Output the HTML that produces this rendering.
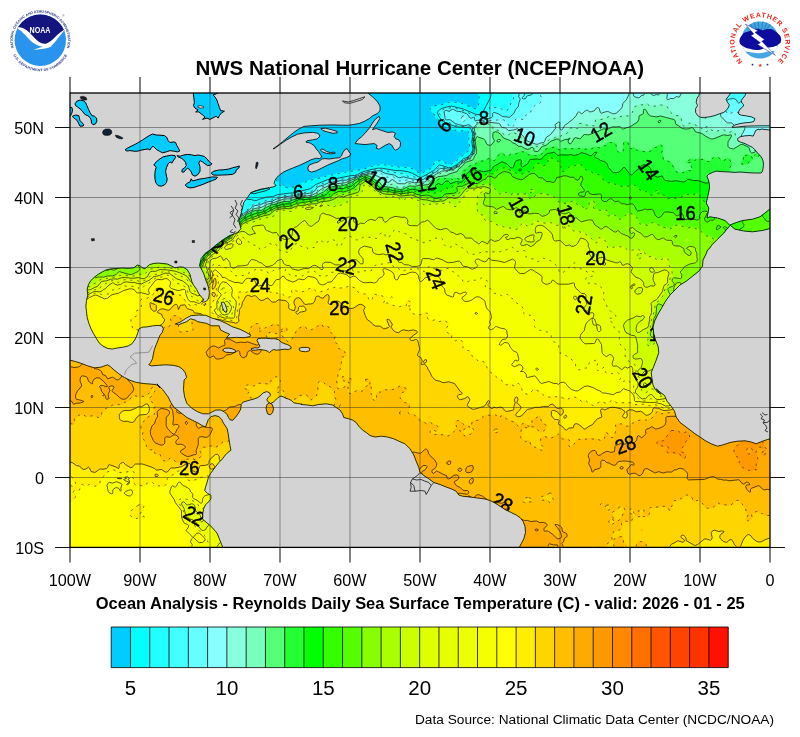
<!DOCTYPE html>
<html lang="en"><head><meta charset="utf-8"><title>NWS National Hurricane Center - Reynolds SST Analysis</title>
<style>html,body{margin:0;padding:0;background:#fff}body{width:800px;height:737px;overflow:hidden}svg{display:block}text{font-family:"Liberation Sans",sans-serif}</style>
</head><body>
<svg width="800" height="737" viewBox="0 0 800 737">
<rect width="800" height="737" fill="#fff"/>
<defs><clipPath id="mapclip"><rect x="70" y="93" width="700" height="454"/></clipPath></defs>
<g clip-path="url(#mapclip)">
<rect x="70" y="93" width="700" height="454" fill="#d3d3d3"/>
<defs><clipPath id="ocean"><path d="M743.8 231L752.5 231.8L762.5 230.5L770 228.5L775 229.2L775 206.8L771.2 208L765 213L760 216.8L752.5 219.2L742.5 220.5L735 223L730 225L735 229.2ZM377.2 101.4L380 106.1L380 110.8L377.2 113.6L372.5 115.9L369.7 118.3L365 121.1L359.4 123.4L353.8 124.5L348.1 125.2L342.5 125.2L331.2 124.9L320 125.2L310.6 125.8L304.1 126.4L299.4 128.6L293.8 132.4L288.1 137.1L282.5 141.8L277.8 145.5L273.1 148.9L275.4 147.8L280.6 144L286.2 140.2L291.9 136.9L297.5 134.2L305 132.8L312.5 132.4L318.1 133.3L320 136.1L317.2 138.9L312.5 139.9L306.9 140.8L305.9 142.1L310.6 143.2L314.4 145.9L316.2 148.9L318.5 151.5L320.4 154.5L321.9 156.8L319.6 158.6L316.2 158.2L310.6 159.9L305 162.8L299.4 165.4L293.8 167.6L288.1 169.9L283.4 172.1L279.7 174.8L276.9 177.4L275 180.4L274.1 183.4L276.1 185.6L273.5 186.8L269.4 187.7L264.1 188.6L260 189.4L260 189.5L251 192.5L247.5 197.5L243.8 202.5L241 213.8L238.8 221L241 228.8L237.5 232.5L228.8 236L222.5 240L216 245L210 250L205 253.5L201.2 258.5L199.5 265.5L201.9 270L203.8 273.8L205 277.5L206.2 281.2L207.8 285L208.8 288.8L209.4 292.5L209 296.2L208.1 299.4L206.2 301.2L203.8 302.2L201.9 301.5L204.1 299.7L201.2 296.9L198.4 293.1L196.6 289.4L193.8 285.6L191.9 281.9L190.9 278.1L190 274.4L187.2 269.7L183.4 267.2L179.7 266.9L175 267.8L171.2 265.9L167.5 264.1L162.8 263.5L158.1 263.1L153.4 263.5L149.7 264.6L146.9 266.9L145 268.8L142.2 267.8L140.3 265.9L137.5 265L133.8 267.8L128.1 268.4L122.5 268L116.9 268.4L111.2 268.8L106.6 269.7L102.8 271.6L98.1 274.4L94.4 277.2L90.6 280.9L88.4 284.7L87.2 289.4L87.8 295L86.5 300.6L85.9 306.2L86.5 311.9L87.2 317.5L88.8 323.1L91 328.8L93.4 333.4L96.2 338.1L99.1 342.8L102.8 346L107.5 348.4L112.2 349L117.8 347.9L123.4 347.1L128.1 346L131.9 343.8L134.7 340L136.6 336.2L137.9 332.5L139 328.8L142.2 327.2L146.9 326.9L152.5 325.9L158.1 325.4L161.9 325.9L163.4 328.8L162.2 332.5L160 335.3L158.1 340L156.2 344.7L154.4 349.4L153.4 354.1L152.5 358.8L150.6 362.5L148.8 364.8L151.6 365.9L158.1 365.3L165.6 364.8L173.1 365.3L178.8 366.6L182.5 369.1L185.3 372.8L186.6 377.5L184.1 380L183.5 389.4L184.6 396.9L186.9 403.4L191.6 408.1L197.2 411.5L202.8 413.8L208.4 413.8L212.2 411.9L215.9 410L220.6 410L224.4 411.9L227.2 414.7L228.5 417.5L230 419.8L232.8 420.3L235.6 417.1L238.4 413.4L240.7 409.1L241.2 404.4L243.1 402.1L249.5 400.2L254 399L257.8 397.5L260 396L263 393L266.8 391.5L269.8 393L270.5 395.2L268.2 397.5L266.8 399.8L268.2 402L270.5 403.5L273.5 402L275.8 399.8L278 397.5L281 396L283.2 396.8L285.5 398.2L288.5 399L291.5 400.5L293.8 402.8L297.5 403.5L302 404.2L301.2 404.5L307.5 405L312.5 405.8L318.8 404.5L326.2 403.8L332.5 405L336.2 407.5L340 410L342.5 413.8L343.8 417.5L348.8 418.8L352.5 420L356.2 422.5L358.8 426.2L362.5 430L366.2 432.5L370 435.5L375 437L381.2 436.2L387.5 437L393.8 438.8L398.8 441.2L405 443.8L410 448.8L413.8 455L416.2 461.2L418.8 467.5L420 472.5L423.8 475.5L428.8 478.8L433.8 482.5L440 484.5L446.2 487L451.2 488.8L456.2 491.2L458.8 495L462.5 496.2L470 497L477.5 498L485 499L490 500.5L495 503L500 506.2L505 509.5L511.2 512.5L516.2 515L520 517.5L523 521.2L525 526.2L525.5 532.5L523.8 538.8L521.2 543.8L519.5 547L519 550L519 567L790 567L775 437.5L767.5 439.5L762.5 441.2L756.2 443.8L751.2 442L745 440.8L737.5 441.2L730 442.5L722.5 445L717.5 446.2L711.2 443.8L705 440.5L700 437L695 433.8L690 430L685 426.2L680 422.5L676.2 417L674.5 411.2L671.2 406.2L667 401.2L664.5 395.5L661.2 393L656.2 388.8L660.8 394.3L660 393.8L655.5 390L653 385L652 378.8L651.2 372.5L653.8 366.2L656.2 360L658.8 352.5L658 346.2L655.5 340L653.8 333.8L653 327.5L654.5 321.2L657.5 315L661.2 308.8L665.5 301.2L670 295L675 290L680 285L686.2 281.2L692.5 276.2L698.8 271.2L702.5 266.2L703 260L706.2 253.8L707.5 250L708.8 249.2L712.5 244.2L717.5 239.2L723.8 233L726.2 230L730 225.5L728.8 224.2L725 220.5L717.5 218L710 216.8L707 218L708 213L708.8 208L706.2 203L708 195.5L709.5 188L709.4 185L709 182.4L708.1 179.2L706.9 176.1L708.8 174.2L712.5 172.4L716.2 171.1L720 171.5L725 171.8L730 172L735 172.4L740 172L745 172.4L750 172.8L755 173L761.2 173L762.5 171.1L763.1 168L763.5 164.2L763.1 161.1L761.9 158L760 155.5L757.5 153L755 149.9L752.5 147.4L748.8 145.5L745 143.6L741.2 142.4L738.1 141.1L737.5 138.6L740 136.8L745 135.8L750 135.5L753.1 136.1L754.4 133.6L755.6 130.5L758.1 129.2L760 129.9L761.2 129L765 129.5L770 130L792.5 130L792.3 125.8L770 125.8L755 125.9L745 126.2L738.8 126.9L732.5 127.5L731.9 127L735 124.9L740 123.6L745 122.8L750 122.4L753.8 121.5L755 118.6L751.2 116.8L746.2 115.9L741.2 115.2L738.8 114.2L738.5 111.8L740 109.2L742.5 107L743.8 104.9L741.9 103L741.2 100.5L743.1 98L745 95.5L746.9 90.5L790.8 90.5L790 73L367.8 73L367.8 92.1L367.8 93L372.5 96.8ZM326.6 153.4L322.8 152.1L320.4 150.2L321.5 148.9L323.8 149.6L326.6 151.5L330.3 152.6L334.1 152.1L335.4 153L331.2 153.9ZM224 311.2L222.5 307.5L221.2 302.5L223.8 302L225.5 305L227 309.5L226.2 312.5ZM182 323.4L178.5 324.8L175.3 323.9L179.9 322.3L186.2 318.1L191.1 315.6L198.8 315L205.8 315.3L212.1 318.1L219.1 320.2L226.8 323.7L231.7 326.5L240.1 329.3L245.7 332.1L250.9 335.2L249.9 336.6L244.3 337.7L236.6 337.4L226.1 338L229.6 334.2L224.7 332.1L220.5 330L219.1 325.8L211.4 325.8L206.5 323.4L197.4 321.6L195.3 320.2L190.4 318.8L186.9 321.6ZM260 349.5L255.5 350.2L251.8 350.2L251 348.8L254.8 347.7L257.8 348L260 346.5L258.5 343.5L257 340.5L257.8 338.7L261.5 338.2L266 338.2L270.5 338.7L275 338.7L278.8 339.8L281 342L284 343.5L287.8 344.7L290.8 346.5L291.2 348.3L288.5 349.5L284 349.2L280.2 349.8L276.5 350.2L273.5 349.5L271.2 351L269.3 352.8L267.5 351L264.5 350.2ZM305.8 351.8L301.2 351.3L299.3 350.2L299.3 348.3L302 347.4L307.2 347.4L309.8 348.3L309.5 350.7ZM229.2 352.5L225.5 352.2L222.5 350.2L224.8 348.3L228.5 348L232.2 348.8L235.2 350.2L235.7 351.8L233 352.8ZM696.2 102.4L696.9 98.6L698.8 95.5L700.6 90.5L730.6 90.5L730 94.2L728.1 96.8L726.2 99.2L727.5 102.4L729.4 104.9L728.1 108L726.2 110.5L723.8 112.4L720 113.6L715 115.5L710 116.8L705 117.4L700.6 117.4L697.5 115.5L695.6 112.4L695.6 108.6L697.5 105.5ZM327.5 132L322.8 130.5L320.9 128.6L325.6 128.2L331.2 129.6L336.9 131.4L337.2 132.9L333.1 133.3ZM369.7 144L365 144.6L359.4 144L355.2 143.6L357.5 139.9L361.2 137.1L365 133.3L369.7 127.7L372.5 123L375.3 119.2L379.1 116.4L380 118.3L377.2 123L374.4 126.8L372.5 129.6L376.2 128.6L381.9 130.5L387.5 132.4L393.1 132L395.4 133.3L394.1 136.5L395.9 138.9L398.8 139.9L400.6 142.7L400.2 146.4L397.8 149.2L395.4 150.2L393.5 148.3L392.2 145.5L389.4 143.6L385.6 145.1L381.9 147.4L379.1 149.2L376.2 148.3L377.2 145.5L374.4 143.6ZM316.2 170.8L311.6 172.1L308.4 170.8L307.8 168L309.1 165.2L313.4 163.3L318.1 162L321.9 159L324.7 158.6L329.4 159L335 158.1L339.7 157.7L341.6 155.8L342.5 153L345.3 149.2L347.2 148.7L349.1 152.1L350.9 153.9L350 155.8L346.2 157.7L342.5 158.6L338.8 160.5L333.1 162.8L327.5 165.2L321.9 168ZM224 551.2L222.6 547L219.8 540L217 533L210.7 526L202.3 519L202.8 518L202.8 513.1L203.8 508.4L205.6 504.7L208.4 501.9L210.9 499.1L210.9 495.3L207.5 493.4L204.7 490.6L205.6 486.9L207.1 482.2L208.4 477.5L210.3 473.8L213.1 470L215.9 466.2L218.8 462.5L222.5 458.8L225.3 455L228.1 452.2L230.9 450.3L230 445.6L229.1 440L228.1 433.4L227.2 428.8L225.3 425.9L223.4 423.1L221.6 419.4L218.8 416.6L215 415.6L211.2 416.6L208.4 419.4L206.6 424.1L205.6 426.9L202.8 425.9L198.1 423.1L192.5 420.3L186.9 417.5L182.2 413.8L177.5 410L173.8 407.2L170.9 402.5L168.1 396.9L162.5 389.4L156.9 383.8L160 388L158.1 385.9L156.2 384.6L150.6 384.1L143.1 383.5L135.6 382.2L130 380.3L124.4 377.5L118.8 373.8L114.1 370L110.3 366.6L107.5 364.8L100.9 367.2L94.4 367.8L87.8 365.9L81.2 363.4L75.6 361.6L70 360.2L69.1 360.1L50 360.1L50 567L224 567Z" clip-rule="evenodd"/></clipPath></defs>
<g clip-path="url(#ocean)">
<rect x="68" y="91" width="704" height="458" fill="#00CCFF"/>
<path d="M69.9 546.5L70.5 547.1L223.7 547.1L217.8 532.4L211.3 525.2L203.6 518.7L203.8 513.2L204.7 508.8L206.4 505.3L211.9 499.2L211.7 494.8L208.1 492.6L205.8 490.3L209.4 477.9L211.2 474.3L219.5 463.2L223.2 459.5L226.1 455.7L231.9 450.5L228.1 428.5L224.3 422.6L222.3 418.7L219 415.6L215 414.6L210.9 415.6L207.6 418.8L205 425.6L203.2 425L198.6 422.2L187.4 416.7L174.5 406.5L168.9 396.3L163.3 388.8L157.3 382.9L156.5 382.8L155.9 383.6L143.2 382.5L135.9 381.2L130.4 379.4L124.9 376.6L119.3 372.9L111 365.9L107.8 363.8L100.7 366.2L94.5 366.7L88.1 364.9L75.9 360.6L69.9 359.2ZM769.5 547.1L770.1 546.5L770.1 437.8L762.2 440.3L756.2 442.7L751.4 441L744.9 439.8L737.3 440.3L729.8 441.5L717.6 445.2L711.7 442.8L705.5 439.6L695.6 432.9L680.7 421.8L677.2 416.6L675.4 410.8L672 405.6L667.9 400.7L665.3 394.9L656.8 387.9L655.6 388L654 384.7L652.3 372.6L657.2 360.4L659.7 352.6L659 346L656.4 339.7L654.7 333.6L654 327.6L655.4 321.6L658.4 315.5L666.3 301.8L670.8 295.6L680.6 285.8L686.9 282L699.5 271.9L703.4 266.6L704 260.3L707.2 254.1L708.3 250.7L709.5 249.9L713.3 244.9L724.5 233.7L730.4 226.6L734.7 230.2L743.6 232L752.4 232.7L762.6 231.5L770.1 229.5L770.1 207.6L759.5 215.9L752.3 218.3L742.3 219.5L729.9 224L725.3 219.6L717.7 217L710.1 215.8L708.3 216.4L709.7 207.9L707.3 202.9L710.5 188.1L710 182.2L708 176.4L709.3 175.1L712.9 173.3L716.4 172.1L734.9 173.4L740 173L755 174L761.2 174L762 173.6L763.5 171.4L764.5 164.3L764.1 161L762.8 157.5L760.8 154.9L753 146.5L745.4 142.7L739 140.4L738.6 139L740.4 137.7L745.1 136.7L749.9 136.5L753.5 137L756.4 131.2L758.2 130.3L760.1 130.9L761.5 130L770.1 131L770.1 124.8L745 125.3L734.7 126.3L740.2 124.6L750.2 123.4L754.1 122.4L754.6 122L756 118.9L755.6 117.8L751.6 115.8L741.5 114.3L739.7 113.5L739.5 112L740.8 109.9L743.2 107.7L744.7 105.2L744.6 104.3L742.8 102.5L742.3 100.7L745.9 96L747 92.9L729.2 92.9L729.1 93.8L725.3 99L726.6 102.8L728.2 105L727.2 107.5L725.5 109.8L723.3 111.5L714.7 114.5L709.8 115.8L704.9 116.4L700.9 116.4L698.2 114.8L696.6 112.1L696.6 108.9L698.5 105.6L697.3 102.3L697.8 99L699.7 95.9L700.8 92.9L478.6 92.9L478 93.5L478.6 97.6L478.2 103.4L477 107.6L476.4 108.1L474.2 107.9L463.6 103.2L452.5 101.4L449.4 101.6L440.4 104.4L433.3 105.4L430.5 107.1L429.7 108.4L430 109.7L432 112.2L435.4 117.9L442.1 124.7L447.3 127.7L456.3 131.4L458.5 131.7L465.5 131.1L467.9 132.1L468.6 135.5L468.1 138.5L468.1 142.5L468.9 146L469 148.5L468 150.5L466.6 152L462.1 155.2L454 162L450.7 163.9L448.4 163.9L441.6 160.1L438.5 160L436.3 160.6L434.2 162.2L433.5 163.3L432.7 166.1L431.9 167L421.4 173L420 172.9L412.8 168.3L409.7 167.1L396.6 166.3L381.4 163.7L370.3 166.3L362 168.9L342.4 172.1L326.3 175.5L307.3 180.6L292.3 186.9L290.4 187.3L286.7 186.9L279.8 184.6L279.1 184.1L277.5 180.2L275.4 177.8L274.1 180L273.1 183.3L274.4 185.3L269.2 186.7L259.7 188.4L250.5 191.6L242.8 202.3L240 213.5L237.8 220.9L239.9 228.5L236.9 231.7L228.3 235.1L221.9 239.2L209.4 249.2L204.3 252.7L200.3 258.2L198.5 265.8L202.8 274.1L206.8 285.3L208.4 292.5L208 296.1L207.2 298.9L205.7 300.4L203.9 301.1L204.9 300.2L204.9 299.2L202 296.2L199.3 292.6L197.4 288.8L194.6 285.1L192.8 281.5L190.9 273.9L187.9 269L183.6 266.3L179.6 265.9L175.1 266.8L167.6 263.1L158.1 262.1L153.3 262.5L149.1 263.8L144.7 267.6L142.7 266.9L140.7 265L137.4 264L133.4 266.8L128.1 267.4L122.4 267L111.2 267.8L106.3 268.7L97.6 273.5L93.8 276.4L89.8 280.3L87.4 284.4L86.3 289.3L86.8 294.9L85.5 300.5L84.9 306.2L86.3 317.8L87.8 323.5L90.1 329.1L92.6 333.9L98.3 343.4L102.4 346.9L107.2 349.4L112.2 350L123.7 348.1L128.5 346.9L132.5 344.5L135.5 340.5L137.5 336.6L139.8 329.5L142.4 328.2L152.6 326.9L158.1 326.4L161.2 326.9L162.3 328.9L161.3 332L159.1 334.9L153.4 349.1L151.5 358.4L149.8 361.9L147.9 364.3L147.8 365.1L148.3 365.6L151.6 366.9L165.6 365.8L173 366.3L178.4 367.6L181.8 369.8L184.4 373.3L185.5 377.2L183.1 379.9L182.5 389.4L183.7 397.1L186 403.9L191 409L196.7 412.4L202.7 414.7L208.6 414.7L216.2 411L220.4 411L223.8 412.7L226.4 415.3L229.4 420.5L233 421.3L236.4 417.8L239.3 413.9L241.6 409.4L242.2 404.8L243.7 403L254.3 400L258.1 398.4L260.6 396.8L263.6 393.9L266.7 392.6L268.9 393.7L269.4 395L267.4 396.9L265.9 399.3L265.8 400L267.5 402.7L270.3 404.5L274 402.8L278.6 398.3L281.1 397.1L282.8 397.7L285.1 399.2L288.2 399.9L290.9 401.3L293.4 403.7L300.4 405L301.1 405.5L312.5 406.7L318.9 405.5L326.2 404.8L332.1 405.9L339.3 410.7L341.6 414.2L343.1 418.3L352.1 420.9L355.5 423.2L358 426.9L361.8 430.7L369.5 436.4L374.9 438L381.2 437.3L387.3 438L393.4 439.7L404.4 444.6L409.2 449.4L412.9 455.4L417.8 467.8L419.2 473.1L423.1 476.3L433.2 483.4L450.9 489.7L455.6 492L458.2 495.8L462.2 497.2L484.8 500L489.6 501.4L494.5 503.9L504.5 510.3L515.7 515.9L519.3 518.2L522.1 521.8L524 526.5L524.5 532.4L522.8 538.4L518.5 547.1ZM301.5 350.3L300.3 349.7L300.3 349L302.2 348.4L307.1 348.4L308.7 349L308.6 349.9L305.7 350.7ZM254.8 348.7L257.2 349L252.9 349.2ZM260.6 347.3L261 346.2L258.1 340.5L258.4 339.6L266 339.2L274.9 339.7L278.2 340.6L280.5 342.8L283.6 344.4L287.3 345.6L289.9 347.1L290 347.7L288.3 348.5L284 348.2L276.6 349.2L273.3 348.5L269.3 351.4L267.9 350.1L264.7 349.3L260.1 348.5L258.4 348.7ZM186.7 319L191.4 316.6L198.8 316L205.6 316.3L211.8 319.1L218.7 321.1L226.3 324.6L231.3 327.4L239.7 330.2L249.5 335.5L244.2 336.7L236.5 336.4L228.5 336.9L230.5 334.7L230.4 333.6L221.3 329.3L220 325.4L219.5 324.9L211.6 324.8L206.8 322.4L197.8 320.7L195.7 319.3L190.5 317.8L186.4 320.7L181.4 322.5ZM224.2 350.1L225.2 349.3L228.4 349L231.9 349.7L234.5 351.2L232.9 351.8L225.8 351.2ZM223.5 307.2L222.5 303.3L223.2 303.1L224.6 305.4L226 309.5L225.6 311L224.8 310.5Z" fill="#00FFFF" fill-rule="evenodd"/>
<path d="M69.9 546.6L70.5 547.1L223.7 547.1L217.8 532.4L211.3 525.2L203.6 518.7L203.8 513.2L204.7 508.8L206.4 505.3L211.9 499.2L211.7 494.8L208.1 492.6L205.8 490.3L209.4 477.9L211.2 474.3L219.5 463.2L223.2 459.5L226.1 455.7L231.9 450.5L228.1 428.5L224.3 422.6L222.3 418.7L219 415.6L215 414.6L210.9 415.6L207.6 418.8L205 425.6L203.2 425L198.6 422.2L187.4 416.7L174.5 406.5L168.9 396.3L163.3 388.8L157.3 382.9L156.5 382.8L155.9 383.6L143.2 382.5L135.9 381.2L130.4 379.4L124.9 376.6L119.3 372.9L111 365.9L107.8 363.8L100.7 366.2L94.5 366.7L88.1 364.9L75.9 360.6L69.9 359.2ZM769.5 547.1L770.1 546.5L770.1 437.8L762.2 440.3L756.2 442.7L751.4 441L744.9 439.8L737.3 440.3L729.8 441.5L717.6 445.2L711.7 442.8L705.5 439.6L695.6 432.9L680.7 421.8L677.2 416.6L675.4 410.8L672 405.6L667.9 400.7L665.3 394.9L656.8 387.9L655.6 388L654 384.7L652.3 372.6L657.2 360.4L659.7 352.6L659 346L656.4 339.7L654.7 333.6L654 327.6L655.4 321.6L658.4 315.5L666.3 301.8L670.8 295.6L680.6 285.8L686.9 282L699.5 271.9L703.4 266.6L704 260.3L707.2 254.1L708.3 250.7L709.5 249.9L713.3 244.9L724.5 233.7L730.4 226.6L734.7 230.2L743.6 232L752.4 232.7L762.6 231.5L770.1 229.5L770.1 207.6L759.5 215.9L752.3 218.3L742.3 219.5L729.9 224L725.3 219.6L717.7 217L710.1 215.8L708.3 216.4L709.7 207.9L707.3 202.9L710.5 188.1L710 182.2L708 176.4L709.3 175.1L712.9 173.3L716.4 172.1L734.9 173.4L740 173L755 174L761.2 174L762 173.6L763.5 171.4L764.5 164.3L764.1 161L762.8 157.5L760.8 154.9L753 146.5L745.4 142.7L739 140.4L738.6 139L740.4 137.7L745.1 136.7L749.9 136.5L753.5 137L756.4 131.2L758.2 130.3L760.1 130.9L761.5 130L770.1 131L770.1 124.8L745 125.3L734.7 126.3L740.2 124.6L750.2 123.4L754.1 122.4L754.6 122L756 118.9L755.6 117.8L751.6 115.8L741.5 114.3L739.7 113.5L739.5 112L740.8 109.9L743.2 107.7L744.7 105.2L744.6 104.3L742.8 102.5L742.3 100.7L745.9 96L747 92.9L729.2 92.9L729.1 93.8L725.3 99L726.6 102.8L728.2 105L727.2 107.5L725.5 109.8L723.3 111.5L714.7 114.5L709.8 115.8L704.9 116.4L700.9 116.4L698.2 114.8L696.6 112.1L696.6 108.9L698.5 105.6L697.3 102.3L697.8 99L699.7 95.9L700.8 92.9L491 92.9L490.6 93.4L490 97.2L482.7 111.2L481.1 113L479.3 114L477.6 114L474.7 113.3L463.7 108.5L451.6 105.6L447.4 106.2L442.3 107.7L439.2 109.2L437.4 111.2L437.1 113.6L439 117.8L441.1 120.1L445.2 123.3L456.4 127.4L460.5 127.9L467.4 128L469.3 128.5L470.7 129.8L471.9 133.6L472 136.5L471.2 141.5L472.3 149.4L471 152.5L469.1 155L466.3 157L463.2 158.3L456.5 164L451.8 166.9L448.6 167.2L441.7 164.8L439.3 164.6L437.1 165.9L435.1 168.7L433.5 170L422.2 176.3L420.5 176.8L412.7 172.8L407.6 171L401.5 170.1L395.6 169.9L382.6 167.7L378.4 167.5L367.3 169.8L360.3 172.1L357.3 174L354.4 174.9L350.4 175.1L337.4 177.7L327.3 179.1L315.2 184.1L310.3 188.2L297.4 191.3L294.4 192.3L290.4 192.4L277.4 194.1L272.4 196L266.3 196.4L262.3 197.9L259.3 198.5L256.4 200L254.6 200L251.6 199L247.7 198.7L246.9 198.3L246.9 196.7L242.8 202.2L240 213.5L237.8 220.8L239.9 228.5L236.9 231.7L228.3 235.1L221.9 239.2L209.4 249.2L204.3 252.7L200.3 258.2L198.5 265.8L202.8 274.1L206.8 285.3L208.4 292.5L208 296.1L207.2 298.9L205.7 300.4L203.9 301.1L204.9 300.2L204.9 299.2L202 296.2L199.3 292.6L197.4 288.8L194.6 285.1L192.8 281.5L190.9 273.9L187.9 269L183.6 266.3L179.6 265.9L175.1 266.8L167.6 263.1L158.1 262.1L153.3 262.5L149.1 263.8L144.7 267.6L142.7 266.9L140.7 265L137.4 264L133.4 266.8L128.1 267.4L122.4 267L111.2 267.8L106.3 268.7L97.6 273.5L93.8 276.4L89.8 280.3L87.4 284.4L86.3 289.3L86.8 294.9L85.5 300.5L84.9 306.2L86.3 317.8L87.8 323.5L90.1 329.1L92.6 333.9L98.3 343.4L102.4 346.9L107.2 349.4L112.2 350L123.7 348.1L128.5 346.9L132.5 344.5L135.5 340.5L137.5 336.6L139.8 329.5L142.4 328.2L152.6 326.9L158.1 326.4L161.2 326.9L162.3 328.9L161.3 332L159.1 334.9L153.4 349.1L151.5 358.4L149.8 361.9L147.9 364.3L147.8 365.1L148.3 365.6L151.6 366.9L165.6 365.8L173 366.3L178.4 367.6L181.8 369.8L184.4 373.3L185.5 377.2L183.1 379.9L182.5 389.4L183.7 397.1L186 403.9L191 409L196.7 412.4L202.7 414.7L208.6 414.7L216.2 411L220.4 411L223.8 412.7L226.4 415.3L229.4 420.5L233 421.3L236.4 417.8L239.3 413.9L241.6 409.4L242.2 404.8L243.7 403L254.3 400L258.1 398.4L260.6 396.8L263.6 393.9L266.7 392.6L268.9 393.7L269.4 395L267.4 396.9L265.9 399.3L265.8 400L267.5 402.7L270.3 404.5L274 402.8L278.6 398.3L281.1 397.1L282.8 397.7L285.1 399.2L288.2 399.9L290.9 401.3L293.4 403.7L300.4 405L301.1 405.5L312.5 406.7L318.9 405.5L326.2 404.8L332.1 405.9L339.3 410.7L341.6 414.2L343.1 418.3L352.1 420.9L355.5 423.2L358 426.9L361.8 430.7L369.5 436.4L374.9 438L381.2 437.3L387.3 438L393.4 439.7L404.4 444.6L409.2 449.4L412.9 455.4L417.8 467.8L419.2 473.1L423.1 476.3L433.2 483.4L450.9 489.7L455.6 492L458.2 495.8L462.2 497.2L484.8 500L489.6 501.4L494.5 503.9L504.5 510.3L515.7 515.9L519.3 518.2L522.1 521.8L524 526.5L524.5 532.4L522.8 538.4L518.5 547.1ZM301.5 350.3L300.3 349.7L300.3 349L302.2 348.4L307.1 348.4L308.7 349L308.6 349.9L305.7 350.7ZM254.8 348.7L257.2 349L252.9 349.2ZM260.6 347.3L261 346.2L258.1 340.5L258.4 339.6L266 339.2L274.9 339.7L278.2 340.6L280.5 342.8L283.6 344.4L287.3 345.6L289.9 347.1L290 347.7L288.3 348.5L284 348.2L276.6 349.2L273.3 348.5L269.3 351.4L267.9 350.1L264.7 349.3L260.1 348.5L258.4 348.7ZM186.7 319L191.4 316.6L198.8 316L205.6 316.3L211.8 319.1L218.7 321.1L226.3 324.6L231.3 327.4L239.7 330.2L249.5 335.5L244.2 336.7L236.5 336.4L228.5 336.9L230.5 334.7L230.4 333.6L221.3 329.3L220 325.4L219.5 324.9L211.6 324.8L206.8 322.4L197.8 320.7L195.7 319.3L190.5 317.8L186.4 320.7L181.4 322.5ZM224.2 350.1L225.2 349.3L228.4 349L231.9 349.7L234.5 351.2L232.9 351.8L225.8 351.2ZM223.5 307.2L222.5 303.3L223.2 303.1L224.6 305.4L226 309.5L225.6 311L224.8 310.5Z" fill="#22FFFF" fill-rule="evenodd"/>
<path d="M69.9 546.5L70.5 547.1L223.7 547.1L217.8 532.4L211.3 525.2L203.6 518.7L203.8 513.2L204.7 508.8L206.4 505.3L211.9 499.2L211.7 494.8L208.1 492.6L205.8 490.3L209.4 477.9L211.2 474.3L219.5 463.2L223.2 459.5L226.1 455.7L231.9 450.5L228.1 428.5L224.3 422.6L222.3 418.7L219 415.6L215 414.6L210.9 415.6L207.6 418.8L205 425.6L203.2 425L198.6 422.2L187.4 416.7L174.5 406.5L168.9 396.3L163.3 388.8L157.3 382.9L156.5 382.8L155.9 383.6L143.2 382.5L135.9 381.2L130.4 379.4L124.9 376.6L119.3 372.9L111 365.9L107.8 363.8L100.7 366.2L94.5 366.7L88.1 364.9L75.9 360.6L69.9 359.2ZM769.5 547.1L770.1 546.5L770.1 437.8L762.2 440.3L756.2 442.7L751.4 441L744.9 439.8L737.3 440.3L729.8 441.5L717.6 445.2L711.7 442.8L705.5 439.6L695.6 432.9L680.7 421.8L677.2 416.6L675.4 410.8L672 405.6L667.9 400.7L665.3 394.9L656.8 387.9L655.6 388L654 384.7L652.3 372.6L657.2 360.4L659.7 352.6L659 346L656.4 339.7L654.7 333.6L654 327.6L655.4 321.6L658.4 315.5L666.3 301.8L670.8 295.6L680.6 285.8L686.9 282L699.5 271.9L703.4 266.6L704 260.3L707.2 254.1L708.3 250.7L709.5 249.9L713.3 244.9L724.5 233.7L730.4 226.6L734.7 230.2L743.6 232L752.4 232.7L762.6 231.5L770.1 229.5L770.1 207.6L759.5 215.9L752.3 218.3L742.3 219.5L729.9 224L725.3 219.6L717.7 217L710.1 215.8L708.3 216.4L709.7 207.9L707.3 202.9L710.5 188.1L710 182.2L708 176.4L709.3 175.1L712.9 173.3L716.4 172.1L734.9 173.4L740 173L755 174L761.2 174L762 173.6L763.5 171.4L764.5 164.3L764.1 161L762.8 157.5L760.8 154.9L753 146.5L745.4 142.7L739 140.4L738.6 139L740.4 137.7L745.1 136.7L749.9 136.5L753.5 137L756.4 131.2L758.2 130.3L760.1 130.9L761.5 130L770.1 131L770.1 124.8L745 125.3L734.7 126.3L740.2 124.6L750.2 123.4L754.1 122.4L754.6 122L756 118.9L755.6 117.8L751.6 115.8L741.5 114.3L739.7 113.5L739.5 112L740.8 109.9L743.2 107.7L744.7 105.2L744.6 104.3L742.8 102.5L742.3 100.7L745.9 96L747 92.9L729.2 92.9L729.1 93.8L725.3 99L726.6 102.8L728.2 105L727.2 107.5L725.5 109.8L723.3 111.5L714.7 114.5L709.8 115.8L704.9 116.4L700.9 116.4L698.2 114.8L696.6 112.1L696.6 108.9L698.5 105.6L697.3 102.3L697.8 99L699.7 95.9L700.8 92.9L511.9 92.9L511.3 93.6L513 97.7L513.1 99.3L510.6 102.2L509 107.3L508.1 108.8L506.3 110L504.5 110.2L502.9 109.5L500.9 107.4L499.7 106.8L497.5 106.6L493.5 107.1L490.3 106.2L488.9 107.3L489.5 110.4L487.2 114.1L484.3 115.6L480.4 116.9L478.7 116.7L475.7 114.8L470.8 113.5L466.1 110.9L453.7 107.1L451.4 106.9L444.4 108.2L442.4 109L440.1 111.1L439.2 112.2L438.9 113.5L441.2 117.8L444.1 121.2L446.3 122.5L456.1 126.1L463.4 127.2L468.4 127.2L470.2 127.8L471.1 128.8L472.2 131.7L472.7 134.5L471.9 141.5L473 149.4L472 152.1L469.1 155.9L463.1 159.3L457.1 164.4L452.3 167.4L449.5 168.2L441.6 166.4L439.3 166.6L438.1 167.3L435.7 170.1L434.4 171L421.4 178.2L419.7 178.1L413.6 176.1L410.5 176.3L408.7 176L402.6 172.9L396.6 172.4L389.6 170.7L385.6 170.6L380.8 168.9L378.4 168.7L367.3 170.8L361.3 172.8L354.3 176L346.4 178.1L341.4 178.3L338.4 179.2L328.3 180.4L317.2 185.2L314.9 187.1L312.5 190L311.3 190.7L298.4 192.8L293.4 194.1L290.4 194.2L283.4 195.1L275.3 197.3L271.4 199.2L266.4 199.8L258.3 202.9L253.2 204.1L251.1 205.4L248.1 208.4L243.1 212.3L241.5 213L240.2 212.7L237.8 221L239.9 228.5L236.9 231.7L228.3 235.1L221.9 239.2L209.4 249.2L204.3 252.7L200.3 258.1L198.5 265.8L202.8 274.1L206.8 285.3L208.4 292.5L208 296.1L207.2 298.9L205.7 300.4L203.9 301.1L204.9 300.2L204.9 299.2L202 296.2L199.3 292.6L197.4 288.8L194.6 285.1L192.8 281.5L190.9 273.9L187.9 269L183.6 266.3L179.6 265.9L175.1 266.8L167.6 263.1L158.1 262.1L153.3 262.5L149.1 263.8L144.7 267.6L142.7 266.9L140.7 265L137.4 264L133.4 266.8L128.1 267.4L122.4 267L111.2 267.8L106.3 268.7L97.6 273.5L93.8 276.4L89.8 280.3L87.4 284.4L86.3 289.3L86.8 294.9L85.5 300.5L84.9 306.2L86.3 317.8L87.8 323.5L90.1 329.1L92.6 333.9L98.3 343.4L102.4 346.9L107.2 349.4L112.2 350L123.7 348.1L128.5 346.9L132.5 344.5L135.5 340.5L137.5 336.6L139.8 329.5L142.4 328.2L152.6 326.9L158.1 326.4L161.2 326.9L162.3 328.9L161.3 332L159.1 334.9L153.4 349.1L151.5 358.4L149.8 361.9L147.9 364.3L147.8 365.1L148.3 365.6L151.6 366.9L165.6 365.8L173 366.3L178.4 367.6L181.8 369.8L184.4 373.3L185.5 377.2L183.1 379.9L182.5 389.4L183.7 397.1L186 403.9L191 409L196.7 412.4L202.7 414.7L208.6 414.7L216.2 411L220.4 411L223.8 412.7L226.4 415.3L229.4 420.5L233 421.3L236.4 417.8L239.3 413.9L241.6 409.4L242.2 404.8L243.7 403L254.3 400L258.1 398.4L260.6 396.8L263.6 393.9L266.7 392.6L268.9 393.7L269.4 395L267.4 396.9L265.9 399.3L265.8 400L267.5 402.7L270.3 404.5L274 402.8L278.6 398.3L281.1 397.1L282.8 397.7L285.1 399.2L288.2 399.9L290.9 401.3L293.4 403.7L300.4 405L301.1 405.5L312.5 406.7L318.9 405.5L326.2 404.8L332.1 405.9L339.3 410.7L341.6 414.2L343.1 418.3L352.1 420.9L355.5 423.2L358 426.9L361.8 430.7L369.5 436.4L374.9 438L381.2 437.3L387.3 438L393.4 439.7L404.4 444.6L409.2 449.4L412.9 455.4L417.8 467.8L419.2 473.1L423.1 476.3L433.2 483.4L450.9 489.7L455.6 492L458.2 495.8L462.2 497.2L484.8 500L489.6 501.4L494.5 503.9L504.5 510.3L515.7 515.9L519.3 518.2L522.1 521.8L524 526.5L524.5 532.4L522.8 538.4L518.5 547.1ZM301.5 350.3L300.3 349.7L300.3 349L302.2 348.4L307.1 348.4L308.7 349L308.6 349.9L305.7 350.7ZM254.8 348.7L257.2 349L252.9 349.2ZM260.6 347.3L261 346.2L258.1 340.5L258.4 339.6L266 339.2L274.9 339.7L278.2 340.6L280.5 342.8L283.6 344.4L287.3 345.6L289.9 347.1L290 347.7L288.3 348.5L284 348.2L276.6 349.2L273.3 348.5L269.3 351.4L267.9 350.1L264.7 349.3L260.1 348.5L258.4 348.7ZM186.7 319L191.4 316.6L198.8 316L205.6 316.3L211.8 319.1L218.7 321.1L226.3 324.6L231.3 327.4L239.7 330.2L249.5 335.5L244.2 336.7L236.5 336.4L228.5 336.9L230.5 334.7L230.4 333.6L221.3 329.3L220 325.4L219.5 324.9L211.6 324.8L206.8 322.4L197.8 320.7L195.7 319.3L190.5 317.8L186.4 320.7L181.4 322.5ZM224.2 350.1L225.2 349.3L228.4 349L231.9 349.7L234.5 351.2L232.9 351.8L225.8 351.2ZM223.5 307.2L222.5 303.3L223.2 303.1L224.6 305.4L226 309.5L225.6 311L224.8 310.5Z" fill="#44FFFF" fill-rule="evenodd"/>
<path d="M69.9 546.5L70.5 547.1L223.7 547.1L217.8 532.4L211.3 525.2L203.6 518.7L203.8 513.2L204.7 508.8L206.4 505.3L211.9 499.2L211.7 494.8L208.1 492.6L205.8 490.3L209.4 477.9L211.2 474.3L219.5 463.2L223.2 459.5L226.1 455.7L231.9 450.5L228.1 428.5L224.3 422.6L222.3 418.7L219 415.6L215 414.6L210.9 415.6L207.6 418.8L205 425.6L203.2 425L198.6 422.2L187.4 416.7L174.5 406.5L168.9 396.3L163.3 388.8L157.3 382.9L156.5 382.8L155.9 383.6L143.2 382.5L135.9 381.2L130.4 379.4L124.9 376.6L119.3 372.9L111 365.9L107.8 363.8L100.7 366.2L94.5 366.7L88.1 364.9L75.9 360.6L69.9 359.2ZM769.5 547.1L770.1 546.5L770.1 437.8L762.2 440.3L756.2 442.7L751.4 441L744.9 439.8L737.3 440.3L729.8 441.5L717.6 445.2L711.7 442.8L705.5 439.6L695.6 432.9L680.7 421.8L677.2 416.6L675.4 410.8L672 405.6L667.9 400.7L665.3 394.9L656.8 387.9L655.6 388L654 384.7L652.3 372.6L657.2 360.4L659.7 352.6L659 346L656.4 339.7L654.7 333.6L654 327.6L655.4 321.6L658.4 315.5L666.3 301.8L670.8 295.6L680.6 285.8L686.9 282L699.5 271.9L703.4 266.6L704 260.3L707.2 254.1L708.3 250.7L709.5 249.9L713.3 244.9L724.5 233.7L730.4 226.6L734.7 230.2L743.6 232L752.4 232.7L762.6 231.5L770.1 229.5L770.1 207.6L759.5 215.9L752.3 218.3L742.3 219.5L729.9 224L725.3 219.6L717.7 217L710.1 215.8L708.3 216.4L709.7 207.9L707.3 202.9L710.5 188.1L710 182.2L708 176.4L709.3 175.1L712.9 173.3L716.4 172.1L734.9 173.4L740 173L755 174L761.2 174L762 173.6L763.5 171.4L764.5 164.3L764.1 161L762.8 157.5L760.8 154.9L753 146.5L745.4 142.7L739 140.4L738.6 139L740.4 137.7L745.1 136.7L749.9 136.5L753.5 137L756.4 131.2L758.2 130.3L760.1 130.9L761.5 130L770.1 131L770.1 124.8L745 125.3L734.7 126.3L740.2 124.6L750.2 123.4L754.1 122.4L754.6 122L756 118.9L755.6 117.8L751.6 115.8L741.5 114.3L739.7 113.5L739.5 112L740.8 109.9L743.3 107.6L744.7 105.1L744.5 104.2L742.8 102.5L742.3 100.7L743.3 99.4L741.2 100.3L739.5 102.1L738.7 102.5L736.9 99.4L733.6 97.8L729.3 98.4L726.5 99.8L725.3 99.1L726.6 102.8L728.2 105L727.2 107.5L725.5 109.8L723.3 111.5L714.7 114.5L709.8 115.8L704.9 116.4L700.9 116.4L698.2 114.8L696.6 112.1L696.6 108.9L698.5 105.6L697.3 102.3L697.8 99L699.7 95.9L700.8 92.9L532.5 92.9L531.2 94.3L527.2 95.3L526.1 96.2L525.2 98L523.6 98.4L523 98.1L523 97.7L524.8 95.8L525.2 94.5L525 93.1L519.2 92.9L518.7 93.3L518 96.5L519.5 99.5L518.1 103.4L517.8 106.3L515.1 109.2L513.3 113.1L509.3 116.7L502.7 115.9L498.7 113.3L494.4 111.9L493.2 112.1L492.2 113.2L491.9 114.5L492.1 116.2L491.3 117L483.4 119.6L477.5 119.7L475.6 120.2L475.2 119.5L475.2 117.4L474.8 116.9L473.4 116.7L471.5 117.6L470.7 117.4L469.9 117L468.1 114.1L466.8 113.2L461.7 111.3L456.7 110.5L453.5 108.9L451.4 109L449.6 110L449.2 110.8L447.6 109.9L445.3 109.8L444.1 110.5L443.5 111.5L444.5 118.6L445.2 120L446.5 120.5L449.4 120.3L450.2 120.6L455.1 124L458.4 125.1L463.5 126.2L465.6 126.1L467.6 125.5L469.3 125.6L470.2 126.1L471.5 127.8L473.2 133.6L473.2 136.4L472.4 141.5L473.4 149.4L472 153.1L469.1 156.6L463.3 160L457.3 165L452.3 168L449.5 168.7L442.6 167.8L440.3 168L439.1 168.5L435.2 171.7L427.3 176L422.3 179.3L420.6 179.4L414.6 178.7L408.6 177.7L403.6 176.2L399.5 177.2L394.7 174.5L385.6 172.9L379.6 170.1L368.4 171.4L361.3 173.5L356.2 175.9L346.4 179.5L341.5 179.7L337.4 180.8L329.3 181.7L324.3 184.1L318.2 186.1L316.8 187.1L314.1 190.8L311.4 192.2L306.4 193.1L299.4 193.6L293.4 195.2L283.4 196.3L276.3 198.5L272.3 200.4L266.3 201.4L260.3 204L255.4 204.8L253.2 205.6L249.4 209L246.1 211L243.2 213.4L241.4 214.1L239.9 214L237.8 221L239.9 228.5L236.9 231.7L228.3 235.1L221.9 239.2L209.4 249.2L204.3 252.7L200.3 258.1L198.5 265.8L202.8 274.1L206.8 285.3L208.4 292.5L208 296.1L207.2 298.9L205.7 300.4L203.9 301.1L204.9 300.2L204.9 299.2L202 296.2L199.3 292.6L197.4 288.8L194.6 285.1L192.8 281.5L190.9 273.9L187.9 269L183.6 266.3L179.6 265.9L175.1 266.8L167.6 263.1L158.1 262.1L153.3 262.5L149.1 263.8L144.7 267.6L142.7 266.9L140.7 265L137.4 264L133.4 266.8L128.1 267.4L122.4 267L111.2 267.8L106.3 268.7L97.6 273.5L93.8 276.4L89.8 280.3L87.4 284.4L86.3 289.3L86.8 294.9L85.5 300.5L84.9 306.2L86.3 317.8L87.8 323.5L90.1 329.1L92.6 333.9L98.3 343.4L102.4 346.9L107.2 349.4L112.2 350L123.7 348.1L128.5 346.9L132.5 344.5L135.5 340.5L137.5 336.6L139.8 329.5L142.4 328.2L152.6 326.9L158.1 326.4L161.2 326.9L162.3 328.9L161.3 332L159.1 334.9L153.4 349.1L151.5 358.4L149.8 361.9L147.9 364.3L147.8 365.1L148.3 365.6L151.6 366.9L165.6 365.8L173 366.3L178.4 367.6L181.8 369.8L184.4 373.3L185.5 377.2L183.1 379.9L182.5 389.4L183.7 397.1L186 403.9L191 409L196.7 412.4L202.7 414.7L208.6 414.7L216.2 411L220.4 411L223.8 412.7L226.4 415.3L229.4 420.5L233 421.3L236.4 417.8L239.3 413.9L241.6 409.4L242.2 404.8L243.7 403L254.3 400L258.1 398.4L260.6 396.8L263.6 393.9L266.7 392.6L268.9 393.7L269.4 395L267.4 396.9L265.9 399.3L265.8 400L267.5 402.7L270.3 404.5L274 402.8L278.6 398.3L281.1 397.1L282.8 397.7L285.1 399.2L288.2 399.9L290.9 401.3L293.4 403.7L300.4 405L301.1 405.5L312.5 406.7L318.9 405.5L326.2 404.8L332.1 405.9L339.3 410.7L341.6 414.2L343.1 418.3L352.1 420.9L355.5 423.2L358 426.9L361.8 430.7L369.5 436.4L374.9 438L381.2 437.3L387.3 438L393.4 439.7L404.4 444.6L409.2 449.4L412.9 455.4L417.8 467.8L419.2 473.1L423.1 476.3L433.2 483.4L450.9 489.7L455.6 492L458.2 495.8L462.2 497.2L484.8 500L489.6 501.4L494.5 503.9L504.5 510.3L515.7 515.9L519.3 518.2L522.1 521.8L524 526.5L524.5 532.4L522.8 538.4L518.5 547.1ZM301.5 350.3L300.3 349.7L300.3 349L302.2 348.4L307.1 348.4L308.7 349L308.6 349.9L305.7 350.7ZM254.8 348.7L257.2 349L252.9 349.2ZM260.6 347.3L261 346.2L258.1 340.5L258.4 339.6L266 339.2L274.9 339.7L278.2 340.6L280.5 342.8L283.6 344.4L287.3 345.6L289.9 347.1L290 347.7L288.3 348.5L284 348.2L276.6 349.2L273.3 348.5L269.3 351.4L267.9 350.1L264.7 349.3L260.1 348.5L258.4 348.7ZM186.7 319L191.4 316.6L198.8 316L205.6 316.3L211.8 319.1L218.7 321.1L226.3 324.6L231.3 327.4L239.7 330.2L249.5 335.5L244.2 336.7L236.5 336.4L228.5 336.9L230.5 334.7L230.4 333.6L221.3 329.3L220 325.4L219.5 324.9L211.6 324.8L206.8 322.4L197.8 320.7L195.7 319.3L190.5 317.8L186.4 320.7L181.4 322.5ZM224.2 350.1L225.2 349.3L228.4 349L231.9 349.7L234.5 351.2L232.9 351.8L225.8 351.2ZM223.5 307.2L222.5 303.3L223.2 303.1L224.6 305.4L226 309.5L225.6 311L224.8 310.5Z" fill="#66FFFF" fill-rule="evenodd"/>
<path d="M69.9 546.6L70.5 547.1L223.7 547.1L217.8 532.4L211.3 525.2L203.6 518.7L203.8 513.2L204.7 508.8L206.4 505.3L211.9 499.2L211.7 494.8L208.1 492.6L205.8 490.3L209.4 477.9L211.2 474.3L219.5 463.2L223.2 459.5L226.1 455.7L231.9 450.5L228.1 428.5L224.3 422.6L222.3 418.7L219 415.6L215 414.6L210.9 415.6L207.6 418.8L205 425.6L203.2 425L198.6 422.2L187.4 416.7L174.5 406.5L168.9 396.3L163.3 388.8L157.3 382.9L156.5 382.8L155.9 383.6L143.2 382.5L135.9 381.2L130.4 379.4L124.9 376.6L119.3 372.9L111 365.9L107.8 363.8L100.7 366.2L94.5 366.7L88.1 364.9L75.9 360.6L69.9 359.2ZM769.5 547.1L770.1 546.5L770.1 437.8L762.2 440.3L756.2 442.7L751.4 441L744.9 439.8L737.3 440.3L729.8 441.5L717.6 445.2L711.7 442.8L705.5 439.6L695.6 432.9L680.7 421.8L677.2 416.6L675.4 410.8L672 405.6L667.9 400.7L665.3 394.9L656.8 387.9L655.6 388L654 384.7L652.3 372.6L657.2 360.4L659.7 352.6L659 346L656.4 339.7L654.7 333.6L654 327.6L655.4 321.6L658.4 315.5L666.3 301.8L670.8 295.6L680.6 285.8L686.9 282L699.5 271.9L703.4 266.6L704 260.3L707.2 254.1L708.3 250.7L709.5 249.9L713.3 244.9L724.5 233.7L730.4 226.6L734.7 230.2L743.6 232L752.4 232.7L762.6 231.5L770.1 229.5L770.1 207.6L759.5 215.9L752.3 218.3L742.3 219.5L729.9 224L725.3 219.6L717.7 217L710.1 215.8L708.3 216.4L709.7 207.9L707.3 202.9L710.5 188.1L710 182.2L708 176.4L709.3 175.1L712.9 173.3L716.4 172.1L734.9 173.4L740 173L755 174L761.2 174L762 173.6L763.5 171.4L764.5 164.3L764.1 161L762.8 157.5L760.8 154.9L753 146.5L745.4 142.7L739 140.4L738.6 139L740.4 137.7L745.1 136.7L749.9 136.5L753.5 137L756.4 131.2L758.2 130.3L760.1 130.9L761.5 130L770.1 131L770.1 124.8L745 125.3L734.7 126.3L740.2 124.6L750.2 123.4L754.1 122.4L754.6 122L755.9 119L755.6 117.8L751.6 115.8L741.5 114.3L739.7 113.5L739.5 112L740.8 109.9L742.1 108.7L738.4 112L735.5 111.6L732.4 111.9L728.5 113.7L727.9 113.5L727.1 112.2L726 109.2L723.3 111.5L714.7 114.5L709.8 115.8L704.9 116.4L700.9 116.4L698.2 114.8L696.6 112.1L696.6 108.9L698.5 105.6L697.3 102.3L697.8 99L699.7 95.9L700.8 92.9L539.3 92.9L538.9 93.4L539.2 94.7L540.9 97.6L540.7 100.4L540 102.2L539.1 103L535.1 104.6L532.1 107.4L530.8 109.3L530 112.6L529.4 113.1L527.3 113.4L526 114.1L525.2 115.3L524.6 118.2L524.2 118.6L516.5 118.2L515.1 118.7L514.5 122.3L512.2 126.2L511.4 126.6L509.8 126.2L506.9 121.4L505.4 120L503.5 119.4L498.4 119.2L494.4 119.9L488.4 120.1L484.4 120.9L479.4 121L477.3 121.6L476.1 122.4L473.2 125.1L472.5 126.5L473.8 134.5L472.9 141.5L473.9 149.5L473 152.2L471 155.5L469.6 157L464.2 160L458.2 165.1L452.3 168.5L449.5 169.2L442.4 169.1L440.3 169.5L436.2 172.3L428.2 176.7L424.2 179.9L421.5 180.6L414.6 180.5L408.5 179.3L406.4 179.4L403.4 180.4L399.6 180.3L397.8 179.6L394.9 177L393.7 176.4L391.5 176.1L386.7 176.6L381.8 173.2L379.7 172.1L368.4 172.3L362.3 173.8L345.3 180.9L330.3 183.1L320.5 187L315.1 191.6L312.3 193.2L306.5 194.6L299.4 194.5L289.4 197L283.4 197.4L273.3 201.2L266.3 202.8L260.3 205.6L254.3 206.6L249.6 210L246.1 211.8L243.2 214.2L241.4 215L239.5 215.1L237.8 221L239.9 228.5L236.9 231.7L228.3 235.1L221.9 239.2L209.4 249.2L204.3 252.7L200.3 258.2L198.5 265.8L202.8 274.1L206.8 285.3L208.4 292.5L208 296.1L207.2 298.9L205.7 300.4L203.9 301.1L204.9 300.2L204.9 299.2L202 296.2L199.3 292.6L197.4 288.8L194.6 285.1L192.8 281.5L190.9 273.9L187.9 269L183.6 266.3L179.6 265.9L175.1 266.8L167.6 263.1L158.1 262.1L153.3 262.5L149.1 263.8L144.7 267.6L142.7 266.9L140.7 265L137.4 264L133.4 266.8L128.1 267.4L122.4 267L111.2 267.8L106.3 268.7L97.6 273.5L93.8 276.4L89.8 280.3L87.4 284.4L86.3 289.3L86.8 294.9L85.5 300.5L84.9 306.2L86.3 317.8L87.8 323.5L90.1 329.1L92.6 333.9L98.3 343.4L102.4 346.9L107.2 349.4L112.2 350L123.7 348.1L128.5 346.9L132.5 344.5L135.5 340.5L137.5 336.6L139.8 329.5L142.4 328.2L152.6 326.9L158.1 326.4L161.2 326.9L162.3 328.9L161.3 332L159.1 334.9L153.4 349.1L151.5 358.4L149.8 361.9L147.9 364.3L147.8 365.1L148.3 365.6L151.6 366.9L165.6 365.8L173 366.3L178.4 367.6L181.8 369.8L184.4 373.3L185.5 377.2L183.1 379.9L182.5 389.4L183.7 397.1L186 403.9L191 409L196.7 412.4L202.7 414.7L208.6 414.7L216.2 411L220.4 411L223.8 412.7L226.4 415.3L229.4 420.5L233 421.3L236.4 417.8L239.3 413.9L241.6 409.4L242.2 404.8L243.7 403L254.3 400L258.1 398.4L260.6 396.8L263.6 393.9L266.7 392.6L268.9 393.7L269.4 395L267.4 396.9L265.9 399.3L265.8 400L267.5 402.7L270.3 404.5L274 402.8L278.6 398.3L281.1 397.1L282.8 397.7L285.1 399.2L288.2 399.9L290.9 401.3L293.4 403.7L300.4 405L301.1 405.5L312.5 406.7L318.9 405.5L326.2 404.8L332.1 405.9L339.3 410.7L341.6 414.2L343.1 418.3L352.1 420.9L355.5 423.2L358 426.9L361.8 430.7L369.5 436.4L374.9 438L381.2 437.3L387.3 438L393.4 439.7L404.4 444.6L409.2 449.4L412.9 455.4L417.8 467.8L419.2 473.1L423.1 476.3L433.2 483.4L450.9 489.7L455.6 492L458.2 495.8L462.2 497.2L484.8 500L489.6 501.4L494.5 503.9L504.5 510.3L515.7 515.9L519.3 518.2L522.1 521.8L524 526.5L524.5 532.4L522.8 538.4L518.5 547.1ZM301.5 350.3L300.3 349.7L300.3 349L302.2 348.4L307.1 348.4L308.7 349L308.6 349.9L305.7 350.7ZM254.8 348.7L257.2 349L252.9 349.2ZM260.6 347.3L261 346.2L258.1 340.5L258.4 339.6L266 339.2L274.9 339.7L278.2 340.6L280.5 342.8L283.6 344.4L287.3 345.6L289.9 347.1L290 347.7L288.3 348.5L284 348.2L276.6 349.2L273.3 348.5L269.3 351.4L267.9 350.1L264.7 349.3L260.1 348.5L258.4 348.7ZM186.7 319L191.4 316.6L198.8 316L205.6 316.3L211.8 319.1L218.7 321.1L226.3 324.6L231.3 327.4L239.7 330.2L249.5 335.5L244.2 336.7L236.5 336.4L228.5 336.9L230.5 334.7L230.4 333.6L221.3 329.3L220 325.4L219.5 324.9L211.6 324.8L206.8 322.4L197.8 320.7L195.7 319.3L190.5 317.8L186.4 320.7L181.4 322.5ZM224.2 350.1L225.2 349.3L228.4 349L231.9 349.7L234.5 351.2L232.9 351.8L225.8 351.2ZM223.5 307.2L222.5 303.3L223.2 303.1L224.6 305.4L226 309.5L225.6 311L224.8 310.5ZM461 117.1L460.6 118.5L461 120.8L462.2 122.2L463.8 122.4L465.4 120.7L466 118.6L465.9 117.2L464.9 115.8L463.5 115.3L462.2 115.6Z" fill="#88FFFF" fill-rule="evenodd"/>
<path d="M69.9 546.6L70.5 547.1L223.7 547.1L217.8 532.4L211.3 525.2L203.6 518.7L203.8 513.2L204.7 508.8L206.4 505.3L211.9 499.2L211.7 494.8L208.1 492.6L205.8 490.3L209.4 477.9L211.2 474.3L219.5 463.2L223.2 459.5L226.1 455.7L231.9 450.5L228.1 428.5L224.3 422.6L222.3 418.7L219 415.6L215 414.6L210.9 415.6L207.6 418.8L205 425.6L203.2 425L198.6 422.2L187.4 416.7L174.5 406.5L168.9 396.3L163.3 388.8L157.3 382.9L156.5 382.8L155.9 383.6L143.2 382.5L135.9 381.2L130.4 379.4L124.9 376.6L119.3 372.9L111 365.9L107.8 363.8L100.7 366.2L94.5 366.7L88.1 364.9L75.9 360.6L69.9 359.2ZM769.5 547.1L770.1 546.5L770.1 437.8L762.2 440.3L756.2 442.7L751.4 441L745 439.8L737.4 440.3L729.8 441.5L717.6 445.2L711.7 442.8L705.5 439.6L695.6 432.9L680.7 421.8L677.2 416.6L675.4 410.8L672 405.6L667.9 400.7L665.3 394.9L656.8 387.9L655.6 388L654 384.7L653 378.6L652.3 372.6L657.2 360.4L659.7 352.5L659 346L656.4 339.7L654.7 333.6L654 327.6L655.4 321.6L658.4 315.5L666.3 301.8L670.8 295.6L680.6 285.8L686.9 282L699.5 271.9L703.4 266.6L704 260.3L707.2 254.1L708.3 250.7L709.5 249.9L713.3 244.9L724.5 233.7L730.4 226.6L734.7 230.2L743.6 232L752.4 232.7L762.6 231.5L770.1 229.5L770.1 207.6L759.5 215.9L752.3 218.3L742.3 219.5L729.9 224L725.3 219.6L717.7 217L710.1 215.8L708.3 216.4L709.7 207.9L707.3 202.9L710.5 188.1L710 182.2L708 176.4L709.3 175.1L712.9 173.3L716.4 172.1L734.9 173.4L740 173L755 174L761.4 174L763.5 171.4L764.5 164.2L764.1 160.8L762.7 157.5L760.7 154.8L753.2 146.7L745.4 142.7L739 140.4L738.6 139L740.4 137.7L742.8 137.2L742.1 136.3L742.1 134.9L744.1 132.1L745.5 128.7L745.6 127.3L744.3 125.3L734.7 126.3L735.4 125.8L742.8 124.1L740.4 123.5L734.7 125L731.7 122.4L727.7 122.3L725 120.1L721.5 116.2L721.4 112.1L714.7 114.5L709.8 115.8L704.9 116.4L700.9 116.4L698.2 114.8L696.6 112.1L696.6 108.9L698.5 105.5L697.3 102.3L697.8 99L699.7 95.9L700.8 92.9L681.1 92.9L679.1 96.3L676.4 95.9L673.3 98.1L670.4 97.9L667.8 99L667.4 97.6L668 93.5L667.5 92.9L659 92.9L658.5 93.3L658.3 94.4L656.4 93.9L653.5 94.9L652 94.1L651.1 92.9L644.5 92.9L643.2 94.8L641.2 94.9L638.4 97.3L634.8 96.3L634.1 95.3L633.5 92.9L629.1 92.9L625.9 99.2L622.3 103.2L621.8 106.3L621 108L616.2 112.5L614.4 113.1L612.6 113.1L608.7 111.1L607.5 110.9L605.3 111.2L601.6 112.6L600.9 112.1L599.6 108.1L598.8 107.3L597.5 106.9L596.1 107.5L594.1 110.1L591.3 111.2L589.7 111.3L587.8 109.8L586.4 109.8L584.1 110.9L581.5 113.1L579.8 111.7L578.3 111.4L577 112.5L575.8 115.1L572.1 119.2L569.1 121.1L567.1 123.2L565.1 124.1L564 125.3L562 129L560.8 129.2L560.5 128.3L560.2 126.5L560.5 123.4L559.8 121.7L558.2 121.6L554.8 124L554.5 125.5L555.1 127.5L554.9 128.3L550.2 134.1L546 136.9L544.9 138.7L544.2 141.2L543.2 141.9L540.3 142.4L537.4 143.7L535.7 143.5L526.9 140.2L524.7 137.1L521.8 134.2L519.3 129.1L517.7 128.1L516.3 128.2L513.3 129.5L508.6 129.9L505.8 127.5L501.8 126.4L500.7 124.1L498.6 122.7L489.5 121.7L479.3 122.2L477.3 123L476.1 123.9L474.1 126.2L473.6 127.4L474.4 134.5L473.3 141.5L474.4 149.5L473.6 152.3L470.6 157.1L464.2 160.8L458.2 165.8L453.2 168.7L450.4 169.6L441.3 170.6L429.2 177.5L426.1 180.3L424.3 181.4L418.5 181.6L414.5 182.2L409.5 181.1L407.2 181.6L404.3 183.2L398.6 183.1L396.9 182.4L394.9 180.3L392.5 179L391.2 179.2L389.2 181.4L387.6 181.7L385.9 180.9L381.8 177.5L374.7 174.2L371.6 173.4L368.4 173.3L361.3 174.8L345.3 182L335.4 183.2L330.3 184.3L321.9 188L315.2 192.9L312.3 194.3L306.5 195.5L299.4 195.2L289.4 198.2L283.3 198.5L273.3 202.1L267.3 203.6L261.3 206.7L254.3 208L246.2 212.6L243.2 215L239.2 216.2L237.8 221.1L239.9 228.5L236.9 231.7L228.3 235.1L221.9 239.2L209.4 249.2L204.3 252.7L200.4 258L198.5 265.8L202.8 274.1L206.8 285.3L208.4 292.5L208 296.1L207.2 298.9L205.7 300.4L203.9 301.1L204.9 300.2L204.9 299.2L202 296.2L199.3 292.6L197.4 288.8L194.6 285.1L192.8 281.5L190.9 273.9L187.9 269L183.7 266.3L179.6 265.9L175.1 266.8L167.6 263.1L158.1 262.1L153.3 262.5L149.1 263.8L144.7 267.6L142.7 266.9L140.7 265L137.4 264L133.4 266.8L128.1 267.4L122.4 267L111.2 267.8L106.3 268.7L97.6 273.5L93.8 276.4L89.8 280.3L87.4 284.4L86.3 289.3L86.8 294.9L85.5 300.5L84.9 306.2L86.3 317.8L87.8 323.5L90.1 329.1L92.6 333.9L98.3 343.4L102.4 346.9L107.2 349.4L112.2 350L123.7 348.1L128.5 346.9L132.5 344.5L135.5 340.5L137.5 336.6L139.8 329.5L142.4 328.2L152.6 326.9L158.1 326.4L161.2 326.9L162.3 328.9L161.3 332L159.1 334.9L153.4 349.1L151.5 358.4L149.8 361.9L147.9 364.3L147.8 365.1L148.3 365.6L151.6 366.9L165.6 365.8L173 366.3L178.4 367.6L181.8 369.8L184.4 373.3L185.5 377.2L183.1 379.9L182.5 389.4L183.7 397.1L186 403.9L191 409L196.7 412.4L202.7 414.7L208.6 414.7L216.2 411L220.4 411L223.8 412.7L226.4 415.3L229.4 420.5L233 421.3L236.4 417.8L239.3 413.9L241.6 409.4L242.2 404.8L243.7 403L254.3 400L258.1 398.4L260.6 396.8L263.6 393.9L266.7 392.6L268.9 393.7L269.4 395L267.4 396.9L265.9 399.3L265.8 400L267.5 402.7L270.3 404.5L274 402.8L278.6 398.3L281.1 397.1L282.8 397.7L285.1 399.2L288.2 399.9L290.9 401.3L293.4 403.7L300.4 405L301.1 405.5L312.5 406.7L318.9 405.5L326.2 404.8L332.1 405.9L339.3 410.7L341.6 414.2L343.1 418.3L352.1 420.9L355.5 423.2L358 426.9L361.8 430.7L369.5 436.4L374.9 438L381.2 437.3L387.3 438L393.4 439.7L404.4 444.6L409.2 449.4L412.9 455.4L417.8 467.8L419.2 473.1L423.1 476.3L433.2 483.4L450.9 489.7L455.6 492L458.2 495.8L462.2 497.2L484.8 500L489.6 501.4L494.5 503.9L504.5 510.3L515.7 515.9L519.3 518.2L522.1 521.8L524 526.5L524.5 532.4L522.8 538.4L518.5 547.1ZM644.9 98L644.5 98.1L644.3 98.1L644.5 97.9ZM301.5 350.3L300.3 349.7L300.3 349L302.2 348.4L307.1 348.4L308.7 349L308.6 349.9L305.7 350.7ZM254.8 348.7L257.2 349L252.9 349.2ZM260.6 347.3L261 346.2L258.1 340.5L258.4 339.6L266 339.2L274.9 339.7L278.2 340.6L280.5 342.8L283.6 344.4L287.3 345.6L289.9 347.1L290 347.7L288.3 348.5L284 348.2L276.6 349.2L273.3 348.5L269.3 351.4L267.9 350.1L264.7 349.3L260.1 348.5L258.4 348.7ZM186.7 319L191.4 316.6L198.8 316L205.6 316.3L211.8 319.1L218.7 321.1L226.3 324.6L231.3 327.4L239.7 330.2L249.5 335.5L244.2 336.7L236.5 336.4L228.5 336.9L230.5 334.7L230.4 333.6L221.3 329.3L220 325.4L219.5 324.9L211.6 324.8L206.8 322.4L197.8 320.7L195.7 319.3L190.5 317.8L186.4 320.7L181.4 322.5ZM224.2 350.1L225.2 349.3L228.4 349L231.9 349.7L234.5 351.2L232.9 351.8L225.8 351.2ZM223.5 307.2L222.5 303.3L223.2 303.1L224.6 305.4L226 309.5L225.6 311L224.8 310.5Z" fill="#88FFDD" fill-rule="evenodd"/>
<path d="M69.9 546.6L70.5 547.1L223.7 547.1L217.8 532.4L211.3 525.2L203.6 518.7L203.8 513.2L204.7 508.8L206.4 505.3L211.9 499.2L211.7 494.8L208.1 492.6L205.8 490.3L209.4 477.9L211.2 474.3L219.5 463.2L223.2 459.5L226.1 455.7L231.9 450.5L228.1 428.5L224.3 422.6L222.3 418.7L219 415.6L215 414.6L210.9 415.6L207.6 418.8L205 425.6L203.2 425L198.6 422.2L187.4 416.7L174.5 406.5L168.9 396.3L163.3 388.8L157.3 382.9L156.5 382.8L155.9 383.6L143.2 382.5L135.9 381.2L130.4 379.4L124.9 376.6L119.3 372.9L111 365.9L107.8 363.8L100.7 366.2L94.5 366.7L88.1 364.9L75.9 360.6L69.9 359.2ZM769.5 547.1L770.1 546.5L770.1 437.8L762.2 440.3L756.2 442.7L751.4 441L744.9 439.8L737.3 440.3L729.8 441.5L717.6 445.2L711.7 442.8L705.5 439.6L695.6 432.9L680.7 421.8L677.2 416.6L675.4 410.8L672 405.6L667.9 400.7L665.3 394.9L656.8 387.9L655.6 388L654 384.7L652.3 372.6L657.2 360.4L659.7 352.6L659 346L656.4 339.7L654.7 333.6L654 327.6L655.4 321.6L658.4 315.5L666.3 301.8L670.8 295.6L680.6 285.8L686.9 282L699.5 271.9L703.4 266.6L704 260.3L707.2 254.1L708.3 250.7L709.5 249.9L713.3 244.9L724.5 233.7L730.4 226.6L734.7 230.2L743.6 232L752.4 232.7L762.6 231.5L770.1 229.5L770.1 207.6L759.5 215.9L752.3 218.3L742.3 219.5L729.9 224L725.3 219.6L717.7 217L710.1 215.8L708.3 216.4L709.7 207.9L707.3 202.9L710.5 188.1L710 182.2L708 176.4L709.3 175.1L712.9 173.3L716.4 172.1L734.9 173.4L740 173L755 174L761.2 174L762 173.6L763.5 171.4L764.5 164.2L764.1 160.8L762.7 157.4L760.7 154.8L753 146.5L745.4 142.7L739 140.4L738.7 139.4L737.3 138.1L736.1 136.3L735.6 132.2L733.7 131L731.4 131L728.5 132.1L724.8 129.5L721.5 128.9L715.5 131.2L708.9 128.2L707.9 126.6L706.5 125.9L705.2 127.1L705.1 127.7L706.2 129.4L707.8 129.4L707.5 130.1L706.4 131L704.7 131L701.8 127.7L694.7 124L689.6 122.4L688.1 123L686.2 125L684.5 125.4L683.7 125.2L682.1 123.3L681.8 118.4L680.7 116.1L678.6 115L675.6 115L673.2 114L669.3 110.1L668.4 107.2L666.8 106L663.6 104.7L661.5 104.4L659.3 104.5L656.4 105.5L650.6 105.6L649.8 105.4L647.8 103.6L646.5 103.3L643.4 104.1L638.4 104.6L634.8 106L633.4 107.1L632.8 108.3L632 112L628.3 115.5L623.4 115.1L614.4 118.1L612.8 117.8L609.7 116.3L608.4 116.2L603.4 118.5L599.5 119.1L596.3 118.9L594.8 120.3L594.9 124.7L594.4 125.3L586.7 124.5L582.6 122.8L579.4 122.9L577.8 124.3L577.9 127.2L577.3 128L574.5 126.9L570.3 127.5L568.1 129.1L567 132.2L566.2 133L563.2 133.5L560.3 135.6L556.3 135.8L553.1 137.9L548.9 138.9L548.1 139.4L545 143L537.4 145.7L531.6 144.3L527.6 144.4L525.8 143.6L524.5 142.2L522.9 138.2L519.9 136.1L518.1 134.1L516.7 133.1L513.6 132.3L511.4 132.2L509.7 133L507.8 135L506.6 135.2L504.4 134L499.7 130.1L497.6 129.5L493.7 129.3L493.3 126.2L492.5 125.1L490.7 123.8L487.5 123.1L479.3 123.5L477.1 124.5L474.7 127.4L474.6 129.5L475.2 134.5L473.8 141.5L474.8 150.4L473.8 153.3L471.1 158L465 161L459.1 166.1L453.3 169.7L442.7 171.9L438 174L430.2 178.6L427.1 181.6L425.3 182.7L423.5 182.9L419.4 182.7L414.5 183.8L409.4 183L407.2 183.9L402.7 187L399.6 187.2L396.8 186.3L393.7 183.8L392.4 183.6L388.5 184.6L385.8 184L382.8 180.9L378.1 179L373.8 175.8L371.7 174.7L368.5 174.2L363.4 174.7L360.2 175.9L345.3 183.1L341.4 184L335.4 184.2L330.3 185.4L326.9 187L313.3 195L307.4 196.3L299.4 196L289.4 199.4L283.4 199.7L277.3 201.8L269.3 204L261.3 208.2L254.3 209.1L247.2 212.8L243.2 215.8L238.7 217.8L237.8 221.1L239.9 228.5L236.9 231.7L228.3 235.1L221.9 239.2L209.4 249.2L204.3 252.7L200.3 258.2L198.5 265.8L202.8 274.1L206.8 285.3L208.4 292.5L208 296.1L207.2 298.9L205.7 300.4L203.9 301.1L204.9 300.2L204.9 299.2L202 296.2L199.3 292.6L197.4 288.8L194.6 285.1L192.8 281.5L190.9 273.9L187.9 269L183.6 266.3L179.6 265.9L175.1 266.8L167.6 263.1L158.1 262.1L153.3 262.5L149.1 263.8L144.7 267.6L142.7 266.9L140.7 265L137.4 264L133.4 266.8L128.1 267.4L122.4 267L111.2 267.8L106.3 268.7L97.6 273.5L93.8 276.4L89.8 280.3L87.4 284.4L86.3 289.3L86.8 294.9L85.5 300.5L84.9 306.2L86.3 317.8L87.8 323.5L90.1 329.1L92.6 333.9L98.3 343.4L102.4 346.9L107.2 349.4L112.2 350L123.7 348.1L128.5 346.9L132.5 344.5L135.5 340.5L137.5 336.6L139.8 329.5L142.4 328.2L152.6 326.9L158.1 326.4L161.2 326.9L162.3 328.9L161.3 332L159.1 334.9L153.4 349.1L151.5 358.4L149.8 361.9L147.9 364.3L147.8 365.1L148.3 365.6L151.6 366.9L165.6 365.8L173 366.3L178.4 367.6L181.8 369.8L184.4 373.3L185.5 377.2L183.1 379.9L182.5 389.4L183.7 397.1L186 403.9L191 409L196.7 412.4L202.7 414.7L208.6 414.7L216.2 411L220.4 411L223.8 412.7L226.4 415.3L229.4 420.5L233 421.3L236.4 417.8L239.3 413.9L241.6 409.4L242.2 404.8L243.7 403L254.3 400L258.1 398.4L260.6 396.8L263.6 393.9L266.7 392.6L268.9 393.7L269.4 395L267.4 396.9L265.9 399.3L265.8 400L267.5 402.7L270.3 404.5L274 402.8L278.6 398.3L281.1 397.1L282.8 397.7L285.1 399.2L288.2 399.9L290.9 401.3L293.4 403.7L300.4 405L301.1 405.5L312.5 406.7L318.9 405.5L326.2 404.8L332.1 405.9L339.3 410.7L341.6 414.2L343.1 418.3L352.1 420.9L355.5 423.2L358 426.9L361.8 430.7L369.5 436.4L374.9 438L381.2 437.3L387.3 438L393.4 439.7L404.4 444.6L409.2 449.4L412.9 455.4L417.8 467.8L419.2 473.1L423.1 476.3L433.2 483.4L450.9 489.7L455.6 492L458.2 495.8L462.2 497.2L484.8 500L489.6 501.4L494.5 503.9L504.5 510.3L515.7 515.9L519.3 518.2L522.1 521.8L524 526.5L524.5 532.4L522.8 538.4L518.5 547.1ZM489.7 131.4L489.7 131.4L489.7 131.4ZM301.5 350.3L300.3 349.7L300.3 349L302.2 348.4L307.1 348.4L308.7 349L308.6 349.9L305.7 350.7ZM254.8 348.7L257.2 349L252.9 349.2ZM260.6 347.3L261 346.2L258.1 340.5L258.4 339.6L266 339.2L274.9 339.7L278.2 340.6L280.5 342.8L283.6 344.4L287.3 345.6L289.9 347.1L290 347.7L288.3 348.5L284 348.2L276.6 349.2L273.3 348.5L269.3 351.4L267.9 350.1L264.7 349.3L260.1 348.5L258.4 348.7ZM186.7 319L191.4 316.6L198.8 316L205.6 316.3L211.8 319.1L218.7 321.1L226.3 324.6L231.3 327.4L239.7 330.2L249.5 335.5L244.2 336.7L236.5 336.4L228.5 336.9L230.5 334.7L230.4 333.6L221.3 329.3L220 325.4L219.5 324.9L211.6 324.8L206.8 322.4L197.8 320.7L195.7 319.3L190.5 317.8L186.4 320.7L181.4 322.5ZM224.2 350.1L225.2 349.3L228.4 349L231.9 349.7L234.5 351.2L232.9 351.8L225.8 351.2ZM223.5 307.2L222.5 303.3L223.2 303.1L224.6 305.4L226 309.5L225.6 311L224.8 310.5ZM700.3 116L701.2 118.3L702.7 119.1L704.5 119.4L705.9 118.8L708 116L704.9 116.4L700.9 116.4Z" fill="#77FFBB" fill-rule="evenodd"/>
<path d="M69.9 546.6L70.5 547.1L223.7 547.1L217.8 532.4L211.3 525.2L203.6 518.7L203.8 513.2L204.7 508.8L206.4 505.3L211.9 499.2L211.7 494.8L208.1 492.6L205.8 490.3L209.4 477.9L211.2 474.3L219.5 463.2L223.2 459.5L226.1 455.7L231.9 450.5L228.1 428.5L224.3 422.6L222.3 418.7L219 415.6L215 414.6L210.9 415.6L207.6 418.8L205 425.6L203.2 425L198.6 422.2L187.4 416.7L174.5 406.5L168.9 396.3L163.3 388.8L157.3 382.9L156.5 382.8L155.9 383.6L143.2 382.5L135.9 381.2L130.4 379.4L124.9 376.6L119.3 372.9L111 365.9L107.8 363.8L100.7 366.2L94.5 366.7L88.1 364.9L75.9 360.6L69.9 359.2ZM769.5 547.1L770.1 546.5L770.1 437.8L762.2 440.3L756.2 442.7L751.4 441L744.9 439.8L737.3 440.3L729.8 441.5L717.6 445.2L711.7 442.8L705.5 439.6L695.6 432.9L680.7 421.8L677.2 416.6L675.4 410.8L672 405.6L667.9 400.7L665.3 394.9L656.8 387.9L655.6 388L654 384.7L652.3 372.6L657.2 360.4L659.7 352.6L659 346L656.4 339.7L654.7 333.6L654 327.6L655.4 321.6L658.4 315.5L666.3 301.8L670.8 295.6L680.6 285.8L686.9 282L699.5 271.9L703.4 266.6L704 260.3L707.2 254.1L708.3 250.7L709.5 249.9L713.3 244.9L724.5 233.7L730.4 226.6L734.7 230.2L743.6 232L752.4 232.7L762.6 231.5L770.1 229.5L770.1 207.6L759.5 215.9L752.3 218.3L742.3 219.5L729.9 224L725.3 219.6L717.7 217L710.1 215.8L708.3 216.4L709.7 207.9L707.3 202.9L710.5 188.1L710 182.2L708 176.4L709.3 175.1L712.9 173.3L716.4 172.1L734.9 173.4L740 173L755 174L761.2 174L762 173.6L763.5 171.4L764.5 164.3L764.2 161.8L763.6 161.4L764 160.7L762.7 157.4L754.4 147.9L754.5 151.3L754 152L752.5 152.4L751.3 152L750.6 151.2L749.9 148.3L748.9 146.7L742.6 143.7L740.2 144.2L733.4 148.4L731 147.9L729.1 147L728.4 145.4L728.8 141.7L731.8 136.8L732.2 135.6L731.9 134.9L730.7 134.4L727.5 134.9L724.6 134.1L723.4 134.2L713.3 138.3L710.7 138.3L705.8 135.7L702.1 133L695.8 131.4L694 128.2L692.7 127.2L691.4 127L688.3 128.2L686.5 128.4L683.7 128.2L681.8 127.5L678.8 125.1L676.6 124.1L676.1 123.3L675.7 120.2L674 119L660.6 115.4L656.5 116.3L650.7 115.5L648.8 114.1L646 109.3L644.5 108.7L643.5 109L642.9 109.9L642.8 113.2L639 115.3L638.5 116.4L638.3 119.4L637 121.7L629.3 126.6L626.3 127.2L623.4 128.4L622.2 128L620.8 126.6L618.5 126L616.4 126.4L612.3 126.3L607.4 128.6L604.5 128L603.3 128.2L598.3 130.6L588.3 134.3L584.2 134L582.6 135.1L580.3 138L575.6 137L574.3 137.4L573.4 138.2L571.3 142.2L570.3 143.3L569.4 143.1L568.7 141.5L569 140L570.8 138.7L570.6 138.1L569.7 137.7L568.5 138L568.1 138.6L564.3 139.1L561.4 140.5L560.8 140.5L558.7 138.6L556.3 138.4L550.1 141L548.5 142.1L546.2 144.6L542.1 146L540.6 147.1L538.6 150.1L537.4 151L534.9 150.8L534.3 148.2L532.7 146.9L531.2 146.9L529.2 148.4L527.6 148.8L524.9 148L521.7 145.8L518.7 145.7L515.8 143.5L512.8 142.2L510.4 140L503.9 137.7L502.2 135.1L498.8 132.1L496.6 131.3L494.4 131.4L492.9 132.1L492.3 133.5L492.2 137.6L493.7 140.6L493.6 141.2L491.1 144.3L490.4 144.7L487.6 144L485.8 140.2L483.8 138.2L478.8 136.7L477.6 135.8L476 136.5L474.9 139.3L474.6 141.5L475.7 148.5L475.8 153.4L474 155.9L473.1 158.3L472.1 159.7L467.7 160.9L465.3 162L461.1 166.4L457.8 169.1L457 171L449.3 173.2L446.4 175.1L437.3 176.3L431.1 180.3L428.2 183.9L423.4 184.6L419.4 184.6L415.4 185.7L409.4 185.4L402.4 188.7L396.6 188.4L392.6 187.1L383.7 185.9L382.3 185.1L381 183.1L379.8 182L374.6 179L371.1 176L367.6 175.2L364.4 175.3L360.2 176.7L355.2 179.6L346.3 183.9L341.4 185.3L336.5 185.2L329.3 186.9L327.2 188L323.2 191.4L313.7 195.9L307.5 197L299.4 196.8L289.3 200.7L282.4 201.1L278.3 202.6L269.9 204.9L261.4 209.7L256.5 209.7L254.3 210.2L247.2 213.7L240.8 218L237.8 220.7L239.9 228.5L236.9 231.7L228.3 235.1L221.9 239.2L218.9 241.5L214.5 246L211.7 247.3L204.3 252.7L200.3 258.1L198.5 265.8L202.8 274.1L206.8 285.3L208.4 292.5L208 296.1L207.2 298.9L205.7 300.4L203.9 301.1L204.9 300.2L204.9 299.2L202 296.2L199.3 292.6L197.4 288.8L194.6 285.1L192.8 281.5L190.9 273.9L187.9 269L183.7 266.3L179.6 265.9L175.1 266.8L167.6 263.1L158.1 262.1L153.3 262.5L149.1 263.8L144.7 267.6L142.7 266.9L140.7 265L137.4 264L133.4 266.8L128.1 267.4L122.4 267L111.2 267.8L106.3 268.7L97.6 273.5L93.8 276.4L89.8 280.3L87.4 284.4L86.3 289.3L86.8 294.9L85.5 300.5L84.9 306.2L86.3 317.8L87.8 323.5L90.1 329.1L92.6 333.9L98.3 343.4L102.4 346.9L107.2 349.4L112.2 350L123.7 348.1L128.5 346.9L132.5 344.5L135.5 340.5L137.5 336.6L139.8 329.5L142.4 328.2L152.6 326.9L158.1 326.4L161.2 326.9L162.3 328.9L161.3 332L159.1 334.9L153.4 349.1L151.5 358.4L149.8 361.9L147.9 364.3L147.8 365.1L148.3 365.6L151.6 366.9L165.6 365.8L173 366.3L178.4 367.6L181.8 369.8L184.4 373.3L185.5 377.2L183.1 379.9L182.5 389.4L183.7 397.1L186 403.9L191 409L196.7 412.4L202.7 414.7L208.6 414.7L216.2 411L220.4 411L223.8 412.7L226.4 415.3L229.4 420.5L233 421.3L236.4 417.8L239.3 413.9L241.6 409.4L242.2 404.8L243.7 403L254.3 400L258.1 398.4L260.6 396.8L263.6 393.9L266.7 392.6L268.9 393.7L269.4 395L267.4 396.9L265.9 399.3L265.8 400L267.5 402.7L270.3 404.5L274 402.8L278.6 398.3L281.1 397.1L282.8 397.7L285.1 399.2L288.2 399.9L290.9 401.3L293.4 403.7L300.4 405L301.1 405.5L312.5 406.7L318.9 405.5L326.2 404.8L332.1 405.9L339.3 410.7L341.6 414.2L343.1 418.3L352.1 420.9L355.5 423.2L358 426.9L361.8 430.7L369.5 436.4L374.9 438L381.2 437.3L387.3 438L393.4 439.7L404.4 444.6L409.2 449.4L412.9 455.4L417.8 467.8L419.2 473.1L423.1 476.3L433.2 483.4L450.9 489.7L455.6 492L458.2 495.8L462.2 497.2L484.8 500L489.6 501.4L494.5 503.9L504.5 510.3L515.7 515.9L519.3 518.2L522.1 521.8L524 526.5L524.5 532.4L522.8 538.4L518.5 547.1ZM658.7 121.6L659.3 121L660 121L660 121.6L659.3 122.2L658.7 122.2ZM499.9 140.3L498.4 141.4L497.6 141.2L497.5 140.8L498.6 140L499.5 139.9ZM301.5 350.3L300.3 349.7L300.3 349L302.2 348.4L307.1 348.4L308.7 349L308.6 349.9L305.7 350.7ZM254.8 348.7L257.2 349L252.9 349.2ZM260.6 347.3L261 346.2L258.1 340.5L258.4 339.6L266 339.2L274.9 339.7L278.2 340.6L280.5 342.8L283.6 344.4L287.3 345.6L289.9 347.1L290 347.7L288.3 348.5L284 348.2L276.6 349.2L273.3 348.5L269.3 351.4L267.9 350.1L264.7 349.3L260.1 348.5L258.4 348.7ZM186.7 319L191.4 316.6L198.8 316L205.6 316.3L211.8 319.1L218.7 321.1L226.3 324.6L231.3 327.4L239.7 330.2L249.5 335.5L244.2 336.7L236.5 336.4L228.5 336.9L230.5 334.7L230.4 333.6L221.3 329.3L220 325.4L219.5 324.9L211.6 324.8L206.8 322.4L197.8 320.7L195.7 319.3L190.5 317.8L186.4 320.7L181.4 322.5ZM224.2 350.1L225.2 349.3L228.4 349L231.9 349.7L234.5 351.2L232.9 351.8L225.8 351.2ZM223.5 307.2L222.5 303.3L223.2 303.1L224.6 305.4L226 309.5L225.6 311L224.8 310.5ZM477 130.2L477.9 130.2L478.7 128.6L477.6 127L477 127.2L476.4 128.4Z" fill="#55FF77" fill-rule="evenodd"/>
<path d="M69.9 546.6L70.5 547.1L223.7 547.1L217.8 532.4L211.3 525.2L203.6 518.7L203.8 513.2L204.7 508.8L206.4 505.3L211.9 499.2L211.7 494.8L208.1 492.6L205.8 490.3L209.4 477.9L211.2 474.3L219.5 463.2L223.2 459.5L226.1 455.7L231.9 450.5L228.1 428.5L224.3 422.6L222.3 418.7L219 415.6L215 414.6L210.9 415.6L207.6 418.8L205 425.6L203.2 425L198.6 422.2L187.4 416.7L174.5 406.5L168.9 396.3L163.3 388.8L157.3 382.9L156.5 382.8L155.9 383.6L143.2 382.5L135.9 381.2L130.4 379.4L124.9 376.6L119.3 372.9L111 365.9L107.8 363.8L100.7 366.2L94.5 366.7L88.1 364.9L75.9 360.6L69.9 359.2ZM769.5 547.1L770.1 546.5L770.1 437.8L762.2 440.3L756.2 442.7L751.4 441L744.9 439.8L737.3 440.3L729.8 441.5L717.6 445.2L711.7 442.8L705.5 439.6L695.6 432.9L680.7 421.8L677.2 416.6L675.4 410.8L672 405.6L667.9 400.7L665.3 394.9L656.8 387.9L655.6 388L654 384.7L652.3 372.6L657.2 360.4L659.7 352.6L659 346L656.4 339.7L654.7 333.6L654 327.6L655.4 321.6L658.4 315.5L666.3 301.8L670.8 295.6L680.6 285.8L686.9 282L699.5 271.9L703.4 266.6L704 260.3L707.2 254.1L708.3 250.7L709.5 249.9L713.3 244.9L724.5 233.7L730.4 226.6L734.7 230.2L743.6 232L752.4 232.7L762.6 231.5L770.1 229.5L770.1 207.6L759.5 215.9L752.3 218.3L742.3 219.5L729.9 224L725.3 219.6L717.7 217L710.1 215.8L708.3 216.4L709.7 207.9L707.3 202.9L710.5 188L710 182.1L708 176.4L709.3 175.1L712.9 173.3L716.4 172.1L730.1 173L730.1 168.6L731.9 164.7L732 163.5L730.2 159.2L728.7 157.8L727.3 157.7L724.2 159.7L722.6 160L718.7 157.2L714.4 157L711.8 158L711 160.9L709.5 161.1L706.7 160.6L703.6 158.9L698.4 158.6L694.5 159.8L693.8 159.6L692.7 158.6L691.3 158.3L686.8 161L685.9 162.5L686.2 163.2L687.5 163.4L691.2 162.8L690.7 166.6L691.9 170L687.4 170.2L682.4 172.1L678.6 172L676.8 171.4L675.4 170.2L673.8 166.2L671 162L669.2 160.9L665 159.9L663.9 159.2L663.5 156.3L662.2 152.5L663.7 148.4L663 146.4L661.7 145L660.6 144.5L659.3 144.6L656.2 146.6L653.2 147.6L651.2 150L648.3 151.3L646.6 151.4L637.7 149.9L634.6 147.3L633.4 147.3L631.4 148.1L629.9 148L629.2 144.3L628.4 142.2L626.7 141L625.5 141L623.3 142.3L622.9 143.5L623.2 146.4L622.4 151.2L620.4 152.1L618.9 151.7L617.1 149.3L616.8 145.4L615.8 143L614.6 142.3L609.5 141.9L608.1 142.4L606.2 144.6L603.3 145.6L601.2 146.9L599.5 147.2L595.4 146.6L591.3 148.3L589.5 148.6L583.5 148.6L579.5 147.8L576.5 148.4L573.5 148L568.5 148.3L563.5 148.1L559.5 149.2L557.9 148.5L555.8 146.6L554.4 146.4L546.2 148.2L544.9 149.1L542.1 152.9L539.2 154.6L537.4 155.1L534.6 155.1L528.7 154.2L525.8 151.9L523.5 151.2L520.3 151.2L515.4 153.4L510.4 153.7L507.3 155.8L505.8 155.5L503.2 153L501.4 152.6L500.2 153.1L497.1 155.6L495.5 159.2L494.4 160L492.8 159.9L490.7 158.5L488.4 158.1L486.4 159L485.3 160.3L481.4 160.3L479.3 160.7L477.2 161.7L474.2 164L470.3 164.9L469.2 165.5L466.1 168.9L465.3 169.5L463.2 169.8L462 170.7L461.3 177.4L460.3 178.7L455.5 177.4L454.3 177.6L452.4 178.8L448.5 177.8L439.4 178.3L437.8 179L433.3 182.1L430.9 186L429.5 186.3L425.4 186.2L421.4 187.6L410.4 187.3L403.3 189.6L400.5 190L395.6 189.4L386.6 187.5L382.7 187.2L379.9 185.7L377.1 182.1L370.8 177.5L367.7 176.2L364.4 176.1L360.2 177.7L351.2 183.5L343.3 186.4L341.5 186.7L337.4 186.5L329.3 188.2L327.9 189.1L324.2 193.1L315.3 196.5L307.5 197.8L299.4 197.8L296.3 198.8L289.3 201.9L283.4 202.3L273.3 204.9L266.2 208.1L262.3 210.6L256.4 211.1L253.3 212L248.2 214.3L242.4 218L238.1 222.4L239.9 228.5L236.9 231.7L229 234.8L222.1 239.6L214.2 247L210.2 249L204.4 253L202.6 255.2L200 261.8L199.3 262.1L198.5 265.8L202.8 274.1L206.8 285.3L208.4 292.5L208 296.1L207.2 298.9L205.7 300.4L203.9 301.1L204.9 300.2L204.9 299.2L202 296.2L199.3 292.6L197.4 288.8L194.6 285.1L192.8 281.5L190.9 273.9L187.9 269L183.7 266.3L179.6 265.9L175.1 266.8L167.6 263.1L158.1 262.1L153.3 262.5L149.1 263.8L144.7 267.6L142.7 266.9L140.7 265L137.4 264L133.4 266.8L128.1 267.4L122.4 267L111.2 267.8L106.3 268.7L97.6 273.5L93.8 276.4L89.8 280.3L87.4 284.4L86.3 289.3L86.8 294.9L85.5 300.5L84.9 306.2L86.3 317.8L87.8 323.5L90.1 329.1L92.6 333.9L98.3 343.4L102.4 346.9L107.2 349.4L112.2 350L123.7 348.1L128.5 346.9L132.5 344.5L135.5 340.5L137.5 336.6L139.8 329.5L142.4 328.2L152.6 326.9L158.1 326.4L161.2 326.9L162.3 328.9L161.3 332L159.1 334.9L153.4 349.1L151.5 358.4L149.8 361.9L147.9 364.3L147.8 365.1L148.3 365.6L151.6 366.9L165.6 365.8L173 366.3L178.4 367.6L181.8 369.8L184.4 373.3L185.5 377.2L183.1 379.9L182.5 389.4L183.7 397.1L186 403.9L191 409L196.7 412.4L202.7 414.7L208.6 414.7L216.2 411L220.4 411L223.8 412.7L226.4 415.3L229.4 420.5L233 421.3L236.4 417.8L239.3 413.9L241.6 409.4L242.2 404.8L243.7 403L254.3 400L258.1 398.4L260.6 396.8L263.6 393.9L266.7 392.6L268.9 393.7L269.4 395L267.4 396.9L265.9 399.3L265.8 400L267.5 402.7L270.3 404.5L274 402.8L278.6 398.3L281.1 397.1L282.8 397.7L285.1 399.2L288.2 399.9L290.9 401.3L293.4 403.7L300.4 405L301.1 405.5L312.5 406.7L318.9 405.5L326.2 404.8L332.1 405.9L339.3 410.7L341.6 414.2L343.1 418.3L352.1 420.9L355.5 423.2L358 426.9L361.8 430.7L369.5 436.4L374.9 438L381.2 437.3L387.3 438L393.4 439.7L404.4 444.6L409.2 449.4L412.9 455.4L417.8 467.8L419.2 473.1L423.1 476.3L433.2 483.4L450.9 489.7L455.6 492L458.2 495.8L462.2 497.2L484.8 500L489.6 501.4L494.5 503.9L504.5 510.3L515.7 515.9L519.3 518.2L522.1 521.8L524 526.5L524.5 532.4L522.8 538.4L518.5 547.1ZM301.5 350.3L300.3 349.7L300.3 349L302.2 348.4L307.1 348.4L308.7 349L308.6 349.9L305.7 350.7ZM254.8 348.7L257.2 349L252.9 349.2ZM260.6 347.3L261 346.2L258.1 340.5L258.4 339.6L266 339.2L274.9 339.7L278.2 340.6L280.5 342.8L283.6 344.4L287.3 345.6L289.9 347.1L290 347.7L288.3 348.5L284 348.2L276.6 349.2L273.3 348.5L269.3 351.4L267.9 350.1L264.7 349.3L260.1 348.5L258.4 348.7ZM186.7 319L191.4 316.6L198.8 316L205.6 316.3L211.8 319.1L218.7 321.1L226.3 324.6L231.3 327.4L239.7 330.2L249.5 335.5L244.2 336.7L236.5 336.4L228.5 336.9L230.5 334.7L230.4 333.6L221.3 329.3L220 325.4L219.5 324.9L211.6 324.8L206.8 322.4L197.8 320.7L195.7 319.3L190.5 317.8L186.4 320.7L181.4 322.5ZM224.2 350.1L225.2 349.3L228.4 349L231.9 349.7L234.5 351.2L232.9 351.8L225.8 351.2ZM223.5 307.2L222.5 303.3L223.2 303.1L224.6 305.4L226 309.5L225.6 311L224.8 310.5ZM753.7 155L753.4 155.7L754.2 156.5L757.5 156.9L759.9 155.9L760.1 154.4L758.8 153.3L757.5 153.3L755.1 154ZM743.4 156.1L742.5 160.2L740.7 162.4L741 164.3L742.3 164.9L747.8 164L751.4 160.9L752.9 158.7L752.2 156.1L748.7 154.5L744.9 154.9Z" fill="#22FF33" fill-rule="evenodd"/>
<path d="M69.9 546.6L70.5 547.1L223.7 547.1L217.8 532.4L211.3 525.2L203.6 518.7L203.8 513.2L204.7 508.8L206.4 505.3L211.9 499.2L211.7 494.8L208.1 492.6L205.8 490.3L209.4 477.9L211.2 474.3L219.5 463.2L223.2 459.5L226.1 455.7L231.9 450.5L228.1 428.5L224.3 422.6L222.3 418.7L219 415.6L215 414.6L210.9 415.6L207.6 418.8L205 425.6L203.2 425L198.6 422.2L187.4 416.7L174.5 406.5L168.9 396.3L163.3 388.8L157.3 382.9L156.5 382.8L155.9 383.6L143.2 382.5L135.9 381.2L130.4 379.4L124.9 376.6L119.3 372.9L111 365.9L107.8 363.8L100.7 366.2L94.5 366.7L88.1 364.9L75.9 360.6L69.9 359.2ZM769.5 547.1L770.1 546.5L770.1 437.8L762.2 440.3L756.2 442.7L751.4 441L745 439.8L737.4 440.3L729.8 441.5L717.6 445.2L711.7 442.8L705.5 439.6L695.6 432.9L680.7 421.8L677.2 416.6L675.4 410.8L672 405.6L667.9 400.7L665.3 394.9L656.8 387.9L655.6 388L654 384.7L652.3 372.6L657.2 360.4L659.7 352.5L659 346L656.4 339.7L654.7 333.6L654 327.6L655.4 321.6L658.4 315.5L666.3 301.8L670.8 295.6L680.6 285.8L686.9 282L699.5 271.9L703.4 266.6L704 260.3L707.2 254.1L708.3 250.7L709.5 249.9L713.3 244.9L724.5 233.7L730.4 226.6L734.7 230.2L743.6 232L752.4 232.7L762.6 231.5L770.1 229.5L770.1 207.6L759.5 215.9L752.3 218.3L742.3 219.5L729.9 224L725.3 219.6L717.7 217L710.1 215.8L708.3 216.4L709.7 207.9L707.3 202.9L710.5 188.1L710.4 184.9L709.5 180.5L708.1 181.7L706.4 182.6L704.7 182.3L697.6 179.9L693.6 179.9L688.5 178.7L687.2 178.9L684.9 181L683.4 181.5L676.6 180.3L671.5 180.7L665.6 180L664.4 179.2L663.8 177.3L662.7 175.7L661.4 175.5L657.6 176.6L654.6 175.2L651.9 175L651.6 174.4L651.7 170.4L651 168.1L648.8 165.8L644.5 164.2L643.3 164.2L641.4 165L638.1 168.6L634.1 171.6L631.4 174.5L629.8 173.1L624.6 166.9L623 167L620.6 170.1L618.2 171.6L616.4 172.1L613.7 172.1L612.4 171.1L609 167.3L607.4 163.2L606.4 162L604.7 161L600.8 160L598.8 158.4L595.7 157.1L595.2 156.3L595.3 155.7L597.6 152.6L597.4 152L596.5 151.7L594.3 152L591.2 154.9L590.5 155.1L586.7 153.4L581.5 152.1L578.3 153.9L574.5 154.9L570.5 154L567.5 154.4L561.5 154.2L558.5 154.7L557.7 154.5L554.8 152L553.6 151.7L550.4 152.5L548.4 152.5L547.2 152.9L544.1 155.2L541.2 158.6L539.5 158.8L536.5 158.4L530 159L528.7 160.2L528 162.3L527.1 163.5L522.5 166.4L522 166.2L521.6 164.4L522.1 161.5L521.8 160.1L520.8 159.3L519.5 159.1L516.6 159.9L514.8 161.2L512.9 166.9L512.3 167.5L510.8 167.2L508.9 164.6L504.8 162.1L502.6 161.4L501.4 161.6L493.1 166L491.2 169.2L490.3 169.9L483.5 171L480.6 170.4L477.6 170.4L474.5 169.2L469.2 170.7L468.1 171.6L466 174.2L464.1 179.1L461.3 181.4L456.4 181L450.6 183.1L448.8 180.8L446.5 180.3L444.8 181L442.2 184L441.5 184.2L438.7 182.9L437.3 183.2L436 184.1L435.2 185.2L434.6 188.3L434.1 189.1L432.5 189.9L428.5 188.9L419.5 189.9L412.5 188.5L402.4 190.9L400.5 191L393.6 190.1L386.6 188.5L382.6 188.4L378.9 186.3L376.5 183.1L370.8 178.7L367.6 177.2L364.4 177.1L360.2 178.8L352.2 185L350.3 185.8L346.3 186.7L343.3 188L338.4 187.9L335.3 188.9L330.3 189.6L329 190.4L327.1 193.1L324.3 194.8L313.4 198L308.4 198.7L298.4 199.2L289.3 203.3L284.4 203.5L275.3 205.4L270.2 207.5L263.3 211.2L253.3 213.6L248.2 215.6L243.1 218.6L238.5 223.6L239.9 228.5L236.9 231.7L230.3 234.3L228.1 236.5L222.1 240.4L215.1 247L210.2 249.7L205.8 253L203.3 256.2L200.9 262.2L200.1 263.2L198.9 263.6L198.5 265.8L202.8 274.1L206.8 285.3L208.4 292.5L208 296.1L207.2 298.9L205.7 300.4L203.9 301.1L204.9 300.2L204.9 299.2L202 296.2L199.3 292.6L197.4 288.8L194.6 285.1L192.8 281.5L190.9 273.9L187.9 269L183.7 266.3L179.6 265.9L175.1 266.8L167.6 263.1L158.1 262.1L153.3 262.5L149.1 263.8L144.7 267.6L142.7 266.9L140.7 265L137.4 264L133.4 266.8L128.1 267.4L122.4 267L111.2 267.8L106.3 268.7L97.6 273.5L93.8 276.4L89.8 280.3L87.4 284.4L86.3 289.3L86.8 294.9L85.5 300.5L84.9 306.2L86.3 317.8L87.8 323.5L90.1 329.1L92.6 333.9L98.3 343.4L102.4 346.9L107.2 349.4L112.2 350L123.7 348.1L128.5 346.9L132.5 344.5L135.5 340.5L137.5 336.6L139.8 329.5L142.4 328.2L152.6 326.9L158.1 326.4L161.2 326.9L162.3 328.9L161.3 332L159.1 334.9L153.4 349.1L151.5 358.4L149.8 361.9L147.9 364.3L147.8 365.1L148.3 365.6L151.6 366.9L165.6 365.8L173 366.3L178.4 367.6L181.8 369.8L184.4 373.3L185.5 377.2L183.1 379.9L182.5 389.4L183.7 397.1L186 403.9L191 409L196.7 412.4L202.7 414.7L208.6 414.7L216.2 411L220.4 411L223.8 412.7L226.4 415.3L229.4 420.5L233 421.3L236.4 417.8L239.3 413.9L241.6 409.4L242.2 404.8L243.7 403L254.3 400L258.1 398.4L260.6 396.8L263.6 393.9L266.7 392.6L268.9 393.7L269.4 395L267.4 396.9L265.9 399.3L265.8 400L267.5 402.7L270.3 404.5L274 402.8L278.6 398.3L281.1 397.1L282.8 397.7L285.1 399.2L288.2 399.9L290.9 401.3L293.4 403.7L300.4 405L301.1 405.5L312.5 406.7L318.9 405.5L326.2 404.8L332.1 405.9L339.3 410.7L341.6 414.2L343.1 418.3L352.1 420.9L355.5 423.2L358 426.9L361.8 430.7L369.5 436.4L374.9 438L381.2 437.3L387.3 438L393.4 439.7L404.4 444.6L409.2 449.4L412.9 455.4L417.8 467.8L419.2 473.1L423.1 476.3L433.2 483.4L450.9 489.7L455.6 492L458.2 495.8L462.2 497.2L484.8 500L489.6 501.4L494.5 503.9L504.5 510.3L515.7 515.9L519.3 518.2L522.1 521.8L524 526.5L524.5 532.4L522.8 538.4L518.5 547.1ZM520.7 169.7L520.3 170.2L519.4 170.2L520.4 169.5ZM301.5 350.3L300.3 349.7L300.3 349L302.2 348.4L307.1 348.4L308.7 349L308.6 349.9L305.7 350.7ZM254.8 348.7L257.2 349L252.9 349.2ZM260.6 347.3L261 346.2L258.1 340.5L258.4 339.6L266 339.2L274.9 339.7L278.2 340.6L280.5 342.8L283.6 344.4L287.3 345.6L289.9 347.1L290 347.7L288.3 348.5L284 348.2L276.6 349.2L273.3 348.5L269.3 351.4L267.9 350.1L264.7 349.3L260.1 348.5L258.4 348.7ZM186.7 319L191.4 316.6L198.8 316L205.6 316.3L211.8 319.1L218.7 321.1L226.3 324.6L231.3 327.4L239.7 330.2L249.5 335.5L244.2 336.7L236.5 336.4L228.5 336.9L230.5 334.7L230.4 333.6L221.3 329.3L220 325.4L219.5 324.9L211.6 324.8L206.8 322.4L197.8 320.7L195.7 319.3L190.5 317.8L186.4 320.7L181.4 322.5ZM224.2 350.1L225.2 349.3L228.4 349L231.9 349.7L234.5 351.2L232.9 351.8L225.8 351.2ZM223.5 307.2L222.5 303.3L223.2 303.1L224.6 305.4L226 309.5L225.6 311L224.8 310.5Z" fill="#00FF00" fill-rule="evenodd"/>
<path d="M69.9 546.5L70.5 547.1L223.7 547.1L217.8 532.4L211.3 525.2L203.6 518.7L203.8 513.2L204.7 508.8L206.4 505.3L211.9 499.2L211.7 494.8L208.1 492.6L205.8 490.3L209.4 477.9L211.2 474.3L219.5 463.2L223.2 459.5L226.1 455.7L231.9 450.5L228.1 428.5L224.3 422.6L222.3 418.7L219 415.6L215 414.6L210.9 415.6L207.6 418.8L205 425.6L203.2 425L198.6 422.2L187.4 416.7L174.5 406.5L168.9 396.3L163.3 388.8L157.3 382.9L156.5 382.8L155.9 383.6L143.2 382.5L135.9 381.2L130.4 379.4L124.9 376.6L119.3 372.9L111 365.9L107.8 363.8L100.7 366.2L94.5 366.7L88.1 364.9L75.9 360.6L69.9 359.2ZM769.5 547.1L770.1 546.5L770.1 437.8L762.2 440.3L756.2 442.7L751.4 441L744.9 439.8L737.3 440.3L729.8 441.5L717.6 445.2L711.7 442.8L705.5 439.6L695.6 432.9L680.7 421.8L677.2 416.6L675.4 410.8L672 405.6L667.9 400.7L665.3 394.9L656.8 387.9L655.6 388L654 384.7L652.3 372.6L657.2 360.4L659.7 352.5L659 346L656.4 339.7L654.7 333.6L654 327.6L655.4 321.6L658.4 315.5L666.3 301.8L670.8 295.6L680.6 285.8L686.9 282L699.5 271.9L703.4 266.6L704 260.3L707.2 254.1L708.3 250.7L709.5 249.9L713.3 244.9L724.5 233.7L730.4 226.6L734.7 230.2L743.6 232L752.4 232.7L762.6 231.5L770.1 229.5L770.1 207.6L759.5 215.9L752.3 218.3L742.3 219.5L729.9 224L725.3 219.6L717.7 217L710.1 215.8L708.3 216.4L709.7 207.6L707.4 202.5L702.1 199.1L700.9 197.2L700 194.8L698.7 193.5L696.6 193L695.4 193.2L690.6 194.7L687.7 193.6L686.4 193.5L684.2 194.2L681.9 196L678.3 197.5L676.5 197.8L672.5 197.2L667.7 198.4L664.8 194.6L663.5 194.3L660.5 194.6L658.9 194.1L658.7 193.6L660.2 191.7L660.2 190.4L659.8 189.9L658.5 189.5L656.2 190L654.7 191.1L652.2 194.1L650.7 194.4L649.9 194L647.8 191.2L646.5 190.8L644.5 191.4L643.7 191.3L639.8 189L636.9 185.9L634.7 184.5L632.4 184.5L628.4 185.6L620.6 185.7L615.7 184.1L611.6 182.2L607.7 181.9L603.3 179.1L601.6 176.1L599.9 174.4L598.6 173.9L594.7 173.4L591.7 171.3L587.8 170.2L583.2 167.1L582.5 165.2L581 163.9L578.4 163.8L574.4 165.2L570.3 165.6L568.1 167L565.2 170L563.4 170.9L562.5 170.9L561.2 170.2L561.7 166.4L561.2 164.3L559.9 161.9L553.8 157.7L549.5 157.1L548.2 157.4L547.2 158.3L547 159.6L547.7 162.4L546.6 164L543.5 165.2L539.7 163L537.3 162.9L535.2 164L534.2 165.1L532.1 169.2L531.1 170.5L529.4 171.1L526.3 171.3L522.4 173.4L516.7 172.9L513.8 170.9L509.8 169.4L506.7 167.4L500.3 167.2L498.1 168.2L493.3 173.2L488.4 173.4L486 173.9L480.2 176.7L476.3 179.1L474.5 179L471.8 175.8L470.6 175.4L469.3 175.5L468 176.6L466 180.5L462.3 183.2L460.5 183.5L457.5 183.2L455.3 183.6L452.8 185.1L450.2 188.4L449.5 188.6L446.7 187.3L445.4 187.3L443.2 189.2L439.2 191.3L433.4 192.8L427.5 191.6L423.5 192.2L418.6 192.2L416.8 191.7L414.7 190.4L412.6 189.9L401.5 192.1L392.6 190.9L386.6 189.6L382.6 189.6L378.9 187.7L375.1 183.1L370.8 179.8L367.6 178.1L364.4 178L359.1 180.7L353.2 186L351.3 187.1L343.4 189.5L339.4 189.2L332.1 190.9L330.5 192.1L329.1 194.5L325.3 196L314.4 199L298.3 200.8L289.4 204.6L284.4 204.7L275.3 206.4L263.9 211.9L254.3 214.6L249.3 216.5L244.2 218.9L239.7 223.1L238.7 224.4L239.9 228.5L236.9 231.7L231.2 233.9L229.1 236.4L222.1 241.1L215.1 247.6L210.2 250.4L205.7 254.1L203.6 257.2L201 263.2L200.1 264.2L198.6 264.8L198.6 265.9L202.8 274.1L206.8 285.3L208.4 292.5L208 296.1L207.2 298.9L205.7 300.4L203.9 301.1L204.9 300.2L204.9 299.2L202 296.2L199.3 292.6L197.4 288.8L194.6 285.1L192.8 281.5L190.9 273.9L187.9 269L183.7 266.3L179.6 265.9L175.1 266.8L167.6 263.1L158.1 262.1L153.3 262.5L149.1 263.8L144.7 267.6L142.7 266.9L140.7 265L137.4 264L133.4 266.8L128.1 267.4L122.4 267L111.2 267.8L106.3 268.7L97.6 273.5L93.8 276.4L89.8 280.3L87.4 284.4L86.3 289.3L86.8 294.9L85.5 300.5L84.9 306.2L86.3 317.8L87.8 323.5L90.1 329.1L92.6 333.9L98.3 343.4L102.4 346.9L107.2 349.4L112.2 350L123.7 348.1L128.5 346.9L132.5 344.5L135.5 340.5L137.5 336.6L139.8 329.5L142.4 328.2L152.6 326.9L158.1 326.4L161.2 326.9L162.3 328.9L161.3 332L159.1 334.9L153.4 349.1L151.5 358.4L149.8 361.9L147.9 364.3L147.8 365.1L148.3 365.6L151.6 366.9L165.6 365.8L173 366.3L178.4 367.6L181.8 369.8L184.4 373.3L185.5 377.2L183.1 379.9L182.5 389.4L183.7 397.1L186 403.9L191 409L196.7 412.4L202.7 414.7L208.6 414.7L216.2 411L220.4 411L223.8 412.7L226.4 415.3L229.4 420.5L233 421.3L236.4 417.8L239.3 413.9L241.6 409.4L242.2 404.8L243.7 403L254.3 400L258.1 398.4L260.6 396.8L263.6 393.9L266.7 392.6L268.9 393.7L269.4 395L267.4 396.9L265.9 399.3L265.8 400L267.5 402.7L270.3 404.5L274 402.8L278.6 398.3L281.1 397.1L282.8 397.7L285.1 399.2L288.2 399.9L290.9 401.3L293.4 403.7L300.4 405L301.1 405.5L312.5 406.7L318.9 405.5L326.2 404.8L332.1 405.9L339.3 410.7L341.6 414.2L343.1 418.3L352.1 420.9L355.5 423.2L358 426.9L361.8 430.7L369.5 436.4L374.9 438L381.2 437.3L387.3 438L393.4 439.7L404.4 444.6L409.2 449.4L412.9 455.4L417.8 467.8L419.2 473.1L423.1 476.3L433.2 483.4L450.9 489.7L455.6 492L458.2 495.8L462.2 497.2L484.8 500L489.6 501.4L494.5 503.9L504.5 510.3L515.7 515.9L519.3 518.2L522.1 521.8L524 526.5L524.5 532.4L522.8 538.4L518.5 547.1ZM301.5 350.3L300.3 349.7L300.3 349L302.2 348.4L307.1 348.4L308.7 349L308.6 349.9L305.7 350.7ZM254.8 348.7L257.2 349L252.9 349.2ZM260.6 347.3L261 346.2L258.1 340.5L258.4 339.6L266 339.2L274.9 339.7L278.2 340.6L280.5 342.8L283.6 344.4L287.3 345.6L289.9 347.1L290 347.7L288.3 348.5L284 348.2L276.6 349.2L273.3 348.5L269.3 351.4L267.9 350.1L264.7 349.3L260.1 348.5L258.4 348.7ZM186.7 319L191.4 316.6L198.8 316L205.6 316.3L211.8 319.1L218.7 321.1L226.3 324.6L231.3 327.4L239.7 330.2L249.5 335.5L244.2 336.7L236.5 336.4L228.5 336.9L230.5 334.7L230.4 333.6L221.3 329.3L220 325.4L219.5 324.9L211.6 324.8L206.8 322.4L197.8 320.7L195.7 319.3L190.5 317.8L186.4 320.7L181.4 322.5ZM224.2 350.1L225.2 349.3L228.4 349L231.9 349.7L234.5 351.2L232.9 351.8L225.8 351.2ZM223.5 307.2L222.5 303.3L223.2 303.1L224.6 305.4L226 309.5L225.6 311L224.8 310.5Z" fill="#33FF00" fill-rule="evenodd"/>
<path d="M69.9 546.6L70.5 547.1L223.7 547.1L217.8 532.4L211.3 525.2L203.6 518.7L203.8 513.2L204.7 508.8L206.4 505.3L211.9 499.2L211.7 494.8L208.1 492.6L205.8 490.3L209.4 477.9L211.2 474.3L219.5 463.2L223.2 459.5L226.1 455.7L231.9 450.5L228.1 428.5L224.3 422.6L222.3 418.7L219 415.6L215 414.6L210.9 415.6L207.6 418.8L205 425.6L203.2 425L198.6 422.2L187.4 416.7L174.5 406.5L168.9 396.3L163.3 388.8L157.3 382.9L156.5 382.8L155.9 383.6L143.2 382.5L135.9 381.2L130.4 379.4L124.9 376.6L119.3 372.9L111 365.9L107.8 363.8L100.7 366.2L94.5 366.7L88.1 364.9L75.9 360.6L69.9 359.2ZM769.5 547.1L770.1 546.5L770.1 437.8L762.2 440.3L756.2 442.7L751.4 441L745 439.8L737.4 440.3L729.8 441.5L717.6 445.2L711.7 442.8L705.5 439.6L695.6 432.9L680.7 421.8L677.2 416.6L675.4 410.8L672 405.6L667.9 400.7L665.3 394.9L656.8 387.9L655.6 388L654 384.7L652.3 372.6L657.2 360.4L659.7 352.5L659 346L656.4 339.7L654.7 333.6L654 327.6L655.4 321.6L658.4 315.5L666.3 301.8L670.8 295.6L680.6 285.8L686.9 282L699.4 272L703.3 266.9L704 260.3L707.2 254.1L708.3 250.7L709.5 249.9L713.3 244.9L726.3 231.5L725.6 229.2L724.2 227.5L724.6 227.2L725.2 227.4L726.2 228.5L727.5 228.9L729.1 227.7L729.2 226.4L728.5 224.4L728.7 222.8L725.7 219.8L717.7 217L715 216.6L713.2 219.6L710.3 219.6L707.4 221.5L706.1 221L705.5 220.2L705.2 218.6L708.2 212.5L707.5 211.1L706.7 210.7L703.4 210.4L701.1 211.9L699.2 214.3L698.8 218.3L698.2 219L697.4 219.3L690.5 218.3L685.6 219L684.5 218.2L683 213.6L682 212.9L681.2 212.9L678.2 214.9L676.7 215.1L673.8 212.5L672.7 211.9L666.5 211.3L664.1 211.7L663 212.6L661.1 215.6L658.4 216.9L656.9 216.3L655.9 215.2L654 210.3L652.8 209.2L651.7 208.8L647.6 209L645.4 208.4L644.3 208.5L642.4 209.6L637.7 210.4L637 209.8L634.9 205.1L633.9 204L632.7 203.5L630.4 203.2L627.5 204.1L624.6 203.3L621.7 203.1L618.7 200.6L614.7 200.9L611.5 198.2L610.4 198.1L608.5 199L606.4 201L604.1 200.9L602.6 200.1L602.1 199.3L601.9 195.3L601.6 194.1L600.7 193.5L598.5 193.4L594.5 194L591.6 193.7L589.9 193L588.9 191L587.4 190.8L586.2 191.2L585.1 192.2L584.1 195.8L579.7 195.2L578.8 194.4L578.9 193.7L579.9 193.1L584.3 192L584.9 190.5L584.5 189.2L581.5 185.3L581.5 183.7L583.2 180.7L583.5 178.5L583 176.8L581.6 175.5L580.1 175.9L579 178.4L578.2 179.3L577.5 179.5L576.2 179L573.6 176.6L570.5 176.8L566.6 175.3L563.4 175.2L560.4 176.3L556.3 177L555.5 178.3L555.1 180.3L554.6 181.1L553.4 181.8L552.6 181.8L550.6 181.1L546.7 181L542.8 177.5L541.6 177L538.7 176.9L535.9 173.8L534.6 172.9L532.4 172.8L529.2 173.7L523.1 178.4L522.3 178.9L520.5 179.1L516.7 177.9L512.8 176.1L512.1 175.2L511.5 173.2L510.7 172.7L505.6 171.1L503.4 171.3L501.2 172.1L498.2 173.9L495.2 177.4L494.6 177.5L491.7 175.9L488.3 175.6L487.1 176.1L485.2 178.7L482.2 179.7L477.5 182.9L475.6 182.9L470.4 181.2L462.3 185.5L457.3 185.9L456.2 187.4L456.7 190.4L456.4 191.2L455.2 192.2L453.4 192.7L445.3 193.4L443.9 194.1L442.4 196.1L441.2 196.9L437.7 197.9L435.5 198.1L434.4 198L431.8 195.8L428.7 194.8L426.5 194.5L421.6 195L416.7 193.6L412.6 191.5L401.5 193.1L386.6 190.7L382.6 190.6L377.9 188.2L374.7 184.1L370.8 180.8L367.8 179L365.4 178.6L363.2 179.4L360.2 181.2L354.3 187L350.2 189.3L343.4 191.4L340.6 190.8L338.3 190.9L333.6 193L330.7 196L329.3 196.7L322.3 198.1L315.4 200.1L297.4 202.6L289.4 205.8L284.4 205.9L275.4 207.4L265.3 212.4L250.3 217.3L244.1 220.1L241.1 222.6L238.9 225.1L239.9 228.5L236.9 231.7L231.9 233.6L229.1 237.1L222.1 241.7L215.1 248.3L211.2 250.5L207.8 253.1L204.9 256.2L201 264.3L198.7 266.1L202.8 274.1L206.8 285.3L208.4 292.5L208 296.1L207.2 298.9L205.7 300.4L203.9 301.1L204.9 300.2L204.9 299.2L202 296.2L199.3 292.6L197.4 288.8L194.6 285.1L192.8 281.5L190.9 273.9L187.9 269L183.7 266.3L179.6 265.9L175.1 266.8L167.6 263.1L158.1 262.1L153.3 262.5L149.1 263.8L144.7 267.6L142.7 266.9L140.7 265L137.4 264L133.4 266.8L128.1 267.4L122.4 267L111.2 267.8L106.3 268.7L97.6 273.5L93.8 276.4L89.8 280.3L87.4 284.4L86.3 289.3L86.8 294.9L85.5 300.5L84.9 306.2L86.3 317.8L87.8 323.5L90.1 329.1L92.6 333.9L98.3 343.4L102.4 346.9L107.2 349.4L112.2 350L123.7 348.1L128.5 346.9L132.5 344.5L135.5 340.5L137.5 336.6L139.8 329.5L142.4 328.2L152.6 326.9L158.1 326.4L161.2 326.9L162.3 328.9L161.3 332L159.1 334.9L153.4 349.1L151.5 358.4L149.8 361.9L147.9 364.3L147.8 365.1L148.3 365.6L151.6 366.9L165.6 365.8L173 366.3L178.4 367.6L181.8 369.8L184.4 373.3L185.5 377.2L183.1 379.9L182.5 389.4L183.7 397.1L186 403.9L191 409L196.7 412.4L202.7 414.7L208.6 414.7L216.2 411L220.4 411L223.8 412.7L226.4 415.3L229.4 420.5L233 421.3L236.4 417.8L239.3 413.9L241.6 409.4L242.2 404.8L243.7 403L254.3 400L258.1 398.4L260.6 396.8L263.6 393.9L266.7 392.6L268.9 393.7L269.4 395L267.4 396.9L265.9 399.3L265.8 400L267.5 402.7L270.3 404.5L274 402.8L278.6 398.3L281.1 397.1L282.8 397.7L285.1 399.2L288.2 399.9L290.9 401.3L293.4 403.7L300.4 405L301.1 405.5L312.5 406.7L318.9 405.5L326.2 404.8L332.1 405.9L339.3 410.7L341.6 414.2L343.1 418.3L352.1 420.9L355.5 423.2L358 426.9L361.8 430.7L369.5 436.4L374.9 438L381.2 437.3L387.3 438L393.4 439.7L404.4 444.6L409.2 449.4L412.9 455.4L417.8 467.8L419.2 473.1L423.1 476.3L433.2 483.4L450.9 489.7L455.6 492L458.2 495.8L462.2 497.2L484.8 500L489.6 501.4L494.5 503.9L504.5 510.3L515.7 515.9L519.3 518.2L522.1 521.8L524 526.5L524.5 532.4L522.8 538.4L518.5 547.1ZM716.9 229.1L717.9 226.1L719.9 226.8L719.9 227.2L717.3 229.1ZM301.5 350.3L300.3 349.7L300.3 349L302.2 348.4L307.1 348.4L308.7 349L308.6 349.9L305.7 350.7ZM254.8 348.7L257.2 349L252.9 349.2ZM260.6 347.3L261 346.2L258.1 340.5L258.4 339.6L266 339.2L274.9 339.7L278.2 340.6L280.5 342.8L283.6 344.4L287.3 345.6L289.9 347.1L290 347.7L288.3 348.5L284 348.2L276.6 349.2L273.3 348.5L269.3 351.4L267.9 350.1L264.7 349.3L260.1 348.5L258.4 348.7ZM186.7 319L191.4 316.6L198.8 316L205.6 316.3L211.8 319.1L218.7 321.1L226.3 324.6L231.3 327.4L239.7 330.2L249.5 335.5L244.2 336.7L236.5 336.4L228.5 336.9L230.5 334.7L230.4 333.6L221.3 329.3L220 325.4L219.5 324.9L211.6 324.8L206.8 322.4L197.8 320.7L195.7 319.3L190.5 317.8L186.4 320.7L181.4 322.5ZM224.2 350.1L225.2 349.3L228.4 349L231.9 349.7L234.5 351.2L232.9 351.8L225.8 351.2ZM223.5 307.2L222.5 303.3L223.2 303.1L224.6 305.4L226 309.5L225.6 311L224.8 310.5ZM770.1 221.4L769.6 220.8L766.8 220.6L763.1 215.5L763.9 213.9L764.9 213L766.7 212L770 211.2L770.1 207.6L759.5 215.9L752.3 218.3L743.3 219.4L742.1 221.2L741.8 222.4L743.2 224.7L743 226.3L742.1 227.4L740.1 228L739.5 229.7L740.3 231L743.2 231L744.4 232.1L752.5 232.7L762.6 231.5L770.1 229.5ZM628.8 198.6L629.2 199.2L630.7 199.7L631.8 198.8L632.1 197.2L630.8 196.1L630.2 196.1L629 196.8Z" fill="#55FF00" fill-rule="evenodd"/>
<path d="M69.9 546.6L70.5 547.1L223.7 547.1L217.8 532.4L211.3 525.2L203.6 518.7L203.8 513.2L204.7 508.8L206.4 505.3L211.9 499.2L211.7 494.8L208.1 492.6L205.8 490.3L209.4 477.9L211.2 474.3L219.5 463.2L223.2 459.5L226.1 455.7L231.9 450.5L228.1 428.5L224.3 422.6L222.3 418.7L219 415.6L215 414.6L210.9 415.6L207.6 418.8L205 425.6L203.2 425L198.6 422.2L187.4 416.7L174.5 406.5L168.9 396.3L163.3 388.8L157.3 382.9L156.5 382.8L155.9 383.6L143.2 382.5L135.9 381.2L130.4 379.4L124.9 376.6L119.3 372.9L111 365.9L107.8 363.8L100.7 366.2L94.5 366.7L88.1 364.9L75.9 360.6L69.9 359.2ZM769.5 547.1L770.1 546.5L770.1 437.8L762.2 440.3L756.2 442.7L751.4 441L745 439.8L737.4 440.3L729.8 441.5L717.6 445.2L711.7 442.8L705.5 439.6L695.6 432.9L680.7 421.8L677.2 416.6L675.4 410.8L672 405.6L667.9 400.7L665.3 394.9L656.8 387.9L655.6 388L654 384.7L652.3 372.6L657.2 360.4L659.7 352.5L659 346L656.4 339.7L654.7 333.6L654 327.6L655.4 321.6L658.4 315.5L666.3 301.8L670.8 295.6L680.6 285.8L686.9 282L699.5 271.9L703.4 266.6L704 260.3L707.2 254.1L708.3 250.7L709.5 249.9L712.3 246.1L711.5 246L711.3 245.7L712.3 245.4L712.5 245.9L718.1 240L717.7 239.1L716.7 238.3L713.6 238.4L710.7 236.4L706.8 235.3L699.8 229.6L693.7 226.8L691.5 226.6L688.5 227.2L684.7 226.9L682.8 226.2L679.7 224.2L678.5 224L672.2 225.9L670.8 228.1L669.6 228.5L666.6 227.1L662.5 226.9L659.8 224.6L655.8 223.6L653.6 222.1L652.4 222L651.3 222.4L648.3 224.8L647.5 224.9L643.6 223.5L640.7 223.6L639 221.6L637.2 217.1L633.4 214L631.6 213.2L628.4 213.1L626.3 213.7L622.1 217.9L620.4 218.6L618.7 218.6L618 218.1L616.9 215.9L615.8 214.8L614.7 214.4L612.4 214.2L608.5 215.3L608 215.1L607.9 211.4L607.2 210L605.5 209.5L600.6 209.8L595.7 208.9L594.5 208.1L594.1 207.4L594.3 206.8L595.8 204.7L595.8 203.4L594.9 202L592.7 200.4L591.4 200.3L590.3 200.7L589.1 201.8L588.5 203.5L588.9 206.3L584.6 209.6L584.7 208.4L584.1 207.1L582.4 205.9L577.8 204.3L574.7 200.7L572.4 200.6L568.3 202L562.6 203.2L558.6 201L555.3 197L543.6 192.4L536.2 194.3L534.9 195.1L533.1 197.4L531.4 198.3L529.8 197.8L529 197.1L527.3 194.1L525.6 193.5L520.4 193L516.6 193.9L513.5 192.6L510.3 194.4L509.7 194.3L506.8 192.1L505.5 191.7L504.3 191.8L501.3 193.2L499.7 193.3L498 191.8L494.9 187.8L490.9 184.3L489.6 183.6L483.4 183.8L477.4 185.6L468.5 185.4L466.3 185.9L460.6 189L459 192.4L456.3 194.6L448.4 195.6L446.2 196.3L443.3 198.5L434.5 199.8L426.7 197.3L421.7 196.7L411.6 193L401.5 194.1L395.6 192.9L382.6 191.7L377.3 189L373.4 184.1L369.8 181.1L367.7 179.9L365.5 179.5L364 180L359.4 183.1L356.1 188.5L355.4 189L353.2 189.8L350.3 191.6L347.3 192.3L344.3 193.8L342.6 194L339.7 193L338.4 193.1L336.4 194L330.3 198.1L325.4 199.2L321.4 199.6L316.3 201.6L309.4 202.1L303.4 203.5L298.4 203.8L295.3 204.6L290.4 206.7L284.5 206.9L275.4 208.3L273.2 209.2L268.3 212.4L249.1 218.9L245.2 220.6L242.2 222.7L239.1 225.7L239.9 228.5L236.9 231.7L232.7 233.3L231 236L229.1 237.8L222.4 242L216.1 248.3L210.2 251.9L206.7 255.1L205 257.5L201.3 265.2L199.3 267.3L202.8 274.1L206.8 285.3L208.4 292.5L208 296.1L207.2 298.9L205.7 300.4L203.9 301.1L204.9 300.2L204.9 299.2L202 296.2L199.3 292.6L197.4 288.8L194.6 285.1L192.8 281.5L190.9 273.9L187.9 269L183.7 266.3L179.6 265.9L175.1 266.8L167.6 263.1L158.1 262.1L153.3 262.5L149.1 263.8L144.7 267.6L142.7 266.9L140.7 265L137.4 264L133.4 266.8L128.1 267.4L122.4 267L111.2 267.8L106.3 268.7L97.6 273.5L93.8 276.4L89.8 280.3L87.4 284.4L86.3 289.3L86.8 294.9L85.5 300.5L84.9 306.2L86.3 317.8L87.8 323.5L90.1 329.1L92.6 333.9L98.3 343.4L102.4 346.9L107.2 349.4L112.2 350L123.7 348.1L128.5 346.9L132.5 344.5L135.5 340.5L137.5 336.6L139.8 329.5L142.4 328.2L152.6 326.9L158.1 326.4L161.2 326.9L162.3 328.9L161.3 332L159.1 334.9L153.4 349.1L151.5 358.4L149.8 361.9L147.9 364.3L147.8 365.1L148.3 365.6L151.6 366.9L165.6 365.8L173 366.3L178.4 367.6L181.8 369.8L184.4 373.3L185.5 377.2L183.1 379.9L182.5 389.4L183.7 397.1L186 403.9L191 409L196.7 412.4L202.7 414.7L208.6 414.7L216.2 411L220.4 411L223.8 412.7L226.4 415.3L229.4 420.5L233 421.3L236.4 417.8L239.3 413.9L241.6 409.4L242.2 404.8L243.7 403L254.3 400L258.1 398.4L260.6 396.8L263.6 393.9L266.7 392.6L268.9 393.7L269.4 395L267.4 396.9L265.9 399.3L265.8 400L267.5 402.7L270.3 404.5L274 402.8L278.6 398.3L281.1 397.1L282.8 397.7L285.1 399.2L288.2 399.9L290.9 401.3L293.4 403.7L300.4 405L301.1 405.5L312.5 406.7L318.9 405.5L326.2 404.8L332.1 405.9L339.3 410.7L341.6 414.2L343.1 418.3L352.1 420.9L355.5 423.2L358 426.9L361.8 430.7L369.5 436.4L374.9 438L381.2 437.3L387.3 438L393.4 439.7L404.4 444.6L409.2 449.4L412.9 455.4L417.8 467.8L419.2 473.1L423.1 476.3L433.2 483.4L450.9 489.7L455.6 492L458.2 495.8L462.2 497.2L484.8 500L489.6 501.4L494.5 503.9L504.5 510.3L515.7 515.9L519.3 518.2L522.1 521.8L524 526.5L524.5 532.4L522.8 538.4L518.5 547.1ZM301.5 350.3L300.3 349.7L300.3 349L302.2 348.4L307.1 348.4L308.7 349L308.6 349.9L305.7 350.7ZM254.8 348.7L257.2 349L252.9 349.2ZM260.6 347.3L261 346.2L258.1 340.5L258.4 339.6L266 339.2L274.9 339.7L278.2 340.6L280.5 342.8L283.6 344.4L287.3 345.6L289.9 347.1L290 347.7L288.3 348.5L284 348.2L276.6 349.2L273.3 348.5L269.3 351.4L267.9 350.1L264.7 349.3L260.1 348.5L258.4 348.7ZM186.7 319L191.4 316.6L198.8 316L205.6 316.3L211.8 319.1L218.7 321.1L226.3 324.6L231.3 327.4L239.7 330.2L249.5 335.5L244.2 336.7L236.5 336.4L228.5 336.9L230.5 334.7L230.4 333.6L221.3 329.3L220 325.4L219.5 324.9L211.6 324.8L206.8 322.4L197.8 320.7L195.7 319.3L190.5 317.8L186.4 320.7L181.4 322.5ZM224.2 350.1L225.2 349.3L228.4 349L231.9 349.7L234.5 351.2L232.9 351.8L225.8 351.2ZM223.5 307.2L222.5 303.3L223.2 303.1L224.6 305.4L226 309.5L225.6 311L224.8 310.5ZM529.3 190.2L529.2 191.7L530.3 193L532.7 192.8L534.4 191.6L534.4 190.2L532.6 189L530.3 188.9Z" fill="#88FF00" fill-rule="evenodd"/>
<path d="M69.9 546.5L70.5 547.1L223.7 547.1L217.8 532.4L211.3 525.2L203.6 518.7L203.8 513.2L204.7 508.8L206.4 505.3L211.9 499.2L211.7 494.8L208.1 492.6L205.8 490.3L209.4 477.9L211.2 474.3L219.5 463.2L223.2 459.5L226.1 455.7L231.9 450.5L228.1 428.5L224.3 422.6L222.3 418.7L219 415.6L215 414.6L210.9 415.6L207.6 418.8L205 425.6L203.2 425L198.6 422.2L187.4 416.7L174.5 406.5L168.9 396.3L163.3 388.8L157.3 382.9L156.5 382.8L155.9 383.6L143.2 382.5L135.9 381.2L130.4 379.4L124.9 376.6L119.3 372.9L111 365.9L107.8 363.8L100.7 366.2L94.5 366.7L88.1 364.9L75.9 360.6L69.9 359.2ZM769.5 547.1L770.1 546.5L770.1 437.8L762.2 440.3L756.2 442.7L751.4 441L745 439.8L737.4 440.3L729.8 441.5L717.6 445.2L711.7 442.8L705.5 439.6L695.6 432.9L680.7 421.8L677.2 416.6L675.4 410.8L672 405.6L667.9 400.7L665.3 394.9L656.8 387.9L655.6 388L654 384.7L652.3 372.6L657.2 360.4L659.7 352.5L659 346L655.6 336.8L654.5 337.1L652.7 336.7L651 335.4L650.9 334.5L651.2 332.7L652.9 328.6L654.6 318.6L656.6 314.6L656.7 310.6L657.5 305.7L657.9 304.9L659.3 304.6L663.6 306.7L666.3 301.8L671.1 295.3L669.1 291.3L668.6 289.5L668.7 288.8L669.5 288L672.5 287.1L673.7 286.3L673 290.5L673.8 292.6L680.6 285.8L682.2 284.9L680.9 282.3L679.5 281.9L676.2 282.5L675.4 283.2L675 284.4L674.5 285.1L674.7 283.4L673 281.4L672.7 280.4L673 279.3L674.5 278.4L680.5 279.2L681.8 278.5L682.4 275.4L681.1 271.8L683.2 269.9L684.9 267L690.7 264.3L695.7 263.4L697.3 261.8L698 259.5L697.4 256.5L697.6 253.4L696.1 250.4L696 248.3L694.7 246.6L690.5 245.8L688.3 246.2L686.8 247.1L686 248.3L686.1 248.8L689.4 251L690.6 252.6L690.1 254.5L688.7 254.7L686.9 253.7L684.8 251.2L684.1 248L679.7 245.5L675.6 245.3L673.9 244.7L673 243.4L672.8 241.3L671.7 239.8L666.7 239.6L663.5 237.6L662.4 237.6L659.4 238.8L657.6 238.9L655.9 237.8L654 234.9L652.6 233.9L651.3 233.9L647.3 236.1L644.7 236.3L641.7 233L635.8 229.8L633.9 227.6L632.5 226.9L629.5 228L629 229.4L629.6 232.6L630.1 233.5L631.5 234.2L633.5 233.4L634 233.7L633.7 235.3L632.5 237.1L631.4 237.7L630.7 237.5L627.8 235.4L621.7 233L618.7 230.3L617.3 230.3L614.7 231.4L609.9 228.3L608.7 227L606.7 226.1L604.3 226.3L602.2 228.1L600.7 228.4L594.9 224.1L593.4 220.2L592.7 219.6L591.5 219.2L588.4 219.3L581.6 221.2L576.7 217.5L575.4 217.3L573.5 218.1L572.9 218L571.8 214.2L569.7 212.1L568.4 211.9L565.4 213.2L563.6 213.1L561.7 212.6L557.8 209.8L555.6 208.9L550.2 209.4L549.1 210.2L548.8 212.2L548.3 213.1L545.2 215L542.5 215.7L541.8 215.5L539.9 213.6L538.6 213L534.5 212.6L530.5 213.3L528.7 213.1L525.9 210.8L524.6 210.3L523.2 210.5L520.5 212.3L520.1 212L519 208.6L517.8 207.5L516.6 207.2L515.3 207.4L512.3 209.2L508.6 209L506.8 208.5L504.8 206.5L503.4 205.9L501.3 206.5L496.5 208.8L494.8 207L493.7 206.4L485.7 205.3L484.1 203.4L484.1 202.5L485.8 197.6L484.8 194.5L485 193.8L486.4 193.5L488.5 194.2L489.8 193.7L491.1 190.6L491.1 189.3L490.3 188L485.6 186.3L481.4 186.2L475.4 187.6L467.4 187.6L464.7 189.1L461.7 193.1L459 196.1L457.3 197.3L454.6 197.9L452.6 197.1L448.4 197.3L446.8 198L443.4 200.4L440.4 200.4L434.5 201.3L426.6 199.3L421.7 199L418.5 196.9L411.6 194.3L400.6 195.5L395.6 193.9L387.6 193.8L382.6 192.8L376.8 190.1L370.6 183L367.6 181L365.4 180.6L360.1 184.1L359.2 186.4L358.8 190.3L357.3 192L347.3 194.7L343.5 196.4L339.6 195.4L338.3 195.5L334.2 198.2L330.3 199.9L326.4 200.7L321.4 200.9L316.3 203.2L309.4 203.4L303.4 205L298.4 205.1L295.3 205.9L291.3 207.7L289.4 208.1L284.5 207.9L276.3 209.1L273.9 210L269.5 214L263.3 215.3L248.3 220.5L242.1 223.7L239.3 226.4L239.9 228.5L236.9 231.7L233.5 233L232 235.8L230.1 237.9L227.2 240L223.1 242L216.1 249.2L209.9 253L206.7 256.1L205 259L200.4 269.3L202.8 274.1L206.8 285.3L208.4 292.5L208 296.1L207.2 298.9L205.7 300.4L203.9 301.1L204.9 300.2L204.9 299.2L202 296.2L199.3 292.6L197.4 288.8L194.6 285.1L192.8 281.5L190.9 273.9L187.9 269L183.7 266.3L179.6 265.9L175.1 266.8L167.6 263.1L158.1 262.1L153.3 262.5L149.1 263.8L144.7 267.6L142.7 266.9L140.7 265L137.2 264L137.6 265.7L139.3 268.6L139.2 269.1L137.6 271L131.4 273.9L128.6 273.8L122.2 271.9L120.7 271.1L119.4 271L118.1 271.3L115.9 274L113.4 275.1L111.4 275.5L107.4 275.4L103.5 276.5L98.5 276.4L95.1 277L94.5 275.9L96.9 275L97.5 273.6L93.7 276.5L89.9 280.2L87.4 284.4L86.3 289.3L86.8 294.9L85.5 300.5L84.9 306.2L86.3 317.8L87.8 323.5L90.1 329.1L92.6 333.9L98.3 343.4L102.4 346.9L107.2 349.4L112.2 350L123.7 348.1L128.5 346.9L132.5 344.5L135.5 340.5L137.5 336.6L139.8 329.5L142.4 328.2L152.6 326.9L158.1 326.4L161.2 326.9L162.3 328.9L161.3 332L159.1 334.9L153.4 349.1L151.5 358.4L149.8 361.9L147.9 364.3L147.8 365.1L148.3 365.6L151.6 366.9L165.6 365.8L173 366.3L178.4 367.6L181.8 369.8L184.4 373.3L185.5 377.2L183.1 379.9L182.5 389.4L183.7 397.1L186 403.9L191 409L196.7 412.4L202.7 414.7L208.6 414.7L216.2 411L220.4 411L223.8 412.7L226.4 415.3L229.4 420.5L233 421.3L236.4 417.8L239.3 413.9L241.6 409.4L242.2 404.8L243.7 403L254.3 400L258.1 398.4L260.6 396.8L263.6 393.9L266.7 392.6L268.9 393.7L269.4 395L267.4 396.9L265.9 399.3L265.8 400L267.5 402.7L270.3 404.5L274 402.8L278.6 398.3L281.1 397.1L282.8 397.7L285.1 399.2L288.2 399.9L290.9 401.3L293.4 403.7L300.4 405L301.1 405.5L312.5 406.7L318.9 405.5L326.2 404.8L332.1 405.9L339.3 410.7L341.6 414.2L343.1 418.3L352.1 420.9L355.5 423.2L358 426.9L361.8 430.7L369.5 436.4L374.9 438L381.2 437.3L387.3 438L393.4 439.7L404.4 444.6L409.2 449.4L412.9 455.4L417.8 467.8L419.2 473.1L423.1 476.3L433.2 483.4L450.9 489.7L455.6 492L458.2 495.8L462.2 497.2L484.8 500L489.6 501.4L494.5 503.9L504.5 510.3L515.7 515.9L519.3 518.2L522.1 521.8L524 526.5L524.5 532.4L522.8 538.4L518.5 547.1ZM494.8 212.5L495.4 211.9L496.1 212.3L496.5 213L494.9 213.1ZM301.5 350.3L300.3 349.7L300.3 349L302.2 348.4L307.1 348.4L308.7 349L308.6 349.9L305.7 350.7ZM254.8 348.7L257.2 349L252.9 349.2ZM260.6 347.3L261 346.2L258.1 340.5L258.4 339.6L266 339.2L274.9 339.7L278.2 340.6L280.5 342.8L283.6 344.4L287.3 345.6L289.9 347.1L290 347.7L288.3 348.5L284 348.2L276.6 349.2L273.3 348.5L269.3 351.4L267.9 350.1L264.7 349.3L260.1 348.5L258.4 348.7ZM186.7 319L191.4 316.6L198.8 316L205.6 316.3L211.8 319.1L218.7 321.1L226.3 324.6L231.3 327.4L239.7 330.2L249.5 335.5L244.2 336.7L236.5 336.4L228.5 336.9L230.5 334.7L230.4 333.6L221.3 329.3L220 325.4L219.5 324.9L211.6 324.8L206.8 322.4L197.8 320.7L195.7 319.3L190.5 317.8L186.4 320.7L181.4 322.5ZM224.2 350.1L225.2 349.3L228.4 349L231.9 349.7L234.5 351.2L232.9 351.8L225.8 351.2ZM223.5 307.2L222.5 303.3L223.2 303.1L224.6 305.4L226 309.5L225.6 311L224.8 310.5ZM104.8 269.7L106.4 271.1L107.7 271.1L110.5 269.8L113.4 270.8L114.6 270.7L118.5 269L119.4 267.2L111.1 267.8L106.3 268.7ZM695 275.5L692.4 275.1L690.4 276.1L689.8 277.4L690.2 279.4ZM688.6 239.5L687.7 238.6L686.1 239L685.7 240.5L686 241.4L687.8 241.5ZM676.7 237.4L677.6 236.5L677.3 235.2L676.7 234.8L674.7 234.9L673.5 236.3L674.3 237.7ZM628.7 229L629.1 228.5L628.8 228L627.1 226.9L625.9 227.2L626.2 229.1L627.5 229.4Z" fill="#AAFF00" fill-rule="evenodd"/>
<path d="M143.5 274L140.4 273.7L132.4 275.7L124.6 274.8L120.4 274.8L116.4 276.2L101.3 278.6L99.2 279.6L96.2 282.2L91.6 284L89.9 286L88.7 286L87.3 284.9L86.3 289.4L86.8 294.9L85.5 300.5L84.9 306.2L86.3 317.6L87.8 323.5L90.1 329.1L92.6 333.9L98.3 343.5L102.3 346.8L107 349.3L112.2 350L128.4 347L132.5 344.6L135.5 340.5L137.5 336.7L139.8 329.5L142.4 328.2L152.6 326.9L158.1 326.4L161.2 326.9L162.3 328.9L161.3 332L159.1 334.9L153.4 349.1L151.5 358.4L149.8 361.9L147.9 364.3L147.8 365.1L148.3 365.6L151.6 366.9L165.6 365.8L173 366.3L178.4 367.6L181.8 369.8L184.4 373.3L185.5 377.2L183.1 379.8L182.5 389.4L183.7 397.1L185.9 403.8L190.9 408.9L196.8 412.4L202.6 414.7L208.5 414.7L216.2 411L220.4 411L223.8 412.7L226.4 415.3L229.4 420.5L233.1 421.3L236.4 417.8L239.3 413.9L241.6 409.4L242.2 404.8L243.7 403L254.3 400L258.1 398.4L260.6 396.8L263.6 393.9L266.7 392.6L268.9 393.7L269.4 395L267.4 396.9L265.9 399.3L265.8 400L267.5 402.7L270.3 404.5L274 402.8L278.6 398.3L281.1 397.1L282.8 397.7L285.1 399.2L288.2 399.9L290.9 401.3L293.4 403.7L300.4 405L301.1 405.5L312.5 406.7L318.9 405.5L326.2 404.8L332.1 405.9L339.3 410.7L341.6 414.2L343.1 418.3L352.1 420.9L355.5 423.2L358 426.9L361.8 430.7L369.5 436.4L374.9 438L381.2 437.3L387.3 438L393.4 439.7L404.4 444.6L409.2 449.4L412.9 455.4L417.8 467.8L419.2 473.1L423.1 476.3L433.2 483.4L450.9 489.7L455.6 492L458.2 495.8L462.2 497.2L484.8 500L489.6 501.4L494.5 503.9L504.5 510.3L515.7 515.9L519.3 518.2L522.1 521.8L524 526.5L524.5 532.4L522.8 538.4L518.5 547.1L769.5 547.1L770.1 546.7L770.1 437.8L762.2 440.3L756.2 442.7L751.4 441L745 439.8L737.4 440.3L729.8 441.5L717.6 445.2L711.7 442.8L705.5 439.6L695.6 432.9L680.7 421.8L677.2 416.6L675.4 410.8L672 405.6L667.9 400.7L665.3 394.9L656.8 387.9L655.6 388L654 384.7L652.3 372.6L657.2 360.4L659.7 352.4L659 346L657.2 341.6L654.2 342.8L651.3 345.3L648.8 345.3L647.5 344.2L647.3 342.7L648.6 339.5L648 334.6L648.5 331.7L650.9 327.7L652.1 319.6L653.8 314.7L655.3 308.6L655.8 303.8L656.8 302.7L660 300.9L663 296.8L664.6 292.7L665.9 287.8L669.4 285L670.3 283.7L670.6 278.7L672.8 274.7L672.8 272.4L672.1 269.6L669.9 265.3L669.1 260L667.7 258.2L665.6 257.7L663.4 257.7L662.2 258.1L660.2 259.6L659.4 259.9L657.7 259.5L655.9 258.4L653.8 256.4L652.8 255.9L647.8 256.3L646 253.3L644.9 252.2L641.8 250.8L638.6 248.8L635.4 249.4L632.4 249.4L629.5 250.2L627.9 249.5L624.8 246.8L622.5 246.2L615.4 246.2L608.7 247.6L608 247.2L607.6 244.3L606 240.9L604.9 239.5L602.8 238.2L599.6 237.1L598.4 237.2L597.2 237.7L596.2 239.4L596.3 242.3L595.7 242.2L590.9 237.1L585.8 233.6L578.7 230.8L573.8 230.4L572 228.9L569.9 225.9L566.6 224.3L565.3 224.2L563.9 225.3L564.5 229.5L563.2 226.2L560.7 224.4L555.7 224.6L552.8 222.6L551.6 222.2L549.4 222.2L546.5 222.9L540.7 221.6L537.6 220.5L536.4 220.5L534.2 221.3L533 222.1L531.1 224.9L529.4 225.7L526.8 225.1L524.7 222.8L522.3 222.8L521 223.5L518.1 227.9L516.4 228.8L509.6 227.3L505.1 226.9L502.6 225.8L499.7 225.4L494.8 223L491.7 220.8L489.5 220.8L485.9 220L485.3 219.3L485.6 217.4L484.9 215.6L483.7 214.6L480.7 214.1L479.5 213.1L478.3 211.3L477.1 206.5L478.8 199.6L478 195.7L478.5 195L481.9 192.7L483.6 190.8L484 189.2L481.9 187.9L480 187.9L475.4 189.2L468.4 189.9L467.2 190.3L465.5 192.2L464.4 195.2L458 203L456.7 205.1L455.7 206L454.6 206L450.4 202L448.6 201.4L447.4 201.3L443.4 202.9L438.5 202.8L436.4 203.5L432.5 203.8L427.5 203.6L424.5 204.3L422.9 203.5L418.8 199.9L413.7 198.7L410.6 197.2L405.6 197.9L403.3 199.5L402.5 199.6L400.8 199.2L396.8 196.1L395.6 195.7L388.5 196.8L386.6 196.7L381.8 194.6L376.8 191.8L374.6 190.1L372.9 188L370.9 186.9L368.5 184L366.5 183.5L362 185.7L361.7 186.5L361.6 191.2L359.2 194.3L357.4 194.9L353.4 195.1L350.9 196L349.6 197.2L347.9 201.1L344.2 202.5L340.3 204.8L338.8 204.9L336.4 204.3L334.2 206L332.5 206.5L326.9 204.2L325.5 202.9L322.5 202.1L320.3 202.7L316.4 204.8L309.5 204.7L302.4 206.8L299.5 206.7L296.3 207.2L294.1 208L291.2 210.8L288.7 210.7L286.7 209.8L284.5 209.6L277.4 210.5L275.9 211.1L274.4 215.1L273.3 215.6L270.3 216.6L266.4 217.1L260.3 218.7L253.3 221.3L248.3 222L242.1 224.8L239.6 227.4L239.9 228.5L236.9 231.7L234.8 232.5L231.1 238.2L228.2 240.4L222.8 243.1L219.7 246.1L217.1 249.5L210.2 254L207 257.1L205.7 259.2L203.9 263.3L203.3 266.5L204 269L205.9 272L207.2 277.3L206.3 277.9L204.2 278.1L206.8 285.3L208.4 292.5L208 296.1L207.2 298.9L205.7 300.4L203.9 301.1L204.9 300.2L204.9 299.2L202 296.2L199.3 292.6L197.4 288.8L194.6 285.1L192.5 280.4L191.5 279.2L188.9 274L187.7 272.8L183.7 271.9L181.7 271L180.2 270L179.4 269L177.7 268.2L175.5 267.6L170.5 267.8L165.5 267.4L162.6 266.3L160.4 266.2L157.4 266.9L154.4 268.3L152.4 268.2L150.2 268.6L147.7 270L145.1 273.3ZM638.8 254.6L641.1 254.3L641.7 255.6L641.4 257.1L639.4 258.2L637.9 258L637.4 257.3L637.5 255.8ZM301.5 350.3L300.3 349.7L300.3 349L302.2 348.4L307.1 348.4L308.7 349L308.6 349.9L305.7 350.7ZM254.8 348.7L257.2 349L252.9 349.2ZM260.6 347.3L261 346.2L258.1 340.5L258.4 339.6L266 339.2L274.9 339.7L278.2 340.6L280.5 342.8L283.6 344.4L287.3 345.6L289.9 347.1L290 347.7L288.3 348.5L284 348.2L276.6 349.2L273.3 348.5L269.3 351.4L267.9 350.1L264.7 349.3L260.1 348.5L258.4 348.7ZM186.7 319L191.4 316.6L198.8 316L205.6 316.3L211.8 319.1L218.7 321.1L226.3 324.6L231.3 327.4L239.7 330.2L249.5 335.5L244.2 336.7L236.5 336.4L228.5 336.9L230.5 334.7L230.4 333.6L221.3 329.3L220 325.4L219.5 324.9L211.6 324.8L206.8 322.4L197.8 320.7L195.7 319.3L190.5 317.8L186.4 320.7L181.4 322.5ZM224.2 350.1L225.2 349.3L228.4 349L231.9 349.7L234.5 351.2L232.9 351.8L225.8 351.2ZM223.5 307.2L222.5 303.3L223.2 303.1L224.6 305.4L226 309.5L225.6 311L224.8 310.5ZM69.9 546.5L70.5 547.1L223.7 547.1L217.8 532.4L211.3 525.2L203.6 518.7L203.8 513.2L204.7 508.8L206.4 505.3L211.9 499.2L211.7 494.8L208.1 492.6L205.8 490.3L209.4 477.9L211.2 474.3L219.5 463.2L223.2 459.5L226.1 455.7L231.9 450.5L228.1 428.5L224.3 422.6L222.3 418.7L219 415.6L215 414.6L210.9 415.6L207.6 418.8L205 425.6L203.2 425L198.6 422.2L187.4 416.7L174.5 406.5L168.9 396.3L163.3 388.8L157.3 382.9L156.5 382.8L155.9 383.6L143.2 382.5L135.9 381.2L130.4 379.4L124.9 376.6L119.3 372.9L111 365.9L107.8 363.8L100.7 366.2L94.5 366.7L88.1 364.9L75.9 360.6L69.9 359.2Z" fill="#CCFF00" fill-rule="evenodd"/>
<path d="M69.9 546.5L70.5 547.1L223.7 547.1L217.8 532.4L211.3 525.2L203.6 518.7L203.8 513.2L204.7 508.8L206.4 505.3L211.9 499.2L211.7 494.8L208.1 492.6L205.8 490.3L209.4 477.9L211.2 474.3L219.5 463.2L223.2 459.5L226.1 455.7L231.9 450.5L228.1 428.5L224.3 422.6L222.3 418.7L219 415.6L215 414.6L210.9 415.6L207.6 418.8L205 425.6L203.2 425L198.6 422.2L187.4 416.7L174.5 406.5L168.9 396.3L163.3 388.8L157.3 382.9L156.5 382.8L155.9 383.6L143.2 382.5L135.9 381.2L130.4 379.4L124.9 376.6L119.3 372.9L111 365.9L107.8 363.8L100.7 366.2L94.5 366.7L88.1 364.9L75.9 360.6L69.9 359.2ZM769.5 547.1L770.1 546.5L770.1 437.8L762.2 440.3L756.2 442.7L751.4 441L744.9 439.8L737.3 440.3L729.8 441.5L717.6 445.2L711.7 442.8L705.5 439.6L695.6 432.9L680.7 421.8L677.2 416.6L675.4 410.8L672 405.6L667.9 400.7L665.3 394.9L663.6 393.5L662.6 393.7L661.9 393.3L661.8 392.1L656.8 387.9L655.6 388L654 384.7L652.3 372.6L653.6 369.2L652.6 368.8L651.4 369L648.4 370.5L645.3 370.3L644.1 370.9L641.5 374L639.8 374L638.9 373.2L638.4 371.5L638.7 370.7L641.6 367.8L642.7 364.6L643.1 361.5L642.4 359.2L640.9 357.9L639.4 357.8L635.5 358.5L634.1 358L633.6 357.3L633.9 355.8L634.6 354.9L636.8 354L638.5 352.6L638 349.5L638.3 345.4L636.7 338.3L636 336.5L634.8 335.1L631.7 334.7L626.8 332.6L625.7 331.2L624 326.4L624.2 324.7L625 323.2L627.8 320.7L633.8 318.3L636.6 316.6L640.5 317.4L642.6 316.1L643.7 316.8L643.4 318.2L642.2 319.4L638.2 322.1L636.6 324.2L635.4 328.5L636 331.7L637.3 332.9L638.5 333.2L639.7 332.8L643.8 330L648.2 327.9L649.2 325.6L650.3 316.7L651.1 315.8L652.1 312.6L652.2 306.5L651.6 303.7L653.1 301.9L656.8 300.2L658.1 298.9L663 291.5L664.5 285.8L667.3 284L668 283L668.3 277.6L669.5 274.6L669.4 272.2L667.8 270.4L664.5 269.2L657.2 272.1L654.2 272.5L653 274.4L652.4 278.5L652.7 280.7L654.6 284.5L654.4 285.2L653.5 285.5L650.4 285.2L647.4 286.6L645.7 286.5L644.9 286.1L644.4 285.3L644.2 282.4L643.4 281.1L639.8 278L635.8 276.6L632 272.2L631.9 270.8L633 268.6L632.8 267.3L631.2 265.1L628.8 263.3L626.4 263.2L622.8 264.6L620.7 261.3L619.3 261.2L617.4 262.3L615.7 262.1L606.8 259.3L603.8 257.2L602.6 256.8L599.3 257.2L597.6 258L595.9 260L593.8 260L592.8 259.2L590.1 253.9L590.4 249.4L588.9 246.4L588.9 243.4L588.4 242.2L586.9 239.9L583.7 238.1L581.6 237.6L580.1 237.8L577 243.2L574.3 245.3L571.7 245.7L569.5 244.3L568.3 244.4L567.3 245.1L565.8 245L560.8 240.2L559.5 239.9L556.5 240.5L554.6 240.1L553.6 238.3L552.8 234.3L551.5 232.1L543.8 225.5L541.6 224.8L539.5 224.7L537.3 225.1L535.8 226.1L534.8 228.3L534.6 230.5L534.8 232.6L535.3 233.4L536.5 233.7L539.6 232.9L541.2 233L541.5 234.4L540.2 238.3L539.1 239.8L536.1 241.2L534 244.1L531.3 245.7L530.6 245.9L527.8 244.2L526.6 244L523.3 244.9L521.8 244.8L521.3 244.3L521.3 243.7L522.6 240.7L522.7 239.3L521.6 238L519.6 237.1L516.4 236.9L514.4 238.1L510.4 237.8L508.2 239L507.3 239L506.2 237.7L507.9 236.9L509.1 235.4L507.9 234L506.6 233.8L505 233.9L503.1 235L500.1 238.7L498.3 239.9L494.6 240.8L491.7 239.3L490.4 239.2L488.8 240.1L487.4 243.1L483.7 241.2L481.5 240.9L480.1 241.9L479.2 243.1L478.6 243.2L477.3 242L474.9 240.7L473 238.3L471.7 237.4L470.5 237.2L465.8 237.5L464.5 235.1L461.7 233.2L460.4 233L456.6 234L453.7 232.2L450.8 231.4L448.4 229L446.6 227.9L444.4 228.1L440.5 229.2L436.8 228.1L434.9 226.7L428.9 220.2L427.6 219.6L424.3 221L421.2 221.6L417.3 225.1L411.5 225.1L410 224.9L408.5 224.1L408.2 223.4L408.4 220.5L408 219.2L406.9 217.7L404.7 216.6L401.5 216.7L397.6 216L394.3 215.9L389.2 218.1L386.5 221L385.5 221.4L384.7 221.2L384 220.6L383.6 218.3L382.9 217L379.5 216.6L378 217L375.3 219.7L374.5 219.8L371.7 218.8L370.3 218.8L367.2 220.1L364.2 222.8L360.4 222.5L358.3 223.9L357.6 224L354.3 221.2L353.8 218.2L352.9 217.1L351.7 216.6L348.4 216.5L346.5 216.9L342.7 220L337.9 222.6L338 221.8L339.9 220.8L340.4 219.7L339.8 218L338.6 217.6L336.6 217.8L329.7 214.5L326.6 213.9L323.6 212.6L322.4 212.6L321.1 213.3L320 214.7L318.8 219.3L317.9 221.1L314.1 223.4L312.2 225.4L311.4 225.7L309.8 225.3L308.4 224.1L306.4 221.1L304.4 219.9L303.2 220.2L302.1 221L296.1 226.2L294.1 227L293 228.2L291.9 230.9L291 236.2L289.3 238L287.4 239L284.7 238.9L279.8 236.2L278.8 235.2L278 233.2L276.7 231.9L272.6 232.3L266.8 229.8L266 229.2L265 226L263.8 224.9L262.6 224.4L255.4 225.2L252.2 226.1L251.5 227.4L251.9 229.6L253 231.5L254.5 233L249.6 234.3L244.8 231.2L242.5 230.8L239.3 231.5L237.1 232.5L235 234.7L232.1 239.1L228.2 241.6L224.3 243L223.1 243.8L220 247.1L218.1 250.1L210.1 255.7L207.6 258.1L206.3 260.2L204.9 264.4L205 265.5L207.3 271.7L208.5 277.4L207.6 279L204.8 280.1L206.8 285.3L208.4 292.5L208 296.1L207.2 298.9L205.7 300.4L203.9 301.1L204.9 300.2L204.9 299.1L202 296.2L199.3 292.6L197.4 288.8L193.9 283.8L191 281L187.9 276.4L185.8 274.9L177.7 271.3L167.5 269.3L160.4 269L158.3 269.5L155.4 270.8L150.8 270.9L149.2 272.1L147.1 276.1L145.2 277.6L143.4 278.1L138.5 277L132.5 277.7L127.5 277L122.5 277L117.5 278.6L112.4 278.4L109.5 278.9L106.4 280.2L102.4 280.5L101.2 280.9L100.1 282L97.1 286L94.3 286.9L90.3 289.1L88.5 289.3L86.3 288.9L86.8 294.9L85.5 300.5L84.9 306.2L86.3 317.6L87.8 323.5L90.1 329.1L92.6 333.9L98.3 343.4L102.3 346.8L107 349.3L112.3 350L123.7 348.1L128.5 346.9L132.5 344.5L135.5 340.5L137.5 336.6L139.8 329.5L142.4 328.2L152.6 326.9L158.1 326.4L161.2 326.9L162.3 328.9L161.3 332L159.1 334.9L153.4 349.1L151.5 358.4L149.8 361.9L147.9 364.3L147.8 365.1L148.3 365.6L151.6 366.9L165.6 365.8L173 366.3L178.4 367.6L181.8 369.8L184.4 373.3L185.5 377.2L183.1 379.8L182.5 389.4L183.7 397.1L185.9 403.8L190.9 408.9L196.7 412.4L202.6 414.7L208.5 414.7L216.2 411L220.4 411L223.8 412.7L226.4 415.3L229.4 420.5L233.1 421.3L236.4 417.8L239.3 413.9L241.6 409.4L242.2 404.8L243.7 403L254.3 400L258.1 398.4L260.6 396.8L263.6 393.9L266.7 392.6L268.9 393.7L269.4 395L267.4 396.9L265.9 399.3L265.8 400L267.5 402.7L270.3 404.5L274 402.8L278.6 398.3L281.1 397.1L282.8 397.7L285.1 399.2L288.2 399.9L290.9 401.3L293.4 403.7L300.4 405L301.1 405.5L312.5 406.7L318.9 405.5L326.2 404.8L332.1 405.9L339.3 410.7L341.6 414.2L343.1 418.3L352.1 420.9L355.5 423.2L358 426.9L361.8 430.7L369.5 436.4L374.9 438L381.2 437.3L387.3 438L393.4 439.7L404.4 444.6L409.2 449.4L412.9 455.4L417.8 467.8L419.2 473.1L423.1 476.3L433.2 483.4L450.9 489.7L455.6 492L458.2 495.8L462.2 497.2L484.8 500L489.6 501.4L494.5 503.9L504.5 510.3L515.7 515.9L519.3 518.2L522.1 521.8L524 526.5L524.5 532.4L522.8 538.4L518.5 547.1ZM643.9 384.5L644.6 383.6L645.3 383.7L646.7 384.9L646.9 386.1L645.6 386.8L644.9 386.5ZM641.3 288.3L642 288.8L642.1 289.5L641 292.2L640.2 293L637.6 293.6L636.3 293.1L635.4 291.4L635.4 290.7L635.9 290.2L638.7 288.3ZM631.5 286.4L631.6 287.5L631.6 288.1L630.9 287.4L631 286.8ZM632.9 285.1L633.7 284.6L634.3 284.6ZM629.6 309L629.6 309.3L629.6 309.3ZM604.4 264.6L603.8 264.3L603.7 263.7L604.5 263.3L605.1 263.6L605.1 264.3ZM301.5 350.3L300.3 349.7L300.3 349L302.2 348.4L307.1 348.4L308.7 349L308.6 349.9L305.7 350.7ZM254.8 348.7L257.2 349L252.9 349.2ZM260.6 347.3L261 346.2L258.1 340.5L258.4 339.6L266 339.2L274.9 339.7L278.2 340.6L280.5 342.8L283.6 344.4L287.3 345.6L289.9 347.1L290 347.7L288.3 348.5L284 348.2L276.6 349.2L273.3 348.5L269.3 351.4L267.9 350.1L264.7 349.3L260.1 348.5L258.4 348.7ZM186.7 319L191.4 316.6L198.8 316L205.6 316.3L211.8 319.1L218.7 321.1L226.3 324.6L231.3 327.4L239.7 330.2L249.5 335.5L244.2 336.7L236.5 336.4L228.5 336.9L230.5 334.7L230.4 333.6L221.3 329.3L220 325.4L219.5 324.9L211.6 324.8L206.8 322.4L197.8 320.7L195.7 319.3L190.5 317.8L186.4 320.7L181.4 322.5ZM224.2 350.1L225.2 349.3L228.4 349L231.9 349.7L234.5 351.2L232.9 351.8L225.8 351.2ZM223.5 307.2L222.5 303.3L223.2 303.1L224.6 305.4L226 309.5L225.6 311L224.8 310.5ZM648.9 269.8L650 272.1L651.3 272.8L653.7 272.8L654.7 271.7L654.4 269.2L652.7 267.3L651.4 267.1L650.2 267.5L649.3 268.2ZM531.3 234.5L525.2 237L524.4 238.3L524.4 239.7L525.3 241L527.3 242.1L530.4 242.7L532.6 242.5L534.4 241.9L534.8 240.5L534.2 238.5L534.7 235.5L533.9 234.3ZM320.4 207.3L322.9 206L323 205L321.5 204.4L320 205L319.2 206.6ZM305 208L304.8 208.8L306.2 209.9L308.5 210.1L312.5 209L314 207.5L313.5 206.9L309.5 206.4L307 206.9Z" fill="#DDFF00" fill-rule="evenodd"/>
<path d="M198.8 291.7L196.7 291.3L192.9 289.4L192.2 288.3L190.9 284.2L186.8 278.5L182.7 276.2L171.5 271.9L167.4 270.9L165.4 270.8L162.3 271.4L156.4 273.7L152.3 273.9L151.1 274.5L147.2 278.4L141.4 280.9L139.6 280.9L135.6 279.5L131.5 279.7L127.5 278.9L122.4 279.5L118.4 281.8L116.8 281.4L113.6 280L111.4 280.1L107.2 282.4L102.2 284.4L101 285.4L99.5 288.2L98.3 288.9L94.3 289.2L88.3 292.2L86.5 292.4L86.8 294.9L85.5 300.5L84.9 306.2L86.3 317.8L87.8 323.5L90.1 329.2L98.2 343.3L102.3 346.8L107.4 349.4L112.3 350L123.7 348.1L128.5 346.9L132.4 344.6L135.5 340.5L137.5 336.7L139.8 329.5L142.4 328.2L158.1 326.4L161.2 326.9L162.3 328.9L161.3 332L159.1 334.9L153.4 349.1L151.5 358.4L149.8 361.9L147.9 364.3L147.8 365.1L148.3 365.6L151.6 366.9L165.6 365.8L173 366.3L178.4 367.6L181.8 369.8L184.4 373.3L185.5 377.2L183.1 379.8L182.5 389.4L183.7 397.1L186 403.8L191 409L196.7 412.4L202.4 414.7L208.6 414.7L216.2 411L220.4 411L223.8 412.7L226.4 415.3L229.4 420.5L233.2 421.2L239.3 413.9L241.6 409.4L242.2 404.8L243.7 403L254.3 400L258.1 398.4L260.6 396.8L263.6 393.9L266.7 392.6L268.9 393.7L269.4 395L267.4 396.9L265.9 399.3L265.8 400L267.5 402.7L270.3 404.5L274 402.8L278.6 398.3L281.1 397.1L282.8 397.7L285.1 399.2L288.2 399.9L290.9 401.3L293.4 403.7L300.4 405L301.1 405.5L312.5 406.7L318.9 405.5L326.2 404.8L332.1 405.9L339.3 410.7L341.6 414.2L343.1 418.3L352.1 420.9L355.5 423.2L358 426.9L361.8 430.7L369.5 436.4L374.9 438L381.2 437.3L387.3 438L393.4 439.7L404.4 444.6L409.2 449.4L412.9 455.4L417.8 467.8L419.2 473.1L423.1 476.3L433.2 483.4L450.9 489.7L455.6 492L458.2 495.8L462.2 497.2L484.8 500L489.6 501.4L494.5 503.9L504.5 510.3L515.7 515.9L519.3 518.2L522.1 521.8L524 526.5L524.5 532.4L522.8 538.4L518.5 547.1L769.5 547.1L770.1 546.7L770.1 437.8L762.2 440.3L756.2 442.7L751.4 441L744.9 439.8L737.3 440.3L729.8 441.5L717.6 445.2L711.7 442.8L705.5 439.6L695.6 432.9L680.7 421.8L677.2 416.6L675.4 410.8L672 405.6L667.9 400.7L665.5 395.4L663.5 395.8L659.7 395.5L658.7 394.3L657.6 391.1L655.8 389.6L652.6 388.3L651.3 388.3L650.2 388.8L645.3 392.3L643.7 392.1L641.9 389.4L640.6 378.3L637.3 374.2L636.4 372.4L636.8 367.5L636.4 366.2L634.9 364L628 360L626.4 358.2L625.2 353.5L626.2 350.6L626 349.3L622.2 346.1L619.8 342.3L619.6 340.6L620.6 335.5L619.6 331.3L618.6 330L615.8 328.5L614.8 327.3L614.9 324.4L614.5 323.1L611.1 321.1L609.4 319.3L609.6 318.7L612.5 319.1L614.7 318.6L615.8 317.9L616.4 316.4L616.2 315.3L614.9 313.3L611.3 311.1L607.7 307.2L606.5 302.3L604.3 299.2L603.7 297.4L604.4 292.5L604 289.1L602.9 287.8L597.8 283.8L591.6 282.5L587.7 282.6L586.3 281.3L586.6 278.7L587.7 277.1L591.6 277.2L594.2 275.9L595.1 273.4L594.9 272.2L593.7 271.1L592.5 270.8L587.7 271.5L582.7 268.8L580.6 268.1L576.6 268.9L575.2 268L572.9 265.4L571.4 265.3L566.8 268L563.1 271.9L561.5 272.7L559.7 271.2L558.5 267.3L556.8 265.1L553.9 262.2L550.8 260.3L544.7 257.8L543.5 257.7L540.4 259L537.8 260.9L535.7 258.9L528.6 257.5L526.9 256.9L525.8 255.3L525.7 251.4L524.8 250.1L523.4 249.8L516.6 251L514.9 250.1L514 247.9L512.6 246.7L511.3 246.9L505.3 249.6L499.4 251.3L496.5 250.7L492.5 251.4L483.5 251.1L481.3 251.6L476.4 253.7L470.7 253.5L468.9 252.7L463.9 248L462.7 247.3L459.8 246.5L456.9 244L455.7 243.5L454.4 243.5L453.4 244L451.6 246L450.3 246.5L448.5 246.7L446.8 246.4L444.5 244.2L443 239L441.9 237.7L440.7 237.3L437.5 237.2L434.3 237.7L430.3 240.2L427.4 240.4L425.2 241.8L423.6 242L409.8 236.6L406.8 233.7L402.7 231.9L399.8 231.5L397.9 229.3L396.5 228.7L395.2 229L392.5 231.1L390.1 235.2L386.4 237L385.9 236.9L385.7 236.4L385.5 233.2L384.8 232.4L383.5 232.2L381.4 232.4L379.9 233L377.5 237.1L376.3 237.9L370.6 236.7L363.5 236.5L359.3 238.9L356.6 239.3L350.7 236L346.3 236L345.2 236.5L344 237.7L341 244.6L340.1 245.7L339.4 245.9L337.4 245.2L337.9 242.4L336.9 241L332.7 238.8L331.6 238.7L325.4 242.8L323.9 242.4L322.7 241L320.5 239.9L318.5 239.5L317.3 239.9L316.4 241.3L315.8 244.3L314.9 246.1L314.2 246.8L311.3 247.4L309.3 248.3L308.6 248.4L305.7 246.3L301.7 245.9L300.9 245.4L299.1 243L297.4 242.6L294.1 244L293.1 246.2L290.1 249.1L289.1 251.5L288.4 251.9L279.8 249.4L278 246.1L276 243.4L274.6 242.4L271.5 243.5L269.5 242.9L268.3 243.3L263.8 248L262.3 248.7L260.7 248.8L259.8 248.2L258.9 246.2L257.8 245.2L253.7 244.4L250.8 243.2L247 239L240.8 235.5L237.5 234.9L235.9 236.1L233.1 240.5L224.1 244.5L221.6 247.2L219.1 251.6L211.1 256.5L209.1 258.3L207.8 260.2L207.3 262.5L207.4 267.6L208.5 271.6L209.3 277.5L209 279.2L208.2 280.1L205.3 281.6L206.8 285.3L208.4 292.5L208 296.1L207.2 298.9L205.7 300.4L203.9 301.1L204.9 300.2L204.9 299.2L202 296.2ZM223 310.4L224 308.4L222.5 303.3L223.2 303.1L224.6 305.4L225.9 309.3L226.7 306.8L228.1 307.1L228.4 308.5L228.1 309.5L226.4 310.1L226.3 311.3L225.4 311.9L224.6 311.9L223.3 311.1ZM301.5 350.3L300.3 349.7L300.3 349L302.2 348.4L307.1 348.4L308.7 349L308.6 349.9L305.7 350.7ZM254.8 348.7L257.2 349L252.9 349.2ZM260.6 347.3L261 346.2L258.1 340.5L258.4 339.6L266 339.2L274.9 339.7L278.2 340.6L280.5 342.8L283.6 344.4L287.3 345.6L289.9 347.1L290 347.7L288.3 348.5L284 348.2L276.6 349.2L273.3 348.5L269.3 351.4L267.9 350.1L264.7 349.3L260.1 348.5L258.4 348.7ZM186.7 319L191.4 316.6L198.8 316L205.6 316.3L211.8 319.1L218.7 321.1L226.3 324.6L231.3 327.4L239.7 330.2L249.5 335.5L244.2 336.7L236.5 336.4L228.5 336.9L230.5 334.7L230.4 333.6L221.3 329.3L220 325.4L219.5 324.9L211.6 324.8L206.8 322.4L197.8 320.7L195.7 319.3L190.5 317.8L186.4 320.7L181.4 322.5ZM224.2 350.1L225.2 349.3L228.4 349L231.9 349.7L234.5 351.2L232.9 351.8L225.8 351.2ZM69.9 546.5L70.5 547.1L223.7 547.1L217.8 532.4L211.3 525.2L203.6 518.7L203.8 513.2L204.7 508.8L206.4 505.3L211.9 499.2L211.7 494.8L208.1 492.6L205.8 490.3L209.4 477.9L211.2 474.3L219.5 463.2L223.2 459.5L226.1 455.7L231.9 450.5L228.1 428.5L224.3 422.6L222.3 418.7L219 415.6L215 414.6L210.9 415.6L207.6 418.8L205 425.6L203.2 425L198.6 422.2L187.4 416.7L174.5 406.5L168.9 396.3L163.3 388.8L157.3 382.9L156.5 382.8L155.9 383.6L143.2 382.5L135.9 381.2L130.4 379.4L124.9 376.6L119.3 372.9L111 365.9L107.8 363.8L100.7 366.2L94.5 366.7L88.1 364.9L75.9 360.6L69.9 359.2ZM665.5 280.7L664.6 279.1L664.1 279.3L663.4 280.4L664.4 281.9L664.9 281.8ZM573.1 264.7L574.4 265.4L575.7 265.1L576.3 263.3L574.3 262.2L573 263.3Z" fill="#E5FF00" fill-rule="evenodd"/>
<path d="M116.7 284.3L113.7 282.5L112.6 282.3L111.2 282.7L107.9 285.1L106.1 287.4L103.2 289L100.8 291L99.5 291.2L94.3 291L92.2 291.7L88.3 294.1L86.8 294.4L85.5 300.5L84.9 306.2L86.3 317.8L87.8 323.5L90.1 329.2L98.2 343.3L102.3 346.8L107.4 349.4L112.3 350L128.4 347L132.5 344.5L135.5 340.5L137.5 336.6L139.8 329.5L142.4 328.2L152.6 326.9L158.1 326.4L161.2 326.9L162.3 328.9L161.3 332L159.1 334.9L153.4 349.1L151.5 358.4L149.8 361.9L147.9 364.3L147.8 365.1L148.3 365.6L151.6 366.9L165.6 365.8L173 366.3L178.4 367.6L181.8 369.8L184.4 373.3L185.5 377.2L183.1 379.9L182.5 389.4L183.7 397.1L186 403.9L191 409L196.7 412.4L202.7 414.7L208.6 414.7L216.2 411L220.4 411L223.8 412.7L226.4 415.3L229.4 420.5L233 421.3L236.4 417.8L239.3 413.9L241.6 409.4L242.2 404.8L243.7 403L254.3 400L258.1 398.4L260.6 396.8L263.6 393.9L266.7 392.6L268.9 393.7L269.4 395L267.4 396.9L265.9 399.3L265.8 400L267.5 402.7L270.3 404.5L274 402.8L278.6 398.3L281.1 397.1L282.8 397.7L285.1 399.2L288.2 399.9L290.9 401.3L293.4 403.7L300.4 405L301.1 405.5L312.5 406.7L318.9 405.5L326.2 404.8L332.1 405.9L339.3 410.7L341.6 414.2L343.1 418.3L352.1 420.9L355.5 423.2L358 426.9L361.8 430.7L369.5 436.4L374.9 438L381.2 437.3L387.3 438L393.4 439.7L404.4 444.6L409.2 449.4L412.9 455.4L417.8 467.8L419.2 473.1L423.1 476.3L433.2 483.4L450.9 489.7L455.6 492L458.2 495.8L462.2 497.2L484.8 500L489.6 501.4L494.5 503.9L504.5 510.3L515.7 515.9L519.3 518.2L522.1 521.8L524 526.5L524.5 532.4L522.8 538.4L518.5 547.1L769.5 547.1L770.1 546.7L770.1 437.8L762.2 440.3L756.2 442.7L751.4 441L744.9 439.8L737.3 440.3L729.8 441.5L717.6 445.2L711.7 442.8L705.5 439.6L695.6 432.9L680.7 421.8L677.2 416.6L675.3 410.7L672 405.6L667.9 400.7L666.4 397.5L659.4 399L657.4 398.9L655.7 398.1L652.8 394.8L651.7 394.1L650.5 393.9L648.3 395L645.3 398L642.6 398.3L640.8 397.5L636.1 392.2L636 390.7L637.4 388.8L638.4 386.6L638.7 383.4L638 381.6L636.3 379.3L635.5 376.2L633.5 373.3L633.3 368.4L632.9 367.2L632 366.1L630.3 365.9L627.5 367.4L625.6 366.5L624.3 366.6L623.1 368.1L621.6 368.8L618.8 366.5L616.7 365.5L613.6 365.6L612.9 365.2L612.9 362.7L614.1 359.9L614.2 358.6L613.5 356.2L611.8 354.6L609.5 353.9L608.2 354.5L606.5 356L602.9 353.2L602.1 344.3L599 339.1L597.8 338.4L596 338.9L594.2 342.8L586.5 343.3L584.8 342.9L583.9 342.3L581.5 339.2L580.7 337.4L581 335.7L582 333.8L584.8 330.7L586.6 323.8L587.9 322.2L591.7 318.9L591.6 320.6L592.7 324.7L594.3 325.7L595.9 325.7L596.4 329.6L597.1 331.1L598.5 332.1L599.7 332.1L600.9 331.2L601.5 329.6L601.3 327.4L601 326.1L599.9 324.6L596.9 324L595 318.6L593.5 317.6L594.1 316.9L594.5 314.6L593.9 312.8L592.6 312.1L590.6 312.2L587.7 310.5L584.4 310.2L584.2 309.5L584.7 307.8L587.3 304.6L586.4 298.5L586.5 295.3L586 294.1L584.8 293.1L581.6 292.8L580.9 292.4L579 290.1L576.5 288.1L575.1 285.7L575 283.2L573.7 282.2L568.4 283.6L560.6 283.7L557.7 283.1L556 282L553.8 279.9L552.5 279.7L551.5 280.1L550.2 282.6L547.4 283.6L545.7 283.6L543 282L542.6 281.3L542.4 280.5L542.8 277.4L542.5 276.2L541.7 275.1L532.8 269.3L530.3 269L524.4 272.8L520.6 273L518.9 272.2L515.2 267.4L516.1 262.6L515.9 261.2L514.9 259.7L512.6 258.5L504.4 261.9L498.6 260.4L491.7 259.7L489.6 257.6L488.1 257.9L486.2 260.7L484.5 261.2L478.7 258.5L476.4 258.6L475 259.8L474.5 261.6L475 263.2L477 265.6L475.2 267.5L472.5 268.6L467.7 266.3L463.8 265.7L463 265.1L460.9 261.7L459.8 260.7L458.6 260.4L453.4 261.7L448.5 262.1L446.8 261.7L442.7 259.2L437.6 257.6L435.3 257.7L433.4 259.2L429.6 258.1L423.4 257.9L422.1 258.3L421.5 259.2L420.6 263.3L419.7 265L417.4 265.7L412.6 266L408.6 264.3L404.7 264.1L401.7 261.8L399.6 261.9L399 261.5L397 257.3L392.7 254.5L388.5 253.8L385.6 254.3L383.5 253.3L377.6 254L374.8 253L373.6 252.1L373 248.3L371.9 247.1L365.5 245.5L363.3 245.8L359.5 248L358.6 249.2L358.2 250.4L358.1 252.6L358.8 254.8L362.5 258.7L362.6 262.4L362.3 263.2L360.7 263.2L356.8 259.4L354.5 258.9L351.2 259.1L345.2 263.1L341.4 264.7L338.5 264.2L335.6 264.3L330.6 261.7L324.4 261.7L323 262.6L321.9 264.3L321.7 265.5L322.6 268.5L322.3 269L320.9 268.7L318.9 266.6L316.8 265.4L314.5 264.7L312.2 265.3L308.4 268.1L304.4 267.9L298.4 269.8L294 268.9L292.1 268.1L291.1 266.1L289.8 265.2L286.7 264.7L284 263.1L283 259.9L281.5 258.7L280.3 258.8L277.2 260.1L274.1 263.5L271.9 265L267.5 266.1L265.8 265.8L261.8 262.5L259.7 261.8L256.6 260L253.6 259.1L251.4 259.1L249.9 260.1L247.2 264.5L241.4 265.3L237.4 265.4L235 267L233.5 267.6L230.9 266.2L230.5 262.2L226.9 257.7L225.3 258L223.7 259.7L221.7 256.1L220.6 255.4L219.3 255.7L216.3 257.5L212.3 258.2L210.9 259L209.8 260.3L209.4 262.4L209.1 268.5L210.1 276.5L209.9 279.3L209.1 281L205.8 282.9L207.8 289L208.4 292.5L208 296.1L207.2 298.9L205.7 300.4L203.9 301.1L204.9 300.2L204.9 299.2L200.7 294.5L197.7 295.2L191 292L190.2 290.3L189.3 286.2L188.7 285.1L186.9 283.4L182.8 280.3L177.8 278.7L171.4 274L167.6 272.6L164.4 272.7L159.3 274.9L153.3 276.3L149.2 279.5L141.4 283.3L137.7 282.9L134.6 281.8L130.6 281.9L127.5 281.1L123.3 281.8L119.4 284.4ZM575.2 298.9L574.1 297.7L574.6 296.8L575.7 297L576.4 297.7L576.1 298.5ZM221.8 304.9L222.7 304.2L222.5 303.3L223.2 303.1L223.6 303.7L225.8 302.1L226.5 301.9L228.1 302.7L230 305.1L230.8 306.7L230.8 308.4L229.2 312.2L228.2 313.4L224.5 314.4L222.8 313.8L221.2 312.1L220.6 311.3L220.4 309.5L220.7 306.7ZM301.5 350.3L300.3 349.7L300.3 349L302.2 348.4L307.1 348.4L308.7 349L308.6 349.9L305.7 350.7ZM254.8 348.7L257.2 349L252.9 349.2ZM260.6 347.3L261 346.2L258.1 340.5L258.4 339.6L266 339.2L274.9 339.7L278.2 340.6L280.5 342.8L283.6 344.4L287.3 345.6L289.9 347.1L290 347.7L288.3 348.5L284 348.2L276.6 349.2L273.3 348.5L269.3 351.4L267.9 350.1L264.7 349.3L260.1 348.5L258.4 348.7ZM186.7 319L191.4 316.6L198.8 316L205.6 316.3L211.8 319.1L218.7 321.1L226.3 324.6L231.3 327.4L239.7 330.2L249.5 335.5L244.2 336.7L236.5 336.4L228.5 336.9L230.5 334.7L230.4 333.6L221.3 329.3L220 325.4L219.5 324.9L211.6 324.8L206.8 322.4L197.8 320.7L195.7 319.3L190.5 317.8L186.4 320.7L181.4 322.5ZM224.2 350.1L225.2 349.3L228.4 349L231.9 349.7L234.5 351.2L232.9 351.8L225.8 351.2ZM69.9 546.5L70.5 547.1L217 547.1L219.9 543.5L221.5 542.7L221.9 542.8L221.8 543.3L220.4 545.3L220.1 546.8L220.6 547.1L223.7 547.1L217.9 532.5L211.4 525.3L209.4 523.6L207 525.8L205.1 529.2L203.4 529.9L201.9 529.6L199.2 526.1L197.4 523.2L195.4 521L192.8 519.2L189.8 518.3L187 516.1L186.1 514.3L184.6 508.3L182.6 505.2L182.2 503.6L182.8 502.6L183.4 502.4L186.1 505L187.4 505.5L188.7 505.5L191.6 504.4L193.2 504.7L194 505.7L195.1 510.8L195.9 511.9L199 514.6L199.7 515.8L200.1 517.5L199.9 520.6L200.6 521.9L201.5 522.5L202.7 522.1L204.8 519.8L203.6 518.7L203.8 513.2L204.7 508.8L206.4 505.3L211.9 499.2L211.7 494.8L208.1 492.6L205.8 490.3L209.4 477.9L211.2 474.3L219.5 463.2L223.2 459.5L226.1 455.7L231.9 450.5L228.1 428.5L224.3 422.6L222.3 418.7L219 415.6L215 414.6L210.9 415.6L207.6 418.8L205 425.6L203.2 425L198.6 422.2L187.4 416.7L174.5 406.5L168.9 396.3L163.3 388.8L157.3 382.9L156.5 382.8L155.9 383.6L143.2 382.5L135.9 381.2L130.4 379.4L124.9 376.6L119.3 372.9L111 365.9L107.8 363.8L100.7 366.2L94.5 366.7L88.1 364.9L75.9 360.6L69.9 359.2ZM237.1 238.2L235.6 241.6L235.9 242.8L237.1 244L239.5 245.1L240.7 244.9L242 243.9L242.4 242.5L242.1 241.2L239.4 238L238.3 237.6ZM225.9 245L224.6 246.2L224 247.6L224.3 248.8L225.1 249.6L226.5 250L231.9 248.6L233.3 246.7L233.6 244.5L232.8 243.4L231.5 243.1Z" fill="#EEFF00" fill-rule="evenodd"/>
<path d="M109.1 292.9L107.4 293.5L101.5 293.8L96.6 292.6L94.3 292.7L86.4 296.5L85.5 300.4L84.9 306.3L86.3 317.6L87.8 323.4L90.1 329.1L92.6 333.9L98.3 343.4L102.3 346.8L107 349.3L112.1 350L123.6 348.1L128.4 347L132.5 344.5L135.5 340.5L137.5 336.6L139.8 329.5L142.4 328.2L152.6 326.9L158.1 326.4L161.2 326.9L162.3 328.9L161.3 332L159.1 334.9L153.4 349.1L151.5 358.4L149.8 361.9L147.9 364.3L147.8 365.1L148.3 365.6L151.6 366.9L165.6 365.8L173 366.3L178.4 367.6L181.8 369.8L184.4 373.3L185.5 377.2L183.1 379.9L182.5 389.4L183.7 397.1L186 403.9L191 409L196.7 412.4L202.7 414.7L208.6 414.7L216.2 411L220.4 411L223.8 412.7L226.4 415.3L229.4 420.5L233 421.3L236.4 417.8L239.3 413.9L241.6 409.4L242.2 404.8L243.7 403L254.3 400L258.1 398.4L260.6 396.8L263.6 393.9L266.7 392.6L268.9 393.7L269.4 395L267.4 396.9L265.9 399.3L265.8 400L267.5 402.7L270.3 404.5L274 402.8L278.6 398.3L281.1 397.1L282.8 397.7L285.1 399.2L288.2 399.9L290.9 401.3L293.4 403.7L300.4 405L301.1 405.5L312.5 406.7L318.9 405.5L326.2 404.8L332.1 405.9L339.3 410.7L341.6 414.2L343.1 418.3L352.1 420.9L355.5 423.2L358 426.9L361.8 430.7L369.5 436.4L374.9 438L381.2 437.3L387.3 438L393.4 439.7L404.4 444.6L409.2 449.4L412.9 455.4L417.8 467.8L419.2 473.1L423.1 476.3L433.2 483.4L450.9 489.7L455.6 492L458.2 495.8L462.2 497.2L484.8 500L489.6 501.4L494.5 503.9L504.5 510.3L515.7 515.9L519.3 518.2L522.1 521.8L524 526.5L524.5 532.4L522.8 538.4L518.5 547.1L769.5 547.1L770.1 546.7L770.1 437.8L762.2 440.3L756.2 442.7L751.4 441L744.9 439.8L737.3 440.3L729.8 441.5L717.6 445.2L711.7 442.8L705.5 439.6L695.6 432.9L680.7 421.8L677.2 416.6L675.3 410.7L672.1 405.7L667.7 400.3L665.5 400.8L658.6 400.8L654.3 400L651.5 398.2L650.3 398.3L646.4 400.1L643.6 400.3L641.7 399.9L638.9 398.1L634.3 392.2L633.4 389.6L634.2 387.6L634.1 385.3L633.3 384L630.9 382.8L629.4 380.1L627.5 379.3L623.4 380.8L620.1 380.4L621.4 377.7L621.5 376.4L620.5 374.2L618.8 372.5L616.5 371.8L611.4 373.1L606.8 372.8L605.9 371.4L605.9 368.3L604.5 366.8L603 367L600.2 370.1L599.4 370.4L598 370L596.7 368.4L598.6 362.6L598.6 361.3L597.8 359.9L596.5 359.5L595.4 359.7L593.3 360.8L590.3 361.4L589.1 362L588.5 363.4L588.4 366.3L587.8 367L584.3 367.8L581.3 369.2L579.6 369.3L578.5 369L576.5 367.2L575.9 363.3L574.6 361L566.8 355.3L561.8 354L561.1 353.2L559.6 348.4L559.4 345.4L558.9 344.2L557.6 343L553.8 341.2L551.9 337.3L551.5 334.1L547.7 331.5L538.7 329.2L535.6 327.1L534.8 325.5L535.2 322.5L535.1 320.4L533 316.7L530.7 314.8L524.8 313.8L524.3 313.3L524.9 309.4L524.2 308.1L520.8 304.9L515.9 301.9L512.8 298L511.6 297.4L510 297.4L509.2 295.2L508 294L506.4 293.8L503.3 295.1L501.7 295L497.7 292.7L494.6 292.8L493.9 292.5L490.6 288L489.6 287.5L485.8 287.2L486.5 284.9L488.4 282.8L488.5 281.4L487.4 280L483.7 277.5L481.3 277.4L479.2 278.8L477.4 279.3L474.5 279.7L470.3 279.6L466.3 281.8L464.7 281.9L463.5 281.1L462.6 278.2L461.9 277.3L458.9 275.8L455.9 272.2L452.8 271L448.6 267.9L446.4 268L441.5 269.9L436.6 268.3L433.2 267.9L431.1 266L429.5 265.7L427.1 267L424.3 270.7L422.7 270.6L419.8 268.6L417.5 268.2L411.5 268.7L407.4 268.3L404.2 270.1L401.6 270.7L400.4 270.1L399 268L393.9 266.5L392 262.5L390.5 261.8L381.4 263.6L377.8 263.9L374.5 264.9L372.8 266L371.9 267.1L371 270.1L369.4 270.8L364.5 270.2L360.4 271.5L357.5 271.3L354.6 271.8L353.8 271.6L353.4 270.4L353.1 266.2L351.7 265.2L350.4 265.2L348.5 266L347.3 267.1L345.2 270.2L343.6 270.5L339.5 269.7L337.6 269.9L334.4 271.6L331.2 271.8L327.2 275L325.4 275.6L319 274.9L317.6 274L315.9 271.5L314.5 270.8L310.4 271L307.3 271.7L305.1 272.9L302.3 275.3L291.7 275.2L286.4 272L285.9 271.4L285.9 269L283.8 268L282.5 267.7L280.4 267.9L273 269.9L270.2 272.7L269.5 272.9L266.7 271L262.7 270.2L259.7 268.7L257.4 268.4L255.2 269L251.3 271.4L243.3 274.8L237.5 275.6L235.9 275.2L234.8 273L232.8 272.2L229.9 269.3L226.8 267.4L222.8 266.5L219.6 264.9L217.1 264.9L214.5 263.5L213 264.2L211.2 268.4L210.7 278.4L210 282.1L206.4 284.4L208.4 292.5L208 296.1L207.2 298.9L205.7 300.4L203.9 301.1L204.9 300.2L205 299.4L202.3 296.5L199.2 300L198.5 300.3L196.8 299.6L192.9 296.3L189.9 294.6L188.7 293.2L188 289.3L186.9 287.1L181.8 284.2L176.9 282.6L169.9 275.6L167.5 274.5L165.3 274.7L161.4 276.5L155.2 277.7L151.1 281.1L144.4 285L141.4 288L140.4 288.5L139.1 288.1L138.8 287L136.6 285.8L124.4 285.5L123.2 285.8L117.3 289.1L112.3 289.5L111.1 290.2ZM219 301.8L223.7 299.3L225.4 299.1L228.2 300.1L230.3 301.9L232.5 305.7L233 307.5L231 315.1L229.4 315.7L223.6 315.8L221.5 315L218.6 312.2L218.2 310.6L218.8 307.6L218.7 302.6ZM222.1 290.3L222.8 288.7L224.3 288.6L225.6 289.8L226 291.4L225.2 292.4L223.8 292.5L222.4 291.2ZM301.5 350.3L300.3 349.7L300.3 349L302.2 348.4L307.1 348.4L308.7 349L308.6 349.9L305.7 350.7ZM254.8 348.7L257.2 349L252.9 349.2ZM260.6 347.3L261 346.2L258.1 340.5L258.4 339.6L266 339.2L274.9 339.7L278.2 340.6L280.5 342.8L283.6 344.4L287.3 345.6L289.9 347.1L290 347.7L288.3 348.5L284 348.2L276.6 349.2L273.3 348.5L269.3 351.4L267.9 350.1L264.7 349.3L260.1 348.5L258.4 348.7ZM186.7 319L191.4 316.6L198.8 316L205.6 316.3L211.8 319.1L218.7 321.1L226.3 324.6L231.3 327.4L239.7 330.2L249.5 335.5L244.2 336.7L236.5 336.4L228.5 336.9L230.5 334.7L230.4 333.6L221.3 329.3L220 325.4L219.5 324.9L211.6 324.8L206.8 322.4L197.8 320.7L195.7 319.3L190.5 317.8L186.4 320.7L181.4 322.5ZM224.2 350.1L225.2 349.3L228.4 349L231.9 349.7L234.5 351.2L232.9 351.8L225.8 351.2ZM69.9 546.5L70.5 547.1L210.7 547L210.9 546.4L210.3 544.2L208.1 541.2L207.3 538.3L205.1 535.1L200.9 531.5L195.7 526.1L192.4 522L186.8 518.7L185 517.1L184.4 515.4L184.3 512.4L183.8 510.3L180.8 505.2L179.1 500.7L179.8 500L183.4 499.1L186.4 499.9L188.4 499.8L193.3 501.7L196.6 503.9L199 507.7L200.2 508.7L201.5 509.2L202.7 509.1L204.9 507.7L206.4 505.3L211.7 499.6L211.7 494.8L208.1 492.6L205.8 490.3L209.4 477.9L211.2 474.3L219.5 463.2L223.2 459.5L226.1 455.7L228.8 453L231.6 451.1L231.9 450.4L228.1 428.5L224.3 422.6L222.3 418.7L219 415.6L215 414.6L210.9 415.6L207.6 418.8L205 425.6L203.2 425L198.6 422.2L187.4 416.7L174.5 406.5L168.9 396.3L163.3 388.8L157.3 382.9L156.5 382.8L155.9 383.6L143.2 382.5L135.9 381.2L130.4 379.4L124.9 376.6L119.3 372.9L111 365.9L107.8 363.8L100.7 366.2L94.5 366.7L88.1 364.9L75.9 360.6L69.9 359.2Z" fill="#F6FF00" fill-rule="evenodd"/>
<path d="M117.3 292.9L112.3 294.1L110.4 295L107.2 297.7L105.4 298.2L103.7 297.9L97.5 294.9L94.4 294.6L89.1 297L85.8 299.4L84.9 306.3L86.3 317.6L87.8 323.4L90.1 329.1L92.6 333.9L98.2 343.3L102.3 346.8L107.4 349.4L112.3 350L128.4 347L132.5 344.5L135.5 340.5L137.5 336.6L139.8 329.5L142.4 328.2L152.6 326.9L158.1 326.4L161.2 326.9L162.3 328.9L161.3 332L159.1 334.9L153.4 349.1L151.5 358.4L149.8 361.9L147.9 364.3L147.8 365.1L148.3 365.6L151.6 366.9L165.6 365.8L173 366.3L178.4 367.6L181.8 369.8L184.4 373.3L185.5 377.2L183.1 379.9L182.5 389.4L183.7 397.1L186 403.9L191 409L196.7 412.4L202.7 414.7L208.6 414.7L216.2 411L220.4 411L223.8 412.7L226.4 415.3L229.4 420.5L233 421.3L236.4 417.8L239.3 413.9L241.6 409.4L242.2 404.8L243.7 403L254.3 400L258.1 398.4L260.6 396.8L263.6 393.9L266.7 392.6L268.9 393.7L269.4 395L267.4 396.9L265.9 399.3L265.8 400L267.5 402.7L270.3 404.5L274 402.8L278.6 398.3L281.1 397.1L282.8 397.7L285.1 399.2L288.2 399.9L290.9 401.3L293.4 403.7L300.4 405L301.1 405.5L312.5 406.7L318.9 405.5L326.2 404.8L332.1 405.9L339.3 410.7L341.6 414.2L343.1 418.3L352.1 420.9L355.5 423.2L358 426.9L361.8 430.7L369.5 436.4L374.9 438L381.2 437.3L387.3 438L393.4 439.7L404.4 444.6L409.2 449.4L412.9 455.4L417.8 467.8L419.2 473.1L423.1 476.3L433.2 483.4L450.9 489.7L455.6 492L458.2 495.8L462.2 497.2L484.8 500L489.6 501.4L494.5 503.9L504.5 510.3L515.7 515.9L519.3 518.2L522.1 521.8L524 526.5L524.5 532.4L522.8 538.4L518.5 547.1L769.5 547.1L770.1 546.7L770.1 437.8L762.2 440.3L756.2 442.7L751.4 441L744.9 439.8L737.3 440.3L729.8 441.5L717.6 445.2L711.7 442.8L705.5 439.6L695.6 432.9L680.7 421.8L677.2 416.6L675.4 410.8L670.8 404.2L669.3 405.1L665.6 405.4L661.7 403.4L654.6 401.8L643.5 401.6L639.5 401L635.7 401.1L635 400.3L634.9 397.4L634.3 395.3L632.9 393.2L629.8 390.3L623.6 388.1L622.1 388.8L620.2 391.3L616.3 392.2L613.3 393.9L612.5 394L605.6 392.6L602.7 392.4L599.8 390.2L596.7 389L593.7 387.1L587.6 385.3L584.2 385.9L578.2 389.9L576.5 390.4L572.7 389.4L570.9 388.3L568.4 386.1L565.9 382.8L563.6 381.7L561.3 381.6L560.1 382.1L558.4 383.7L556.6 382.9L553.7 382.9L549.5 381.1L548.4 381.1L541.6 382.9L540.9 382.5L538.1 379.1L535.9 376L534.8 375.4L533.4 375.4L531.3 376.2L527.3 376.9L526.8 376.4L526.7 374.4L526.2 373.1L523.8 371.1L522.2 371L523 370.2L523.5 368.4L522.9 366.2L521.9 365L519.5 364.1L518.3 364.3L515.1 365.9L513.7 365.8L512.5 365.1L512.3 364.6L514.9 361.1L515.4 360.9L517.6 361.6L519.1 360.7L519.3 358.4L518.1 353.5L517 351.7L513.9 350.6L511 347.2L509.1 343.2L507.7 342.3L505.5 341.8L504.4 342L503.1 342.6L501.2 344.3L499.8 344.4L502.8 340L505.7 339.7L507.8 337.8L508.1 335.4L507.1 330.1L506.1 329L504.7 328.3L500.6 327.5L496.6 326L495.2 326.1L492 328.9L490.6 329L489.2 328.1L489 327.6L491 324.7L490.4 321.5L491.8 318.7L492 316.4L491 312.1L489.9 310.7L487.9 309L486.8 307.3L485.1 300.1L479.8 296.6L477.5 296.1L475.2 296.8L470.2 300.1L465.5 300.9L464.8 300.7L463.2 299.2L462.6 297.8L464.9 296.4L467 293.8L466.8 292.2L465.6 291.5L463.3 291.8L460.4 293.3L456.6 291.8L454.9 291.9L453.5 293.2L452.9 296.2L452.5 296.4L446.9 294.4L445.7 292.3L445.1 288.2L442.9 286.5L442.4 285.3L441 278.6L436.7 274.6L435.5 274.4L431.4 275.1L425.6 277L423.9 278.1L422.1 280.3L420.7 281.1L420.1 280.2L418.9 275.3L417.9 273.7L415.7 271.9L412.4 271.5L409.8 271.9L405.4 273.9L401.9 273.9L400.2 274.4L399.1 275.1L397.9 278.2L397.2 279.1L396.6 279.3L395.3 278.2L394.5 274.3L393.1 272.1L390.8 270.3L387.8 269.3L385.7 267.9L384.5 267.7L383.1 268.2L382.4 269.4L382.5 270.7L383.5 273.5L382.9 275.1L381.2 276.6L378.4 278L376.8 281.1L374.4 282.4L370.5 281.8L365.5 282.2L363.1 281.9L359.9 280.1L355.7 275.8L353.4 275.5L349.8 276.8L348.2 275L346.5 273.9L340.5 272.5L338.3 273L337 274.1L331.2 281.2L327.3 281.9L326 283L323.4 284.2L321.7 284.2L319.3 283L318.2 280.2L316.9 278.5L314.6 277L312.6 276.4L308.2 275.9L307.2 276.3L304.3 278.9L302.6 279.1L299.6 278.5L298.4 278.6L294.3 281L292.5 281.4L286.8 279L285.9 278.3L284.6 276.1L283.5 275.6L281.6 276L279.2 278.8L276.4 279.2L275.1 279.8L272.5 284.1L271.3 285L269.7 284.8L266.8 281.9L265.7 281.3L264.5 281.2L263.2 282.1L262.1 284.1L261.1 284.8L258.6 285.4L256.9 284.1L255.4 280.2L254.1 279L248.6 277.6L246.7 277.9L244.9 279.1L242.3 282.9L238.6 282L234.7 281.8L228.9 279.5L225.7 277.2L224.6 276.8L222.8 277L221.1 274.1L218.9 272.4L216.9 270.1L215.5 269.5L214.2 269.6L212.6 271.2L211.8 273.4L210.9 282.3L210.1 283.8L207.1 286.3L208.4 292.5L208 296.1L207.2 298.9L205.7 300.4L203.9 301.1L204.8 300.3L205.1 299.6L203.6 297.8L202 299.2L200.1 302.4L199.4 302.7L197.7 302.5L194.6 301.3L191.5 301.3L189.9 300.6L188.1 298.3L186.4 293.4L186.1 290.3L184.9 289L183.4 288.7L179.4 289.8L177.6 289.9L170.9 287.5L170.3 286.4L171.3 282.6L170.9 281.3L168.9 279.2L166.6 277.9L165.3 277.9L161.4 279.1L157.4 278.8L155.1 280L150.1 286.1L148.1 289.2L147.9 290.6L148.8 293.4L148.3 294L142.6 292.3L137.6 292.3L136.8 292L134.4 289L130.5 288.1L126.2 288.9ZM476.4 313L476.7 313.4L476.4 313.6L475.8 313.4ZM218.7 290.4L218.8 288.7L220 285.9L221.9 283L222.7 282.5L226.2 283.1L231 287.8L231.8 290.5L231.1 294.5L231.4 296.7L232.2 297.9L235 300.3L235.5 301.6L235.6 305.5L234.3 311.4L234.2 316.4L234 317.1L233.3 317.5L225.5 317.4L222.7 316.9L217.8 314.6L215.7 312.2L215 310.5L215.2 309.9L216.9 308.7L217.5 307.6L217.6 301.7L221.5 295.6L221.6 294.4L221 293.2L219 291.2ZM301.5 350.3L300.3 349.7L300.3 349L302.2 348.4L307.1 348.4L308.7 349L308.6 349.9L305.7 350.7ZM254.8 348.7L257.2 349L252.9 349.2ZM260.6 347.3L261 346.2L258.1 340.5L258.4 339.6L266 339.2L274.9 339.7L278.2 340.6L280.5 342.8L283.6 344.4L287.3 345.6L289.9 347.1L290 347.7L288.3 348.5L284 348.2L276.6 349.2L273.3 348.5L269.3 351.4L267.9 350.1L264.7 349.3L260.1 348.5L258.4 348.7ZM186.7 319L191.4 316.6L198.8 316L205.6 316.3L211.8 319.1L218.7 321.1L226.3 324.6L231.3 327.4L239.7 330.2L249.5 335.5L244.2 336.7L236.5 336.4L228.5 336.9L230.5 334.7L230.4 333.6L221.3 329.3L220 325.4L219.5 324.9L211.6 324.8L206.8 322.4L197.8 320.7L195.7 319.3L190.5 317.8L186.4 320.7L181.4 322.5ZM224.2 350.1L225.2 349.3L228.4 349L231.9 349.7L234.5 351.2L232.9 351.8L225.8 351.2ZM69.9 546.5L70.5 547.1L188.2 547.1L189.4 545.9L190.4 547L191.8 547.1L192.3 546.7L192.9 544.5L191.2 541.5L192 539.5L193.2 538L198.1 542.6L199.1 543.1L201.6 543.2L203.9 542.3L205 541.4L205.7 539.7L205.4 538.3L203.9 536.4L199.8 532.8L198.5 532.5L196.3 533L195.1 534.1L193.1 537L189.7 533.1L186.7 530.3L188.8 527.7L189.2 526.6L189.2 525.3L188 524L184.9 522.8L184 521.7L182 517.4L182.3 511.5L182 510.4L175.9 502.2L174.8 499.2L170.7 493.2L170.4 491.6L172 486.9L172.6 486.5L174.4 487.5L175.8 487.4L177.4 485.8L178.1 483.8L178.7 483L180.2 483L182.2 485.7L187.2 488.2L189.3 489.8L190 491.8L192.2 494.6L191.9 496.5L192.2 497.9L200.2 503.5L201.5 503.8L202.7 502.8L203.4 498.7L204.5 496.9L205.7 496L208.7 495.5L211.1 494.3L208.1 492.6L205.8 490.3L209.4 477.9L211.2 474.3L219.5 463.2L223.2 459.5L226.1 455.7L231.9 450.5L228.1 428.5L224.3 422.6L222.3 418.7L219 415.6L215 414.6L210.9 415.6L207.6 418.8L205 425.6L203.2 425L198.6 422.2L187.4 416.7L174.5 406.5L168.9 396.3L163.3 388.8L157.3 382.9L156.5 382.8L155.9 383.6L143.2 382.5L135.9 381.2L130.4 379.4L124.9 376.6L119.3 372.9L111 365.9L107.8 363.8L100.7 366.2L94.5 366.7L88.1 364.9L75.9 360.6L69.9 359.2ZM131.2 490.6L131.8 491.7L131.7 493.3L130.3 495.2L127.7 495L125.2 493.3L125.2 492.8L126.8 491.6L129.7 490.6ZM124.9 479.7L127 478.6L126 477.5L127.3 477.4L128.1 477.8L128.6 478.3L127.4 479.1L127.3 479.6L128.8 480.8L129 481.7ZM127.4 484.1L127.7 484L128.3 483.7ZM109.1 483L113.6 483.6L116.4 482.3L120.8 483.9L121.3 484.7L121.3 485.4L120.2 488.3L120.2 489.5L119.3 488.1L117.7 487.2L115.4 487.2L114.1 487.7L112.6 489.2L112.1 490.5L112.2 493.1L110.7 493L109.9 492.4L108.6 490.4L107.7 485.5L107.8 484.7ZM536.2 370.5L537.6 370.7L538.9 370.1L539.2 369.3L538.4 368.1L536.5 367.5L535.4 368.1L535.4 369.7Z" fill="#FFFF00" fill-rule="evenodd"/>
<path d="M71.9 477.8L72.7 480.8L74.5 481.9L75 483.4L74 485.4L73.3 485.9L70.6 484.7L69.9 485.2L69.9 501.3L70.5 501.9L72.6 500.9L75.7 497.7L76 496.5L75.8 495.4L74.1 493.2L74 491.8L74.8 490.9L78.6 491L79.9 490.3L80.7 488.7L81.2 485.8L81.8 485.1L82.4 485.1L84.2 486.4L85.4 486.7L89.5 485.1L94.4 486.9L96.8 486.3L100.2 483.9L100.8 482.7L101.5 478.9L103.9 476.8L106.8 472.9L107.7 472.3L110.7 471.5L112.7 470.5L114.2 470.7L116.2 472.2L118.4 473L124.6 473.2L128.5 472L133.1 472.2L133.3 473.3L131.8 475.2L131.7 476.5L132.7 478.6L132.3 481.6L133 483.5L135.3 485.3L139.4 485.4L142.3 486.7L143.5 486.8L147.7 483.6L151.5 482.9L152.3 483L155.1 485.9L156.3 486.4L164.7 486.5L166 485.6L167.1 483.8L168 478.7L168.9 477.6L173.8 475L177.7 471.8L183.6 470.2L185.2 470.3L186 471.6L184.6 475.4L184.9 477.8L187.1 480.1L189.4 481.3L191.6 481.6L195.6 480.3L198.3 480.1L201 478.1L206.6 476.3L208.2 476.6L209.5 477.7L211.2 474.3L219.5 463.2L223.2 459.5L226.1 455.7L228.8 453L231.9 450.7L228.1 428.5L224.3 422.6L222.4 418.8L219 415.6L215 414.6L210.7 415.7L207.6 418.9L205 425.6L203.2 425L198.6 422.2L187.4 416.7L174.5 406.5L168.9 396.3L163.2 388.7L157.3 382.8L156.4 382.9L155.9 383.6L143.2 382.5L135.9 381.2L130.4 379.4L124.9 376.6L119.3 372.9L111 365.9L107.8 363.8L100.7 366.2L94.5 366.7L88.1 364.9L75.9 360.6L69.9 359.2L69.9 475.9ZM769.5 547.1L770.1 546.5L770.1 437.8L762.2 440.3L756.2 442.7L751.4 441L744.9 439.8L737.3 440.3L729.8 441.5L717.6 445.2L711.7 442.8L705.5 439.6L695.6 432.9L680.7 421.8L677.2 416.6L675.4 410.9L672.2 405.9L670.3 407.3L664.6 408L660.7 405.7L654.6 404.1L649.5 405.1L643.6 403.6L634.6 404.1L630.7 402.2L629.6 402L624.5 402.3L620.5 401.8L617.5 402.2L616.5 402L613.8 399.8L612.5 399.5L611.2 399.9L609 402L607.4 402.7L605.6 402.6L601.7 400.8L600.3 400.8L593.4 404.9L588.8 402.5L586 399.9L584.4 399.9L581.7 400.8L578.6 398L574.6 396.4L571.1 396.9L568.6 398L567.3 399L566.6 399L562.7 397L561.6 396.8L553.5 395.8L549.4 396.6L547.7 396.4L544.9 395.3L539.6 391L534.6 388.8L533.1 389L530.1 392.3L528.3 393.5L525.7 393.2L523.9 392.1L523 391.2L521.6 386.2L520.2 384.1L518.8 382.9L517.2 382.8L515.3 385.1L514.5 385.2L510.6 383.5L506.6 384.3L504 383L501.9 379.6L497.8 377.5L493.9 373.7L490 371.1L487.5 367.3L486.7 364.2L485.2 362L483.8 361.1L482.6 360.8L479.6 361.3L478.9 361L477.3 359.1L472.1 355.1L469.1 350.1L466.7 349.8L464.2 348.1L463.5 347.3L463.9 343.3L462.8 341.1L460.8 339.1L459.4 338.7L455.3 340.2L453.8 340L452.9 339.2L452.2 337.5L452.6 335.5L452.4 334.1L451.7 333.5L448.8 332.9L447.8 332.1L446.9 330.4L447.2 327.8L449.4 324.6L449.2 323.2L448.2 322L444.6 320.1L443.4 320L439.5 320.9L437.7 320.6L434.6 319.1L432.5 320.2L429.7 319.2L428.2 318.2L428.1 317.6L429.4 315.7L429.4 314.2L428.1 313L426.6 312.5L425.4 312.3L422.3 313.6L417.4 314.5L415.7 314.2L411.2 312L410.5 311.2L410.6 308.2L408.1 306.5L409.6 306.7L410.9 306.1L411.6 304.7L411.8 303.4L410.9 301.5L408.7 300.1L407.3 299.8L406 301.1L405.8 304.9L397.6 306.1L391.7 304.3L387.6 302.4L385.4 302.4L383.9 303.2L385.1 301.5L385.3 299.5L384.4 297.2L383.5 296.1L381.6 295L377.6 294.6L374.5 293.5L373.2 293.7L372 295L371.8 298.4L371.1 299.9L370.5 300.2L369.9 300L366.8 293.5L362.6 293.2L359.1 292L358.2 291.2L357.6 289.2L356.6 288L350.5 285.8L347.1 285.9L344.3 287.7L343.5 287.8L341.5 287.3L337.6 287.8L334.4 286.7L331.3 287.9L328.3 288.5L325.3 290L318.6 291.8L316.8 291L313.8 288.6L311.5 287.9L309.3 288L305.3 290.5L301.5 291.2L296.7 290.5L293.7 289L292.4 288.9L290.7 290.4L291.6 293.5L291.5 294.3L290.2 296.1L288.5 296.7L285.5 296L282.7 293.5L279.6 293.4L275.6 292.1L270.7 291.6L265.8 287.9L263.4 287.6L259.3 289L258.1 290.1L257.1 291.8L256.4 292L253.7 291.6L250.5 290.3L245.4 291.9L239.5 291.2L238.1 291.8L237.4 293.5L238.3 297.6L238.7 303.5L238.4 305.3L236.6 309.4L236.9 313.5L235.7 318.2L234.3 319.4L232.5 319.8L228.6 319L225.6 319L219.7 317.2L215.8 315.5L212.5 312.1L211.5 310.4L211.6 306.6L212.4 303.7L213.9 301L215.8 300.5L216.3 299.9L217.9 295.6L218 294.4L216.9 289.6L218.7 284.6L219.2 281.6L218.3 276.2L215.9 272.6L214.5 272.4L213.6 273.1L213 274.3L211.5 283.3L207.7 288.8L208.4 292.5L208 296.1L207.2 298.9L205.7 300.4L203.9 301.1L204.9 300.2L204.9 299.2L204.1 299.7L203 300.8L201.1 303.9L200.3 304.5L198.6 304.6L193.5 303.8L190.5 304.9L189.9 304.8L185.5 300.1L181.9 295.4L180.7 294.7L175.6 293.6L173.3 293.9L170.4 295.2L167.3 295.5L164.3 297.1L162.8 296.9L160.2 294.4L161.1 292.6L161.1 290.3L160 287.1L158.4 286.2L157.1 286.9L154 290.2L153.3 293.2L151.6 295L147.3 297.6L142.4 298.3L140.7 299.1L139.8 300.2L139.6 301.5L140.8 304.6L140.7 306.4L140.2 308.3L139.2 309.2L137.2 309.7L136 310.6L135.3 312.5L135.8 315.3L135.3 316L132.2 317.2L131 318.1L130.4 319.3L130.3 322.6L131.6 327.6L132.3 328.9L133.3 329.9L136.4 330L139.2 331.6L139.8 329.5L142.4 328.2L158.1 326.4L161.2 326.9L162.3 328.9L161.3 332L159.1 334.9L153.4 349.1L151.5 358.4L149.8 361.9L147.9 364.3L147.8 365.1L148.3 365.6L151.6 366.9L165.6 365.8L173 366.3L178.4 367.6L181.8 369.8L184.4 373.3L185.5 377.2L183.1 379.8L182.5 389.4L183.7 397.1L185.9 403.8L190.9 408.9L196.7 412.4L202.6 414.7L208.5 414.7L216.2 411L220.4 411L223.8 412.7L226.4 415.3L229.4 420.5L233.1 421.3L236.4 417.8L239.3 413.9L241.6 409.4L242.2 404.8L243.7 403L254.3 400L258.1 398.4L260.6 396.8L263.6 393.9L266.7 392.6L268.9 393.7L269.4 395L267.4 396.9L265.9 399.3L265.8 400L267.5 402.7L270.3 404.5L274 402.8L278.6 398.3L281.1 397.1L282.8 397.7L285.1 399.2L288.2 399.9L290.9 401.3L293.4 403.7L300.4 405L301.1 405.5L312.5 406.7L318.9 405.5L326.2 404.8L332.1 405.9L339.3 410.7L341.6 414.2L343.1 418.3L352.1 420.9L355.5 423.2L358 426.9L361.8 430.7L369.5 436.4L374.9 438L381.2 437.3L387.3 438L393.4 439.7L404.4 444.6L409.2 449.4L412.9 455.4L417.8 467.8L419.2 473.1L423.1 476.3L433.2 483.4L450.9 489.7L455.6 492L458.2 495.8L462.2 497.2L484.8 500L489.6 501.4L494.5 503.9L504.5 510.3L515.7 515.9L519.3 518.2L522.1 521.8L524 526.5L524.5 532.4L522.8 538.4L518.5 547.1ZM301.5 350.3L300.3 349.7L300.3 349L302.2 348.4L307.1 348.4L308.7 349L308.6 349.9L305.7 350.7ZM254.8 348.7L257.2 349L252.9 349.2ZM260.6 347.3L261 346.2L258.1 340.5L258.4 339.6L266 339.2L274.9 339.7L278.2 340.6L280.5 342.8L283.6 344.4L287.3 345.6L289.9 347.1L290 347.7L288.3 348.5L284 348.2L276.6 349.2L273.3 348.5L269.3 351.4L267.9 350.1L264.7 349.3L260.1 348.5L258.4 348.7ZM186.7 319L191.4 316.6L198.8 316L205.6 316.3L211.8 319.1L218.7 321.1L226.3 324.6L231.3 327.4L239.7 330.2L249.5 335.5L244.2 336.7L236.5 336.4L228.5 336.9L230.5 334.7L230.4 333.6L221.3 329.3L220 325.4L219.5 324.9L211.6 324.8L206.8 322.4L197.8 320.7L195.7 319.3L190.5 317.8L186.4 320.7L181.4 322.5ZM224.2 350.1L225.2 349.3L228.4 349L231.9 349.7L234.5 351.2L232.9 351.8L225.8 351.2ZM389.8 298.4L390.2 299.3L391.7 299.6L392.6 298.8L393.1 297.1L391.3 296.1L390.3 297.2ZM142 518.7L143.5 519.4L144.2 518.9L144.8 517.6L144.5 516L143.4 515.6L142 516.4L141.4 517.5ZM135.4 507L130.8 510.1L130.1 511.3L129.5 514.5L130 516L132.2 517.9L134.3 518.9L136.6 519.3L137.9 518.7L139.8 516.8L140.8 513.8L143 510.5L144.4 506.4L144.1 505.1L142.8 504.2L139.5 504L137.3 505ZM121.7 507.8L120.4 508.4L121.4 509.6L121.9 509.4L122.3 508.6Z" fill="#FFEE00" fill-rule="evenodd"/>
<path d="M71.7 457.5L69.9 458.5L70.2 462.6L72.2 463.3L76.2 466.3L79.2 466.6L81.5 469L83.3 469.9L85.7 469.8L88.5 468L90.7 471.9L93.4 472.9L95.8 472.7L99.7 469.8L103.6 469.8L106.8 469L108.2 467.8L108.9 465.6L109.5 465.4L115.2 467.3L118.7 469.2L119.3 468.9L119.7 467.7L119.7 465.6L120.1 464.8L122.6 463L123.2 463.1L125.2 465.1L130.4 468.2L132.4 468L135.7 464.6L142.4 464.6L151.3 467.7L154.2 469L156.3 470.7L161.3 470.1L165.2 472.6L166.5 472.7L167.9 472.2L170.8 468.9L171.7 468.5L174.6 468.6L181.7 467.2L185.8 464.7L187.7 464L189.3 463.9L189.8 464.7L190.1 467.7L191 469.6L193.7 472L195.6 472.7L197.5 472L198.6 470.9L200 466.9L200.8 466.2L205.6 465.9L208.4 465L209.3 463.7L209.9 460.7L210.4 459.9L215.7 455L217.3 455L218.2 455.8L218.8 459.7L219.2 460.9L220.6 462.1L223.3 459.4L226.1 455.7L228.8 453L231.6 451L231.9 450.3L228.1 428.4L224.3 422.6L222.4 418.8L219.2 415.7L215 414.6L210.8 415.7L207.6 418.9L205 425.6L203.2 425L198.6 422.2L187.4 416.7L174.5 406.5L168.9 396.3L163.3 388.8L157.3 382.9L156.5 382.8L155.9 383.6L143.2 382.5L135.9 381.2L130.4 379.4L124.9 376.6L119.3 372.9L111 365.9L107.8 363.8L100.7 366.2L94.5 366.7L88.1 364.9L75.9 360.6L69.9 359.2L69.9 456.4L70.2 456.9ZM147.6 405L148.7 407.6L148.8 409.4L148.4 411.3L147.3 413.1L145.4 414.1L139.2 414.5L136.2 417.1L134 420.8L133.2 421.5L131.6 421.9L127.6 420.7L123.7 420.8L121.4 419.9L120.4 419.2L119.9 417.4L119.9 414.7L121.3 412.9L123.7 411.3L130.7 410.9L135.8 408.8L138.6 407.2L141.7 407.4L146.5 404.5ZM669.9 547.1L671.8 544.6L674.8 543.3L677.6 541.5L682.5 542.9L684.6 542L685 540.2L684.2 539L681.7 537.2L681.9 535.9L682.5 535.7L684.1 536.4L685.2 537.7L685.6 541L694.4 546L695.6 546L697.8 545.1L704.7 539.6L706.4 539.6L709.3 540.8L710.7 540.9L712 539.8L712.7 537.6L711.9 532.7L712.9 531.3L714.5 530.7L718.4 532.1L722.5 531.5L723.3 531.7L721.1 533.2L719.5 535.3L719.2 537.6L720.6 539.9L723.3 542L726.5 543L727.9 542.3L729.8 540.3L731.2 540.3L732 540.9L734 544.9L736.4 547.1L740.9 546.9L743.4 540.8L745.9 536.9L747.7 535.4L748.5 535.2L750.2 535.9L752.3 538.9L753.6 540L756.2 541.7L758.4 542.6L761.7 542.3L764.8 540.4L769.9 538.5L770.1 437.8L762.2 440.3L756.2 442.7L751.4 441L744.9 439.8L737.3 440.3L729.8 441.5L717.6 445.2L711.7 442.8L705.5 439.6L695.6 432.9L680.7 421.8L677.2 416.6L675.4 410.9L673.5 407.8L670.4 409.4L664.5 410L662.7 409.7L658.6 407.7L655.6 407.1L654.4 407.2L652.8 408.2L652.1 409.3L651.8 411.3L650.6 413L648.3 414.4L646.6 414.7L642.8 411.8L640.7 410.8L636.5 411.2L632.6 409.4L629.4 409.2L627.5 410L626.1 411.2L626 412.6L626.8 415.5L626.1 417.2L625.4 417.5L623.8 417L623.4 416.3L624 414.5L625.3 412.7L625.5 411.2L622.8 409L620.7 408.1L615.6 406.9L611.5 406.7L609.3 407L605.3 409.1L601.4 408.3L600.3 409.2L599.9 410.5L600.5 412.6L601 416.8L597.2 418.3L595 420.3L592.2 424L588.4 426L585.3 428.3L583.8 428.2L581.9 426.1L578.8 423.9L577.7 423.2L576.1 422.9L575.2 423L573.8 424.1L572.7 427.1L568.3 427.8L566.3 429.6L561.9 425.4L559.2 424.1L559.8 420.5L558.9 419.2L554.9 418.9L552 415.8L551.8 414.4L552 411.5L552.6 410.9L553.4 410.9L557.1 412.3L559.1 414.9L560.2 415.7L561.8 415.5L563 414.3L563.8 412.7L564 411.4L563.5 409.2L562.3 408L560.7 407.5L557.6 407.9L556.9 407.6L554.8 405.1L552.6 403.6L550.2 403.9L547.3 406.1L543.4 405.8L539.4 406.8L535.4 406.7L530.4 408.3L527.3 408.7L521.5 415.1L518.5 416.2L516.9 415.5L516.4 414.6L517.9 412.5L520.7 409.8L521.4 408.7L521.7 407.4L520.4 405.1L517.6 402.5L518.4 400.6L518.5 398.4L517.9 397.1L516.6 396.4L515 397.1L513.8 399.3L513.8 400.6L514.6 402.5L513.2 406.4L513.3 409.2L512.3 409.8L506.6 410.9L505.1 410.1L502.8 407.2L500.6 406.5L496.6 407.2L493.1 406.6L492.9 406.1L492.4 405.9L491.9 406.7L492.8 407L492.3 408L491.7 408L489.9 406.1L488.4 405.2L490 403L490.2 401.5L489.9 400.7L488.5 400.1L487 401.1L485.5 404.1L483.4 405.9L474.3 408.7L472.8 408.7L468.8 406.5L468 405.4L468.4 403.8L470.1 400.7L470.3 399.6L470 398.2L468.8 396.6L467.3 396.1L464.5 398L460.4 399.1L458.8 398.1L458.1 396.8L458.3 395.8L458.8 395.4L461.8 394.7L462.9 393.4L462.2 392.1L460.9 391.4L454.9 383L448.6 381.2L444.4 382L442.7 381.9L439.7 380.6L436.7 380L435.1 379.1L432 375.6L430.7 372.2L428.7 369.3L428 367.2L425 363.7L425.9 363.3L427 362L427.4 360.5L427 359.5L425.3 359L423.6 360.1L422.9 361.4L421.3 357.1L418.1 355.2L418.4 353.7L419.9 350.7L420.2 348.5L418.3 340.2L416.6 338.9L415 338.9L412.5 340L411.5 339.9L410.5 339.3L410.9 338.2L412.7 337L413.9 335.5L416.7 334L417.7 332.8L417.7 331.3L416.9 330.5L413.6 329.3L408.5 330.2L403.5 329.3L401.2 330L398.3 332.1L395.7 331.4L393.9 330.2L391.9 327.1L392.9 324.6L392.5 323.3L390 319.4L388.6 318.7L387.3 318.8L386.4 319.5L386.5 320.7L388.7 326.4L388.2 327L383.6 328.1L380.7 325.8L379.5 325.5L375.7 325.6L373.4 324.1L370.9 321.4L368 319.5L367.2 318.2L364.2 310.5L365.7 307.3L365.1 306.1L362.8 304.4L361.6 303.7L359.3 303.9L357.2 304.7L353.3 307.6L350.5 308L347.8 307.4L343.8 305.2L339.9 301.5L337.6 300.4L336.4 300.3L334.3 300.8L332 302L330.2 303.6L329.7 303.7L328.6 302.5L329.5 299.6L329.7 296.4L329 294.7L327.6 293.9L325.1 295L323.7 297.1L322.4 297.6L320.9 297.2L318.7 295.5L317.4 295.4L316.2 295.7L315.1 297.3L313.5 302.1L312.3 303L310.4 303.4L308.4 303.4L305.6 303.9L304.9 303.6L300.6 298L298.6 297.1L296.2 297.6L294.4 299.1L293.4 301.4L293.5 303.7L294.8 306.6L294.2 310.1L290.7 309.2L289.5 308.2L289.2 307.4L289.4 304.5L289 303.2L287.3 301.1L285.7 300.1L278.4 299.2L277.1 299.8L275.3 301.4L272.6 301.5L271.6 301L268.9 298L267.7 297.6L265.6 297.9L263.2 299.6L261.5 299.9L259.4 299.1L257 296.1L255.7 295.3L254.4 295L251.4 296L248.7 294.9L247.4 294.9L245 296.4L243.8 299.2L241.9 301.8L241.1 306.1L238.8 309.3L238.8 313.4L237.8 317.5L238.3 320.5L237.2 322.3L235.6 322.6L233.8 321.9L224.7 320.4L220.6 319.1L215.6 318.3L212.6 319.1L205.9 316.4L211.8 319.1L218.7 321.1L226.3 324.6L231.3 327.4L239.7 330.2L249.5 335.5L244.2 336.7L236.5 336.4L228.5 336.9L230.5 334.7L230.4 333.6L221.3 329.3L219.6 324.9L211.6 324.8L206.8 322.4L197.8 320.7L195.7 319.3L190.6 317.8L189.9 318L186.4 320.7L181.4 322.5L186.7 319L191.4 316.6L198.8 316L202.7 316.1L202.7 314.3L201.8 313.4L196.6 312.4L194.8 312.6L193.5 310L187.8 308.2L186.8 307.2L186 304.9L184.7 304.3L181.4 304.4L180.2 304.8L178.6 308.2L177.9 305.1L176.8 304L175.3 303.8L173.2 305.1L169.2 309.4L167.6 309.6L163.6 308.3L161.4 308.3L159.5 309L157.1 311.2L157.2 313L161.4 314.8L162 317.1L164 319.4L164 320.3L162.1 323.4L159.6 325L158.3 326.4L161.2 326.9L162.3 328.9L161.3 332L159.1 334.9L153.4 349L151.5 358.4L149.8 361.9L147.9 364.3L147.8 365.1L148.3 365.6L151.6 366.9L165.6 365.8L173 366.3L178.4 367.6L181.8 369.8L184.4 373.3L185.5 377.2L183.1 379.8L182.5 389.4L183.7 397.1L185.9 403.8L190.9 408.9L196.7 412.4L202.6 414.7L208.5 414.7L216.2 411L220.4 411L223.8 412.7L226.4 415.3L229.4 420.5L233.1 421.3L236.4 417.8L239.3 413.9L241.6 409.4L242.2 404.8L243.7 403L254.3 400L258.1 398.4L260.6 396.8L263.6 393.9L266.7 392.6L268.9 393.7L269.4 395L267.4 396.9L265.9 399.3L265.8 400L267.5 402.7L270.3 404.5L274 402.8L278.6 398.3L281.1 397.1L282.8 397.7L285.1 399.2L288.2 399.9L290.9 401.3L293.4 403.7L300.4 405L301.1 405.5L312.5 406.7L318.9 405.5L326.2 404.8L332.1 405.9L339.3 410.7L341.6 414.2L343.1 418.3L352.1 420.9L355.5 423.2L358 426.9L361.8 430.7L369.5 436.4L374.9 438L381.2 437.3L387.3 438L393.4 439.7L404.4 444.6L409.2 449.4L412.9 455.4L417.8 467.8L419.2 473.1L423.1 476.3L433.2 483.4L450.9 489.7L455.6 492L458.2 495.8L462.2 497.2L484.8 500L489.6 501.4L494.5 503.9L504.5 510.3L515.7 515.9L519.3 518.2L522.1 521.8L524 526.5L524.5 532.4L522.8 538.4L518.5 547.1ZM423.8 363.4L421.9 363.8L422.9 361.6ZM297.6 311.8L298.6 310.7L299 307.8L300.6 306.8L302.5 306.6L303.9 307L305.5 309.6L305.5 310.2L304.3 310.8L299.2 311.8L297.5 313.5L296.5 312.4L296.6 312ZM301.5 350.3L300.3 349.7L300.3 349L302.2 348.4L307.1 348.4L308.7 349L308.6 349.9L305.7 350.7ZM254.8 348.7L257.2 349L252.9 349.2ZM260.6 347.3L261 346.2L258.1 340.5L258.4 339.6L266 339.2L274.9 339.7L278.2 340.6L280.5 342.8L283.6 344.4L287.3 345.6L289.9 347.1L290 347.7L288.3 348.5L284 348.2L276.6 349.2L273.3 348.5L269.3 351.4L267.9 350.1L264.7 349.3L260.1 348.5L258.4 348.7ZM224.2 350.1L225.2 349.3L228.4 349L231.9 349.7L234.5 351.2L232.9 351.8L225.8 351.2ZM563.3 417.5L564.3 418.8L565.8 418.6L567.1 417L566.9 415.2L565.6 414.5L564.4 415L563.5 416.3ZM212.9 280L212.5 284.3L211.6 287.5L211.7 288.7L212.5 289.8L213.9 289.3L215 288.1L216.3 285.7L216.7 281.5L215.9 278.2L214.1 278.1ZM211.9 295.8L213.3 297.1L215 296.9L215.8 295.7L216 294.5L214.9 292.3L212.1 292L211.4 293.5ZM208.8 467.6L210.2 469.5L212.6 469.6L214.2 469L215 468.2L215.3 467.6L215.2 466.4L213.9 464.2L212.7 463.3L211.4 463.2L210.2 463.7L209 464.8ZM203.5 305.7L204.6 306.1L205.9 305.3L206.5 304.6L206.2 303.1L205.4 302.7L204.1 303.3L203.4 304.4ZM155.2 477L156.5 477.4L157.9 477L158.8 475.2L157.7 474L156.6 473.5L155.2 473.6L154.6 474.3L154.4 475.5ZM149.9 307.7L151.1 309.9L153.3 311.6L155.7 311.7L156.6 310.8L157.1 307.5L156.7 305.2L155.5 304L150.6 302L150 302.2L149.5 303.4Z" fill="#FFD500" fill-rule="evenodd"/>
<path d="M75.5 417.9L81.5 414.5L85.2 416.7L86.4 417L94.4 416.2L97.4 418L99.7 417.7L101.2 417L102 416.2L102.5 412.8L103.9 410.7L105.8 409.2L112.6 405.7L116.6 404.9L119.5 405.2L121.8 404.8L129.9 400.2L132.5 396.9L133.6 396.1L137.5 397L144.5 396.9L145.7 396.6L150.5 392.9L152 388.4L153.3 388L154.3 388.8L154.5 389.6L154.2 391.2L151.1 394.2L150.6 396.3L149 398.2L148.8 399.5L151.1 402.3L154.1 404.8L154.5 405.6L153 409.4L153.8 412.6L153.7 414.2L153.2 414.9L150.4 415.1L149.3 415.5L145.1 418.1L140.6 425.2L140.2 427.6L142.3 430.7L141.5 436.4L141.7 437.7L144.9 442.4L145.9 446.7L147 448.9L149.4 450.4L153.6 450L154.1 450.6L153.9 452.6L154.5 453.9L159.7 454.9L160.9 458.8L163.1 461L165.4 461.9L167.7 461.6L168.9 460.9L169.9 458.9L170.6 458.5L171.8 459L175.2 462L177.5 462.9L180.7 462.4L185.6 460.2L190.6 459.4L192.4 459.5L196.7 460.7L202.6 455.8L202.5 454.3L200.9 451.5L203.8 447.7L206.6 447.9L211.4 446.4L214.3 447.9L215.6 448L221.3 445L222.6 442.8L223.7 442L227.7 442.3L230.1 440.2L228.1 428.4L224.3 422.6L222.4 418.8L219.4 415.8L215 414.6L210.7 415.7L207.6 418.9L205 425.6L203.2 425L198.6 422.2L187.4 416.7L174.5 406.5L168.9 396.3L163.3 388.8L157.3 382.9L156.5 382.8L155.9 383.6L143.2 382.5L135.9 381.2L130.4 379.4L124.9 376.6L119.3 372.9L111 365.9L107.8 363.8L100.7 366.2L94.5 366.7L88.1 364.9L75.9 360.6L69.9 359.2L70.1 424.1L72.6 424.5L73.8 424.3L74.9 423.2L75.5 421.5L75 419.5ZM253.3 400.2L252.5 398L249 396L248.2 395.2L248.3 393.8L250 391.7L249.9 390.2L248.7 388.9L246.6 388.8L245 388.1L245 386.8L246.7 385.8L248.5 385.4L253.6 386.6L254.9 386.1L256.8 384L257.5 383.9L264.5 384.1L269.7 384.8L270.9 383.8L271.6 380.8L272.3 379.9L273.9 378.4L275.6 377.4L278.3 378L279.2 378.8L279.8 380.6L279.7 382.4L278.9 385L276.1 390.3L276.4 391.8L277.2 393L278.6 393.2L280.8 390.5L282.2 390.5L283.2 391.7L284.9 397.7L285.7 398.8L286.4 399.5L289.5 400.6L291.6 400.6L296.7 399.2L299.8 396.1L304.5 395.2L306.2 395.7L307.1 396.3L309 399.4L310.1 400.4L311.8 400.2L313.5 397.9L317.1 395.7L318.6 389.6L318.3 387.5L318.8 385.6L318.5 383.6L318.8 382.8L320.6 381.8L322.2 382.2L326.2 386L330.2 387.4L333.9 391.7L333.6 395.6L335.3 399.5L332.9 406.5L339.4 410.9L341.6 414.2L343.1 418.2L352.1 420.9L355.5 423.2L358 426.9L361.8 430.7L369.6 436.4L374.9 438L381.2 437.3L387.3 438L393.4 439.7L404.4 444.6L409.2 449.4L412.9 455.4L417.8 467.8L419.2 473.1L423.1 476.3L433.1 483.3L450.9 489.7L455.6 492L458.2 495.8L462.2 497.2L484.8 500L489.6 501.4L494.5 503.9L504.5 510.3L515.7 515.9L519.3 518.2L522.1 521.8L524 526.5L524.5 532.4L522.8 538.4L518.5 547.1L591.6 547.1L593.5 546L595.7 547.1L606.3 547.1L607.4 544.8L609.9 541.6L612.4 539.8L612.6 538.5L612 535.7L614.4 531.9L614.8 531.4L619.7 530.6L621.6 528.9L622.4 526.6L622.1 523.5L622.9 522.1L624.5 521.6L630.5 522.5L632 521.4L632.9 519.7L633.3 517.4L632 513.7L628.9 511.5L630.3 510L631.6 509.3L632.9 509.8L633.1 512.9L637.1 516.9L638.5 517.4L639.8 517.2L640.4 516.6L640.4 515.4L639.2 512.4L639.4 510.8L640.2 510L641.6 509.5L643.1 509.9L643.4 510.6L643.3 512.4L642.2 515.5L642.6 516.9L643.5 517.2L646.7 516.8L649 515.7L650.1 513.6L649.8 509.6L650.6 508.1L653.6 508.5L655.7 507.7L658.6 507.5L660.6 506.7L665.4 507.1L667.4 507.9L669.2 511L670.7 511L671.5 509.7L671.6 507.7L672.6 505.7L672.9 502.7L673.4 501.9L674.6 501.2L677.8 501L681.8 498.9L684.9 496.4L686.6 495.6L688.4 495.7L690.1 496.5L691.9 498.7L692.1 500.8L693.2 501.6L694.6 501.8L697.6 501.1L699.2 501.5L701.1 503L706.1 508.2L707.4 508.8L713 508L714.6 506.9L717.6 503.3L720.4 504.9L729.6 505.9L731.9 505L736.8 501L738.3 500.8L744.2 506.8L746 512.2L747.4 513.9L747.6 514.4L745.5 519.5L746 520.9L747.4 521.5L748.8 521.1L752 518.3L752.6 516.5L752.1 514.7L754.5 513L756.6 512.1L757.3 512.1L759.3 513.5L762.2 514.1L764.4 516.1L769.6 516L770.1 515.5L770.1 437.8L762.2 440.3L756.2 442.7L751.4 441L744.9 439.8L737.3 440.3L729.8 441.5L717.6 445.2L711.7 442.8L705.5 439.6L695.6 432.9L680.7 421.8L677.2 416.6L675.2 410.5L669.4 412.1L664.4 412.2L661.7 413.3L659.8 411.4L658.6 410.9L657.3 411L656 411.9L653 416.4L651.3 417.8L646.4 419.5L640.5 419.5L637.3 420L632.2 422.8L628.3 425.6L625.7 425.6L621.6 423.4L616.3 423.5L615.3 424.2L614.9 425.4L615.6 429.4L613.9 436L613.2 436.7L611.6 436.8L609.8 436.1L607.9 432.7L606.4 432L605 433.3L603.9 438.2L602.3 439.7L600.6 439.9L597.6 438.5L594.5 438.7L591.5 438.1L581.5 438.9L578.4 438.7L576.5 440.1L572.1 445.5L570.5 446.2L569.7 446L569.3 445.4L570.6 442.6L570.6 441.3L569.9 440.1L567.6 438.7L562.8 438.5L560 434.3L558.7 433.4L557.3 434L556.2 435.2L550.4 437.7L549.6 437.7L545.6 436.1L543.3 436.2L542.1 436.6L540.5 438.1L539.5 441.4L540.5 444.8L543.1 447.7L543.2 448.4L542.2 449.7L538.7 448.7L535.7 446.8L532.5 446L531.7 445.2L530 440.8L528.8 439.8L527.2 440.1L525.5 441.1L521.7 438.1L521.3 437.3L521.3 433.6L521.9 429.6L522.7 428.5L527.6 428.1L529.6 427.2L533.4 427.5L536.2 428.6L538.1 431.2L539.1 432L540.5 432.4L543.7 431.5L546 429.8L546.9 427.6L546.6 425.2L545.8 424L542.9 422.8L542.1 421.5L541 417.7L539.9 416.3L538.6 415.9L536.1 417L531.6 420.1L531.1 423.3L529.3 425.7L527.8 425.3L523.5 422.6L522.1 423.2L520.1 425.8L519.5 426L518 425.1L516.9 423.2L515.7 422L508.8 419.8L502.7 415.4L501.4 415.2L500.3 415.7L499.1 417.2L497.1 415L495.7 414.4L492.4 415L487.4 414.4L483.2 415.7L480.2 418.4L477.3 419.7L473.4 420.3L471.8 421.1L471.2 422.4L470.4 426.6L473.2 430.5L472.1 432.7L470.4 433.7L467.3 434.1L465.3 435.5L464.8 435.5L462.9 432.1L461.8 431.1L460.4 430.6L462.6 431L466.6 428.6L468.6 428.6L469.7 428.2L470.3 427.6L469.9 426.2L468.7 425.5L464.8 424.7L460.8 421L458.7 420L457.5 420L455.3 421.1L454.9 422.4L456.1 427.6L455.9 429.1L448.9 435L447.5 435.5L446.6 435.3L444.6 434.5L440.7 434L438.6 433.2L436.3 433.9L434.6 433.9L431.2 433L430.8 431.6L431.8 430L435.3 431.7L436.9 431.5L438.1 430L438.5 427.5L438.3 426.2L437.2 425L433.5 424L431.9 422.4L430.6 421.8L426.6 423.1L423.7 421.5L421.3 421L418.3 417.1L416.8 415.9L412.7 413.5L409.7 413.4L409.1 413.1L409.1 408.6L410.1 405.6L409.9 404.2L408.8 402.9L404.8 402L401.9 399.1L400.7 397.4L401.2 395.8L402.8 393L404.8 392.3L406.7 390.8L407.1 389.3L406.6 388.2L405.7 387.5L400.7 385.7L399.4 385.7L394.4 388.5L388.5 389.8L385.4 389L384.3 389.2L380.3 391.5L377.3 391.8L376.2 393.4L376 399.4L375.4 400.2L373.9 399.4L372.8 398.2L372.5 395.3L370.9 392.3L370.9 390.7L371.8 388.7L371.9 387.4L370.1 384.4L370.8 382.7L370.8 381.3L370.3 380.1L368.7 378.7L367.4 378.5L364.9 379.2L365.2 380.9L367.1 382.3L368.6 384.1L365.1 386.7L362.3 390.4L360.5 390.5L356.4 389.9L355.1 390.6L353.1 392.9L351.5 393.2L350.1 392.9L348.7 392.1L348.2 391.4L348.7 388.5L348.5 386.4L347.9 385.1L346.6 384.3L345.1 385L343.2 387.5L339.5 388.1L338 387.8L337.6 386.4L337.4 380.6L338.5 377.6L338.5 373.6L341 368.6L342 362.5L341.9 357.6L344.6 357.4L345.2 356.9L346 355.7L346.1 353.4L344.9 351.1L341.8 349L339.1 348L338.8 347.4L339 345.4L338.6 344.1L334.4 341.1L334.2 340.5L335.6 337.7L335.8 336.3L333.9 334.9L330.5 331.2L330.1 328.2L329.4 327.1L327.7 326L326.4 325.6L323.8 326.5L322.4 324L321.6 323.5L320.4 323.6L314.2 327.8L309.5 329.9L304.8 326.3L303.6 325.7L302.3 325.8L297.1 328.7L295.9 330.2L293.8 335.2L291.3 339.2L290.1 340.5L288.5 341.2L287.9 341L285.7 338.1L280.6 334.1L280.6 333.6L281.7 332.2L284.5 332.4L286.1 332L287.2 330.8L287.6 329.7L287.3 328.1L285.7 327.1L284.4 327.2L280.8 329.3L280 326.1L278.8 324.9L276.6 323.9L273.3 323.9L269.3 326.1L265.5 326.9L264.2 328.1L263.1 330L260.3 330.5L258.5 331.3L258.4 330.9L260 329.7L260.6 328.6L259.6 324.3L258.9 323.3L257.9 322.9L255.4 323.2L252 325.1L249.2 329.2L248.8 331.5L249 333.4L248.7 334.1L247.8 334.5L249.5 335.5L249.3 335.7L244.2 336.7L236.5 336.4L228.5 336.9L230.5 334.7L230.4 333.6L221.3 329.3L219.6 324.9L211.6 324.8L206.9 322.4L197.8 320.7L195.8 319.3L194.3 318.9L192.2 320.1L191.5 321.4L191.4 326.6L192.5 328.7L191.9 330.1L190.4 331.2L185.5 330.6L180.8 331.6L179.8 330.3L178.9 327.4L179.3 324.7L180.6 323L184.4 321.9L184.6 321.4L181.4 322.5L184.6 320.2L180.9 318.2L178.6 316L176.7 315.3L173.4 315.2L171.1 316.5L169.9 318.5L170.5 322.3L168.8 326L167.7 326L166.6 325.2L165.1 325.7L162.3 328.8L161.3 332L159.1 334.9L153.4 349.1L151.5 358.4L147.8 364.9L148.3 365.6L151.6 366.9L165.6 365.8L173 366.3L178.4 367.6L181.8 369.8L184.4 373.3L185.5 377.2L183.1 379.8L182.5 389.4L183.7 397.1L186.2 404.1L191 409L196.7 412.4L202.6 414.7L208.6 414.7L216.2 411L220.4 411L223.8 412.7L226.4 415.3L229.4 420.5L232.9 421.3L236.4 417.8L239.3 413.9L241.6 409.4L242.2 404.8L243.7 403ZM620.5 518.2L616.3 521L615.6 522L614.2 522.4L611.3 524.2L610.7 524.2L609.9 523.5L609.4 522.4L610 520.2L611.6 518.9L613.1 521.1L614.3 521.8L615.9 520.9L615.5 519.1L613.1 516.9L612.8 512.8L615.8 511.3L619.8 507.6L622.4 507.2L623.1 507.4L624.7 510.6L624.6 511.2L622.7 513.2ZM605.7 507.4L605.8 506.7L606.5 506L608.3 505.6L609.1 506.6L609.1 509.2L608.4 509.5L606.8 509.1ZM601.1 505.1L601.4 504.2L601.4 505.2ZM541.8 497.3L550.5 493.6L551.1 493.9L551.5 494.7L551.7 497.6L552.7 499.5L550.2 502.1L549.8 502.1L547.7 499.8L543.6 499.8L541.2 499L540.8 498.4ZM524.9 499L526.6 498.1L528.4 498.1L530.5 499L531.8 500.6L531.3 501.3L528.4 501.3L526.3 502.1L524.7 502.2L523.6 501.3L523.5 500.6ZM493.8 431.6L494.9 430L496.5 429.5L497.7 430L498.6 431.2L494.5 432.2L493.8 432.2ZM400.6 412.5L401.2 412.7L401.7 413.3L401.3 413.6L400.1 413.2ZM340.5 406.3L340.3 405.8L340.7 405.5L341.3 405.6ZM267.9 338L266.6 334.4L266.8 333.6L268.6 333.6L271.5 332.6L277.3 334.5L277.9 334.9L277.9 335.4L275.1 339.8L278.2 340.6L280.5 342.8L283.6 344.4L287.3 345.6L289.9 347.1L290 347.7L288.3 348.5L284 348.2L276.6 349.2L273.3 348.5L269.3 351.4L267.9 350.1L264.7 349.3L260.1 348.5L258.4 348.7L260.6 347.3L261 346.5L258.1 340.5L258.4 339.6L266 339.2L273 339.7L270.7 338.1ZM301.5 350.3L300.3 349.7L300.3 349L302.2 348.4L307.1 348.4L308.7 349L308.6 349.9L305.7 350.7ZM254.8 348.7L257.2 349L252.9 349.2ZM224.2 350.1L225.2 349.3L228.4 349L231.9 349.7L234.5 351.2L232.9 351.8L225.8 351.2ZM635.9 544.5L635.5 546.5L636 547.1L646.5 547.1L647.1 546.6L646.7 544.3L646 542.8L644.8 541.8L642.6 541.1L639.5 541.1L638.2 541.4L637 542.4ZM643.1 530.8L643.1 529.7L642.6 529L641.5 528.5L640.2 529.2L640.5 530.7L641.2 531.3L642.7 531.2ZM613.3 539L612.8 540.4L612.9 543.6L613.8 547L626.4 547.1L627 546.8L626.5 545.2L624.1 542.2L623.5 537.4L622.8 536.2L621.4 535.9L617.3 536.8ZM527.7 418L527.5 418.8L528.3 419.4L529.5 418.7L529.4 418.1L528.7 417.7ZM429.6 418.8L430.4 417.6L430.1 416.2L429.6 415.9L428.2 416.1L427.4 417.2L427.4 417.8L428.2 418.8ZM347.1 381.6L348.3 383.4L349.6 383.7L350.9 383L351.9 380.5L351.9 379.3L351.2 378.1L350.5 377.8L349.4 377.9L347.9 379.1L347.1 380.3ZM342.6 381L344.6 381.8L346.1 380.6L345.8 379.2L343.6 376.1L342.2 376.2L341.6 377.4L341.7 379.6Z" fill="#FFBF00" fill-rule="evenodd"/>
<path d="M588.9 460L588.2 462.5L588.4 464.6L590.6 468.6L591 471.3L592.4 472.9L593 472.7L594.8 470.3L599.4 469L600.9 467.9L601.4 466.5L601.4 461.7L602.6 460.8L604.2 461L606.3 463L609.3 463.7L612.2 465.5L613.5 465.8L615.8 465.4L616.6 464.9L617.9 462.7L618.7 462.2L622.5 461.6L626.4 461.7L632.4 462.8L633.4 463.7L633.3 464.5L631.5 464L630.1 464.6L628.7 467.1L626.2 469.3L626.2 470.6L627.1 472.8L628.1 474.3L629.4 474.9L634.5 473.8L635.6 474L638.3 476.1L639.7 476.3L642.2 474.9L643 473.9L644.6 469.8L645.6 469.3L647.3 469.4L654.4 473.3L655.7 473.4L658.6 472.2L662.3 473.5L663.5 473.6L666.6 472.6L671.7 472.6L674.7 470.5L676.7 470.2L678.7 469.1L680.5 468.9L683.2 469.7L686.5 472.8L687 474.5L686.5 478.6L687.3 479.9L688.4 480.5L704.6 480L710.7 477.5L713.4 477.2L717.3 479.6L720.4 479.9L723.4 480.7L726.5 480.7L729.5 481.4L738.4 480.3L739.3 480.9L741.1 483.3L743.4 484.6L744.8 484.5L746.6 482.7L748.1 483L749 484.2L746.2 484.7L745.5 485.2L745.2 486.6L746 489.3L749.4 492.8L751 492L750.9 490.5L751.8 488.7L758.5 486.2L759.2 486.4L761.4 488.9L763.3 490.2L764.6 490.4L767.4 489.9L769.5 490.4L770.1 489.9L770.1 437.8L762.2 440.3L756.2 442.7L751.4 441L744.9 439.8L737.3 440.3L729.8 441.5L717.6 445.2L711.7 442.8L705.5 439.6L695.6 432.9L680.7 421.8L677.2 416.6L676.8 415.5L674.5 415.8L669.5 415.7L666.2 416.3L665.3 417.4L665.1 423.3L664.1 425.1L663.2 425.8L660.3 427.2L656.4 428.4L654.8 428.1L652.8 426.5L651.5 426.2L648.7 428L646.2 428.6L645.5 429.2L645 430.4L645.3 433.4L645 434.1L642.2 436.7L641.5 437.1L638.3 435L637 435.8L636 440.2L634.2 441.9L630.4 442.1L628.3 442.8L623.5 443.6L620.4 443L615.6 445L614.5 446.3L614.2 450.4L614 451.1L613.3 451.4L610.5 451.8L607.6 450.7L606.3 450.9L602 453L600.2 454.5L598.6 454.8L597.5 454.2L595.9 450.3L594.6 449.7L592.2 450.1L589.5 452L587.9 454.3L587.8 456.6ZM621.4 469.7L623.2 468.9L623.7 467.5L622.9 466.2L621.5 465.9L620.1 466.4L619.4 467.5L619.7 468.9ZM593.1 477.1L593.7 477.2L594.2 476.7L594.1 475.5L593.7 475.2L592.9 475.6ZM548 547.1L548.5 546.8L549 544.9L549.7 544.4L553.4 545.5L557 545.4L557 546.7L557.5 547.1L563.7 546.8L563.5 545.3L562.6 543.7L564.1 541.8L565 538.6L567.4 536.9L567.8 535.5L566.9 533.1L565.8 532.2L562.9 531.1L562.6 528.3L561.9 526.9L557.7 524.2L555.5 523.8L554.4 524.3L554.8 525.8L557 527.8L559.5 531.8L561 535.6L561 536.4L560.2 537.6L558.5 538.2L557.7 538.1L553.3 534L548.8 530.9L547.6 530.4L544.8 530.5L544.4 530.2L544.3 529.6L545 528.2L546.9 526.7L547.6 525.6L547.4 524.2L545.8 522.5L543.6 521.8L539.6 521.9L536.6 520.4L530.7 520.9L528.3 519.9L524.7 520L521.6 518.6L519.6 518.6L522.1 521.8L524 526.5L524.5 532.4L522.8 538.4L518.5 547.1ZM535.8 529.6L537.3 529.8L537.4 530.1L536.5 530.3L535.9 530.1ZM504.7 509.7L507.6 509.5L508.8 508.6L507.4 503.3L505.8 501.6L504.4 501.6L501.5 502.7L497.5 502.2L493 503.1L504 510ZM488.5 501.1L486.9 498.5L483.4 496L478.6 494L477.3 494.1L475.6 495L473.2 497.8L470.8 496L468.5 495.4L467.1 496.1L465.9 497.6L484.8 500ZM468.6 481.4L469 483.4L470.2 484.3L471.7 484.3L472.9 483.5L474 480.5L473.9 479.3L472.9 477.6L471.1 477.8L469 480.1ZM467.2 466.1L465.4 468.3L465.1 470.5L465.4 471.9L466.1 472.8L467.4 473.3L470.6 473L471.8 472.4L473 470.7L473.9 468.6L473.7 466.3L473 465.2L471.4 464.8ZM457.7 495.2L459.6 493.9L462.4 494L465.4 494.8L467.6 494.7L468.9 493.9L469.3 492.5L469 491.2L467.9 490L466.5 489.7L463.7 489.9L460.8 487.3L456.9 485.3L455.3 483.2L455 481.8L457.8 480.3L459.2 478.7L459.4 476.4L458.5 475L456.6 474.3L454.3 474.4L453.1 474.9L450.2 477.5L448.4 478.4L447.9 478.3L447.4 477.4L447.5 476.4L446.9 475L443.9 474L437.7 470.8L436.3 470.5L434.2 472.4L433.5 472.8L432.9 472.5L432.4 471.5L432.6 470.7L433.8 469.6L434.9 469.3L436 468L437.1 465.4L437.3 463.3L434.7 459.1L430.3 455.1L429.2 453.3L428 449.8L426.8 448.7L425.4 448.5L424.4 449L421.4 452L420.3 452.5L418.6 452.6L413.5 451.6L410.9 452.2L412.9 455.4L417.8 467.8L418.5 470.5L419.9 470L422.8 466.4L425.5 466L426.4 466.5L425.1 469.2L421.5 471.2L421.2 473.5L422 475.4L433.2 483.4L450.9 489.7L455.6 492ZM459.3 471.8L460.8 471.7L462.1 470.5L462.3 469.2L460.7 467.6L458.4 468L457.3 469.3L457.8 470.9ZM448.2 465.1L449.7 465.1L451 464L451.5 462.5L451.4 461.3L450.8 460.6L449.3 460.2L447.6 461L446.3 462.2L446.3 463.8ZM213.4 356.6L215.1 359L216.4 359.5L218.6 359.6L222.6 358.9L224.5 358L226.8 355.3L230.7 355.1L235.8 352.6L236.8 351.7L238.4 351.3L239.2 351.7L239.4 354.7L240.7 356.9L242.3 358.2L243.6 358.3L246.8 356.9L247.5 355.7L248 352.7L249.6 351.2L250.3 351.3L254.2 354.2L257.6 354.9L258.8 354.6L259.9 353.7L262.9 349L260.1 348.5L258.4 348.7L261 346.7L259.5 343.3L256.6 344.4L247.5 341.3L244.5 341.9L240.4 341.6L236.6 342.2L229.7 338.7L226.4 338.3L224.7 339L223.9 340.3L224.4 344.4L224.1 345L222.3 345.4L218.5 347.4L214.7 345.5L212.3 345.6L209.1 347.3L206.1 351.2L205.6 352.4L205.7 353.6L206.6 355.8L207.5 357L208.3 357.5L210.6 358ZM254.8 348.7L257.2 349L252.9 349.2ZM224.2 350.1L225.2 349.3L228.4 349L231.9 349.7L234.5 351.2L232.9 351.8L225.8 351.2ZM242.2 404.8L239.4 403.9L234.3 405.9L229.3 406.6L226.1 409.2L222.5 411L222 411.8L223.8 412.7L226.4 415.3L229.4 420.5L233.2 421.2L236.4 417.8L239.3 413.8L241.6 409.4ZM156.6 412.5L157 416.3L155.2 419.2L154.1 423.2L151.9 425.1L151.1 426.2L149.7 431.4L150 434.7L153.5 441.9L155.1 443.6L156.2 444.2L160.4 445.5L162.6 445.6L164 445L165 443.7L165.4 442.5L165.3 438.6L165.8 437.6L166.6 437.3L169.5 437.8L170.7 437.5L173.7 435.4L176.3 435.9L177.4 436.8L177.9 438.3L176.1 440L175.4 441.3L175.6 443.8L176.1 444.6L177.4 445.1L179.6 444.8L182.3 445.1L184.8 446.7L184 448L180.5 450.1L179.9 451.6L180.3 452.8L181.5 454L187.2 457.1L189.6 456.9L193.6 455.4L196.4 454.9L197 453.6L196.7 450.7L198.9 444.6L199 438.1L201.6 437.2L206.4 438L207.8 437.6L210.6 434.8L212.9 429.7L212.8 428.2L211.6 427.2L207.6 427L202.5 426.1L198.7 427.5L197.3 426.2L196.7 424.5L197 423.5L198.5 422.2L187.4 416.7L182.2 412.5L179.6 412.7L177.5 412.1L177.3 411.5L177.5 410.8L178.7 409.6L174.5 406.5L172.7 403.5L171.3 404L170 405.1L169.5 406.5L170 408.1L171.6 409.9L172.2 411.6L172.9 418.5L172.3 424.6L173.4 425.8L175.6 425L177.4 425L178 425.3L178.3 426.5L178.2 427.3L176.5 429.2L175 432.3L174.1 433.2L173.5 433.4L171.9 432.5L168 428.1L166.7 425.4L166.9 417.6L169.5 414.9L170.1 413.6L170.2 412.4L169.2 410.1L167 408.9L161.6 407.8L160.3 408.1L158.1 409.7L156.9 411.2ZM186 423.5L186 422.6L186.3 422L186.8 423.3L186.4 423.8ZM76.6 403.8L79.6 403.7L82.2 403.1L84.5 401.6L84.2 401L81.8 399.9L76.9 398.8L76.1 396.4L76.3 394.7L78 391.2L80.9 388.2L81.9 386.7L82.1 384.4L80.8 381.4L80.7 379.6L81.1 377.8L81.8 376.7L82.6 376.4L85.6 377.1L86.7 377.9L88.4 381.8L91.4 384.3L92.9 384L93.5 380.8L95.2 379L96.7 378.4L99.2 378.6L103.4 381.9L106.7 386.1L105.7 386L103.6 385L100.5 385L98.9 386.6L100.2 388.7L101.2 391.8L103.4 394.2L102.5 395.2L102.5 395.8L103.4 396.6L104.7 396L105 396.3L105.3 398.7L106.4 399.9L108.7 399.6L109.5 398.7L108.7 394.6L110.5 390.6L109.4 387.5L109.7 387L110.7 386.6L112.4 386.4L113.3 386.8L113.1 388.2L111.5 390.4L111.8 391.8L112.8 392.9L116.1 395.1L120.2 398.7L122.3 399.8L123.4 399.9L125.8 399.4L127.9 397.9L130.3 394.9L133.5 391.8L134.3 389.6L134.2 388.3L133 385.2L131.7 383.1L128.5 380.1L126.6 377.5L122.2 374.8L119.7 378.1L118.3 379.1L116.3 379L113.8 377L112.5 376.6L107.7 378.1L105.9 375.1L103 374.1L102.1 371.2L101 370L97.7 368.4L94.9 368.2L95 366.7L88.1 364.9L83.2 363.1L82.1 363.5L79.2 366L77.4 366.6L73.5 366.9L70.3 366.1L69.9 366.7L69.9 401L71.5 402L73.3 404.8L74.7 404.7ZM92.9 397.7L93.5 396.5L93 395.2L91.2 395L90.6 396.4L90.7 397.8L91.5 398.4Z" fill="#FFAA00" fill-rule="evenodd"/>
<path d="M739.1 458.8L738.6 461.5L739.3 464.8L741.1 467.1L743.2 468.7L749.4 471L751.6 470.9L754.5 470L756.6 470.5L757.7 470L758.1 468.4L756.8 464.6L758.1 460.9L758.4 458.5L756.8 454.3L756.5 452.6L757.9 448.8L758.8 448L760.4 447.6L761.3 447.9L762.8 449.7L762.9 450.4L761.4 453.4L761.4 454.7L762.2 455.8L763.7 456L764.8 455.5L765.7 454.6L765.9 453.5L765.4 450.7L766.6 448.4L763.4 444.3L763.4 439.9L756.2 442.7L751.4 441L745.1 439.8L742.3 440.2L740.1 441.6L735 446.6L733.4 450.4L733.7 452.7L735.3 455.8L736.3 457ZM751.1 448.9L751.7 449.7L751.8 451.3L750.4 453L748.6 453.4L746.7 452.2L746.8 450.7L747.9 448.8L749.5 448.2ZM662.4 440.3L659.5 439.8L658.2 440.3L656.4 442.2L656.4 443.7L657.5 445L662.3 446.8L663.5 446.9L665.5 446.4L667.1 447L667.8 447.8L667.9 448.8L666.1 449.7L665.7 450.5L667.2 453.1L668.5 453.7L672.5 453L676.4 454.1L679.2 454.3L680.7 456.8L682.2 458.2L684.6 458.7L686 457.8L686.2 456.5L685.9 454.2L684.8 452.6L681.9 451.4L681.5 449.6L682.6 447.9L685.1 445.8L686.2 441.8L689.5 438.9L690.1 437.9L689.9 435.3L689.1 433.2L688.1 432L686.6 431.4L685.4 431.5L683.2 432.7L681.7 432.9L677.7 429.9L671.3 430L669.8 431.1L668 434.1L665.1 437.4L663.9 438.1L663.2 440.1Z" fill="#FF9900" fill-rule="evenodd"/>
<path d="M246.5 198.8L247.5 199.3L251.5 199.6L254.5 200.6L256.5 200.6L259.5 199.1L262.5 198.5L266.5 197L272.5 196.6L277.5 194.7L290.5 193L294.5 192.9L297.5 191.9L310.5 188.7L315.5 184.6L327.5 179.7L337.5 178.3L350.5 175.7L354.5 175.5L357.5 174.6L360.5 172.7L367.5 170.4L378.5 168.1L382.5 168.3L395.3 170.5L401.5 170.7L407.5 171.6L412.5 173.3L418.5 176.7L420.5 177.5L422.5 176.8L433.8 170.5L435.5 169.1L437.5 166.4L439.5 165.1L441.5 165.3L448.5 167.8L452 167.5L456.8 164.5L463.5 158.8L466.6 157.5L469.5 155.5L471.5 152.8L472.9 149.5L471.8 141.5L472.6 136.5L472.5 133.4L471.2 129.5L470.5 128.4L469.5 127.9L467.5 127.4L456.5 126.9L445.5 122.8L441.5 119.7L439.5 117.5L438 114.5L437.7 112.5L437.9 111.5L439.8 109.5L442.5 108.2L447.5 106.8L451.5 106.1L463.5 109.1L475.5 114.2L477.5 114.6L479.5 114.6L481.5 113.4L483.2 111.5L490.5 97.5L491.1 93.5M240.7 214.7L242.5 214.4L243.5 213.9L246.5 211.4L249.7 209.5L252.9 206.5L254.5 205.7L260.5 204.6L266.5 202L272.5 201L276.5 199L283.5 196.9L293.5 195.8L299.5 194.2L306.5 193.7L311.5 192.8L314.5 191.2L317.2 187.5L318.5 186.6L324.5 184.7L329.5 182.3L337.5 181.4L341.5 180.3L346.5 180.1L356.4 176.5L361.5 174.1L368.5 172L379.5 170.6L385.5 173.4L394.5 175.1L398.5 177.6L399.5 177.8L403.5 176.8L409.5 178.5L421.5 180.1L423.3 179.5L427.5 176.5L435.5 172.2L439.5 169L440.5 168.6L442.5 168.4L449.5 169.3L452.5 168.5L457.7 165.5L463.6 160.5L469.5 157.1L472.5 153.4L474 149.5L473 141.5L473.8 136.5L473.8 133.5L472 127.5L470.5 125.6L469.5 125L467.5 124.9L465.5 125.5L463.5 125.6L458.5 124.6L455.3 123.5L450.5 120.1L449.5 119.7L446.5 119.9L445.6 119.5L445.1 118.5L444.1 111.5L444.5 110.9L445.5 110.4L446.5 110.4L449.5 111.5L450 110.5L452.5 109.4L453.6 109.5L456.5 111.1L461.5 111.8L466.5 113.7L467.6 114.5L469.5 117.4L470.5 118L471.5 118.2L473.5 117.3L474.5 117.4L474.6 119.5L474.9 120.5L475.5 120.9L477.5 120.3L483.5 120.2L491.6 117.5L492.7 116.5L492.7 113.5L493.5 112.6L494.5 112.5L498.5 113.9L502.6 116.5L509.5 117.3L513.8 113.5L515.6 109.5L518.3 106.5L518.7 103.5L520.1 99.5L519.9 98.5L518.6 96.5L519.3 93.5M524.5 93.5L524.2 95.5L522.4 97.5L522.4 98.5L523.5 99L525.6 98.5L526.6 96.5L527.5 95.8L531.5 94.9L532.5 93.5M726.7 100.4L729.5 99L733.5 98.4L736.5 99.9L737.8 102.5L738.5 103.2L739.5 102.9L741.4 101M240.1 216.7L243.5 215.5L246.5 213.1L254.5 208.6L261.5 207.3L267.5 204.2L273.5 202.6L283.5 199.1L289.5 198.8L299.5 195.8L306.5 196.1L312.5 194.9L315.5 193.4L322.2 188.5L330.5 184.9L335.5 183.8L342.5 183.2L345.5 182.6L363.5 174.7L369.5 173.8L373.5 174.4L381.5 178.1L386.5 182L388.5 182.3L389.5 181.9L391.5 179.7L392.5 179.6L394.5 180.8L396.5 182.9L398.5 183.7L404.5 183.8L407.5 182.1L409.5 181.7L414.5 182.8L418.5 182.2L424.5 182L426.5 180.8L429.5 178L441.5 171.2L450.5 170.2L453.5 169.3L458.5 166.3L464.5 161.3L471 157.5L474.1 152.5L475 149.5L473.9 141.5L475 134.5L474.2 127.5L475.4 125.5L478.5 123L480.5 122.6L488.5 122.2L498.5 123.3L500.3 124.5L501 126.5L501.5 126.9L502.5 127.5L505.5 128L508.5 130.5L513.5 130L517.5 128.7L518.8 129.5L521.3 134.5L524.3 137.5L526.5 140.7L535.5 144.1L537.5 144.3L540.5 143L543.5 142.5L544.7 141.5L545.5 138.9L546.5 137.2L550.6 134.5L555.4 128.5L555.7 127.5L555.1 125.5L555.2 124.5L558.5 122.1L559.5 122.2L559.9 123.5L559.7 127.5L560.3 129.5L561.5 130L562.4 129.5L564.5 125.7L565.5 124.6L567.5 123.7L569.5 121.6L572.5 119.7L576.3 115.5L577.5 112.8L578.5 112L579.5 112.2L581.5 113.8L582.5 113.4L584.5 111.4L586.5 110.3L587.5 110.3L589.5 111.8L591.5 111.7L594.5 110.6L596.5 107.9L597.5 107.5L598.5 107.8L599.2 108.5L600.4 112.5L601.5 113.2L605.5 111.8L607.5 111.5L608.5 111.7L612.5 113.7L614.5 113.7L616.5 113L621.5 108.3L622.3 106.5L622.8 103.5L626.5 99.5L629.3 93.5M633.3 93.5L633.6 95.5L634.5 96.8L638.5 97.9L639.5 97.5L641.5 95.4L643.5 95.3L644.6 93.5M651 93.5L651.6 94.5L653.5 95.5L656.5 94.5L658.5 95.1L659 94.5L659 93.5M667.4 93.5L666.8 98.5L667.5 99.6L668.5 99.6L670.5 98.5L673.5 98.6L676.5 96.5L678.5 97.1L679.5 96.9L681.2 93.5M720.8 113.4L720.6 115.5L721 116.5L726.5 122.3L727.5 122.9L731.5 122.9L734.3 125.4M744.5 126.3L745.1 127.5L744.9 128.5L743.2 132.5L741.6 134.5L741.5 136.4M213 247.5L214.8 246.5L218.1 243.4M238.9 220.4L247.5 214.2L254.5 210.7L256.5 210.3L261.5 210.3L266.5 207.3L271.5 205L278.5 203.2L283.5 201.5L289.5 201.3L298.9 197.5L301.5 197.3L307.5 197.6L313.9 196.5L323.5 192L327.6 188.5L329.5 187.4L336.5 185.8L341.5 185.9L346.5 184.5L355.5 180.1L360.5 177.2L364.5 175.8L367.5 175.8L370.7 176.5L374.3 179.5L379.4 182.5L380.5 183.5L381.9 185.5L383.5 186.5L392.5 187.7L396.5 189L400.5 189.5L402.5 189.3L409.5 186L415.5 186.3L419.5 185.2L423.5 185.2L428.5 184.5L431.5 180.8L437.5 176.8L446.5 175.6L449.5 173.8L457.3 171.5L458.2 169.5L461.5 166.8L465.7 162.5L467.8 161.5L472.5 160.2L473.7 158.5L474.5 156.2L476.4 153.5L476.3 148.5L475.2 141.5L475.5 139.5L476.5 136.9L477.5 136.4L478.5 137.3L483.5 138.8L485.3 140.5L486.4 143.5L487.1 144.5L488.5 145.1L490.5 145.3L491.5 144.8L494.2 141.5L494.3 140.5L492.8 137.5L492.9 133.5L493.3 132.5L495.5 131.8L497.5 132.1L500.9 134.5L503.5 138.1L510.1 140.5L512.5 142.7L515.5 144L518.5 146.3L521.5 146.4L524.7 148.5L527.5 149.4L529.5 148.9L531.4 147.5L532.5 147.5L533.8 148.5L534 150.5L534.5 151.3L537.5 151.5L539.1 150.5L541.1 147.5L542.5 146.5L546.5 145.1L550.4 141.5L556.5 139L558.5 139.2L560.5 141.1L561.5 141.2L564.5 139.7L568.5 139.2L568.8 138.5L569.5 138.2L570.2 138.5L568.5 139.6L568.1 141.5L569 143.5L570.5 143.9L571.5 142.9L574.5 137.9L575.5 137.6L579.5 138.7L580.5 138.6L583 135.5L584.5 134.5L588.5 134.9L598.5 131.2L603.5 128.8L607.5 129.2L612.5 126.9L616.5 127L618.5 126.6L620.5 127.1L622.5 129L623.5 129L626.5 127.7L629.5 127.1L637.5 122.1L638.8 119.5L639.1 116.5L639.5 115.6L642.5 114.3L643.4 113.5L643.4 110.5L643.8 109.5L644.5 109.3L645.5 109.7L646.2 110.5L648.4 114.5L650.5 116L656.5 116.9L660.5 116L673.8 119.5L675.1 120.5L675.5 123.5L676.1 124.5L678.5 125.6L681.5 128L683.5 128.8L686.5 129L688.5 128.8L691.5 127.6L692.5 127.8L693.5 128.5L695.5 131.9L701.9 133.5L705.5 136.2L710.5 138.8L713.5 138.9L723.5 134.8L727.5 135.5L730.5 134.9L731.5 135.3L731.3 136.5L728.2 141.5L727.9 143.5L728 146.5L728.7 147.5L730.5 148.4L733.5 149L740.5 144.7L742.5 144.3L748.5 147.1L749.3 148.5L750.1 151.5L751.5 152.9L754.4 152.5L755.1 151.5L755 149.9M659.5 120.3L658 121.5L658.5 122.8L659.5 122.8L660.7 121.5L660.6 120.5L659.5 120.3M498.5 139.5L496.9 140.5L497 141.5L498.5 142.1L499.7 141.5L500.6 140.5L500.2 139.5L498.5 139.5M199.9 263.9L201.4 262.5L203.8 256.5L205.5 254.1L210.5 250.2L215.4 247.5L222.5 240.9L227.7 237.5L230.1 235.5M239.4 223.3L243.5 219L248.5 216.2L255.5 213.5L263.5 211.8L267.5 209.5L274.5 206.3L284.5 204.1L289.5 203.8L298.5 199.8L308.5 199.3L314.5 198.5L317.5 197.6L326.2 194.5L330.5 190.1L335.5 189.5L338.5 188.5L343.5 188.5L346.5 187.3L351.5 186L359.5 180L364.5 177.6L367.5 177.8L370.5 179.3L376.1 183.5L378.5 186.8L382.5 189L386.5 189.1L393.5 190.7L400.5 191.6L402.5 191.5L412.5 189.1L419.5 190.5L428.5 189.5L432.5 190.6L433.5 190.3L434.6 189.5L435.2 188.5L435.7 185.5L436.5 184.4L438.5 183.5L441.5 184.9L442.5 184.5L445.1 181.5L446.5 180.9L448.5 181.3L450.5 183.7L456.5 181.5L460.5 182.2L461.5 182L464.6 179.5L466.5 174.5L468.5 172L469.5 171.3L471.5 170.9L473.5 170L474.5 169.8L477.5 171L480.5 171L483.5 171.6L490.5 170.5L491.7 169.5L493.5 166.5L501.5 162.2L502.5 162L504.5 162.6L507.8 164.5L510.5 167.7L512.5 168.1L513.5 167.1L515.3 161.5L516.5 160.7L519.5 159.7L520.5 159.8L521.4 160.5L521 164.5L521.5 166.6L522.5 167.1L527.5 163.9L528.5 162.6L529.2 160.5L530.3 159.5L536.5 159L539.5 159.4L541.5 159.1L543.6 156.5L547.5 153.4L550.5 153.1L553.5 152.3L554.5 152.5L557.5 155.1L558.5 155.3L561.5 154.8L567.5 155.1L570.5 154.6L574.5 155.5L578.5 154.4L581.5 152.7L586.5 154L589.5 155.6L590.5 155.7L591.5 155.5L594.6 152.5L596.5 152.3L597 152.5L594.7 155.5L594.6 156.5L595.3 157.5L598.5 158.9L600.5 160.5L604.5 161.6L606 162.5L606.8 163.5L608.5 167.7L612.5 172.1L613.5 172.6L616.5 172.7L618.5 172.2L621.1 170.5L623.4 167.5L624.5 167.4L629.3 173.5L630.5 174.8L631.5 175.2L635.5 171.2L638.5 169.1L641.7 165.5L643.5 164.7L644.5 164.8L648.5 166.3L650.5 168.4L651.1 170.5L651 174.5L651.4 175.5L654.5 175.8L657.5 177.2L661.5 176.1L662.5 176.3L663.9 179.5L665.5 180.6L671.5 181.3L676.5 180.8L683.5 182.1L685.2 181.5L687.5 179.4L688.5 179.3L693.5 180.5L697.5 180.5L705.5 183.1L707.5 182.9L708.9 181.9M519.5 169.2L519 169.5L518.6 170.5L519.5 170.9L521.1 170.5L521.4 169.5L520.5 168.9L519.5 169.2M199.8 266.1L201.6 264.5L204.9 257.5L207.1 254.5L210.7 251.5L215.5 248.8L222.5 242.1L229.5 237.6L232 234.7M239.9 224.8L243.5 221.4L246.4 219.5L265.5 212.9L275.5 208L284.5 206.5L289.5 206.4L297.5 203.2L316.5 200.5L322.5 198.6L330.5 196.9L333.9 193.5L338.5 191.5L340.5 191.4L343.5 192L349.5 190.2L354.5 187.6L360.5 181.7L363.5 179.9L365.5 179.2L367.5 179.6L370.5 181.3L374.3 184.5L377.5 188.7L382.5 191.2L386.5 191.3L401.5 193.7L412.5 192.1L416.5 194.2L421.5 195.6L426.5 195.1L428.5 195.4L431.8 196.5L434.1 198.5L436.5 198.6L441.5 197.5L442.9 196.5L444.3 194.5L445.5 194L453.5 193.3L456 192.5L457 191.5L457.3 190.5L456.8 187.5L457.5 186.5L462.5 186.1L467.8 183.5L470.5 181.8L475.5 183.5L477.7 183.5L482.5 180.2L485.5 179.2L487.5 176.5L488.5 176.2L491.5 176.5L494.5 178.1L495.5 178L498.5 174.4L502.5 172.1L504.5 171.7L506.5 171.9L510.5 173.2L511.4 174.5L511.5 175.5L512.5 176.6L516.4 178.5L520.5 179.7L522.5 179.5L529.5 174.3L532.5 173.4L534.4 173.5L535.5 174.2L538.5 177.5L542.5 178L546.4 181.5L550.5 181.7L552.5 182.4L553.5 182.4L555.1 181.5L556.6 177.5L560.5 176.9L563.5 175.8L566.5 175.9L570.5 177.4L573.5 177.2L575.9 179.5L577.5 180.1L578.9 179.5L580.5 176.4L581.5 176.1L582.5 177.1L582.9 179.5L581 183.5L580.9 185.5L584 189.5L584.3 190.5L584.1 191.5L583.5 191.8L580.5 192.3L578.5 193.3L578.2 194.5L579.5 195.8L583.5 196.5L584.5 196.4L585.1 195.5L585.6 192.5L587.5 191.4L588.5 191.5L589.5 193.5L591.5 194.3L594.5 194.6L598.5 194L600.5 194.1L601.1 194.5L601.4 195.5L601.5 199.5L602.2 200.5L603.9 201.5L606.7 201.5L608.8 199.5L610.5 198.7L611.5 198.8L614.5 201.4L615.5 201.6L618.5 201.2L621.5 203.7L624.5 203.9L627.5 204.7L630.5 203.8L632.5 204.1L633.5 204.5L634.4 205.5L636.5 210.1L637.5 211L642.5 210.2L644.5 209.1L645.5 209L647.5 209.6L651.5 209.3L653.4 210.5L655.4 215.5L657.5 217.4L658.5 217.6L660.5 216.8L662 215.5L663.5 213L664.5 212.2L666.5 211.9L672.5 212.5L673.5 213L676.2 215.5L677.5 215.8L681.8 213.5L682.5 213.9L684 218.5L685.5 219.5L690.5 218.9L693.5 219.1L696.5 220L697.5 219.9L698.6 219.5L699.4 218.5L699.5 215.5L700.4 213.5L702.5 211.5L704.5 211L707 211.5L707.6 212.5L704.6 218.5L705 220.5L706.5 222L707.5 222.1L710.5 220.1L713.5 220.2L715.2 217.6M629.3 197.5L630.5 196.6L631.5 197.5L631.2 198.5L630.5 199.1L629.5 198.7L629.3 197.5M762.7 214.7L762.5 215.5L762.8 216.5L764.5 218.4L765.7 220.5L767.5 221.4L769.5 221.4M727.9 228L727.5 228.3L726.5 227.9L725.5 226.9L724.5 226.5L723.5 227.2L723.3 227.5L725.1 229.5L725.5 230.9M740.4 230.3L740 229.5L740.4 228.5L742.5 227.9L743.5 226.7L743.9 225.5L743.8 224.5L742.4 222.5L743.3 220.4M718.5 225.4L717.5 225.6L716.3 228.5L716.5 229.7L717.5 229.7L720.5 227.5L720.5 226.5L718.5 225.4M494.5 211.5L494.1 212.5L494.5 213.6L497.1 213.5L497.1 212.5L496.5 211.8L495.5 211.2L494.5 211.5M674.9 235.5L676.8 235.5L677 236.5L675.5 237.2L674.5 237.1L674 236.5L674.9 235.5M118.3 268.3L114.5 270.1L113.5 270.2L110.5 269.2L107.5 270.6L106.5 270.6L105.8 270.1M94.5 277.1L95.5 277.8L98.5 277L103.5 277.1L107.5 276L112.5 275.9L116.3 274.5L118.5 271.8L119.5 271.6L128.5 274.3L131.5 274.5L138 271.5L139.6 269.5L140 268.5L138 265.2M201.3 268.9L205.5 259.2L207.5 256.2L211.5 252.6L216.5 249.7L223.5 242.5L227.5 240.5L230.5 238.4L232.2 236.5L233.8 234M240.3 226.3L242.5 224.2L247.5 221.4L263.5 215.8L269.7 214.5L274.3 210.5L276.5 209.7L284.5 208.5L289.5 208.7L291.5 208.3L295.5 206.5L298.5 205.7L303.5 205.6L309.5 204L316.5 203.8L321.5 201.5L326.5 201.3L330.5 200.5L334.5 198.8L338.5 196.1L339.5 196L343.5 197L347.5 195.3L357.5 192.5L358.9 191.5L359.4 190.5L359.8 186.5L360.6 184.5L365.5 181.2L367.3 181.5L370.3 183.5L376.5 190.6L382.5 193.4L387.5 194.4L395.5 194.4L400.5 196.1L411.5 194.9L418.3 197.5L421.5 199.5L426.5 199.9L434.5 201.9L440.5 201L443.5 201L448.5 197.9L452.5 197.7L454.5 198.5L457.5 197.8L459.4 196.5L462.2 193.5L465.1 189.5L467.5 188.1L475.5 188.2L480.5 186.9L484.5 186.7L489.5 188.2L490.5 189.5L490.5 190.5L489.5 193.2L488.5 193.6L485.5 192.8L484.4 193.5L484.2 194.5L485.2 197.5L483.5 202.3L483.5 203.7L484.5 205.2L485.5 205.8L493.5 207L496.5 209.4L501.5 207L503.5 206.5L506.5 209L508.5 209.6L512.5 209.8L515.5 208L516.5 207.8L517.5 208.1L518.5 208.9L519.5 212.3L520.5 212.9L523.5 211L524.5 210.9L525.5 211.2L528.5 213.7L530.5 213.9L534.5 213.2L538.5 213.6L539.5 214.1L541.5 216.1L542.5 216.3L545.5 215.5L548.7 213.5L549.4 212.5L549.6 210.5L550.5 210L555.5 209.5L557.5 210.4L561.5 213.1L563.5 213.7L565.5 213.8L568.5 212.5L569.5 212.7L571.3 214.5L572.5 218.5L573.5 218.7L575.5 217.9L576.5 218L580.5 221.4L581.5 221.8L588.5 219.9L592.5 220.1L594.5 224.5L600.5 228.9L601.5 229.1L602.5 228.6L604.5 226.8L606.5 226.7L608.4 227.5L609.5 228.7L614.5 232L615.5 232L617.5 230.9L618.5 230.8L621.4 233.5L627.5 236L630.5 238.1L631.5 238.3L632.9 237.5L634.6 234.5L634.5 233.3L633.5 232.6L631.5 233.6L630.2 232.5L629.5 229.5L629.8 228.5L632.5 227.5L633.5 228.1L635.5 230.3L641.3 233.5L643.5 236.2L644.5 236.9L647.5 236.7L651.5 234.4L652.5 234.5L653.7 235.5L655.5 238.3L657.5 239.5L659.5 239.4L662.5 238.2L663.5 238.2L666.5 240.2L671.5 240.4L672.2 241.5L672.7 244.5L673.5 245.2L675.5 245.9L679.5 246L683.8 248.5L684.2 251.5L686.5 254.2L688.5 255.3L689.5 255.5L690.5 255L691.2 252.5L690.8 251.5L689.7 250.5L686.6 248.5L687.3 247.5L689.4 246.5L690.5 246.4L694.5 247.2L695.4 248.5L695.5 250.5L697 253.5L696.8 256.5L697.4 259.5L696.8 261.5L695.5 262.9L689.5 264.1L684.5 266.6L682.7 269.5L680.5 271.5L680.5 272.5L681.7 274.5L681.8 275.5L681.5 278L680.5 278.6L674.5 277.8L673.5 278L672.5 278.9L672.1 280.5L672.5 281.7L674.1 283.5L674.2 284.5L673.7 285.5L672.5 286.4L669.2 287.5L668.2 288.5L668 289.5L668.5 291.5L670.2 294.8M675.9 283.5L677.5 282.7L679.5 282.5L680.5 282.8L681.3 284.2M673.7 291.3L673.9 287.5L675.9 283.5M657.5 304.5L656.7 306.5L656 314.5L654 318.5L652.3 328.5L650.4 333.5L650.4 335.5L651.2 336.5L653.3 337.5L654.8 337.7M663 305.7L659.5 304.1L658.5 304L657.5 304.5M320.3 205.5L321.5 205L322.6 205.5L320.5 206.7L319.8 206.5L320.3 205.5M307.2 207.5L310.5 207L313.4 207.5L312.3 208.5L309.5 209.4L306.5 209.4L305.3 208.5L307.2 207.5M530.1 235.5L533.5 234.7L534.1 235.5L533.6 238.5L534.2 240.5L533.9 241.5L531.5 242.1L527.5 241.6L526.5 241.2L525 239.5L525 238.5L525.6 237.5L530.1 235.5M603.5 263.1L603.1 263.5L603.5 264.9L604.5 265.3L605.5 264.7L605.5 263L604.5 262.6L603.5 263.1M649.8 268.5L651.5 267.7L653.3 268.5L654.2 270.5L654.1 271.5L653.5 272.2L651.5 272.2L650.5 271.7L649.5 269.5L649.8 268.5M633.5 284L630.4 286.5L630.3 287.5L631.5 288.8L632.2 288.5L632.1 286.5L632.5 285.8L634.5 285.3L635.1 284.5L634.5 284L633.5 284M637.5 288.2L634.8 290.5L635.2 292.5L636.5 293.9L637.5 294.2L640.5 293.6L641.5 292.6L642.5 290.5L642.6 288.5L641.5 287.7L640.5 287.6L638.5 287.7L637.5 288.2M87.3 289.7L88.5 289.9L90.5 289.6L94.5 287.5L97.5 286.4L101.5 281.4L106.5 280.8L110.5 279.3L113.5 278.9L117.5 279.2L121.5 277.7L124.5 277.5L132.5 278.3L138.5 277.6L142.5 278.7L144.5 278.5L147.6 276.5L149.5 272.7L150.5 271.7L152.5 271.3L155.5 271.4L158.5 270L160.5 269.6L167.5 269.9L175.5 271.3L179.5 272.7L185.5 275.4L187.5 276.8L190.5 281.4L192.6 283.4M205.9 280.3L208.5 279L209.1 277.5L207.9 271.5L205.6 265.5L205.8 263.5L207.5 259.3L211.5 255.3L218.5 250.5L220.4 247.5L223.5 244.2L224.6 243.5L228.5 242.1L232.5 239.6L235.5 235.1L237.5 232.9L239.5 232L242.5 231.4L244.5 231.7L248.3 234.5L249.5 234.9L250.5 234.9L253.5 233.7L255.5 233.5L252.5 229.5L252.1 227.5L252.5 226.6L255.5 225.8L262.5 225L263.5 225.4L264.5 226.4L265.5 229.5L266.5 230.3L272.5 232.9L276.5 232.5L277.5 233.5L278.3 235.5L279.5 236.7L284.5 239.5L287.5 239.6L289.6 238.5L291.5 236.5L292.2 234.5L292.5 231.1L293.5 228.5L294.4 227.5L296.5 226.7L302.5 221.5L304.5 220.5L306 221.5L307.9 224.5L309.5 225.9L311.5 226.3L312.5 225.9L314.5 223.9L318.3 221.5L319.3 219.5L320.2 215.5L321.5 213.8L322.5 213.2L323.5 213.2L326.5 214.5L329.5 215L336.5 218.4L338.5 218.2L339.4 218.5L339.9 219.5L339.5 220.4L337.5 221.4L337.5 223.1L338.5 223.2L340.5 221.6L342.5 220.8L346.7 217.5L348.5 217.1L351.5 217.2L352.5 217.6L353.3 218.5L353.7 221.5L357.5 224.6L358.5 224.5L360.5 223.1L363.5 223.5L364.5 223.3L367.5 220.6L370.5 219.4L371.5 219.4L374.5 220.4L375.5 220.2L378.3 217.5L379.5 217.2L382.6 217.5L383.5 220.9L384.5 221.8L385.5 222L386.9 221.5L389.5 218.6L394.5 216.5L397.5 216.6L401.5 217.3L404.5 217.2L406.5 218.2L407.4 219.5L407.9 221.5L407.5 223.5L408 224.5L409.5 225.4L411.5 225.7L417.5 225.7L421.5 222.2L424.5 221.6L427.5 220.2L428.5 220.7L434.5 227.1L436.5 228.6L440.5 229.8L444.5 228.7L446.5 228.5L448.1 229.5L450.5 231.9L453.5 232.8L456.5 234.6L460.5 233.6L461.5 233.8L464 235.5L465.5 238.1L471.5 238L474.5 241.2L477 242.5L478.5 243.9L479.5 243.7L481.5 241.5L482.5 241.5L485.1 242.5L487.5 244L489.3 240.5L490.5 239.8L491.5 239.8L494.5 241.4L498.5 240.5L500.5 239.1L503.5 235.5L505.2 234.5L506.5 234.4L507.5 234.5L508.5 235.5L507.5 236.5L505.4 237.5L505.9 238.5L507 239.5L508.5 239.5L510.5 238.3L514.5 238.7L516.5 237.5L517.5 237.3L519.5 237.6L521.3 238.5L522.1 239.5L522.1 240.5L520.8 243.5L520.7 244.5L521.5 245.3L523.5 245.5L526.5 244.5L527.5 244.7L530.5 246.5L531.5 246.3L534.4 244.5L536.5 241.7L539.5 240.2L540.5 239.1L542.1 234.5L542.2 233.5L541.6 232.5L539.5 232.3L536.5 233.1L535.5 232.8L535.2 229.5L535.7 227.5L536.5 226.2L538.5 225.4L541.5 225.3L544.2 226.5L551.1 232.5L552.3 234.5L553.4 239.5L554.2 240.5L555.5 241L559.5 240.5L560.5 240.8L565.5 245.6L567.5 245.6L569.5 244.9L571.5 246.3L573.5 246.2L575.5 245.4L577.5 243.5L580.5 238.2L582.5 238.4L585.5 239.6L587.3 241.5L588.3 243.5L588.3 246.5L589.8 249.5L589.4 252.5L589.6 254.5L591 256.5L592.3 259.5L593.5 260.5L595.5 260.8L596.5 260.3L598.5 258.1L600.5 257.5L602.5 257.4L603.5 257.7L606.5 259.9L615.5 262.7L617.5 262.9L619.5 261.8L620.5 261.9L622.5 265.2L623.5 265.2L625.5 264.1L627.5 263.7L629.5 264.4L632.3 267.5L632.4 268.5L631.1 271.5L631.5 272.5L635.5 277.1L639.5 278.5L643 281.5L643.6 282.5L643.9 285.5L644.4 286.5L645.5 287.1L647.5 287.2L650.5 285.8L653.5 286.1L654.9 285.5L655.2 284.5L653.3 280.5L653 278.5L653.6 274.5L654.5 273L657.5 272.6L664.5 269.8L666.5 270.4L668.5 271.9L669 273.5L667.7 277.5L667.5 282.7L666.5 283.8L664 285.5L662.5 291.3L657.6 298.5L656.5 299.7L652.7 301.5L651 303.5L651.6 306.5L651.5 312.5L650.5 315.6L649.7 316.5L649.6 319.5L648.6 325.5L647.8 327.5L643.5 329.5L639.5 332.3L637.5 332.4L636.5 331.5L636 328.5L637.1 324.5L639.5 321.7L643 319.5L644.3 317.5L644.3 316.5L643.5 315.7L642.5 315.5L640.5 316.8L636.5 316L633.5 317.8L627.5 320.2L624.8 322.5L623.4 325.5L624.8 330.5L625.9 332.5L631.5 335.3L634.5 335.6L635.5 336.8L636.2 338.5L637.7 345.5L637.4 349.5L637.9 352.5L634.5 354.3L633.5 355.3L633 356.5L633.1 357.5L633.7 358.5L635.5 359.1L640.7 358.5L641.9 359.5L642.5 361.5L642.1 364.5L641.1 367.5L638.1 370.5L637.8 371.5L638.4 373.5L639.5 374.6L640.5 374.9L641.8 374.5L644.5 371.3L645.5 370.8L648.5 371.1L652.5 369.4M644.5 382.9L643.5 383.8L643.5 385.6L644.5 387L645.5 387.4L646.5 387.3L647.4 386.5L647.5 385L646.5 383.8L644.5 382.9M237.7 238.5L238.5 238.2L239 238.5L241.6 241.5L241.5 243.5L240.5 244.4L238.5 244.2L236.4 242.5L236.4 240.5L237.7 238.5M228.5 244.5L231.5 243.7L232.5 243.9L233 244.5L232.8 246.5L231.5 248.1L230.5 248.5L226.5 249.4L225.5 249.2L224.8 248.5L224.6 247.5L225.1 246.5L226.3 245.5L228.5 244.5M87.8 294.9L92.5 292.2L94.5 291.5L99.5 291.8L101 291.5L103.5 289.5L105.7 288.5L108.3 285.5L112.5 282.9L113.5 283L115.5 284.5L117.5 285L120.5 284.6L123.5 282.4L126.5 281.8L131.5 282.6L134.5 282.4L137.5 283.5L141.5 283.9L149.5 280L153.5 276.8L159.5 275.5L163.8 273.5L165.5 273.1L168.5 273.4L170.5 274.2L176.5 278.7L182.5 280.9L186.5 283.9L188.5 285.9L190 291.5L191.5 293.2L194.5 294.2L197.5 295.8L200.1 295.3M206.9 283L209.5 281.4L210.5 279.4L210.7 276.5L209.7 268.5L210 262.5L210.4 260.5L212.5 258.7L216.5 258.1L220.5 256L221.5 256.8L223.5 260.5L224.5 260.1L225.5 258.6L226.5 258.2L229.9 262.5L230.3 266.5L231.6 267.5L233.5 268.2L235.4 267.5L237.5 266L241.5 265.9L247.5 265.1L250.3 260.5L251.5 259.7L253.5 259.7L256.3 260.5L259.5 262.4L261.5 263L265.5 266.3L267.5 266.7L272.2 265.5L274.5 264L277.5 260.6L281.5 259.3L282.5 260.2L283.5 263.4L285 264.5L286.5 265.3L289.5 265.7L290.5 266.4L291.7 268.5L292.5 269L298.5 270.4L300.6 269.5L304.5 268.5L308.5 268.7L312.5 265.8L314.5 265.3L316.5 265.9L318.5 267.1L321 269.5L322.5 269.6L323.2 268.5L322.3 265.5L322.5 264.5L323.5 263L325.5 262.2L330.5 262.3L335.5 264.9L338.5 264.8L341.5 265.3L345.5 263.6L351.5 259.6L354.5 259.5L356.5 259.9L360.5 263.8L362.5 263.8L363 263.5L363.2 262.5L363 258.5L359.3 254.5L358.7 252.5L358.8 250.5L359.8 248.5L362.5 246.9L364.5 246.1L371.5 247.6L372.4 248.5L372.7 251.5L373.1 252.5L375.5 253.9L378.5 254.7L383.5 253.9L385.5 254.9L388.5 254.4L392.5 255.1L396.5 257.7L398.5 262L399.5 262.5L401.5 262.4L404.5 264.7L408.5 264.9L412.5 266.6L417.5 266.3L420.1 265.5L421.2 263.5L422.1 259.5L422.5 258.8L423.5 258.5L429.5 258.7L433.5 259.8L434.4 259.5L435.5 258.3L437.5 258.2L442.5 259.8L446.5 262.2L448.5 262.7L453.5 262.3L457.5 261.2L459.5 261.2L460.5 262.1L462.5 265.5L463.5 266.3L467.5 266.8L471.5 269L472.5 269.2L475.5 268L477.3 266.5L477.8 265.5L475.5 262.9L475.1 261.5L475.5 260.2L476.5 259.2L478.5 259.1L482.5 261.2L484.5 261.9L486.5 261.2L488.5 258.3L489.5 258.2L490.5 259.6L491.5 260.2L498.5 261L504.5 262.5L512.5 259.1L514.5 260.2L515.4 261.5L515.5 262.5L514.5 267.5L515 268.5L518.5 272.6L520.5 273.6L524.5 273.4L530.5 269.5L532.5 269.9L541.2 275.5L542.2 277.5L541.8 280.5L542 281.5L542.6 282.5L545.5 284.2L547.5 284.2L550.5 283.1L551.1 282.5L552 280.5L552.5 280.3L553.5 280.4L557.2 283.5L559.5 284.2L568.5 284.2L573.5 282.8L574.5 283.5L574.5 285.9L576 288.5L578.5 290.5L580.5 292.8L581.5 293.4L584.5 293.6L585.5 294.5L586 295.5L585.8 298.5L586.7 304.5L584.2 307.5L583.6 309.5L583.8 310.5L584.5 311L587.5 311.1L590.5 312.9L592.5 312.7L593.5 313.2L593.9 314.5L593.5 316.7L592.5 318.3L591.5 318.3L590.5 319.1L586.5 322.8L585.5 324.9L584.3 330.5L581.5 333.4L580.4 335.5L580.1 337.5L580.4 338.5L582.5 341.7L584.5 343.4L585.5 343.8L593.8 343.5L594.5 343.4L595.1 342.5L596.5 339.3L597.5 338.9L598.5 339.5L601.5 344.5L602.1 352.5L602.5 353.6L605.5 356.2L606.5 356.6L609.5 354.5L611.5 355.1L613 356.5L613.6 358.5L612.1 363.5L612.5 365.7L613.5 366.2L616.5 366L617.5 366.5L621.5 369.4L622.5 369.3L624.5 367.1L625.5 367L627.5 368.1L630.5 366.5L631.6 366.5L632.7 368.5L632.9 373.5L635 376.5L635.7 379.5L637.5 382L638.1 383.5L638.1 385.5L637.5 387.3L635.4 390.5L635.5 392.5L640.5 398L642.5 398.9L645.5 398.6L648.7 395.5L650.5 394.5L651.5 394.6L652.5 395.3L655.2 398.5L657.2 399.5L659.5 399.6L665.7 398.4M574.5 296.2L573.9 296.5L573.5 297.8L574.5 299.3L575.5 299.6L576.9 298.5L577.1 297.5L576 296.5L574.5 296.2M221.7 304.2L220.5 305.5L220 307.5L219.8 310.5L220.7 312.5L222.5 314.3L224.5 315L228.5 313.9L229.5 313L231.1 309.5L231.5 307.5L231.4 306.5L228.5 302.2L227.5 301.5L226.5 301.3L225.5 301.5M592.7 318.5L593.5 318.2L594.5 318.9L596.5 324.5L599.5 325.1L600.5 326.4L600.9 329.5L600.7 330.5L599.5 331.5L598.5 331.5L597.4 330.5L596.5 325.1L594.5 325.1L593.2 324.5L592.2 320.5L592.1 319.5L592.7 318.5M182.5 502L181.6 503.5L181.7 504.5L184.1 508.5L185.5 514.5L186.5 516.5L189.5 518.8L192.5 519.7L195 521.5L196.9 523.5L198.7 526.5L201.5 530.1L202.5 530.6L203.5 530.5L205.5 529.7L207.5 526.1L209.1 524.7M203.7 520.1L202.5 521.5L201.5 521.9L201.1 521.5L200.5 520.5L200.7 517.5L200.3 515.5L199.5 514.2L196.3 511.5L195.7 510.5L194.6 505.5L193.5 504.2L191.5 503.8L188.5 504.9L187.5 504.9L186.5 504.6L184.7 502.5L183.5 501.8L182.5 502M220.7 542.3L219.5 543.1L217 546.5M222.5 281.9L220.5 283.8L218.3 288.5L218.1 290.5L218.5 291.5L220.5 293.5L221 294.5L220.9 295.5L217.4 300.5L216.8 302.5L216.9 307.5L216.5 308.3L214.7 309.5L214.4 310.5L216.5 314.4L220.5 316.8L224.5 318L233.5 318.1L234.4 317.5L234.8 316.5L234.9 311.5L236.2 305.5L236.1 301.5L235.5 300L231.9 296.5L231.7 294.5L232.4 290.5L231.5 287.4L226.5 282.6L223.5 281.8L222.5 281.9M86.8 299.3L89.5 297.5L93.5 295.6L95.5 295.1L97.3 295.5L104.5 298.8L106.5 298.6L107.5 298.2L110.5 295.7L112.5 294.6L118.5 293.2L123.8 290.5L129.5 288.8L131.5 288.8L134.1 289.5L136.5 292.5L137.5 292.9L141.5 292.8L148.5 294.6L149.4 293.5L148.5 290.5L149.1 288.5L155.5 280.4L157.5 279.4L161.5 279.7L165.5 278.5L167.5 278.9L170.4 281.5L170.7 282.5L169.7 286.5L170.1 287.5L171.3 288.5L177.5 290.5L179.5 290.4L183.5 289.3L184.6 289.5L185.6 290.5L185.8 293.5L187.6 298.5L188.9 300.5L190.5 301.7L194.5 301.8L197.5 303.1L199.5 303.3L200.8 302.5L203.2 298.9M208.1 286.2L211 283.5L211.7 281.5L212.7 272.5L213.5 270.9L214.5 270.1L215.5 270.1L216.5 270.6L218.5 272.8L220.7 274.5L222.5 277.7L224.5 277.4L226.7 278.5L228.5 280L234.5 282.4L238.5 282.6L242.5 283.5L245.3 279.5L246.9 278.5L248.5 278.2L253.7 279.5L254.8 280.5L256.4 284.5L257.5 285.6L258.5 286L261.5 285.3L262.5 284.5L263.6 282.5L264.5 281.8L265.5 281.8L266.5 282.4L268.2 284.5L269.5 285.4L271.5 285.6L273 284.5L275.5 280.3L276.5 279.7L279.5 279.3L282 276.5L283.5 276.2L284.2 276.5L285.5 278.7L286.5 279.5L292.5 282L294.5 281.5L298.5 279.2L299.5 279.1L302.5 279.7L304.5 279.4L307.5 276.8L308.3 276.5L312.5 277L314.3 277.5L316.5 278.9L317.6 280.5L318.8 283.5L321.5 284.8L323.5 284.8L326.4 283.5L327.5 282.4L331.5 281.7L337.4 274.5L338.6 273.5L340.5 273.1L346.2 274.5L347.9 275.5L349.5 277.4L350.5 277.4L353.5 276.1L355.5 276.3L359.5 280.5L363 282.5L365.5 282.8L370.5 282.4L374.5 283L377.2 281.5L378.8 278.5L381.5 277.2L383.4 275.5L384.1 273.5L383 270.5L383 269.5L383.5 268.7L384.5 268.3L390.5 270.9L392.7 272.5L393.9 274.5L394.7 278.5L395.5 279.4L396.5 279.9L397.7 279.5L399.5 275.6L400.5 274.9L401.9 274.5L405.5 274.5L410 272.5L412.5 272.1L415.5 272.5L417.5 274.1L418.3 275.5L419.5 280.5L420.5 281.7L422.5 280.7L424.3 278.5L425.8 277.5L431.5 275.7L436.5 275.1L440.5 278.8L441.8 285.5L442.5 286.9L444.5 288.5L445.1 292.5L446.5 294.9L452.5 297L453.5 296.6L454 293.5L455.1 292.5L456.5 292.4L459.5 293.8L460.5 293.9L463.5 292.4L465.5 292.1L466.2 292.5L466.4 293.5L465.8 294.5L464.5 295.9L462 297.5L462 298.5L464.5 301.3L465.5 301.5L469.5 301L471.5 300.1L475.5 297.3L477.5 296.7L479.5 297.1L484.7 300.5L486.3 307.5L487.5 309.4L489.5 311.1L490.5 312.5L491.4 316.5L491.2 318.5L489.7 321.5L490.4 324.5L488.4 327.5L488.6 328.5L490.3 329.5L491.5 329.7L493.5 328.7L495.5 326.6L496.5 326.6L500.5 328.1L504.5 328.8L505.8 329.5L506.6 330.5L507.5 335.5L507.2 337.5L505.5 339.1L502.5 339.4L499.5 343.5L499.2 344.5L500.5 345.2L501.5 344.9L504.5 342.6L507.5 342.8L508.6 343.5L510.5 347.5L513.5 351.1L516.5 352.1L517.5 353.7L518.7 358.5L518.6 360.5L517.5 361L515.5 360.2L514.5 360.6L513.4 362.5L511.7 364.5L512 365.5L514.5 366.6L515.5 366.4L518.5 364.8L520.5 364.9L521.5 365.5L522.4 366.5L522.9 368.5L522.5 369.9L520.5 371.5L523.5 371.6L524.5 372.3L526.2 374.5L526.5 377.2L527.8 377.5L534.5 375.9L535.5 376.4L540.5 383L541.5 383.5L548.5 381.6L549.5 381.7L553.5 383.4L556.5 383.5L558.5 384.4L560.7 382.5L563.5 382.3L565.5 383.2L568 386.5L570.5 388.7L572.5 389.9L575.5 390.9L577.5 390.9L578.5 390.5L584.3 386.5L587.5 385.9L593.5 387.7L596.5 389.6L599.5 390.7L602.5 392.9L605.5 393.1L612.5 394.6L613.5 394.5L616.5 392.7L620.5 391.8L621.5 391L622.5 389.3L623.5 388.7L629.5 390.8L632.5 393.6L633.7 395.5L634.3 397.5L634.4 400.5L635.5 401.7L639.5 401.6L643.5 402.2L650.5 402.5L654.5 402.4L661.5 404L665.5 406L668.5 405.9L670.4 405.2M476.5 312.4L475.5 312.6L475.1 313.5L476.5 314.3L477.5 313.5L476.5 312.4M535.9 368.5L536.5 368.1L537.5 368.2L538.6 369.5L537.5 370.2L536.5 370L535.9 369.5L535.9 368.5M125.5 477.1L124.6 477.5L126.4 478.5L123.6 479.5L124.7 480.5L129.5 482.5L129.3 480.5L127.9 479.5L129.5 478.5L127.5 476.8L125.5 477.1M117.5 478.3L117.2 478.5L120.5 478.8L121.7 478.5L119.5 478.1L117.5 478.3M109.5 482.3L108.7 482.5L107.5 484.1L107 485.5L108 490.5L108.3 491.5L109.5 492.9L111.5 493.8L112.5 493.7L112.9 492.5L112.7 490.5L113.1 489.5L115.5 487.8L117.5 487.7L118.9 488.5L120.5 491.2L121.1 490.5L120.8 488.5L121.9 484.5L121.2 483.5L116.5 481.7L112.5 483.1L109.5 482.3M127.5 483.4L126.5 484.5L127.5 484.8L129.3 483.5L128.5 483L127.5 483.4M128.5 490.3L125.5 491.6L124.6 492.5L124.6 493.5L125.5 494.5L127.5 495.6L129.5 496L130.5 495.8L131.9 494.5L132.5 492.5L132.4 491.5L131.5 490L130.5 489.8L128.5 490.3M196.6 533.5L198.5 533.1L199.5 533.3L202.5 535.8L204.8 538.5L205.1 539.5L204.5 541L202.5 542.4L199.5 542.6L198.5 542.2L194.4 538.5L193.6 537.5L194 536.5L196.6 533.5M209.5 494.5L205.5 495.5L204 496.5L202.8 498.5L202.1 502.5L201.5 503.2L200.5 503L196.5 499.9L193.7 498.5L192.6 497.5L192.8 494.5L192.4 493.5L190.5 491.5L189.9 489.5L187.5 487.7L182.5 485.2L180.6 482.5L179.5 482.2L178.4 482.5L177.5 483.5L176.9 485.5L175.5 486.8L174.5 486.9L172.5 485.7L171.6 486.5L169.8 491.5L170.1 493.5L174.2 499.5L175.3 502.5L181.5 510.7L181.5 517.5L183.5 521.9L184.5 523.3L187.7 524.5L188.6 525.5L188.3 527.5L185.9 530.5L189.3 533.5L192.8 537.5L191.5 539.2L190.6 541.5L190.7 542.5L192.3 544.5L191.7 546.5M213.9 279.5L214.5 278.6L215.5 278.6L216.1 281.5L215.9 284.5L214.5 287.8L213.5 288.9L212.5 289.2L212.2 287.5L213.9 279.5M212.5 292.5L214.5 292.8L214.9 293.5L215.4 294.5L214.5 296.6L213.5 296.5L212.4 295.5L212 293.5L212.5 292.5M150 303.5L150.5 302.6L152.1 303.5L155.2 304.5L156.2 305.5L156.4 308.5L156.1 310.5L155.5 311.1L153.5 311.1L151.5 309.5L150.4 307.5L150 303.5M205 303.5L205.7 303.5L205.9 304.5L204.1 305.5L204 304.5L205 303.5M300.5 306.2L299.5 306.5L298.5 307.5L298.1 310.5L297.5 311.2L296.2 311.5L295.9 312.5L296.5 313.6L297.5 314.2L298.5 313.7L299.5 312.3L304.5 311.4L306.1 310.5L305.7 308.5L304.5 306.7L303.5 306.1L300.5 306.2M159.9 325.6L162.8 323.5L164.1 321.5L164.6 319.5L162.5 316.9L161.9 314.5L157.6 312.5L157.6 311.5L159.9 309.5L161.5 308.9L163.5 308.9L167.5 310.2L169.5 310L173.6 305.5L175.5 304.4L176.6 304.5L177.5 305.5L178.5 309.5L180.5 305.3L184.5 304.9L185.5 305.3L186.3 307.5L187.5 308.7L193.1 310.5L194.5 313.1L196.5 313L201.5 313.9L202.1 314.5L202 315.1M215.2 319L220.5 319.7L224.5 321L233.6 322.5L235.5 323.2L237.5 322.8L238.7 321.5L238.9 320.5L238.4 317.5L239.4 313.5L239.4 309.5L241.7 306.5L242.5 302.1L244.3 299.5L245.5 296.6L247.5 295.4L248.5 295.4L251.5 296.6L254.5 295.6L255.5 295.9L256.5 296.5L259 299.5L261.5 300.5L263.5 300.1L265.8 298.5L267.5 298.2L268.5 298.5L271.2 301.5L272.5 302.1L275.5 302L278.5 299.8L285.5 300.7L286.9 301.5L288.5 303.5L288.8 304.5L288.6 307.5L288.9 308.5L290.5 309.7L294.5 310.7L295.4 306.5L294.1 303.5L294 301.5L294.9 299.5L296.5 298.2L298.5 297.7L300.3 298.5L304.5 304.1L305.5 304.5L308.5 304L310.5 304L312.5 303.6L314 302.5L314.9 300.5L315.7 297.5L316.5 296.3L318.5 296.1L320.5 297.6L322.5 298.2L324.1 297.5L325.4 295.5L327.5 294.5L328.5 295.1L329.1 296.5L328.9 299.5L328 302.5L328.4 303.5L329.5 304.3L330.5 304.2L332.3 302.5L334.5 301.4L337.5 301L339.5 302L343.5 305.7L347.5 307.9L350.5 308.6L353.5 308.2L358.5 304.8L360.5 304.3L362.5 304.9L364.7 306.5L365.2 307.5L363.8 309.5L363.6 310.5L365.2 315.5L366.6 318.5L367.5 319.9L370.5 321.8L373 324.5L375.5 326.2L379.5 326.1L380.5 326.4L383.5 328.7L384.5 328.8L388.5 327.5L389.4 326.5L387.1 320.5L387 319.5L388.5 319.3L390.1 320.5L392.3 324.5L391.3 326.5L391.3 327.5L393.5 330.6L395.5 332L398.5 332.7L401.5 330.5L403.5 329.9L408.5 330.8L413.5 329.9L416.5 331L417.1 331.5L417.2 332.5L416.4 333.5L413.5 335L412.4 336.5L410.5 337.8L409.9 338.5L409.9 339.5L411.5 340.6L413.2 340.5L415.5 339.4L416.7 339.5L417.8 340.5L419.6 348.5L419.3 350.5L417.9 353.5L417.5 355.5L418.5 356.4L420.5 357.2L421.3 358.5L422.3 361.5L421.2 363.5L421.4 364.5L424.5 364L427.5 367.5L428.2 369.5L430.1 372.5L431.5 376L434.6 379.5L436.2 380.5L439.5 381.1L442.5 382.5L444.5 382.6L448.5 381.8L454.5 383.5L460.5 391.8L461.8 392.5L462.3 393.5L461.5 394.2L458.5 394.8L457.8 395.5L457.4 396.5L458.3 398.5L459.5 399.5L460.5 399.7L464.8 398.5L467.5 396.7L468.5 397.1L469.7 399.5L469.6 400.5L467.5 404.3L467.3 405.5L468.5 407L472.5 409.2L474.5 409.2L483.6 406.5L486 404.5L487.4 401.5L488.5 400.7L489.5 401.2L489.5 402.5L488.5 404.2L487.9 404.5L487.8 405.5L489.5 406.5L491.5 408.6L492.7 408.5L493.5 407.1L496.5 407.8L500.5 407.1L502.5 407.7L504.7 410.5L506.5 411.5L512.5 410.3L513.9 409.5L513.8 406.5L515.2 402.5L514.4 400.5L514.4 399.5L515.5 397.5L516.5 397L517.5 397.6L518 399.5L516.9 402.5L517.5 403.5L519.9 405.5L521.1 407.5L520.2 409.5L517.5 412.1L515.8 414.5L515.9 415.5L517.3 416.5L518.5 416.8L521.5 415.9L527.5 409.3L530.5 408.9L535.5 407.3L539.5 407.4L543.5 406.4L547.5 406.6L548.5 406.3L550.5 404.5L552.5 404.2L554.4 405.5L556.5 408.1L557.5 408.5L560.5 408L562 408.5L562.9 409.5L563.4 411.5L563.2 412.5L562.5 414L561.5 415L560.5 415.2L559.5 414.5L557.5 411.8L554.2 410.5L552.5 410.3L551.3 411.5L551.4 415.5L552.5 417.3L554.8 419.5L558.5 419.7L559.2 420.5L558.5 423.5L558.7 424.5L561.5 425.8L565.5 429.9L566.5 430.2L568.5 428.4L569.5 428L572.5 427.9L573.3 427.5L574.2 424.5L576.1 423.5L578.5 424.4L581.5 426.6L583.5 428.7L584.5 429.1L585.5 428.9L588.7 426.5L592.6 424.5L595.5 420.7L597.5 418.8L601.5 417.2L601.8 416.5L600.5 410.5L601.5 408.9L602.5 409L604.5 409.8L605.5 409.7L609.5 407.6L612.5 407.3L615.5 407.5L621.5 409L625 411.5L624.8 412.5L622.8 415.5L622.7 416.5L623.5 417.5L625.5 418.1L626.6 417.5L627.4 415.5L626.6 411.5L629.5 409.8L632.5 410L636.5 411.8L640.5 411.3L642.5 412.3L645.5 414.9L646.5 415.3L648.5 414.9L651 413.5L652.4 411.5L652.7 409.5L653.3 408.5L654.5 407.8L658.5 408.3L662.5 410.2L664.5 410.6L670.5 410L673 408.9M424 360.5L425.5 359.6L426.5 359.9L426.6 361.5L425.5 362.9L424.5 363.2L423.8 362.5L423.5 361.5L424 360.5M145.5 404.2L141.5 406.9L138.5 406.6L135.5 408.3L130.5 410.4L124.5 410.5L122.5 411.2L119.9 413.5L119.3 414.5L119.3 417.5L119.8 419.5L121.1 420.5L123.5 421.4L127.5 421.3L130.5 422.3L132.5 422.4L134.2 421.5L136.7 417.5L139.5 415L146.5 414.4L148.5 412.5L149.2 410.5L149.4 408.5L149 406.5L148 404.5L146.5 403.9L145.5 404.2M564.8 415.5L565.5 415.1L566.4 415.5L566.6 416.5L565.5 418.1L564.5 418.3L563.9 417.5L564 416.5L564.8 415.5M210 464.5L211.5 463.8L212.5 463.8L213.5 464.6L214.6 466.5L214.7 467.5L213.9 468.5L211.5 469.2L209.9 468.5L209.2 466.5L209.3 465.5L210 464.5M155.2 474.5L155.5 474.1L156.5 474.1L157.5 474.5L158.2 475.5L157.5 476.5L155.5 476.5L155 475.5L155.2 474.5M769.5 538.1L764.5 539.9L761.5 541.8L758.5 542L756.5 541.2L752.8 538.5L750.5 535.4L748.5 534.6L747.5 534.8L745.5 536.5L742.9 540.5L740.5 546.5M220.2 461L219.3 459.5L219.2 456.5L218.7 455.5L217.5 454.4L215.5 454.4L209.9 459.5L209.3 460.5L208.8 463.5L208.1 464.5L205.5 465.3L200.5 465.7L199.5 466.6L198.2 470.5L197.2 471.5L195.5 472.1L194 471.5L191.5 469.3L190.6 467.5L190.4 464.5L189.5 463.3L186.5 463.7L181.5 466.7L174.5 468L171.5 467.9L170.4 468.5L167.5 471.8L166.5 472.1L165.5 472.1L161.5 469.5L156.5 470.1L154.5 468.5L151.5 467.1L142.5 464L135.5 464L134.5 464.6L132.1 467.5L130.5 467.6L125.5 464.6L123.5 462.5L122.5 462.4L120.5 463.5L119.6 464.5L119.1 465.5L119.2 467.5L118.5 468.6L115.5 466.8L109.5 464.7L108.5 465.1L107.7 467.5L106.5 468.5L103.5 469.2L100.5 469L99.5 469.2L95.5 472.1L94.5 472.4L91.1 471.5L89.5 468L88.5 467.2L85.5 469.2L83.5 469.4L81.9 468.5L79.5 466L76.5 465.7L72.5 462.7L70.5 462.1M736.5 546.5L734.4 544.5L732.5 540.6L731.5 539.7L729.5 539.8L727.5 541.9L726.5 542.4L723.6 541.5L721.1 539.5L719.8 537.5L720.1 535.5L721.5 533.6L723.6 532.5L724.1 531.5L722.5 530.9L718.5 531.5L714.5 530.1L712.5 530.9L711.3 532.5L711.2 533.5L712.2 537.5L711.5 539.5L710.5 540.3L706.5 539L704.5 539L697.5 544.6L695.5 545.4L694.5 545.4L686 540.5L686 538.5L685.5 537.1L683.9 535.5L682.5 535.1L681.4 535.5L680.9 536.5L681.2 537.5L683.9 539.5L684.5 540.5L684.2 541.5L682.5 542.3L678.5 540.9L677.5 540.9L674.5 542.8L671.5 544.1L669.9 546.5M225.1 339.5L226.5 338.9L229.5 339.2L236.5 342.8L240.5 342.2L244.5 342.5L247.5 341.9L256.5 345L257.5 345L258.8 344.2M261.7 349.8L259.5 353.3L257.5 354.3L254.5 353.6L250.5 350.7L249.5 350.6L248.5 351.1L247.4 352.5L246.5 356.3L243.5 357.7L242.5 357.6L241.1 356.5L240 354.5L239.7 351.5L238.5 350.7L236.5 351.2L235.5 352L230.5 354.6L226.5 354.8L223.5 357.9L219.5 358.9L217.5 359.1L215.5 358.5L214.4 356.5L213.5 356L210.5 357.4L208.5 357L207.5 356.1L206.2 352.5L206.6 351.5L209.5 347.8L211.5 346.5L213.5 346L214.5 346.1L218.5 348L222.5 345.9L224.5 345.6L225 344.5L224.5 340.5L225.1 339.5M70.5 366.7L73.5 367.5L77.5 367.2L79.5 366.5L82.6 363.9M94.3 367.7L94.5 368.7L97.5 369L100.6 370.5L101.5 371.5L102.6 374.5L105.5 375.5L107.5 378.8L112.5 377.2L113.5 377.6L116.5 379.7L118.5 379.7L120.2 378.5L121.9 375.9M126.7 378.6L132 384.5L133.5 388L133.7 389.5L133 391.5L129.8 394.5L127.5 397.5L125.5 398.8L123.5 399.3L121.5 398.8L119.5 397.5L116.5 394.6L112.3 391.5L112.1 390.5L114 387.5L113.5 386.2L111.5 385.8L109.3 386.5L108.8 387.5L109.9 390.5L108.1 394.5L108.9 398.5L108.5 399L106.5 399.3L105.9 398.5L105.5 395.9L104.5 395.1L103.5 396L103 395.5L103.5 394.8L104.3 394.5L101.7 391.5L100.8 388.5L99.5 386.5L100.5 385.6L102.5 385.5L103.5 385.6L105.5 386.6L107.4 386.5L107.1 385.5L103.8 381.5L99.5 378L96.5 377.8L93.7 379.5L92.7 381.5L92.6 383.5L91.5 383.7L89.5 382.2L88.5 381L87.3 377.5L85.8 376.5L82.5 375.8L81.5 376.2L80.6 377.5L80.1 379.5L80.2 381.5L81.5 384.5L81.3 386.5L77.5 390.9L75.7 394.5L75.5 396.5L75.9 398.5L76.5 399.3L80.5 400.2L83.9 401.5L82.1 402.5L79.5 403.1L76.5 403.2L73.5 404.3L71.9 401.5L70.5 400.8M91.5 395.5L92.5 395.5L92.9 396.5L92.5 397.2L91.5 397.8L91.2 396.5L91.5 395.5M177.4 409.9L176.6 411.5L177.1 412.5L179.5 413.3L181.5 413.2M197 422.6L196.2 423.5L196.3 425.5L197.5 427.4L198.5 428.1L199.5 428.1L201.5 426.9L203.5 426.7L207.5 427.6L211.5 427.7L212.3 428.5L212.4 429.5L210.1 434.5L207.5 437.1L206.5 437.4L201.5 436.6L199.5 437.1L198.5 437.8L198.2 438.5L198.3 444.5L196.1 450.5L196.4 453.5L196 454.5L193.5 454.8L189.5 456.3L187.5 456.5L185 455.5L181.8 453.5L180.9 452.5L180.5 451.5L180.9 450.5L184.4 448.5L185.3 447.5L185.4 446.5L182.5 444.5L179.5 444.2L177.5 444.6L176.5 444.1L175.8 442.5L175.9 441.5L176.5 440.4L178.5 438.5L178.5 437.5L177.5 436L175.5 435L173.5 434.9L170.5 436.9L169.5 437.2L166.5 436.7L165.5 437.1L164.7 438.5L164.8 442.5L164.5 443.5L163.6 444.5L162.5 445L160.5 445L155.5 443.1L153.3 440.5L150.6 434.5L150.3 431.5L151.7 426.5L152.3 425.5L154.6 423.5L155.8 419.5L157.6 416.5L157.2 412.5L157.4 411.5L159.5 409.3L161.5 408.4L166.9 409.5L168.7 410.5L169.3 411.5L169.5 413.5L169.1 414.5L166.8 416.5L166.3 417.5L166.1 425.5L167.5 428.5L171.5 432.9L173.5 434.1L174.5 433.7L175.5 432.7L177 429.5L178.7 427.5L178.8 425.5L177.8 424.5L175.5 424.4L173.5 425.2L172.9 424.5L173.5 418.5L172.8 411.5L172.1 409.5L170.5 407.8L170.1 406.5L170.4 405.5L171.6 404.5M236.6 405.5L239.5 404.5L241.2 404.9M223.2 411.3L226.5 409.7L229.5 407.1L234.5 406.5L236.6 405.5M186.5 421.2L185.5 422.2L185.4 423.5L186.5 424.5L187.4 423.5L187.3 422.5L186.5 421.2M448 461.5L449.5 460.8L450.8 461.5L450.5 463.6L449.5 464.5L448.5 464.5L446.8 463.5L446.8 462.5L448 461.5M471.2 465.5L472.5 465.5L473.3 467.5L473 469.5L471.5 471.9L468.5 472.7L466.5 472.4L465.8 471.5L465.7 469.5L466.6 467.5L467.5 466.6L471.2 465.5M621.3 466.5L622.5 466.7L623.1 467.5L622.8 468.5L621.5 469.1L620.2 468.5L620 467.5L621.3 466.5M458.7 468.5L459.5 468.2L461 468.5L461.8 469.5L461.4 470.5L460.5 471.2L459.5 471.3L458.5 470.8L457.9 469.5L458.7 468.5M471.3 478.5L472.5 478L473.3 479.5L473.4 480.5L472.5 483L471.5 483.7L470.5 483.8L469.5 483.1L469.2 481.5L469.5 480.5L471.3 478.5M769.5 489.8L767.5 489.3L764.5 489.8L763.5 489.6L761.8 488.5L759.5 485.9L758.5 485.6L751.5 488.2L750.5 489.5L750.5 491.7L749.5 492.2L746.5 489L745.7 486.5L746 485.5L746.5 485.2L749.7 484.5L749.5 483.5L748.4 482.5L746.5 482.1L745.6 482.5L744.5 484L743.5 484L741.5 482.8L739.8 480.5L738.5 479.7L729.5 480.8L726.5 480.1L723.5 480.1L720.5 479.3L717.5 479L715.5 477.5L713.5 476.6L710.5 476.9L704.5 479.4L688.5 479.9L687.1 478.5L687.6 474.5L687.1 472.5L683.5 469.1L680.5 468.3L678.7 468.5L676.5 469.7L674.5 469.9L671.5 472L666.5 472L663.5 473L658.5 471.6L655.5 472.8L654.5 472.7L647.5 468.8L645.5 468.7L644.1 469.5L642.5 473.6L640.5 475.4L638.5 475.6L635.9 473.5L634.5 473.2L632.5 473.4L629.5 474.3L628.5 473.8L627.6 472.5L626.8 469.5L629.1 467.5L630.5 465L631.5 464.6L633.5 465.2L634.1 464.5L633.9 463.5L633.5 462.8L632.5 462.2L626.5 461.1L622.5 461L618.5 461.6L617.5 462.2L616.2 464.5L615.5 465L613.5 465.2L611.6 464.5L609.5 463.2L606.6 462.5L604.5 460.5L602.5 460.2L601.5 460.6L600.9 461.5L600.8 466.5L600.4 467.5L599.2 468.5L594.5 469.8L592.5 472.3L591.8 471.5L591.2 468.5L588.7 463.5L589.6 459.5L588.5 457.2L588.3 455.5L588.9 453.5L591.1 451.5L593.5 450.3L595 450.5L596 451.5L597 454.5L598.5 455.4L600.5 455L602.3 453.5L606.5 451.4L608.4 451.5L610.5 452.4L613.5 451.9L614.5 451.5L615 446.5L615.8 445.5L620.5 443.6L623.5 444.2L628.5 443.4L630.5 442.7L634.5 442.4L636.5 440.5L637.5 436.2L638.5 435.6L641.5 437.7L642.5 437.2L645.4 434.5L645.9 433.5L645.5 430.5L646.5 429.1L649 428.5L651.5 426.8L652.5 427L655.5 429L657.5 428.8L661.2 427.5L663.5 426.3L665.2 424.5L665.9 422.5L665.9 417.5L666.5 416.8L670.5 416.3L676 416.3M535.5 529.1L535.1 529.5L535.5 530.6L536.5 530.9L538 530.5L538.1 529.5L536.5 529L535.5 529.1M422 474.1L421.7 472.5L422.1 471.5L425.5 469.6L427.1 466.5L426.1 465.5L423.8 465.5L422.5 465.9L419.3 469.6M412.2 452.4L414.5 452.2L418.5 453.2L420.5 453.1L421.7 452.5L424.5 449.7L425.5 449.1L426.5 449.2L427.5 450.1L428.7 453.5L429.9 455.5L434.3 459.5L436.7 463.5L436.5 465.3L435.5 467.7L434.5 468.8L432.5 469.8L432.1 470.5L431.8 471.5L432.5 473L433.5 473.4L436.5 471.1L437.5 471.4L443.6 474.5L446.5 475.5L447.3 478.5L448.5 479L450.5 478.1L453.5 475.4L456.5 474.9L458.1 475.5L458.8 476.5L458.6 478.5L457.5 479.8L454.5 481.5L454.3 482.5L454.8 483.5L456.5 485.7L460.5 487.8L462.5 489.9L464.5 490.6L467.5 490.5L468.5 491.5L468.7 492.5L468.4 493.5L467.5 494.2L466.5 494.3L460.5 493.3L459.5 493.3L458 493.9M467.3 496.7L468.5 496L469.5 496.1L471.3 497.2M474 497.5L476.5 495.1L478.5 494.6L482.5 496.2L487.1 499.6M495.2 503.1L498.5 502.7L501.5 503.3L504.5 502.2L505.5 502.1L506.2 502.5L507.2 504.5L508.2 508.5L507.5 509L504.4 509.1M521.3 519.2L524.5 520.5L527.5 520.4L530.5 521.5L536.5 521L539.5 522.5L543.5 522.4L545.5 523L546.8 524.5L547 525.5L544.1 528.5L543.9 530.5L544.5 531.1L547.5 531L548.5 531.4L552.9 534.5L556.5 538.1L557.5 538.7L558.5 538.8L560.5 538.1L561.6 536.5L561.5 535.5L560 531.5L557.4 527.5L555.3 525.5L555 524.5L557.5 524.7L560.5 526.4L561.7 527.5L562 528.5L562.4 531.5L566.5 533.5L567.2 535.5L567 536.5L564.5 538.3L563.5 541.6L561.8 543.5L563.2 546.5M557.6 546.5L557.5 544.9L553.5 544.9L549.5 543.8L548.5 544.6L548 546.5" fill="none" stroke="#000" stroke-width="0.7" stroke-opacity="0.9"/>
<path d="M275.8 179.1L277.5 181.5L278.6 184.5L279.5 185.1L286.5 187.5L290.5 187.9L292.5 187.5L307.5 181.2L326.5 176.1L342.5 172.7L362.2 169.5L369.5 167.1L381.5 164.3L396.5 166.9L409.5 167.7L412.5 168.8L420.5 173.7L421.8 173.5L425.5 171.1L432.2 167.5L433.2 166.5L434 163.5L434.7 162.5L437.5 160.8L441.5 160.7L448.2 164.5L450.9 164.5L454.3 162.5L462.5 155.7L467 152.5L469.5 149.2L469.5 146L468.6 141.5L468.7 138.5L469.2 135.5L468.5 131.8L465.7 130.5L459.5 131L456.5 130.8L449.5 128.1L443.5 125L435.8 117.5L432.5 111.8L430.6 109.5L430.2 108.5L431 107.5L433.5 105.9L442.9 104.5L447.5 102.8L451.5 101.9L458.5 102.8L463.5 103.8L474 108.5L476.5 108.6L477.5 107.9L478.8 103.5L479.2 97.5L478.6 93.5M241 213.6L242.5 213.4L243.5 212.7L248.5 208.8L251.5 205.9L253.5 204.6L258.5 203.5L266.5 200.4L271.5 199.8L275.5 197.8L283.5 195.7L290.5 194.8L293.5 194.7L298.5 193.4L311.5 191.3L312.9 190.5L315.3 187.5L317.5 185.7L328.5 181L338.5 179.8L341.5 178.9L346.5 178.7L354.5 176.5L361.5 173.3L368.5 171.1L379.5 169.3L385.5 171.2L389.5 171.3L396.5 173L402.5 173.4L408.5 176.6L410.5 176.9L413.5 176.7L420.5 178.9L422.5 178.4L425.5 176.3L434.7 171.5L436.1 170.5L438.5 167.7L439.5 167.1L442.5 167.1L449.5 168.8L452.5 168L457.5 164.9L463.5 159.8L469.3 156.5L472.5 152.4L473.6 149.5L472.5 141.5L473.3 135.5L473 132.5L471.6 128.5L470.5 127.3L469.5 126.8L467.5 126.5L463.5 126.6L456.5 125.6L445.5 121.4L442.4 118.5L440 114.5L439.5 113.5L439.7 112.5L440.5 111.5L442.8 109.5L444.5 108.8L452.5 107.5L465.9 111.5L470.5 114L475.7 115.5L478.5 117.3L479.5 117.5L481.5 117.2L486.5 115.3L488.5 113.5L490.1 110.5L489.5 107.5L490.5 106.8L493.5 107.7L497.5 107.2L499.5 107.4L500.5 107.9L502.5 110L504.5 110.8L506.5 110.5L508.5 109.2L509.6 107.5L511.1 102.5L513.7 99.5L513.6 97.5L511.9 93.5M240.4 215.7L243.5 214.7L246.5 212.3L250 210.5L254.5 207.2L260.5 206.1L266.5 203.3L273.5 201.7L283.5 198L289.5 197.6L299.5 195L306.5 195.2L312.5 193.7L314.9 192.5L320.9 187.5L330.5 183.6L345.5 181.5L362.5 174.3L368.5 172.9L379.5 172.7L381.5 173.7L386.5 177.2L391.5 176.7L393.5 177L397.5 180.1L399.5 180.9L403.5 181L406.5 180L408.5 179.9L414.5 181.1L421.5 181.2L424.5 180.4L428.5 177.2L436.5 172.8L440.5 170.1L442.5 169.6L449.5 169.8L452.5 169.1L458.5 165.6L464.5 160.5L469.9 157.5L473 153.5L474.5 149.5L473.5 141.5L474.3 133.5L473.1 126.5L473.7 125.5L476.5 122.9L478.5 121.8L484.5 121.5L489.5 120.6L494.5 120.4L498.5 119.8L503.5 119.9L505.1 120.5L506.5 121.8L509.5 126.7L511.5 127.2L512.5 126.8L513.6 125.5L515.1 122.5L515.5 119.2L516.5 118.8L523.5 119.4L524.5 119.1L525.1 118.5L525.8 115.5L526.5 114.5L527.5 113.9L529.5 113.7L530.5 112.9L531.3 109.5L532.5 107.8L535.5 105L539.4 103.5L540.5 102.5L541.3 100.5L541.5 97.5L539.5 93.5M725.9 110.8L727.1 113.5L728.5 114.3L732.5 112.5L735.5 112.2L738.6 112.6M462.1 116.5L463.5 115.9L464.7 116.5L465.3 117.5L465.4 118.5L464.8 120.5L463.5 121.9L462.5 121.7L461.5 120.4L461.2 118.5L462.1 116.5M239.7 218.1L243.5 216.3L247.5 213.3L254.5 209.6L261.5 208.8L269.5 204.6L277.5 202.4L283.5 200.2L289.5 200L299.5 196.6L307.5 196.9L313.5 195.6L327.2 187.5L330.5 186L335.5 184.8L341.5 184.6L345.5 183.6L360.5 176.4L363.5 175.3L368.5 174.8L371.5 175.2L373.5 176.3L377.8 179.5L382.5 181.4L385.5 184.5L388.5 185.2L392.5 184.2L393.5 184.4L396.5 186.8L399.5 187.8L401.5 187.9L402.9 187.5L407.5 184.4L409.5 183.6L414.5 184.4L419.5 183.3L423.5 183.5L425.5 183.2L427.5 182.1L430.5 179.1L438.3 174.5L442.8 172.5L453.5 170.3L459.5 166.6L465.3 161.5L471.5 158.4L474.4 153.5L475.4 150.5L474.4 141.5L475.8 134.5L475.2 129.5L475.3 127.5L477.5 125L479.5 124.1L487.5 123.7L490.5 124.4L492.1 125.5L492.8 126.5L493 129.5L493.5 129.9L497.5 130.1L499.5 130.7L504.5 134.9L506.5 135.8L508.1 135.5L510.1 133.5L511.5 132.8L513.5 132.9L516.5 133.7L519.5 136.5L522.5 138.6L523.9 142.5L525.5 144.1L527.5 145L531.5 144.9L536.5 146.4L537.5 146.3L545.3 143.5L549.1 139.5L553.4 138.5L556.5 136.4L560.5 136.2L563.5 134L566.6 133.5L567.6 132.5L568.6 129.5L570.5 128.1L574.5 127.5L576.5 128.5L577.5 128.6L578.5 127.5L578.4 124.5L579.6 123.5L582.5 123.4L586.5 125.1L594.5 125.9L595.4 125.5L595.4 120.5L596.5 119.5L599.5 119.7L603.5 119L608.5 116.8L610.5 117.2L613.5 118.7L614.5 118.7L623.5 115.7L628.5 116L629.5 115.5L632.5 112.3L633.3 108.5L633.8 107.5L635.1 106.5L638.5 105.2L643.5 104.7L646.5 103.9L647.5 104.1L649.5 105.9L650.5 106.2L656.5 106.1L659.5 105.1L661.5 105L663.5 105.3L666.4 106.5L667.9 107.5L668.8 110.5L672.9 114.5L675.5 115.6L678.5 115.6L680.2 116.5L681.3 118.5L681.6 123.5L682.5 125L683.5 125.8L684.5 126L686.4 125.5L689.5 123L694.5 124.5L701.5 128.2L704.5 131.6L706.7 131.5L708 130.5L708.5 128.7L715.5 131.8L721.5 129.5L724.5 130.1L727.5 132.4L728.5 132.7L731.5 131.6L733.5 131.5L735 132.5L735.5 136.5L737.7 139.4M706.6 117.2L705.5 118.4L704.5 118.8L702.5 118.3L701.1 117.4M705.7 127.5L706.5 126.5L707.5 127L708.4 128.5L706.5 128.8L705.7 127.5M200.3 262.4L202.6 256.6M211 249.2L215.5 246.7L222.8 239.8M239.1 222.2L242.5 218.7L247.5 215.4L254.5 212.2L262.5 211.2L266.5 208.7L273.5 205.5L283.5 202.9L289.5 202.5L298.8 198.5L307.5 198.4L314.5 197.4L324.5 193.7L328.4 189.5L329.5 188.8L337.5 187.1L341.5 187.3L343.5 186.9L351.5 184L360.5 178.2L364.5 176.7L367.5 176.8L370.5 178L376.7 182.5L379.5 186.1L381.9 187.5L386.5 188.1L395.5 190L401.5 190.6L410.5 187.9L420.5 188.3L425.5 186.8L430.5 186.8L431.5 186.2L433.7 182.5L438.1 179.5L439.5 178.9L448.5 178.4L452.5 179.4L454.5 178.2L455.5 178L459.5 179.3L460.5 179.3L461.5 178.5L461.8 177.5L462.5 171.1L463.5 170.4L465.5 170.1L466.5 169.4L469.5 166L474.5 164.5L477.5 162.2L479.5 161.3L485.5 160.8L486.8 159.5L488.5 158.7L490.5 159.1L492.7 160.5L494.5 160.6L496 159.5L497.5 156L500.6 153.5L502.5 153.3L505.5 156L507.5 156.4L510.5 154.3L515.5 154L520.5 151.8L523.5 151.8L525.5 152.4L528.5 154.8L534.5 155.7L537.5 155.7L539.5 155.2L542.5 153.4L543.4 152.5L545.3 149.5L546.5 148.8L554.5 147L555.5 147.1L557.5 149L559.5 149.8L563.5 148.7L568.5 148.9L573.5 148.6L576.5 149L579.5 148.4L583.5 149.2L589.5 149.2L591.5 148.8L595.5 147.2L599.5 147.8L601.4 147.5L603.5 146.2L606.5 145.1L608.5 142.9L610.5 142.5L614.5 142.9L615.4 143.5L616.2 145.5L616.3 148.5L617 150.5L618.5 152.2L620.5 152.7L623 151.5L623.8 146.5L623.5 143.5L623.8 142.5L625.5 141.6L626.5 141.6L627.9 142.5L629.5 148.5L631.5 148.7L634.5 147.9L636.5 149.9L637.5 150.4L646.5 152L648.5 151.9L650.5 151.1L651.6 150.5L653.5 148.1L656.5 147.2L659.5 145.1L660.5 145.1L661.5 145.6L662.9 147.5L663.1 148.5L661.6 152.5L662.9 156.5L663.4 159.5L664.8 160.5L668.5 161.3L670.6 162.5L673.2 166.5L674.9 170.5L675.8 171.5L677.5 172.3L679.5 172.7L682.5 172.7L687.5 170.8L692.5 170.5L692.6 169.5L691.2 166.5L691.8 162.5L691.5 162.2L687.5 162.8L686.5 162.5L688.5 160.5L691.5 158.9L692.5 159.2L693.5 160.2L694.5 160.4L698.5 159.2L703.5 159.5L707.4 161.5L710.5 161.7L711.5 161.2L712.1 158.5L713.5 157.8L715.5 157.5L718.5 157.7L719.9 158.5L721.5 160.3L722.5 160.6L724.5 160.2L727.5 158.3L728.5 158.4L729.5 159.2L731.4 163.5L731.4 164.5L729.5 168.5L729.5 172M759.5 155L759.5 155.5L758.5 156.1L755.5 156.3L754 155.5L755.4 154.5M745.1 155.5L747.5 155L750 155.5L751.7 156.5L752.3 158.5L751 160.5L747.5 163.5L742.5 164.3L741.5 164L741.3 162.5L743 160.5L743.8 156.5L745.1 155.5M199.6 265.1L201.6 263.5L204.1 257.5L206.1 254.5L210.5 250.9L215.5 248.1L222.5 241.6L228.5 237.7L231.2 235M239.7 224.1L243.5 220.2L246.5 218.3L254.5 215.2L264.1 212.5L275.5 207L284.5 205.3L289.5 205.2L298.5 201.4L316.5 199.2L328.6 195.5L330 194.5L331 192.5L332.3 191.5L339.5 189.8L343.5 190.1L350.5 188L353.6 186.5L359.5 181.2L364.5 178.6L367.5 178.7L370.5 180.3L374.6 183.5L378.5 188.1L382.5 190.2L386.5 190.2L392.5 191.5L401.5 192.7L408.5 191.6L412.5 190.5L414.5 191L417.1 192.5L418.5 192.8L423.5 192.8L427.5 192.2L433.5 193.4L439.5 191.9L443.5 189.8L445.5 187.9L446.5 187.9L449.5 189.2L450.5 188.9L453.3 185.5L455.5 184.1L457.5 183.8L461.5 184.1L462.5 183.8L466.5 180.9L468.5 176.9L469.5 176L470.5 176L471.7 176.5L474.5 179.7L476.5 179.6L480.5 177.2L486.2 174.5L488.5 174L493.5 173.8L494.5 173.1L498.5 168.7L500.5 167.8L506.5 168L509.5 170L513.5 171.4L516.5 173.5L522.5 174L526.5 171.9L529.5 171.7L531.5 171L532.7 169.5L534.6 165.5L536.5 163.9L538.5 163.4L539.5 163.6L542.5 165.6L543.5 165.8L546.9 164.5L548 163.5L548.3 162.5L547.6 159.5L547.8 158.5L549.5 157.7L553.5 158.3L559.5 162.3L561.1 166.5L560.4 169.5L560.6 170.5L562.3 171.5L563.6 171.5L565.5 170.5L568.5 167.5L570.5 166.2L574.5 165.8L577.9 164.5L580.5 164.4L582 165.5L582.8 167.5L587.5 170.7L591.5 171.9L594.5 174L599.5 174.9L601.2 176.5L602.9 179.5L606.5 182L608.5 182.7L611.5 182.7L619.5 186.2L627.5 186.3L632.5 185.1L634.5 185.1L636.5 186.3L639.4 189.5L643.5 191.8L644.5 192.1L646.5 191.4L647.5 191.7L649.5 194.4L650.5 195L651.5 195.1L652.5 194.6L655.1 191.5L656.5 190.5L658.5 190.1L659.5 190.4L659.6 191.5L658 193.5L658.4 194.5L659.5 195.1L663.5 194.9L664.5 195.2L666.5 198.2L667.5 199L672.5 197.8L676.5 198.4L678.5 198.1L682.2 196.5L684.5 194.8L686.5 194.1L690.5 195.3L691.5 195.3L695.5 193.8L697.5 193.7L698.5 194.1L699.5 195.1L700.3 197.5L701.7 199.5L706.3 202.6M200.4 267.2L202.4 264.5L205.5 257.7L207.1 255.5L210.5 252.4L216.5 248.7L222.7 242.5L229.5 238.3L231.4 236.5L232.9 234.3M240.1 225.5L242.5 223.2L246.5 220.6L268.5 212.9L273.5 209.8L275.5 208.9L284.5 207.5L290.5 207.3L295.5 205.2L298.5 204.4L303.5 204.1L309.5 202.7L316.5 202.1L321.5 200.2L325.5 199.8L330.5 198.7L336.7 194.5L338.5 193.7L339.5 193.6L342.5 194.6L344.5 194.3L347.5 192.9L350.5 192.1L353.5 190.3L355.7 189.5L356.5 188.9L359.9 183.5L364.5 180.4L366.5 180.1L369.3 181.5L371.9 183.5L376.9 189.5L381.5 192L389.5 193.1L395.5 193.5L401.5 194.7L411.5 193.6L421.5 197.3L426.5 197.9L434.5 200.4L443.5 199.1L446.5 196.9L448.5 196.2L456.5 195.2L458.5 193.9L459.5 192.7L461 189.5L466.5 186.5L468.5 186L477.5 186.2L483.5 184.4L488.5 184L490.1 184.5L494.5 188.2L497.5 192.1L499.5 193.9L501.5 193.8L504.5 192.4L505.5 192.3L506.5 192.6L509.5 194.9L510.5 195L513.5 193.2L516.5 194.5L520.5 193.6L525.5 194L526.8 194.5L528.5 197.4L529.5 198.3L531.5 198.9L533.5 197.8L535.3 195.5L536.5 194.8L543.5 193L555 197.5L558.2 201.5L562.5 203.8L568.5 202.6L572.5 201.2L574.5 201.3L577.5 204.8L582.2 206.5L583.6 207.5L584.1 208.5L583.9 209.5L584.5 210.5L586.5 208.6L588.7 207.5L589.5 206.5L589.1 203.5L589.5 202.2L590.5 201.2L592.5 201L594.5 202.4L595.3 203.5L595.3 204.5L593.7 206.5L593.5 207.5L594.5 209L596.5 209.7L601.3 210.5L606.5 210.3L607 210.5L607.3 211.5L607.5 215.6L608.5 215.9L611.5 215L614.5 214.9L616.5 216.3L617.5 218.5L618.5 219.2L620.5 219.2L622.4 218.5L626.2 214.5L627.5 213.8L631.5 213.7L633.5 214.8L636.8 217.5L638.8 222.5L640.5 224.2L643.5 224.1L647.5 225.5L648.5 225.3L651.5 223L652.5 222.6L653.5 222.7L655.5 224.1L659.5 225.2L662.3 227.5L666.5 227.7L669.5 229.1L671.3 228.5L672.5 226.4L678.5 224.6L684.6 227.5L688.5 227.8L692.5 227.1L699.5 230.1L706.5 235.9L710.5 236.9L713.5 239L716.5 238.9L717.3 239.5M530.5 189.5L532.3 189.5L533.5 190.1L533.9 190.5L533.8 191.5L532.5 192.3L530.5 192.4L529.7 191.5L529.8 190.5L530.5 189.5M638.5 254.1L637.5 254.8L636.7 256.5L636.8 257.5L637.5 258.5L639.5 258.7L641.9 257.5L642.3 255.5L641.5 253.7L640.5 253.5L638.5 254.1M88 286.3L89.5 286.7L90.2 286.5L91.9 284.5L96.5 282.7L99.5 280.1L101.5 279.2L116.5 276.8L120.5 275.4L124.5 275.4L132.5 276.3L140.5 274.3L144.5 274.5L148.1 270.5L150.5 269.1L152.5 268.8L154.5 268.9L157.6 267.5L161.5 266.7L165.5 268L170.5 268.4L175.5 268.2L178.5 269.1L181.4 271.5L183.6 272.5L187.7 273.5L188.6 274.5L191.5 280.3M205.4 278.6L207.5 277.9L207.8 276.5L206.5 271.8L204.4 268.5L203.9 265.5L204.5 263.5L206.8 258.5L211.5 253.8L217.5 250L220.2 246.5L223.2 243.5L228.5 240.9L231.5 238.7L235.1 233.5M240.6 227.2L242.5 225.3L248.5 222.6L253.5 221.9L260.5 219.2L266.5 217.7L270.5 217.2L274.5 215.7L274.9 215.5L276.4 211.5L277.5 211.1L284.5 210.2L286.5 210.4L288.5 211.3L290.5 211.5L291.5 211.3L294.4 208.5L296.5 207.8L299.5 207.3L302.5 207.4L309.5 205.3L316.5 205.4L320.5 203.2L322.5 202.7L325.3 203.5L327.5 205.1L332.5 207.1L334.5 206.5L336.5 204.9L338.7 205.5L340.5 205.4L344.5 203.1L348.3 201.5L350.2 197.5L351.2 196.5L353.5 195.7L357.5 195.5L359.5 194.8L362.2 191.5L362.5 186.1L366.5 184.1L368.1 184.5L370.5 187.4L372.5 188.4L374.2 190.5L376.5 192.3L381.5 195.1L386.5 197.3L388.5 197.4L395.5 196.3L396.5 196.6L400.5 199.7L402.5 200.2L403.5 200.1L405.8 198.5L410.5 197.8L413.5 199.2L418.5 200.4L423.2 204.5L424.5 204.9L427.5 204.2L432.5 204.4L436.5 204.1L438.5 203.4L443.5 203.5L447.5 201.9L448.5 202L450.1 202.5L453.5 206.1L454.5 206.6L455.9 206.5L457.2 205.5L458.5 203.4L464.9 195.5L466 192.5L467.5 190.8L475.5 189.8L480.1 188.5L481.7 188.5L483.5 189.5L483.1 190.5L481.5 192.3L478.1 194.5L477.4 195.5L478.2 199.5L476.5 206.5L477.7 211.5L479.1 213.5L480.5 214.7L483.5 215.1L484.5 216L485 217.5L484.7 219.5L485.5 220.5L489.5 221.4L491.5 221.4L494.5 223.5L499.5 226L502.5 226.4L505 227.5L508.5 227.7L514.5 229.3L516.5 229.4L518.5 228.4L521 224.5L522.5 223.3L524.5 223.3L526.5 225.6L529.5 226.3L531.5 225.3L533.5 222.5L534.5 221.8L537.5 221.1L540.5 222.2L546.5 223.5L549.5 222.8L551.5 222.8L553.2 223.5L554.5 224.7L556.5 225.3L560.5 225L562.7 226.5L563.5 229.3L564.5 230.4L565.4 229.5L564.5 225.5L565.5 224.8L566.5 224.9L569.5 226.3L571.5 229.3L573.5 230.9L578.5 231.4L585.5 234.1L590.5 237.6L595.5 242.8L596.5 242.9L596.9 242.5L596.8 239.5L597.5 238.2L599.5 237.7L602.5 238.7L604.5 240L605.5 241.2L607 244.5L607.5 247.5L608.5 248.2L615.5 246.8L622.5 246.8L624.5 247.3L627.5 250L629.5 250.8L632.5 250L635.5 250L638.5 249.4L641.5 251.4L644.5 252.6L647.5 256.8L652.6 256.5L653.5 256.9L656.3 259.5L658.5 260.4L660.5 260.2L663.5 258.3L667.5 258.8L668.5 260.2L669.3 265.5L671.5 269.8L672.2 272.5L672.2 274.5L670 278.5L669.8 283.5L665.3 287.5L664.1 292.5L662.5 296.5L659.6 300.5L656.5 302.2L655.2 303.5L654.7 308.5L653.3 314.5L651.5 319.5L650.3 327.5L647.9 331.5L647.5 333.5L647.4 335.5L648 339.5L646.5 343.5L647.5 345.1L649.5 346.1L651.5 345.8L654.5 343.3L656.5 342.4M573.5 263.5L574.5 262.7L575.7 263.5L575.5 264.5L574.5 264.8L573.7 264.5L573.5 263.5M87.6 292.9L94.5 289.8L98.5 289.5L99.5 289L101.5 285.7L102.5 284.9L107.5 282.9L111.5 280.7L113.5 280.5L116.5 282L118.5 282.4L122.5 280L127.5 279.5L131.5 280.3L135.5 280.1L139.5 281.4L141.5 281.5L145.5 280L147.5 278.9L151.5 274.9L152.5 274.4L156.5 274.3L161.5 272.2L166.5 271.4L171.3 272.5L182.5 276.8L186.5 279L190.4 284.5L191.7 288.5L192.5 289.8L194.5 291.1L198 292.2M206.4 281.7L208.5 280.6L209.5 279.5L209.9 277.5L208 266.5L207.9 262.5L208.9 259.5L211.5 257L219 252.5L219.9 251.5L222.1 247.5L224.5 244.9L233.5 241L235.6 237.5L237.5 235.5L240.5 236L246.7 239.5L249.5 243L250.5 243.8L253.5 245L257.5 245.7L258.4 246.5L259.3 248.5L260.5 249.4L262.5 249.3L264.1 248.5L268.5 243.9L269.5 243.5L271.5 244.1L274.5 243L277.6 246.5L279.5 249.9L280.6 250.5L288.5 252.6L289.5 251.9L291.4 248.5L293.6 246.5L294.5 244.4L297.5 243.2L298.8 243.5L300.5 245.9L301.5 246.5L305.5 246.9L308.5 249L309.5 248.9L311.5 247.9L314.5 247.3L315.4 246.5L316.4 244.5L317.5 240.5L318.5 240.1L320.3 240.5L322.4 241.5L323.5 242.9L325.5 243.4L331.5 239.3L332.5 239.4L336.5 241.5L337.3 242.5L336.9 245.5L338.5 246.5L339.5 246.6L340.5 246.2L341.5 244.8L344.5 238L345.5 237L346.5 236.6L350.5 236.5L356.5 239.9L359.5 239.5L363.5 237.1L370.5 237.3L376.5 238.5L377.9 237.5L380.3 233.5L381.5 233L383.5 232.8L384.5 232.9L385 233.5L385.1 236.5L385.5 237.5L386.5 237.6L390.5 235.7L392.9 231.5L395.5 229.5L396.5 229.3L397.5 229.8L399.5 232L402.5 232.5L406.5 234.2L409.5 237.1L423.5 242.6L425.5 242.3L427.5 241L430.5 240.7L434.5 238.3L440.5 237.8L441.5 238.2L442.5 239.3L444 244.5L446.5 247L448.5 247.3L450.5 247.1L451.9 246.5L453.7 244.5L455.5 244.1L456.6 244.5L459.5 247.1L462.5 247.9L463.5 248.5L469 253.5L471.5 254.3L476.5 254.3L481.5 252.1L483.5 251.7L492.5 252L496.5 251.3L499.5 251.9L505.5 250.1L511.5 247.4L512.5 247.3L513.5 248.3L514.5 250.5L516.5 251.6L522.8 250.5L524.5 250.6L525.1 251.5L525.2 255.5L526.5 257.3L528.5 258.1L535.5 259.4L537.5 261.6L538.5 261.4L540.7 259.5L543.5 258.3L544.5 258.4L550.5 260.8L553.5 262.7L556.4 265.5L558 267.5L559.2 271.5L560.5 273L561.5 273.4L563.5 272.3L567.2 268.5L571.5 265.9L572.5 265.9L574.9 268.5L576.5 269.5L580.5 268.7L582.5 269.4L587.5 272.1L588.5 272.2L592.5 271.4L593.5 271.6L594.4 272.5L594.3 274.5L593.5 275.7L590.5 276.7L587.5 276.5L586.5 277.5L585.7 279.5L585.8 281.5L586.4 282.5L587.5 283.2L591.5 283L597.5 284.3L603.5 289.4L603.8 292.5L603.1 297.5L603.8 299.5L605.9 302.5L607.2 307.5L610.9 311.5L614.5 313.8L615.6 315.5L615.8 316.5L615.3 317.5L613.5 318.4L609.5 318.1L608.8 318.5L608.8 319.5L610.7 321.5L614 323.5L614.3 324.5L614 326.5L614.2 327.5L614.9 328.5L618.2 330.5L619 331.5L620 335.5L619 340.5L619.2 342.5L621.7 346.5L623.5 348.3L625.5 349.5L625.6 350.5L624.6 353.5L625.8 358.5L627.7 360.5L634.5 364.4L635.8 366.5L636.2 367.5L635.9 372.5L636.8 374.5L640 378.5L641.2 388.5L641.7 390.5L643.3 392.5L644.5 393L646.5 392.3L651.5 388.9L653.5 389.2L656.1 390.5M656.5 390.8L657.7 392.5L658.5 395.3L659.5 396.1L662.5 396.4L664.8 396.2M223 308.6L222.4 310.5L222.8 311.5L224.5 312.5L225.9 312.3M226.4 312.1L227 311.5L226.8 310.5L228.5 310L229 308.5L228.5 306.7L226.5 306.2M222.5 288.2L221.5 290.2L221.8 291.5L223.5 293L224.5 293.3L225.5 292.9L226.6 291.5L226.1 289.5L224.5 288.1L223.5 287.9L222.5 288.2M87.4 296.8L94.5 293.3L96.5 293.2L101.5 294.4L108.5 293.9L110.5 292.5L111.5 290.7L112.5 290L117.5 289.7L123.5 286.3L124.5 286.1L136.5 286.4L138.4 287.5L138.6 288.5L139.5 289.1L140.5 289.1L141.8 288.5L144.8 285.5L151.5 281.6L154.9 278.5L157.5 277.6L161.5 277.1L166.5 275.1L168.5 275.4L169.5 276.1L176.5 283L181.5 284.7L186.5 287.6L187.4 289.5L187.8 292.5L188.9 294.5L190.5 295.8L192.5 296.8L197.1 300.5L198.5 300.9L199.5 300.5L202 297.6M207.5 284.4L210.4 282.5L210.8 281.5L211.4 277.5L211.6 269.5L212.9 265.5L213.5 264.4L214.5 264.1L216.9 265.5L219.5 265.4L222.5 267L226.5 267.9L229.5 269.7L232.5 272.7L234.4 273.5L235.5 275.6L237.5 276.2L243.5 275.4L251.5 272L255.5 269.5L257.5 269L259.5 269.3L262.5 270.7L266.5 271.5L269.5 273.6L270.5 273.2L273.2 270.5L280.5 268.5L282.5 268.3L285.5 269.5L285.2 271.5L286 272.5L291.5 275.8L302.5 275.9L303.5 275.4L305.5 273.3L307.5 272.2L310.5 271.6L314.5 271.4L315.5 271.9L317.2 274.5L318.7 275.5L320.5 275.9L325.5 276.2L327.5 275.5L331.5 272.4L334.5 272.2L337.8 270.5L339.5 270.3L343.5 271.1L345.5 270.7L347.7 267.5L348.8 266.5L350.5 265.8L351.5 265.8L352.6 266.5L352.8 270.5L353.5 272.1L354.5 272.4L357.5 271.9L360.5 272.1L364.5 270.7L369.5 271.4L371.5 270.5L372.3 267.5L374.7 265.5L377.9 264.5L381.5 264.2L390.5 262.4L391.9 263.5L393.5 266.9L394.5 267.5L398.7 268.5L399.9 270.5L401.5 271.3L404.5 270.6L407.5 268.9L411.5 269.3L417.5 268.8L419.5 269.2L422.5 271.2L424.5 271.3L425.5 270.5L426.4 268.5L427.4 267.5L429.5 266.3L430.8 266.5L432.9 268.5L436.5 268.9L441.5 270.5L443.5 270L446.5 268.6L448.5 268.5L452.5 271.5L455.5 272.7L458.5 276.2L461.5 277.7L463 281.5L464.5 282.5L466.5 282.4L470.5 280.2L474.5 280.3L477.5 279.9L479.5 279.4L481.5 277.9L483.5 278.1L487.9 281.5L487.8 282.5L485.4 285.5L485.2 287.5L485.5 287.7L490.3 288.5L493.5 293L494.5 293.4L497.5 293.3L501.5 295.6L502.5 295.8L506.5 294.4L507.7 294.5L508.7 295.5L509.5 297.8L512.5 298.5L515.5 302.3L520.5 305.4L523.7 308.5L524.3 309.5L524.3 310.5L523.7 313.5L524.5 314.3L530.5 315.4L532.5 317.1L534.5 320.5L534.2 325.5L534.4 326.5L535.2 327.5L538.5 329.8L547.5 332.1L551.1 334.5L551.4 337.5L553.3 341.5L556.5 343L558.4 344.5L559 348.5L560.6 353.5L561.5 354.5L566.5 355.8L574.2 361.5L575.4 363.5L575.9 367.5L577.5 369.1L578.5 369.7L580.5 369.9L584.5 368.3L588.1 367.5L589 366.5L589 363.5L589.5 362.5L593.5 361.3L595.5 360.3L596.5 360.1L597.5 360.4L598 362.5L596.1 368.5L596.6 369.5L597.7 370.5L599.5 371L600.7 370.5L603.3 367.5L604.5 367.4L605.3 368.5L605.5 371.9L606.5 373.3L611.5 373.7L616.5 372.4L618.5 373L620 374.5L620.9 376.5L620.5 378.4L619.3 380.5L619.5 380.8L620.5 381.2L623.5 381.4L627.5 379.9L628.5 380.1L630.5 383.2L632.9 384.5L633.6 385.5L633.7 386.5L632.8 389.5L633.1 391.5L638.4 398.5L639.6 399.5L642.5 400.8L644.5 401L647.5 400.5L650.5 398.8L651.5 398.8L654 400.5L656.5 401.1L660.5 401.5L667 401.2M224.5 298.5L219.5 300.6L218.4 301.5L218 303.5L218.2 307.5L217.6 311.5L219.9 314.5L222.5 316.1L225.5 316.6L230.5 316.1L231.5 315.5L231.9 314.5L233.5 308.5L233.4 306.5L232 303.5L229.9 300.5L227.5 299.1L224.5 298.5M204.2 507.5L202.5 508.6L201.5 508.6L200.5 508.2L199.5 507.3L197.9 504.5L195.9 502.5L193.5 501.1L188.5 499.3L186.5 499.3L182.5 498.5L179.5 499.4L178.5 500.5L180.3 505.5L183.2 510.5L183.7 512.5L183.8 515.5L184.5 517.4L186.5 519.2L192.1 522.5L195.2 526.5L200.5 531.9L204.6 535.5L206.8 538.5L207.6 541.5L209.8 544.5L210.3 546.5M390.8 297.5L391.5 296.7L392.5 297.5L391.5 299L390.4 298.5L390.8 297.5M138.5 330.4L136.5 329.4L133.5 329.3L132.7 328.5L130.9 322.5L131 319.5L131.5 318.5L132.5 317.7L135.7 316.5L136.5 315.5L135.9 312.5L136.5 310.9L139.5 309.8L140.7 308.5L141.3 306.5L141.4 304.5L140.2 301.5L140.4 300.5L141.2 299.5L142.5 298.9L147.5 298.1L151.9 295.5L153.9 293.5L154.5 290.5L157.5 287.4L158.5 286.8L159.5 287.4L160.6 290.5L160.5 292.5L159.6 294.5L161.5 296.6L163.5 297.8L167.5 296.1L171.5 295.6L174.5 294.2L180.5 295.3L182.5 296.8L185 300.5L187.5 302.8L189.5 305.3L190.5 305.5L193.5 304.4L198.5 305.2L200.5 305L201.5 304.4L203 302M208.7 288.5L212.1 283.5L213.6 274.5L214.5 273L215.5 273.1L217.7 276.5L218.5 280.5L218.1 284.5L216.3 289.5L216.5 291.5L217.5 294.5L215.8 299.5L215.5 299.9L213.5 300.5L211.9 303.5L211 306.5L210.9 310.5L211.5 311.8L213.8 314.5L216.5 316.6L224.5 319.4L228.5 319.6L231.5 320.4L233.5 320.3L235.4 319.5L236.6 317.5L237.5 313.5L237.2 309.5L238.9 305.5L239.3 303.5L238.9 297.5L238 293.5L238.5 292.3L240.5 291.9L245.5 292.5L250.5 290.9L254.5 292.5L256.5 292.6L257.5 292.3L259.6 289.5L263.5 288.2L265.6 288.5L270.5 292.2L275.5 292.7L279.5 294L282.5 294.1L285.3 296.5L288.5 297.3L290.5 296.6L291.5 295.5L292.2 293.5L291.3 290.5L292.5 289.5L293.5 289.6L296.5 291.1L301.5 291.8L305.5 291.1L309.5 288.5L311.5 288.5L313.5 289.1L316.5 291.6L318.5 292.4L325.5 290.5L328.5 289L331.5 288.5L334.5 287.3L337.5 288.4L341.5 287.9L343.5 288.4L344.5 288.3L347.3 286.5L350.5 286.4L356.3 288.5L357 289.5L357.6 291.5L358.9 292.5L362.5 293.8L366.5 294L369.5 300.5L370.5 300.9L371.5 300.3L372.4 298.5L372.5 295.3L373.5 294.2L374.5 294.1L377.5 295.2L381.5 295.6L383.1 296.5L383.9 297.5L384.7 299.5L384.5 301.2L383.1 303.5L383.5 304.1L385.5 303L387.5 303L392.5 305.2L397.5 306.7L399.5 306.6L406.3 305.5L406.5 301.5L407.5 300.4L410.5 301.9L411.2 303.5L410.5 305.6L409.5 306.2L407.5 305.8L407.3 306.5L408.5 307.7L410.1 308.5L409.9 311.5L410.9 312.5L416.5 315.1L421.5 314.5L424.5 313.1L426.5 313.1L427.7 313.5L428.9 314.5L428.8 315.5L427.5 317.5L427.7 318.5L429.5 319.8L432.5 320.8L434.5 319.7L437.5 321.1L439.5 321.5L443.5 320.6L444.5 320.7L447.8 322.5L448.7 323.5L448.8 324.5L446.5 328L446.3 330.5L447.3 332.5L448.5 333.4L451.5 334L452 334.5L451.6 337.5L452.5 339.5L453.5 340.5L455.5 340.8L458.5 339.5L460.5 339.6L462.3 341.5L463.3 343.5L462.9 347.5L463.8 348.5L466.5 350.4L468.7 350.5L471.6 355.5L476.9 359.5L478.5 361.5L479.5 361.9L482.5 361.4L484.8 362.5L486.2 364.5L486.9 367.5L489.6 371.5L493.5 374.2L497.5 378L501.5 380.1L503.6 383.5L506.5 384.9L510.5 384.1L513.1 385.5L514.5 385.8L515.8 385.5L517.5 383.4L518.5 383.5L519.7 384.5L521.1 386.5L522.5 391.6L523.5 392.6L525.5 393.7L527.5 394.3L528.5 394.1L530.5 392.7L533.4 389.5L534.5 389.3L539.3 391.5L544.5 395.8L547.5 397L549.5 397.2L553.5 396.4L561.5 397.4L566.5 399.6L567.5 399.6L568.9 398.5L571.3 397.5L574.5 397L578.3 398.5L581.5 401.4L582.5 401.4L584.5 400.5L585.8 400.5L588.5 403.1L590.5 403.9L592.5 405.4L593.4 405.5L600.5 401.4L601.5 401.4L605.5 403.2L607.5 403.3L609.3 402.5L611.3 400.5L612.5 400.1L613.8 400.5L616.2 402.5L617.5 402.8L620.5 402.4L624.5 402.9L629.5 402.6L630.5 402.7L634.5 404.7L643.5 404.2L649.5 405.7L654.5 404.7L660.5 406.2L663.5 408.3L664.5 408.6L669.5 408.2L671.8 407.1M70.5 485.3L72.5 486.4L73.5 486.6L74.5 485.8L75.2 484.5L75.6 482.5L74.5 481.1L73.3 480.5L72.4 477.5L70.5 475.9M137.6 505.5L139.5 504.6L141.5 504.5L143.5 505.3L143.8 506.5L142.4 510.5L140.3 513.5L139.3 516.5L137.5 518.2L135.5 518.7L133.5 517.9L131.3 516.5L130.4 515.5L130.2 513.5L131.3 510.5L135.8 507.5L137.6 505.5M142.9 516.5L143.5 516.2L144.1 516.5L144.2 517.5L143.5 518.8L142.5 518.3L142 517.5L142.9 516.5M209 476.4L206.5 475.7L200.8 477.5L198.1 479.5L195.5 479.7L191.5 481L189.5 480.7L187.5 479.7L185.4 477.5L185.2 475.5L186.2 473.5L186.6 471.5L186.3 470.5L185.5 469.8L183.5 469.6L177.5 471.3L173.5 474.5L168.5 477.1L167.4 478.5L166.5 483.6L165.5 485.2L164.5 485.9L156.5 485.8L155.5 485.4L152.6 482.5L151.5 482.3L147.5 483L143.5 486.2L142.5 486.1L139.5 484.8L135.5 484.7L133.5 483.2L132.8 481.5L133.3 478.5L132.3 476.5L132.4 475.5L133.9 473.5L134.1 472.5L133.5 471.7L128.5 471.4L124.5 472.6L118.5 472.5L116.5 471.7L114.5 470.2L112.5 469.9L106.3 472.5L103.5 476.4L101 478.5L99.7 483.5L96.5 485.8L94.5 486.3L89.5 484.5L85.5 486.1L84.5 485.9L82.5 484.4L81.5 484.6L80.7 485.5L79.5 489.9L78.5 490.4L75.5 490.1L74.5 490.3L73.4 491.5L73.2 492.5L75.2 495.5L75.4 496.5L75.1 497.5L73.2 499.5L71.5 501L70.5 501.3M270.5 332.2L268.5 333L266.5 333L266 333.5L266 334.5L267.4 338.4M276.1 339L278 336.5L278.5 334.5L272.5 332.2L271.5 332L270.5 332.2M163.3 328.6L165.5 326.2L166.5 325.8L168.5 326.9L169.3 326.5L171.1 322.5L171.2 321.5L170.5 318.5L170.9 317.5L172.5 316.2L174.5 315.6L177.5 316.1L178.5 316.6L180.5 318.7L183.3 320M178.7 324.7L178.3 327.5L179.2 330.5L180.5 332.1L181.5 332.2L185.5 331.2L190.5 331.8L191.5 331.3L193.1 329.5L193.1 328.5L192 326.5L192.1 321.5L192.6 320.5L193.8 319.8M249.3 334.3L249.6 333.5L249.4 330.5L250.2 328.5L252.4 325.5L254.5 324.2L257.5 323.5L258.5 323.7L259 324.5L260 328.5L257.9 330.5L257.5 331.5L258.5 331.9L260.5 331L263.5 330.5L264.6 328.5L265.7 327.5L269.5 326.6L273.5 324.4L276.5 324.5L278.5 325.4L279.5 326.5L280.5 330L281.5 329.8L284.5 327.8L285.5 327.7L286.8 328.5L287 329.5L286.7 330.5L285.7 331.5L284.5 331.8L281.5 331.5L280.5 332.3L279.9 333.5L280.1 334.5L284.5 337.8L287.5 341.5L288.5 341.8L290.5 340.9L291.7 339.5L294.3 335.5L296.5 330.5L297.5 329.1L302.5 326.4L303.5 326.3L305.7 327.5L308.5 330.2L309.5 330.6L314.5 328.3L320.5 324.2L321.5 324.1L322 324.5L323.5 327.2L326.5 326.2L327.5 326.5L329 327.5L329.6 328.5L329.6 330.5L330 331.5L333.5 335.4L335.2 336.5L333.6 340.5L334 341.5L338.1 344.5L338.4 345.5L338.2 347.5L338.7 348.5L342.5 350.1L344.5 351.6L345.5 353.5L345.4 355.5L344.8 356.5L343.5 357L342.5 356.8L341.3 357.5L341.4 362.5L340.4 368.5L337.9 373.5L337.9 377.5L336.8 380.5L337 386.5L337.5 388.2L338.5 388.7L339.5 388.7L343.5 388L345.5 385.4L346.5 384.9L347.5 385.5L347.9 386.5L348.1 388.5L347.6 391.5L348.2 392.5L349.9 393.5L352.5 393.8L353.5 393.4L355.5 391.1L356.5 390.5L360.5 391.1L362.5 391L363.5 390.2L366.5 386.2L368.5 384.7L369.5 384.6L371.3 387.5L371.3 388.5L370.1 391.5L372 395.5L372.3 398.5L373.5 399.9L375.5 400.8L376.6 399.5L376.6 394.5L377.5 392.4L380.5 392.1L384.5 389.8L385.5 389.6L388.5 390.4L394.5 389.1L399.5 386.3L400.5 386.3L405.5 388L406.5 389.5L406.1 390.5L404.5 391.7L402.5 392.5L400.7 395.5L400.1 397.5L400.5 398.5L404.4 402.5L408.5 403.5L409.3 404.5L409.5 405.5L408.5 409.5L408.3 412.5L408.6 413.5L409.5 414L412.5 414L416.5 416.4L417.9 417.5L419.9 420.5L421 421.5L423.5 422L426.5 423.7L427.5 423.7L430.5 422.4L433.2 424.5L436.9 425.5L437.7 426.5L437.9 427.5L437.5 429.7L436.5 431.1L435.5 431.1L432.5 429.4L431.5 429.4L430.2 431.5L430.2 432.5L430.8 433.5L434.7 434.5L436.5 434.5L438.5 433.7L440.5 434.5L444.5 435.1L446.5 435.9L447.5 436.1L449.2 435.5L456.4 429.5L456.7 427.5L455.5 422.5L455.7 421.5L457.5 420.6L458.5 420.6L460.5 421.5L464.5 425.2L469.4 426.5L469.7 427.5L468.5 428.1L466.5 428L462.5 430.4L460.5 429.9L459.1 430.5L461.5 431.6L462.5 432.5L464.5 436L465.5 436.1L467.5 434.6L470.5 434.3L472.5 433.1L473.6 431.5L473.8 430.5L473.5 429.5L471 426.5L472.3 421.5L473.5 420.9L477.5 420.3L480.5 418.9L483.5 416.3L487.5 415L492.5 415.6L495.5 415L496.7 415.5L498.5 417.6L499.5 418L500.5 416.2L501.5 415.8L502.5 415.9L508.5 420.4L515.4 422.5L517.5 425.5L518.5 426.5L519.5 426.7L520.5 426.3L522.5 423.6L523.5 423.2L527.5 425.9L529.5 426.3L531.3 424.5L531.7 423.5L532 420.5L533.1 419.5L538.5 416.5L539.5 416.8L540.5 418L541.5 421.7L542.5 423.3L545.4 424.5L546.1 425.5L546.3 427.5L545.5 429.4L543.5 431L540.5 431.8L538.5 430.8L536.5 428.1L533.5 426.9L529.5 426.6L527.5 427.6L522.5 427.9L521.7 428.5L521.3 429.5L520.7 433.5L520.7 437.5L521.3 438.5L525.5 441.7L527.5 440.6L528.5 440.3L528.8 440.5L529.7 441.5L531.2 445.5L532.1 446.5L535.5 447.3L538.5 449.3L541.5 450.3L542.5 450.3L543.8 448.5L543.7 447.5L541.1 444.5L540.1 441.5L541 438.5L542.5 437.1L543.5 436.8L545.5 436.7L549.5 438.3L550.5 438.3L556.5 435.7L558.5 434L559.5 434.7L561.5 438.1L562.5 439L566.5 439.1L568 439.5L569.5 440.5L570 441.5L570 442.5L568.6 445.5L569.3 446.5L570.5 446.8L572.5 445.9L576.9 440.5L578.5 439.3L581.5 439.5L591.5 438.7L594.5 439.3L597.5 439.1L600.5 440.5L602.5 440.3L603.8 439.5L604.4 438.5L605.5 433.7L606.5 432.5L607.5 433.1L609.5 436.6L611.5 437.4L613.5 437.3L614.5 436.2L615.2 432.5L616.2 429.5L616.3 428.5L615.5 425.5L615.8 424.5L616.5 424L621.5 423.9L625.5 426.2L628.5 426.2L632.5 423.3L637.5 420.6L640.5 420.1L646.5 420.1L651.5 418.3L653.5 416.7L656.3 412.5L657.5 411.6L658.5 411.5L659.5 411.9L661.5 413.9L664.5 412.8L669.5 412.7L674.5 411.2M342.2 377.5L342.5 376.7L343.5 376.7L345.3 379.5L345.5 380.6L344.5 381.2L343 380.5L342.2 379.5L342.2 377.5M349.5 378.5L350.5 378.4L351.4 379.5L351.1 381.5L350.5 382.5L349.5 383.1L348.2 382.5L347.7 380.5L348.3 379.5L349.5 378.5M365.5 379.5L367.5 379.1L368.5 379.3L369.8 380.5L370.3 381.5L370.2 382.5L369.5 384.3L368.2 382.5L365.6 380.5L365.5 379.5M340.5 404.9L339.8 405.5L339.5 406.5L340.5 406.9L341.5 406.5L342.1 405.5L341.5 405L340.5 404.9M399.5 412.5L399.5 413.5L400.5 414.1L401.5 414.3L402.5 413.5L401.5 412.1L400.5 411.9L399.5 412.5M495.5 429.1L493.5 430.5L493.1 431.5L493.5 432.7L496.5 432.5L499.3 431.5L499.1 430.5L498 429.5L496.5 428.9L495.5 429.1M549.5 493.3L545.5 495.4L541.9 496.5L540.5 497.5L540.2 498.5L540.8 499.5L542.5 500.2L547.5 500.4L549.5 502.7L550.5 502.7L552.9 500.5L553.4 499.5L552.3 497.5L552.1 494.5L551.6 493.5L550.5 493L549.5 493.3M527.5 497.4L525.5 497.9L523.5 499.5L522.9 500.5L523 501.5L523.9 502.5L525.5 502.9L528.5 501.9L531.5 501.9L532.1 501.5L532.5 500.5L530.8 498.5L529.5 497.8L527.5 497.4M601.5 503.3L600.5 504.5L600.5 505.5L601.5 505.9L602 505.5L602.2 504.5L601.5 503.3M606.5 505.3L605.2 506.5L605.4 508.5L606.3 509.5L607.5 510L608.5 510.1L609.5 509.7L609.9 508.5L609.5 505.7L608.5 505L606.5 505.3M619.5 507.1L615.5 510.8L613.5 511.5L612.2 512.5L612.5 517.1L614.5 518.8L615.4 520.5L614.5 521.2L613.5 520.7L612.1 518.5L611.5 518.3L610.5 518.8L609.5 519.9L608.8 521.5L609.2 523.5L610.5 524.7L611.5 524.8L614.5 522.9L615.9 522.5L616.7 521.5L619.5 520L621.6 517.5L623.2 513.5L625.2 511.5L625.3 510.5L623.5 507L622.5 506.6L619.5 507.1M769.5 515.4L764.5 515.5L762.5 513.6L759.5 512.9L757.5 511.5L756.5 511.5L754.2 512.5L751.4 514.5L752 516.5L751.8 517.5L749.9 519.5L747.5 521L746.5 520.6L746.1 519.5L748.3 514.5L747.9 513.5L746.5 512L744.7 506.5L741.5 503.5L739.5 500.8L738.5 500.3L736.5 500.5L731.5 504.5L729.5 505.3L720.5 504.3L717.5 502.6L714.2 506.5L712.7 507.5L707.5 508.3L706.5 507.8L701.5 502.5L699.5 501L697.5 500.5L693.5 501.1L692.7 500.5L692.5 498.5L690.5 496.1L688.5 495.1L686.5 495L684.5 495.9L681.5 498.3L677.5 500.4L674.5 500.6L672.9 501.5L672.3 502.5L672.1 505.5L671 507.5L670.5 510.4L669.5 510.5L667.9 507.5L665.5 506.5L660.5 506.1L658.5 506.9L655.5 507.1L653.5 507.9L650.5 507.4L649.5 508.4L649.2 509.5L649.5 513.5L648.5 515.4L645.5 516.5L643.5 516.6L643.1 516.5L642.8 515.5L643.8 512.5L644 510.5L643.5 509.4L641.5 508.9L639.9 509.5L638.9 510.5L638.6 512.5L639.8 515.5L639.8 516.5L638.5 516.8L637.5 516.5L633.5 512.5L633.5 509.5L632.5 508.8L631.5 508.7L630 509.5L628.1 511.5L628.9 512.5L631.5 514L632.3 515.5L632.7 518.5L631.5 521L630.5 521.9L624.5 521L622.5 521.6L621.7 522.5L621.5 523.3L621.8 526.5L621.1 528.5L619.5 530L614.5 530.8L613.9 531.5L611.5 535.5L611.4 536.5L612 538.5L611.9 539.5L609.5 541.2L606.9 544.5L606.1 546.5M333.8 405.9L335.9 399.5L334.2 395.5L334.5 391.5L330.5 386.9L326.5 385.4L323.5 382.3L321.5 381.3L319.4 381.5L318.3 382.5L317.9 383.5L318.2 385.5L317.7 387.5L318 389.5L316.6 395.5L313.5 397.1L311.5 399.7L310.5 400L307.5 395.9L306.5 395.1L304.5 394.6L299.5 395.6L296.5 398.6L290.6 400.1M286.1 398.4L285.5 397.5L283.7 391.5L282.5 389.9L281.5 389.6L280.5 389.9L278.5 392.6L277.5 392.5L276.9 391.5L276.7 390.5L277 389.5L279.5 385.2L280.4 381.5L279.7 378.5L278.5 377.4L276.5 376.7L274.5 377.2L271.8 379.5L271.1 380.5L270.3 383.5L269.5 384.2L264.5 383.5L257.5 383.2L256.5 383.5L254.5 385.6L253.5 386L248.5 384.8L246.5 385.2L244.5 386.4L244.2 387.5L244.5 388.5L246.5 389.4L248.5 389.4L249.4 390.5L249.4 391.5L247.5 394.2L247.7 395.5L248.6 396.5L252.1 398.5L252.5 399.4M229.1 440.2L227.5 441.7L224.5 441.3L223.3 441.5L222.1 442.5L220.9 444.5L215.5 447.4L214.5 447.3L211.5 445.8L206.5 447.3L203.5 447.1L200.6 450.5L200.2 451.5L202 454.5L202.1 455.5L196.5 460.1L192.5 458.9L190.5 458.8L185.5 459.6L180.5 461.9L177.5 462.3L175.5 461.5L171.5 458L170.5 457.9L169.5 458.4L168.4 460.5L167.5 461L165.5 461.3L163.4 460.5L161.4 458.5L160.1 454.5L158.5 453.9L154.9 453.5L154.4 452.5L154.7 450.5L153.9 449.5L149.5 449.9L147.5 448.5L146.5 446.5L145.5 442.2L142.3 437.5L142.1 436.5L143.1 431.5L142.9 430.5L140.8 427.5L141.1 425.5L145.5 418.6L149.5 416.1L153.5 415.4L154.3 414.5L154.4 412.5L153.6 409.5L155 406.5L155.1 405.5L154.5 404.3L151.5 401.9L149.4 399.5L149.5 398.5L151.2 396.5L151.6 394.5L154.5 391.8L155.1 390.5L154.8 388.5L153.5 387.4L152.5 387.4L151.5 388L150 392.5L145.5 396L144.5 396.3L137.5 396.4L133.5 395.5L132 396.5L129.5 399.7L121.5 404.3L119.5 404.6L116.5 404.3L112.5 405.1L105.5 408.7L104.2 409.5L102 412.5L101.6 413.5L101.7 415.5L100.5 416.7L98.5 417.4L97.5 417.4L95.5 415.9L94.5 415.6L86.5 416.4L85.5 416.2L82.5 414.1L81.5 413.9L75 417.5L74.4 419.5L74.9 421.5L74.7 422.5L73.8 423.5L72.5 424L70.5 423.7M614.1 546.5L613.5 543.5L613.7 539.5L616.5 537.7L621.5 536.5L622.5 536.7L623 537.5L623.5 542.5L626.4 546.5M636.1 546.5L636.5 544.7L637.5 542.8L638.5 541.9L640.5 541.6L643.5 541.9L644.8 542.5L646.1 544.5L646.5 546.5M671.8 430.5L677.5 430.5L681.5 433.5L682.5 433.6L685.5 432.1L686.5 432L687.5 432.3L688.6 433.5L689.5 436L689.5 437.7L688.5 439.1L685.7 441.5L684.6 445.5L682.2 447.5L680.9 449.5L680.8 450.5L681.5 451.9L684.5 453.1L685.3 454.5L685.5 457.4L684.5 458.1L682.5 457.6L681.5 456.9L679.5 453.7L676.5 453.5L672.5 452.4L668.5 453.1L667.5 452.6L666.3 450.5L668.3 449.5L668.5 449L668.3 447.5L667.5 446.5L665.5 445.8L662.5 446.2L657.8 444.5L657 443.5L657 442.5L658.5 440.8L659.5 440.4L662.5 441L663.7 440.5L664.4 438.5L665.5 437.8L668.5 434.4L670.5 431.2L671.8 430.5M763 441.1L762.8 444.5L766 448.5L764.7 450.5L765.3 453.5L765.1 454.5L763.5 455.4L762.5 455.3L762 454.5L762.3 452.5L763.5 450.5L763.4 449.5L761.5 447.3L759.5 447.1L757.5 448.3L755.9 452.5L756.2 454.5L757.8 458.5L757.5 460.7L756.2 464.5L756.2 465.5L757.5 468.3L757.3 469.5L756.5 469.9L754.5 469.4L750.5 470.4L748.5 470.2L743.5 468.1L740.4 465.5L739.2 462.5L739.7 458.5L736.5 456.4L734 451.5L734.2 449.5L735.5 447L740.5 442L742.2 440.9M747.5 448.3L746.2 450.5L746.2 452.5L747.1 453.5L748.5 454L750.5 453.7L752.4 451.5L752.3 449.5L751.6 448.5L750.5 447.8L748.5 447.7L747.5 448.3" fill="none" stroke="#000" stroke-width="0.65" stroke-opacity="0.85" stroke-dasharray="2.2 4.6"/>
<g font-size="19.4" text-anchor="middle" fill="#000" stroke="#000" stroke-width="0.45" font-family="'Liberation Sans', sans-serif"><text transform="translate(298.2 192.4) rotate(0) scale(0.95 1.05)" dy="0.32em">6</text><text transform="translate(333.1 184.1) rotate(0) scale(0.95 1.05)" dy="0.32em">8</text><text transform="translate(376.2 181.1) rotate(35) scale(0.95 1.05)" dy="0.32em">10</text><text transform="translate(426.1 184.1) rotate(-10) scale(0.95 1.05)" dy="0.32em">12</text><text transform="translate(471.9 177.4) rotate(-35) scale(0.95 1.05)" dy="0.32em">16</text><text transform="translate(444.5 126) rotate(-50) scale(0.95 1.05)" dy="0.32em">6</text><text transform="translate(483.9 118.5) rotate(0) scale(0.95 1.05)" dy="0.32em">8</text><text transform="translate(290 238.5) rotate(-40) scale(0.95 1.05)" dy="0.32em">20</text><text transform="translate(348.1 224.3) rotate(0) scale(0.95 1.05)" dy="0.32em">20</text><text transform="translate(346.3 266.3) rotate(15) scale(0.95 1.05)" dy="0.32em">22</text><text transform="translate(394.3 252.4) rotate(75) scale(0.95 1.05)" dy="0.32em">22</text><text transform="translate(260 285) rotate(0) scale(0.95 1.05)" dy="0.32em">24</text><text transform="translate(435.5 279) rotate(68) scale(0.95 1.05)" dy="0.32em">24</text><text transform="translate(339.5 308.6) rotate(0) scale(0.95 1.05)" dy="0.32em">26</text><text transform="translate(213.2 243.0) rotate(37) scale(0.95 1.05)" dy="0.32em">12</text><text transform="translate(524.4 137.3) rotate(20) scale(0.95 1.05)" dy="0.32em">10</text><text transform="translate(601.3 132.4) rotate(-30) scale(0.95 1.05)" dy="0.32em">12</text><text transform="translate(648.1 169.9) rotate(55) scale(0.95 1.05)" dy="0.32em">14</text><text transform="translate(685.6 213) rotate(0) scale(0.95 1.05)" dy="0.32em">16</text><text transform="translate(518.8 207.4) rotate(60) scale(0.95 1.05)" dy="0.32em">18</text><text transform="translate(565.6 214.9) rotate(75) scale(0.95 1.05)" dy="0.32em">18</text><text transform="translate(595.6 258) rotate(0) scale(0.95 1.05)" dy="0.32em">20</text><text transform="translate(584.4 304.9) rotate(-80) scale(0.95 1.05)" dy="0.32em">22</text><text transform="translate(642.5 378.3) rotate(60) scale(0.95 1.05)" dy="0.32em">20</text><text transform="translate(625.6 445) rotate(-20) scale(0.95 1.05)" dy="0.32em">28</text><text transform="translate(501.9 503.1) rotate(30) scale(0.95 1.05)" dy="0.32em">28</text><text transform="translate(163.8 296.9) rotate(15) scale(0.95 1.05)" dy="0.32em">26</text><text transform="translate(189.3 468.3) rotate(0) scale(0.95 1.05)" dy="0.32em">26</text><text transform="translate(193.8 516.3) rotate(30) scale(0.95 1.05)" dy="0.32em">22</text><text transform="translate(659 334.5) rotate(0) scale(0.95 1.05)" dy="0.32em">18</text></g>
</g>
<path d="M743.8 231L752.5 231.8L762.5 230.5L770 228.5L775 229.2L775 206.8L771.2 208L765 213L760 216.8L752.5 219.2L742.5 220.5L735 223L730 225L735 229.2ZM377.2 101.4L380 106.1L380 110.8L377.2 113.6L372.5 115.9L369.7 118.3L365 121.1L359.4 123.4L353.8 124.5L348.1 125.2L342.5 125.2L331.2 124.9L320 125.2L310.6 125.8L304.1 126.4L299.4 128.6L293.8 132.4L288.1 137.1L282.5 141.8L277.8 145.5L273.1 148.9L275.4 147.8L280.6 144L286.2 140.2L291.9 136.9L297.5 134.2L305 132.8L312.5 132.4L318.1 133.3L320 136.1L317.2 138.9L312.5 139.9L306.9 140.8L305.9 142.1L310.6 143.2L314.4 145.9L316.2 148.9L318.5 151.5L320.4 154.5L321.9 156.8L319.6 158.6L316.2 158.2L310.6 159.9L305 162.8L299.4 165.4L293.8 167.6L288.1 169.9L283.4 172.1L279.7 174.8L276.9 177.4L275 180.4L274.1 183.4L276.1 185.6L273.5 186.8L269.4 187.7L264.1 188.6L260 189.4L260 189.5L251 192.5L247.5 197.5L243.8 202.5L241 213.8L238.8 221L241 228.8L237.5 232.5L228.8 236L222.5 240L216 245L210 250L205 253.5L201.2 258.5L199.5 265.5L201.9 270L203.8 273.8L205 277.5L206.2 281.2L207.8 285L208.8 288.8L209.4 292.5L209 296.2L208.1 299.4L206.2 301.2L203.8 302.2L201.9 301.5L204.1 299.7L201.2 296.9L198.4 293.1L196.6 289.4L193.8 285.6L191.9 281.9L190.9 278.1L190 274.4L187.2 269.7L183.4 267.2L179.7 266.9L175 267.8L171.2 265.9L167.5 264.1L162.8 263.5L158.1 263.1L153.4 263.5L149.7 264.6L146.9 266.9L145 268.8L142.2 267.8L140.3 265.9L137.5 265L133.8 267.8L128.1 268.4L122.5 268L116.9 268.4L111.2 268.8L106.6 269.7L102.8 271.6L98.1 274.4L94.4 277.2L90.6 280.9L88.4 284.7L87.2 289.4L87.8 295L86.5 300.6L85.9 306.2L86.5 311.9L87.2 317.5L88.8 323.1L91 328.8L93.4 333.4L96.2 338.1L99.1 342.8L102.8 346L107.5 348.4L112.2 349L117.8 347.9L123.4 347.1L128.1 346L131.9 343.8L134.7 340L136.6 336.2L137.9 332.5L139 328.8L142.2 327.2L146.9 326.9L152.5 325.9L158.1 325.4L161.9 325.9L163.4 328.8L162.2 332.5L160 335.3L158.1 340L156.2 344.7L154.4 349.4L153.4 354.1L152.5 358.8L150.6 362.5L148.8 364.8L151.6 365.9L158.1 365.3L165.6 364.8L173.1 365.3L178.8 366.6L182.5 369.1L185.3 372.8L186.6 377.5L184.1 380L183.5 389.4L184.6 396.9L186.9 403.4L191.6 408.1L197.2 411.5L202.8 413.8L208.4 413.8L212.2 411.9L215.9 410L220.6 410L224.4 411.9L227.2 414.7L228.5 417.5L230 419.8L232.8 420.3L235.6 417.1L238.4 413.4L240.7 409.1L241.2 404.4L243.1 402.1L249.5 400.2L254 399L257.8 397.5L260 396L263 393L266.8 391.5L269.8 393L270.5 395.2L268.2 397.5L266.8 399.8L268.2 402L270.5 403.5L273.5 402L275.8 399.8L278 397.5L281 396L283.2 396.8L285.5 398.2L288.5 399L291.5 400.5L293.8 402.8L297.5 403.5L302 404.2L301.2 404.5L307.5 405L312.5 405.8L318.8 404.5L326.2 403.8L332.5 405L336.2 407.5L340 410L342.5 413.8L343.8 417.5L348.8 418.8L352.5 420L356.2 422.5L358.8 426.2L362.5 430L366.2 432.5L370 435.5L375 437L381.2 436.2L387.5 437L393.8 438.8L398.8 441.2L405 443.8L410 448.8L413.8 455L416.2 461.2L418.8 467.5L420 472.5L423.8 475.5L428.8 478.8L433.8 482.5L440 484.5L446.2 487L451.2 488.8L456.2 491.2L458.8 495L462.5 496.2L470 497L477.5 498L485 499L490 500.5L495 503L500 506.2L505 509.5L511.2 512.5L516.2 515L520 517.5L523 521.2L525 526.2L525.5 532.5L523.8 538.8L521.2 543.8L519.5 547L519 550L519 567L790 567L775 437.5L767.5 439.5L762.5 441.2L756.2 443.8L751.2 442L745 440.8L737.5 441.2L730 442.5L722.5 445L717.5 446.2L711.2 443.8L705 440.5L700 437L695 433.8L690 430L685 426.2L680 422.5L676.2 417L674.5 411.2L671.2 406.2L667 401.2L664.5 395.5L661.2 393L656.2 388.8L660.8 394.3L660 393.8L655.5 390L653 385L652 378.8L651.2 372.5L653.8 366.2L656.2 360L658.8 352.5L658 346.2L655.5 340L653.8 333.8L653 327.5L654.5 321.2L657.5 315L661.2 308.8L665.5 301.2L670 295L675 290L680 285L686.2 281.2L692.5 276.2L698.8 271.2L702.5 266.2L703 260L706.2 253.8L707.5 250L708.8 249.2L712.5 244.2L717.5 239.2L723.8 233L726.2 230L730 225.5L728.8 224.2L725 220.5L717.5 218L710 216.8L707 218L708 213L708.8 208L706.2 203L708 195.5L709.5 188L709.4 185L709 182.4L708.1 179.2L706.9 176.1L708.8 174.2L712.5 172.4L716.2 171.1L720 171.5L725 171.8L730 172L735 172.4L740 172L745 172.4L750 172.8L755 173L761.2 173L762.5 171.1L763.1 168L763.5 164.2L763.1 161.1L761.9 158L760 155.5L757.5 153L755 149.9L752.5 147.4L748.8 145.5L745 143.6L741.2 142.4L738.1 141.1L737.5 138.6L740 136.8L745 135.8L750 135.5L753.1 136.1L754.4 133.6L755.6 130.5L758.1 129.2L760 129.9L761.2 129L765 129.5L770 130L792.5 130L792.3 125.8L770 125.8L755 125.9L745 126.2L738.8 126.9L732.5 127.5L731.9 127L735 124.9L740 123.6L745 122.8L750 122.4L753.8 121.5L755 118.6L751.2 116.8L746.2 115.9L741.2 115.2L738.8 114.2L738.5 111.8L740 109.2L742.5 107L743.8 104.9L741.9 103L741.2 100.5L743.1 98L745 95.5L746.9 90.5L790.8 90.5L790 73L367.8 73L367.8 92.1L367.8 93L372.5 96.8ZM326.6 153.4L322.8 152.1L320.4 150.2L321.5 148.9L323.8 149.6L326.6 151.5L330.3 152.6L334.1 152.1L335.4 153L331.2 153.9ZM224 311.2L222.5 307.5L221.2 302.5L223.8 302L225.5 305L227 309.5L226.2 312.5ZM182 323.4L178.5 324.8L175.3 323.9L179.9 322.3L186.2 318.1L191.1 315.6L198.8 315L205.8 315.3L212.1 318.1L219.1 320.2L226.8 323.7L231.7 326.5L240.1 329.3L245.7 332.1L250.9 335.2L249.9 336.6L244.3 337.7L236.6 337.4L226.1 338L229.6 334.2L224.7 332.1L220.5 330L219.1 325.8L211.4 325.8L206.5 323.4L197.4 321.6L195.3 320.2L190.4 318.8L186.9 321.6ZM260 349.5L255.5 350.2L251.8 350.2L251 348.8L254.8 347.7L257.8 348L260 346.5L258.5 343.5L257 340.5L257.8 338.7L261.5 338.2L266 338.2L270.5 338.7L275 338.7L278.8 339.8L281 342L284 343.5L287.8 344.7L290.8 346.5L291.2 348.3L288.5 349.5L284 349.2L280.2 349.8L276.5 350.2L273.5 349.5L271.2 351L269.3 352.8L267.5 351L264.5 350.2ZM305.8 351.8L301.2 351.3L299.3 350.2L299.3 348.3L302 347.4L307.2 347.4L309.8 348.3L309.5 350.7ZM229.2 352.5L225.5 352.2L222.5 350.2L224.8 348.3L228.5 348L232.2 348.8L235.2 350.2L235.7 351.8L233 352.8ZM696.2 102.4L696.9 98.6L698.8 95.5L700.6 90.5L730.6 90.5L730 94.2L728.1 96.8L726.2 99.2L727.5 102.4L729.4 104.9L728.1 108L726.2 110.5L723.8 112.4L720 113.6L715 115.5L710 116.8L705 117.4L700.6 117.4L697.5 115.5L695.6 112.4L695.6 108.6L697.5 105.5ZM327.5 132L322.8 130.5L320.9 128.6L325.6 128.2L331.2 129.6L336.9 131.4L337.2 132.9L333.1 133.3ZM369.7 144L365 144.6L359.4 144L355.2 143.6L357.5 139.9L361.2 137.1L365 133.3L369.7 127.7L372.5 123L375.3 119.2L379.1 116.4L380 118.3L377.2 123L374.4 126.8L372.5 129.6L376.2 128.6L381.9 130.5L387.5 132.4L393.1 132L395.4 133.3L394.1 136.5L395.9 138.9L398.8 139.9L400.6 142.7L400.2 146.4L397.8 149.2L395.4 150.2L393.5 148.3L392.2 145.5L389.4 143.6L385.6 145.1L381.9 147.4L379.1 149.2L376.2 148.3L377.2 145.5L374.4 143.6ZM316.2 170.8L311.6 172.1L308.4 170.8L307.8 168L309.1 165.2L313.4 163.3L318.1 162L321.9 159L324.7 158.6L329.4 159L335 158.1L339.7 157.7L341.6 155.8L342.5 153L345.3 149.2L347.2 148.7L349.1 152.1L350.9 153.9L350 155.8L346.2 157.7L342.5 158.6L338.8 160.5L333.1 162.8L327.5 165.2L321.9 168ZM224 551.2L222.6 547L219.8 540L217 533L210.7 526L202.3 519L202.8 518L202.8 513.1L203.8 508.4L205.6 504.7L208.4 501.9L210.9 499.1L210.9 495.3L207.5 493.4L204.7 490.6L205.6 486.9L207.1 482.2L208.4 477.5L210.3 473.8L213.1 470L215.9 466.2L218.8 462.5L222.5 458.8L225.3 455L228.1 452.2L230.9 450.3L230 445.6L229.1 440L228.1 433.4L227.2 428.8L225.3 425.9L223.4 423.1L221.6 419.4L218.8 416.6L215 415.6L211.2 416.6L208.4 419.4L206.6 424.1L205.6 426.9L202.8 425.9L198.1 423.1L192.5 420.3L186.9 417.5L182.2 413.8L177.5 410L173.8 407.2L170.9 402.5L168.1 396.9L162.5 389.4L156.9 383.8L160 388L158.1 385.9L156.2 384.6L150.6 384.1L143.1 383.5L135.6 382.2L130 380.3L124.4 377.5L118.8 373.8L114.1 370L110.3 366.6L107.5 364.8L100.9 367.2L94.4 367.8L87.8 365.9L81.2 363.4L75.6 361.6L70 360.2L69.1 360.1L50 360.1L50 567L224 567Z" fill="none" stroke="#000" stroke-width="0.8" stroke-linejoin="round"/>
<path d="M125 149.8L127.5 148.1L131.2 146.2L135 144.4L138.8 142.2L142.5 140L146.2 137.5L150 135.2L152.5 134L156.2 135L160 135.2L164.4 135.6L166.9 137.5L168.1 140.6L170 142.5L173.8 141.9L175.6 142.5L176.9 145.6L178.8 148.8L179.8 151L177.5 151.9L173.8 151.2L170 150.6L166.2 151.9L162.5 152.8L159.4 151.2L156.9 149.8L155 148.1L153.1 146.2L151.2 147.8L150 150L148.1 149L145 149.4L141.2 150.2L137.5 151.2L133.8 151.2L130 150.6L126.9 151ZM153.8 165L156.2 161.9L160 158.8L163.1 156.9L166.9 156L171.2 155.2L175 155.6L175.6 157.5L173.8 160L171.9 163.1L170 161.9L168.1 163.8L166.5 167.5L165.6 171.2L166.2 175L167.2 178.8L166.5 182.5L164.4 185L161.2 186.2L158.1 185.6L156 183.1L155 179.4L154.8 175L155.2 170.6L156.2 167.5L155 165.6ZM176.9 155.6L180 156.2L183.8 155L187.5 154.4L191.2 154.8L195 155.6L198.1 155L201.2 155.6L204.4 156.5L206.9 158.8L209.4 161.9L211.9 163.8L210.6 165.2L207.5 165.6L205 163.8L202.5 161.9L200 160.6L198.8 163.1L200 166.9L200 171.2L198.1 174.4L195 176.2L192.5 175L191.2 171.9L189.4 169.4L187.5 168.1L185.6 170L183.8 172.2L181.9 171.9L182.2 169.4L184.4 168.1L186.2 165.6L185.6 162.5L183.8 160L181.2 158.1L178.5 157.2ZM185.2 185L187.5 183.1L190 181.9L191.2 178.8L192.5 181L196.2 180L200 179L203.8 178.5L207.5 177.8L212.5 176.9L217.5 177.2L216.2 179L212.5 180.6L208.8 181.9L205 183.5L201.2 185L197.5 186.2L193.8 187.5L190 187.9L186.9 186.9ZM211.2 173.1L213.8 171.2L218.8 170L223.8 169.8L228.8 169L232.5 167.8L236.2 166.9L239.4 166L238.8 168.1L236.2 170L235.6 172.5L232.5 174.4L227.5 174.8L222.5 175L217.5 175.2L213.1 175ZM193.1 91.9L193.8 97.5L194.4 102.5L193.5 105.6L195 108.1L198.1 110L195.6 111.9L198.8 111.9L201.9 114.4L205 116.9L202.5 119.4L206.9 118.1L210 119.4L213.1 117.8L216.2 116.2L218.1 118.1L219.4 115.6L221.2 113.1L224.4 111.2L220.6 110.6L219.4 107.5L218.1 103.8L216.9 100L215 96.9L213.1 95L216.2 93.8L220 91.9ZM75 103.8L76.9 101.2L80 100L83.1 100.6L85.6 102.5L86.9 105.6L88.5 109.4L90 112.5L91.9 115.6L94.4 116.2L96.5 118.1L96.9 121.2L95.6 123.8L93.1 124.8L91.5 123.1L91.2 120L90 117.5L87.8 115.6L85.6 115L83.8 113.1L81.9 110.6L80 108.8L77.5 106.9L75.6 105.6ZM68.8 106.9L71.9 107.5L72.5 110L71.9 113.1L70.6 115.6L68.8 116.2ZM72.5 116.2L75.6 115L78.8 115.6L79.4 118.1L80 120.6L81.9 122.5L83.8 124.8L83.1 126L80 126.2L78.8 123.8L77.5 121.2L75.6 119L73.5 117.8Z" fill="#00CCFF" stroke="#000" stroke-width="1" stroke-linejoin="round"/>
<path d="M197.8 106L200.6 105.6L203.5 106.5L203.8 107.8L200.6 108.2L198.1 107.5Z" fill="#d3d3d3" stroke="#000" stroke-width="0.6"/>
<path d="M420 472.5L417.5 475.5L412.5 478.8L410.5 482.5L411.2 487.5L410 491.2L415 491.2L421.2 490.5L425 491.2L426.2 494.5L428.8 490L431.2 485.5L433.8 482.5M412.5 478.8L416.2 480L421.2 479.5L425 481.2L428.8 482.5L431.2 485.5M410.5 482.5L413.8 485.5L415 491.2M760 413.8L762.5 416.2L761.2 418.8L764.5 420L763 423L765.5 425L767 428L765 430.5L768 432M762 412.5L765 415L767.5 414.5M763.8 422.5L767 422.5L769.5 420.5M342.5 100.9L348.1 102L353.8 100.5L359.4 98.6L365 96.8L362.2 99.6L356.6 101.4L350 103.3L344.4 102.8L342.5 100.9M250.5 193L255 191L261.2 189.5L268.8 188L270 189L265 191L258.8 192.5L253.8 193.8L250.5 193M235 200L237 204.2L235 208L238 211L236 214.5L239 218L237.5 221.8M231.2 206L233.8 210L232 215L235 219.2L233.5 224.2L236 228M233 210.5L230 212.5L232.5 215.5L229.5 218M242.5 200L240.5 204.2L242.5 208L241 210.5M232.5 229.2L230 231.8L233.8 233L235.5 231" fill="none" stroke="#111" stroke-width="0.8" stroke-linejoin="round"/>
<path d="M124.4 374.7L126.2 370L131.9 364.4L136.6 363.4L133.8 359.7L130 356.9L134.7 353.1L141.2 352.8L148.8 352.2L151.6 347.5L152.5 345.6" fill="none" stroke="#777" stroke-width="0.7"/>
<path d="M266 408.1L267.1 404.4L269.4 402.9L272.2 404.4L273.5 408.1L272.8 412.2L270.3 414.9L267.5 413.8Z" fill="#FFAA00" stroke="#000" stroke-width="0.8"/>
<path d="M103.1 130.6L105.6 129L109.4 129L111.5 130.6L111.9 133.1L110 135L106.9 135.6L103.8 135L102.5 133.1ZM115.2 135.2L118.1 135.6L121.2 136.9L123.1 138.1L121.9 139L118.8 138.5L116.2 137.2ZM80 96.9L83.1 96.2L86.2 97.5L86.9 99.8L84.4 100.2L81.2 99ZM256.2 162.5L257.5 161.9L258.2 163.1L257.5 166.2L256.2 169L255.5 167.5ZM91.2 238.8L94.2 238.5L94.5 240.5L91.8 241ZM192.2 240.5L194.5 240.5L194.5 242.5L192.2 242.5ZM174.8 261L177 261L177 263L174.8 263ZM203.5 287.9L205.4 287.9L205.8 289.8L203.9 290.1Z" fill="#123" stroke="#000" stroke-width="0.5"/>
</g>
<path d="M140 93V547M210 93V547M280 93V547M350 93V547M420 93V547M490 93V547M560 93V547M630 93V547M700 93V547M70 127.5H770M70 197.5H770M70 267.5H770M70 337.5H770M70 407.5H770M70 477.5H770" stroke="#2a2a2a" stroke-width="0.8" fill="none" opacity="0.6"/>
<rect x="70" y="93" width="700" height="454.4" fill="none" stroke="#000" stroke-width="1.3"/>
<path d="M70 77V93M70 547V562.5M140 77V93M140 547V562.5M210 77V93M210 547V562.5M280 77V93M280 547V562.5M350 77V93M350 547V562.5M420 77V93M420 547V562.5M490 77V93M490 547V562.5M560 77V93M560 547V562.5M630 77V93M630 547V562.5M700 77V93M700 547V562.5M770 77V93M770 547V562.5M55 127.4H70M770 127.4H785M55 197.4H70M770 197.4H785M55 267.4H70M770 267.4H785M55 337.4H70M770 337.4H785M55 407.4H70M770 407.4H785M55 477.4H70M770 477.4H785M55 547.4H70M770 547.4H785" stroke="#111" stroke-width="1.05" fill="none"/>
<text x="419.8" y="75" text-anchor="middle" font-weight="bold" font-size="20.5" font-family="'Liberation Sans', sans-serif">NWS National Hurricane Center (NCEP/NOAA)</text>
<text x="420.3" y="609.4" text-anchor="middle" font-weight="bold" font-size="16.48" font-family="'Liberation Sans', sans-serif">Ocean Analysis - Reynolds Daily Sea Surface Temperature (C) - valid: 2026 - 01 - 25</text>
<text x="594.5" y="724" text-anchor="middle" font-size="13.7" font-family="'Liberation Sans', sans-serif">Data Source: National Climatic Data Center (NCDC/NOAA)</text>
<text x="70" y="585.8" text-anchor="middle" font-size="16.2" font-family="'Liberation Sans', sans-serif">100W</text>
<text x="140" y="585.8" text-anchor="middle" font-size="16.2" font-family="'Liberation Sans', sans-serif">90W</text>
<text x="210" y="585.8" text-anchor="middle" font-size="16.2" font-family="'Liberation Sans', sans-serif">80W</text>
<text x="280" y="585.8" text-anchor="middle" font-size="16.2" font-family="'Liberation Sans', sans-serif">70W</text>
<text x="350" y="585.8" text-anchor="middle" font-size="16.2" font-family="'Liberation Sans', sans-serif">60W</text>
<text x="420" y="585.8" text-anchor="middle" font-size="16.2" font-family="'Liberation Sans', sans-serif">50W</text>
<text x="490" y="585.8" text-anchor="middle" font-size="16.2" font-family="'Liberation Sans', sans-serif">40W</text>
<text x="560" y="585.8" text-anchor="middle" font-size="16.2" font-family="'Liberation Sans', sans-serif">30W</text>
<text x="630" y="585.8" text-anchor="middle" font-size="16.2" font-family="'Liberation Sans', sans-serif">20W</text>
<text x="700" y="585.8" text-anchor="middle" font-size="16.2" font-family="'Liberation Sans', sans-serif">10W</text>
<text x="770" y="585.8" text-anchor="middle" font-size="16.2" font-family="'Liberation Sans', sans-serif">0</text>
<text x="44" y="133.5" text-anchor="end" font-size="16.2" font-family="'Liberation Sans', sans-serif">50N</text>
<text x="44" y="203.5" text-anchor="end" font-size="16.2" font-family="'Liberation Sans', sans-serif">40N</text>
<text x="44" y="273.5" text-anchor="end" font-size="16.2" font-family="'Liberation Sans', sans-serif">30N</text>
<text x="44" y="343.5" text-anchor="end" font-size="16.2" font-family="'Liberation Sans', sans-serif">20N</text>
<text x="44" y="413.5" text-anchor="end" font-size="16.2" font-family="'Liberation Sans', sans-serif">10N</text>
<text x="44" y="483.5" text-anchor="end" font-size="16.2" font-family="'Liberation Sans', sans-serif">0</text>
<text x="44" y="553.5" text-anchor="end" font-size="16.2" font-family="'Liberation Sans', sans-serif">10S</text>
<rect x="111.20" y="627" width="19.58" height="40.6" fill="#00CCFF"/>
<rect x="130.48" y="627" width="19.58" height="40.6" fill="#00FFFF"/>
<rect x="149.76" y="627" width="19.58" height="40.6" fill="#22FFFF"/>
<rect x="169.04" y="627" width="19.58" height="40.6" fill="#44FFFF"/>
<rect x="188.32" y="627" width="19.58" height="40.6" fill="#66FFFF"/>
<rect x="207.60" y="627" width="19.58" height="40.6" fill="#88FFFF"/>
<rect x="226.88" y="627" width="19.58" height="40.6" fill="#88FFDD"/>
<rect x="246.16" y="627" width="19.58" height="40.6" fill="#77FFBB"/>
<rect x="265.44" y="627" width="19.58" height="40.6" fill="#55FF77"/>
<rect x="284.72" y="627" width="19.58" height="40.6" fill="#22FF33"/>
<rect x="304.00" y="627" width="19.58" height="40.6" fill="#00FF00"/>
<rect x="323.28" y="627" width="19.58" height="40.6" fill="#33FF00"/>
<rect x="342.56" y="627" width="19.58" height="40.6" fill="#55FF00"/>
<rect x="361.84" y="627" width="19.58" height="40.6" fill="#88FF00"/>
<rect x="381.12" y="627" width="19.58" height="40.6" fill="#AAFF00"/>
<rect x="400.40" y="627" width="19.58" height="40.6" fill="#CCFF00"/>
<rect x="419.68" y="627" width="19.58" height="40.6" fill="#DDFF00"/>
<rect x="438.96" y="627" width="19.58" height="40.6" fill="#E5FF00"/>
<rect x="458.24" y="627" width="19.58" height="40.6" fill="#EEFF00"/>
<rect x="477.52" y="627" width="19.58" height="40.6" fill="#F6FF00"/>
<rect x="496.80" y="627" width="19.58" height="40.6" fill="#FFFF00"/>
<rect x="516.08" y="627" width="19.58" height="40.6" fill="#FFEE00"/>
<rect x="535.36" y="627" width="19.58" height="40.6" fill="#FFD500"/>
<rect x="554.64" y="627" width="19.58" height="40.6" fill="#FFBF00"/>
<rect x="573.92" y="627" width="19.58" height="40.6" fill="#FFAA00"/>
<rect x="593.20" y="627" width="19.58" height="40.6" fill="#FF9900"/>
<rect x="612.48" y="627" width="19.58" height="40.6" fill="#FF8800"/>
<rect x="631.76" y="627" width="19.58" height="40.6" fill="#FF7000"/>
<rect x="651.04" y="627" width="19.58" height="40.6" fill="#FF5500"/>
<rect x="670.32" y="627" width="19.58" height="40.6" fill="#FF4400"/>
<rect x="689.60" y="627" width="19.58" height="40.6" fill="#FF3300"/>
<rect x="708.88" y="627" width="19.58" height="40.6" fill="#FF1100"/>
<path d="M111.20 627V667.6M130.48 627V667.6M149.76 627V667.6M169.04 627V667.6M188.32 627V667.6M207.60 627V667.6M226.88 627V667.6M246.16 627V667.6M265.44 627V667.6M284.72 627V667.6M304.00 627V667.6M323.28 627V667.6M342.56 627V667.6M361.84 627V667.6M381.12 627V667.6M400.40 627V667.6M419.68 627V667.6M438.96 627V667.6M458.24 627V667.6M477.52 627V667.6M496.80 627V667.6M516.08 627V667.6M535.36 627V667.6M554.64 627V667.6M573.92 627V667.6M593.20 627V667.6M612.48 627V667.6M631.76 627V667.6M651.04 627V667.6M670.32 627V667.6M689.60 627V667.6M708.88 627V667.6M728.16 627V667.6M111.2 627H728.16M111.2 667.6H728.16" stroke="#000" stroke-width="0.8" fill="none"/>
<text x="130.5" y="694.6" text-anchor="middle" font-size="20.5" font-family="'Liberation Sans', sans-serif">5</text>
<text x="226.9" y="694.6" text-anchor="middle" font-size="20.5" font-family="'Liberation Sans', sans-serif">10</text>
<text x="323.3" y="694.6" text-anchor="middle" font-size="20.5" font-family="'Liberation Sans', sans-serif">15</text>
<text x="419.7" y="694.6" text-anchor="middle" font-size="20.5" font-family="'Liberation Sans', sans-serif">20</text>
<text x="516.1" y="694.6" text-anchor="middle" font-size="20.5" font-family="'Liberation Sans', sans-serif">25</text>
<text x="612.5" y="694.6" text-anchor="middle" font-size="20.5" font-family="'Liberation Sans', sans-serif">30</text>
<text x="708.9" y="694.6" text-anchor="middle" font-size="20.5" font-family="'Liberation Sans', sans-serif">35</text>
<g id="noaa">
<defs><path id="noaaTop" d="M14.3 49.5 A27.6 27.6 0 1 1 66.3 49.5"/><path id="noaaBot" d="M10.4 47.2 A30.6 30.6 0 0 0 70.2 47.2"/>
<clipPath id="noaaClip"><circle cx="40.3" cy="40.2" r="25.7"/></clipPath></defs>
<g clip-path="url(#noaaClip)">
<rect x="10" y="10" width="60" height="60" fill="#2894EE"/>
<path d="M10 10H70V28.5 C62 31 56.5 38.5 50.5 43 C46.5 46 42.5 46 38.5 43.5 C30.5 38 25 28.5 10 27Z" fill="#15157F"/>
<path d="M14 27.2 C23 25.8 28.5 31 33.5 36.8 C37.5 41.2 41.5 44.6 46.5 43.6 C52.5 41.8 56.5 33.4 67.5 27.8 C60.5 33.4 56.5 42 51.5 45.4 C51 46 52 46.2 50.5 47 C45.5 49 38.5 49 33.5 50 C37.5 48 40.5 48 42.5 46.6 C37.5 46.2 32.5 43.2 28.5 38.6 C23.5 33.2 20 29 14 27.2Z" fill="#fff"/>
</g>
<text font-size="8.4" font-weight="bold" fill="#fff" x="40" y="33" text-anchor="middle" textLength="21" lengthAdjust="spacingAndGlyphs" font-family="'Liberation Sans', sans-serif">NOAA</text>
<text font-size="3.5" font-weight="bold" fill="#2a3a8a" font-family="'Liberation Sans', sans-serif"><textPath href="#noaaTop" startOffset="50%" text-anchor="middle" textLength="102" lengthAdjust="spacingAndGlyphs">NATIONAL OCEANIC AND ATMOSPHERIC ADMINISTRATION</textPath></text>
<text font-size="3.5" font-weight="bold" fill="#2a3a8a" font-family="'Liberation Sans', sans-serif"><textPath href="#noaaBot" startOffset="50%" text-anchor="middle" textLength="66" lengthAdjust="spacingAndGlyphs">U.S. DEPARTMENT OF COMMERCE</textPath></text>
<text x="63.5" y="17" font-size="3.2" fill="#4a6a5a" text-anchor="middle" font-family="'Liberation Sans', sans-serif">®</text>
</g>
<g id="nws">
<defs><path id="nwsArc" d="M744.2 62.6 A25.4 25.4 0 1 1 775.8 62.6"/><clipPath id="nwsClip"><circle cx="760" cy="40" r="18.6"/></clipPath></defs>
<g clip-path="url(#nwsClip)">
<rect x="740" y="20" width="40" height="40" fill="#46A6E2"/>
<path d="M760 40L748 20M760 40L753 20M760 40L758 20M760 40L763 20M760 40L768 20M760 40L773 20" stroke="#2A86CC" stroke-width="1.2" fill="none"/>
<path d="M740 46 H780 V52.5 Q772 50 766 52 T752 52.5 T740 51Z" fill="#fff"/>
</g>
<path d="M739.4 41.3 C739.6 38 741 36.3 743.8 33.1 C746 31.6 748.8 31.9 752.5 29.4 C756 28.4 760 28.4 762.5 30.6 C764.6 28.7 769.5 28.6 772.5 29.4 C776 31.3 778.5 33.6 780 35.6 C781.6 38 781.4 40.6 780.6 42.5 C779 44.6 777 45.2 775 46.3 C772.5 47.6 768 47.8 765 46.9 C763.5 49 760 50.2 756.3 50 C753 50 750.5 49.2 750 48.8 C747.5 48.6 744 47.4 741.3 45 C740 44 739.4 42.6 739.4 41.3Z" fill="#0C0C9E"/>
<path d="M745.2 24 L758 30.8 L755 32.4 L764.6 39.6 L761.8 41.2 L775.4 55.4 L757.4 44.4 L760.4 42.8 L750.8 35.6 L753.8 34Z" fill="#fff" stroke="#0C0C9E" stroke-width="0.45" stroke-linejoin="round"/>
<text font-size="6.9" font-weight="bold" fill="#E8281E" font-family="'Liberation Sans', sans-serif"><textPath href="#nwsArc" startOffset="50%" text-anchor="middle" textLength="121" lengthAdjust="spacing">NATIONAL WEATHER SERVICE</textPath></text>
<text x="760" y="67.2" font-size="5" fill="#E8281E" text-anchor="middle" font-family="'DejaVu Sans', sans-serif">★</text>
<circle cx="752.5" cy="64.7" r="0.9" fill="#2030A0"/><circle cx="767.5" cy="64.7" r="0.9" fill="#2030A0"/>
</g>
</svg>
</body></html>
